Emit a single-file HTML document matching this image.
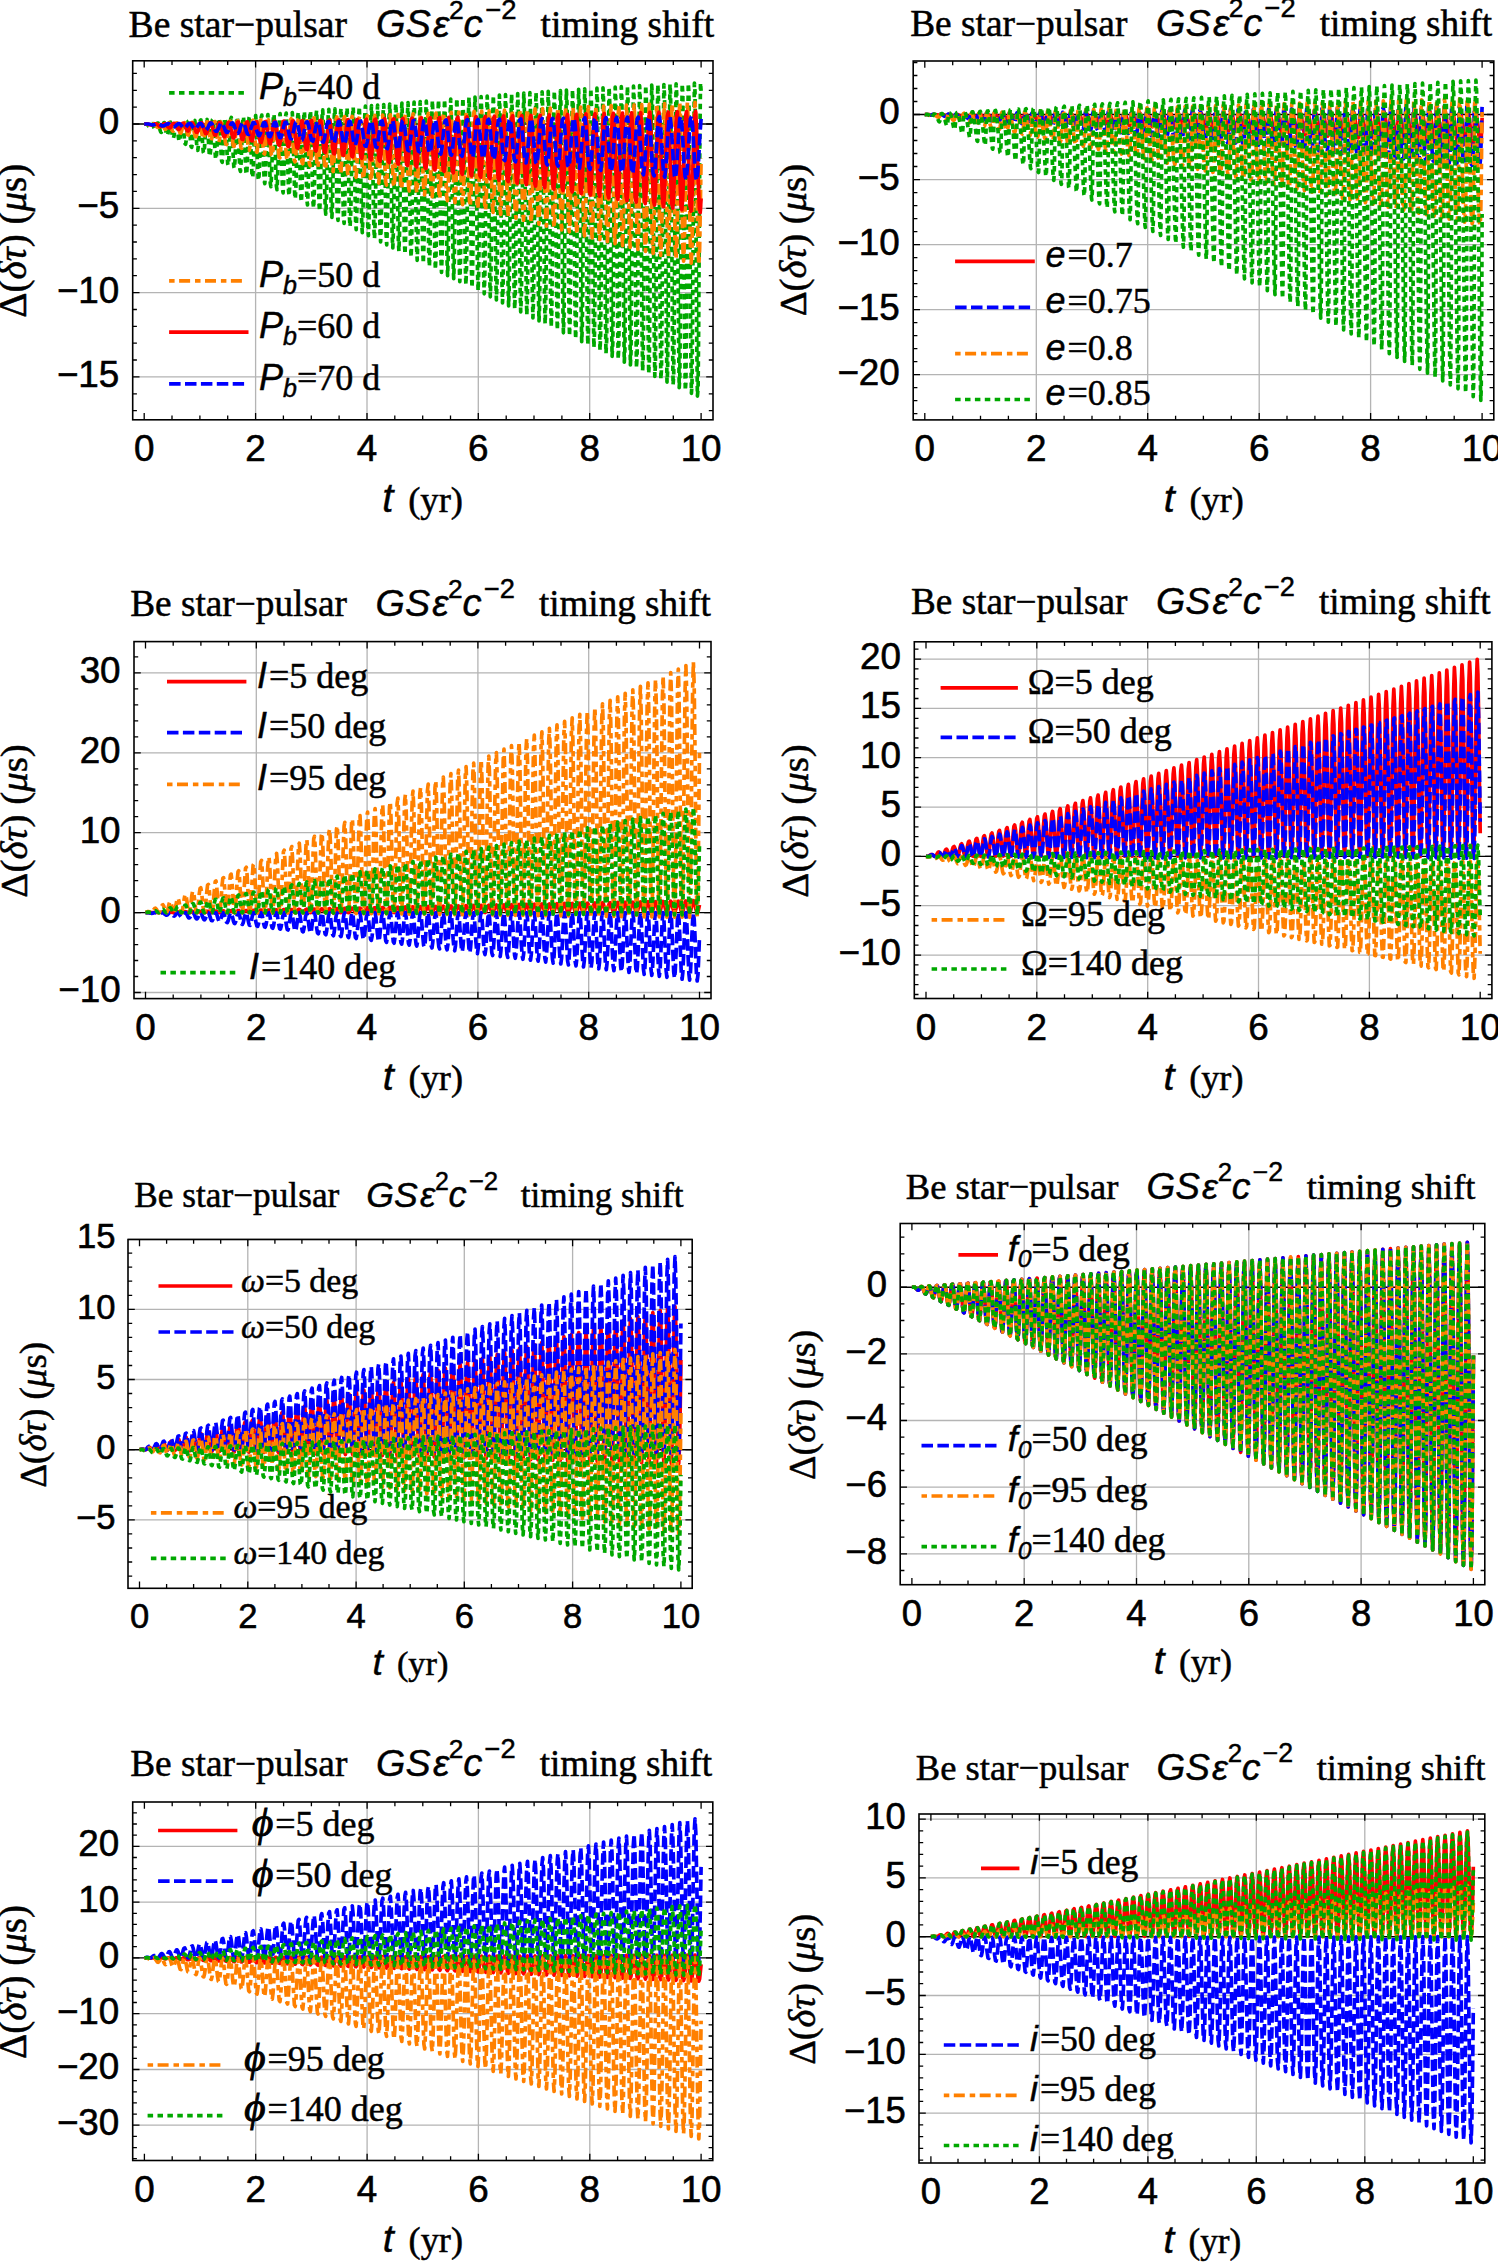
<!DOCTYPE html><html><head><meta charset="utf-8"><style>html,body{margin:0;padding:0;background:#fff;width:1498px;height:2262px;overflow:hidden;}svg{display:block;} svg text{stroke:#000;stroke-width:.6px;} [font-family*="Liberation Serif"]{stroke-width:.5px;} [font-family*="Liberation Sans"]{stroke-width:.45px;}</style></head><body>
<svg width="1498" height="2262" viewBox="0 0 1498 2262">
<rect width="1498" height="2262" fill="#fff"/>
<path d="M255.6 60.8V419.8M367.0 60.8V419.8M478.3 60.8V419.8M589.7 60.8V419.8M132.7 208.3H713.0M132.7 292.6H713.0M132.7 376.9H713.0" stroke="#b4b4b4" stroke-width="1.3" fill="none"/>
<path d="M132.7 124.0H713.0" stroke="#000" stroke-width="1.4" fill="none"/>
<path d="M144.2 124l.6 0 .6-.1 .6 0 .6 .2 .6 .5 .7 .8 .6 .7 .6 .3 .6-.3 .6-.8 .6-1 .6-.8 .6 0 .6 .8 .6 1.6 .6 1.8 .7 1.3 .6 .3 .6-.9 .6-1.8 .6-2.1 .6-1.4 .6-.1 .6 1.5 .6 2.6 .6 2.9 .7 2 .6 .3 .6-1.5 .6-2.9 .6-3.1 .6-2.1 .6-.1 .6 2.1 .6 3.6 .6 3.9 .6 2.7 .7 .4 .6-2.1 .6-3.9 .6-4.2 .6-2.8 .6-.1 .6 2.7 .6 4.6 .6 5 .6 3.3 .6 .5 .7-2.8 .6-4.9 .6-5.2 .6-3.4 .6-.3 .6 3.3 .6 5.7 .6 6 .6 4 .6 .6 .6-3.4 .7-5.9 .6-6.3 .6-4.1 .6-.3 .6 3.8 .6 6.7 .6 7.1 .6 4.8 .6 .6 .6-3.9 .7-7 .6-7.3 .6-4.9 .6-.4 .6 4.5 .6 7.6 .6 8.2 .6 5.5 .6 .7 .6-4.5 .6-7.9 .7-8.4 .6-5.6 .6-.5 .6 5 .6 8.6 .6 9.2 .6 6.3 .6 .8 .6-5 .6-9 .6-9.5 .7-6.3 .6-.6 .6 5.5 .6 9.7 .6 10.3 .6 6.9 .6 1 .6-5.6 .6-9.9 .6-10.6 .6-7 .7-.8 .6 6.1 .6 10.7 .6 11.3 .6 7.7 .6 1.1 .6-6.1 .6-10.9 .6-11.6 .6-7.9 .7-.8 .6 6.6 .6 11.6 .6 12.5 .6 8.4 .6 1.2 .6-6.6 .6-11.9 .6-12.7 .6-8.6 .6-1 .7 7.1 .6 12.6 .6 13.5 .6 9.3 .6 1.3 .6-7.1 .6-12.9 .6-13.7 .6-9.4 .6-1.2 .6 7.6 .7 13.6 .6 14.6 .6 10 .6 1.6 .6-7.6 .6-13.9 .6-14.9 .6-10.1 .6-1.4 .6 8.1 .6 14.6 .7 15.7 .6 10.8 .6 1.7 .6-8.1 .6-14.8 .6-16 .6-10.9 .6-1.6 .6 8.6 .6 15.6 .7 16.7 .6 11.6 .6 1.9 .6-8.5 .6-15.8 .6-17.1 .6-11.7 .6-1.7 .6 9 .6 16.5 .6 17.9 .7 12.3 .6 2.2 .6-9 .6-16.8 .6-18.1 .6-12.5 .6-2 .6 9.4 .6 17.5 .6 19 .6 13.1 .7 2.4 .6-9.4 .6-17.7 .6-19.3 .6-13.3 .6-2.2 .6 9.9 .6 18.4 .6 20 .6 14 .6 2.6 .7-9.8 .6-18.7 .6-20.3 .6-14.2 .6-2.4 .6 10.3 .6 19.4 .6 21.1 .6 14.8 .6 2.9 .7-10.3 .6-19.6 .6-21.4 .6-15 .6-2.7 .6 10.7 .6 20.3 .6 22.2 .6 15.7 .6 3.2 .6-10.8 .7-20.5 .6-22.5 .6-15.9 .6-3 .6 11.2 .6 21.3 .6 23.3 .6 16.5 .6 3.4 .6-11.1 .6-21.5 .7-23.6 .6-16.7 .6-3.3 .6 11.6 .6 22.2 .6 24.4 .6 17.4 .6 3.7 .6-11.5 .6-22.4 .6-24.7 .7-17.6 .6-3.6 .6 12 .6 23 .6 25.6 .6 18.2 .6 4 .6-11.9 .6-23.2 .6-25.9 .7-18.4 .6-3.9 .6 12.3 .6 24 .6 26.6 .6 19.2 .6 4.3 .6-12.3 .6-24.1 .6-27 .6-19.3 .7-4.2 .6 12.7 .6 24.9 .6 27.7 .6 20 .6 4.7 .6-12.6 .6-25.1 .6-28.1 .6-20.2 .6-4.5 .7 13 .6 25.8 .6 28.8 .6 20.9 .6 5 .6-12.9 .6-26 .6-29.1 .6-21.2 .6-4.9 .6 13.4 .7 26.7 .6 29.9 .6 21.8 .6 5.4 .6-13.3 .6-26.8 .6-30.3 .6-22 .6-5.3 .6 13.7 .7 27.6 .6 31 .6 22.7 .6 5.8 .6-13.6 .6-27.8 .6-31.3 .6-23 .6-5.6 .6 14 .6 28.4 .7 32.2 .6 23.6 .6 6.1 .6-13.9 .6-28.6 .6-32.4 .6-23.9 .6-6 .6 14.3 .6 29.3 .6 33.2 .7 24.6 .6 6.5 .6-14.2 .6-29.5 .6-33.5 .6-24.8 .6-6.5 .6 14.6 .6 30.2 .6 34.4 .6 25.5 .7 6.9 .6-14.5 .6-30.3 .6-34.7 .6-25.7 .6-6.9 .6 14.9 .6 31 .6 35.5 .6 26.4 .7 7.3 .6-14.7 .6-31.2 .6-35.8 .6-26.6 .6-7.3 .6 15.1 .6 31.9 .6 36.6 .6 27.4 .6 7.7 .7-15 .6-32 .6-36.9 .6-27.6 .6-7.7 .6 15.3 .6 32.7 .6 37.7 .6 28.4 .6 8.2 .6-15.2 .7-32.9 .6-38 .6-28.6 .6-8.2 .6 15.6 .6 33.6 .6 38.8 .6 29.3 .6 8.7 .6-15.5 .6-33.7 .7-39.1 .6-29.6 .6-8.6 .6 15.8 .6 34.4 .6 39.9 .6 30.3 .6 9.1 .6-15.6 .6-34.5 .7-40.3 .6-30.5 .6-9.1 .6 16 .6 35.2 .6 41 .6 31.3 .6 9.6 .6-15.9 .6-35.3 .6-41.3 .7-31.6 .6-9.5 .6 16.2 .6 36 .6 42.1 .6 32.3 .6 10.1 .6-16.1 .6-36.1 .6-42.5 .6-32.5 .7-10.1 .6 16.4 .6 36.8 .6 43.3 .6 33.3 .6 10.5 .6-16.2 .6-36.9 .6-43.6 .6-33.5 .6-10.6 .7 16.6 .6 37.5 .6 44.4 .6 34.3 .6 11.1 .6-16.4 .6-37.7 .6-44.7 .6-34.5 .6-11.1 .7 16.7 .6 38.4 .6 45.4 .6 35.3 .6 11.7 .6-16.6 .6-38.5 .6-45.7 .6-35.6 .6-11.6 .6 16.8 .7 39.2 .6 46.5 .6 36.4 .6 12.1 .6-16.6 .6-39.3 .6-46.9 .6-36.6 .6-12.2 .6 17 .6 39.9 .7 47.7 .6 37.4 .6 12.7 .6-16.8 .6-40 .6-48 .6-37.6 .6-12.8 .6 17.1 .6 40.7 .6 48.8 .7 38.4 .6 13.3 .6-16.9 .6-40.8 .6-49.1 .6-38.7 .6-13.3 .6 17.2 .6 41.4 .6 49.9 .7 39.5 .6 13.8 .6-17 .6-41.5 .6-50.2 .6-39.7 .6-13.9 .6 17.3 .6 42.2 .6 51 .6 40.4 .7 14.5 .6-17.1 .6-42.3 .6-51.3 .6-40.7 .6-14.5 .6 17.4 .6 42.9 .6 52.1 .6 41.5 .6 15.1 .7-17.2 .6-43 .6-52.4 .6-41.8 .6-15.1 .6 17.4 .6 43.6 .6 53.2 .6 42.6 .6 15.7 .6-17.2 .7-43.7 .6-53.5 .6-42.9 .6-15.7 .6 17.5 .6 44.3 .6 54.3 .6 43.6 .6 16.4 .6-17.3 .6-44.4 .7-54.6 .6-44 .6-16.3 .6 17.5 .6 45 .6 55.4 .6 44.7 .6 17 .6-17.3 .6-45.1 .7-55.7 .6-45 .6-17 .6 17.6 .6 45.6 .6 56.5 .6 45.8 .6 17.7 .6-17.4 .6-45.8 .6-56.8 .7-46.1 .6-17.6 .6 17.6 .6 46.3 .6 57.6 .6 46.9 .6 18.3 .6-17.4 .6-46.4 .6-57.9 .6-47.2 .7-18.3 .6 17.6 .6 47 .6 58.7 .6 48 .6 18.9 .6-17.3 .6-47.2 .6-58.9 .6-48.3 .6-19 .7 17.6 .6 47.7 .6 59.8 .6 49 .6 19.7 .6-17.4 .6-47.8 .6-60 .6-49.4 .6-19.7 .7 17.6 .6 48.3 .6 60.9 .6 50.2 .6 20.3 .6-17.3 .6-48.4 .6-61.2 .6-50.5 .6-20.4 .6 17.5 .7 49.1 .6 61.9 .6 51.3 .6 21 .6-17.2 .6-49.1 .6-62.2 .6-51.6 .6-21.2 .6 17.5 .6 49.7 .7 63 .6 52.4 .6 21.8 .6-17.2 .6-49.8 .6-63.3 .6-52.7 .6-21.9 .6 17.5 .6 50.3 .6 64 .7 53.6 .6 22.5 .6-17.2 .6-50.3 .6-64.4 .6-53.8 .6-22.6 .6 17.3 .6 50.9 .6 65.2 .7 54.6 .6 23.3 .6-17.1 .6-50.9 .6-65.5 .6-54.9 .6-23.4 .6 17.3 .6 51.5 .6 66.2 .6 55.8 .7 24 .6-17 .6-51.5 .6-66.5 .6-56.1 .6-24.2 .6 17.2 .6 52.1 .6 67.3 .6 56.9 .6 24.8 .7-16.8 .6-52.2 .6-67.6 .6-57.2 .6-24.9 .6 17 .6 52.7 .6 68.4 .6 58 .6 25.6 .6-16.7 .7-52.7 .6-68.7 .6-58.4 .6-25.7 .6 16.9 .6 53.3 .6 69.5 .6 59.1 .6 26.4 .6-16.6 .7-53.3 .6-69.7 .6-59.5 .6-26.5 .6 16.7 .6 53.9 .6 70.5 .6 60.3 .6 27.2 .6-16.4 .6-53.9 .7-70.8 .6-60.6 .6-27.4 .6 16.7 .6 54.3 .6 71.6 .6 61.5 .6 28 .6-16.3 .6-54.4 .6-71.8 .7-61.9 .6-28.1 .6 16.4 .6 55 .6 72.6 .6 62.7 .6 28.8 .6-16.1 .6-55 .6-72.9 .6-63 .7-28.9 .6 16.2 .6 55.5 .6 73.7 .6 63.8 .6 29.6 .6-15.9 .6-55.5 .6-73.9 .6-64.1 .7-29.9 .6 16.1 .6 56 .6 74.7 .6 65 .6 30.5 .6-15.7 .6-56 .6-75 .6-65.3 .6-30.7 .7 15.9 .6 56.5 .6 75.7 .6 66.2 .6 31.4 .6-15.5 .6-56.5 .6-76 .6-66.6 .6-31.5 .6 15.7 .7 57 .6 76.7 .6 67.4 .6 32.2 .6-15.3 .6-57 .6-77 .6-67.7 .6-32.4 .6 15.4 .6 57.5 .7 77.8 .6 68.6 .6 33.1 .6-15.1 .6-57.4 .6-78.1 .6-68.9 .6-33.3 .6 15.2 .6 57.9 .7 78.9 .6 69.7 .6 34 .6-14.8 .6-57.9 .6-79.1 .6-70.1 .6-34.2 .6 14.9 .6 58.5 .6 79.8 .7 70.9 .6 34.9 .6-14.5 .6-58.4 .6-80.1 .6-71.3 .6-35 .6 14.6 .6 58.9 .6 80.8 .6 72.1 .7 35.8 .6-14.2 .6-58.8 .6-81.2 .6-72.4 .6-36 .6 14.3 .6 59.3 .6 81.9 .6 73.3 .6 36.8 .7-13.9 .6-59.4 .6-82.1 .6-73.7 .6-36.9 .6 14 .6 59.8 .6 82.9 .6 74.5 .6 37.7 .7-13.6 .6-59.8 .6-83.1 .6-74.9 .6-37.8 .6 13.6 .6 60.3 .6 83.9 .6 75.7 .6 38.6 .6-13.3 .7-60.2 .6-84.1 .6-76.1 .6-38.8 .6 13.4 .6 60.6 .6 84.9 .6 76.9 .6 39.6 .6-13 .6-60.5 .7-85.2 .6-77.3 .6-39.7 .6 13 .6 61 .6 85.9 .6 78.1 .6 40.5 .6-12.5 .6-61 .6-86.2 .7-78.4 .6-40.8 .6 12.7 .6 61.4 .6 86.9 .6 79.3 .6 41.5 .6-12.2 .6-61.3 .6-87.2 .7-79.7 .6-41.7 .6 12.3 .6 61.8 .6 87.9 .6 80.5 .6 42.5 .6-11.9 .6-61.7 .6-88.1 .6-80.9 .7-42.7 .6 11.9 .6 62.1 .6 88.9 .6 81.8 .6 43.4 .6-11.4 .6-62.1 .6-89.1 .6-82.1 .6-43.7 .7 11.5 .6 62.5 .6 89.8 .6 83 .6 44.5 .6-11.1 .6-62.4 .6-90 .6-83.4 .6-44.7 .6 11.1 .7 62.8 .6 90.8 .6 84.2 .6 45.5 .6-10.6 .6-62.8 .6-91 .6-84.6 .6-45.7 .6 10.7 .7 63.1 .6 91.8 .6 85.4 .6 46.6 .6-10.2 .6-63.1 .6-92 .6-85.8 .6-46.8 .6 10.2 .6 63.5 .7 92.8 .6 86.6 .6 47.6 .6-9.8 .6-63.4 .6-92.9 .6-87 .6-47.9 .6 9.8 .6 63.8 .6 93.7 .7 87.9 .6 48.6 .6-9.3 .6-63.7 .6-93.9 .6-88.2 .6-48.9 .6 9.3 .6 64.1 .6 94.6 .6 89.1 .7 49.7 .6-8.8 .6-64 .6-94.8 .6-89.5 .6-50 .6 8.9 .6 64.4 .6 95.5 .6 90.4 .7 50.7 .6-8.3 .6-64.3 .6-95.8 .6-90.7 .6-51 .6 8.3 .6 64.7 .6 96.5 .6 91.6 .6 51.8 .7-7.9 .6-64.5 .6-96.7 .6-92 .6-52 .6 7.8" stroke="#00a800" stroke-width="3.7" fill="none" stroke-linejoin="round" stroke-dasharray="5.5 4.4"/>
<path d="M144.2 124l.8 0 .7 0 .8-.1 .7 .2 .8 .3 .8 .5 .7 .4 .8 .2 .8-.2 .7-.5 .8-.6 .7-.5 .8 0 .8 .5 .7 1 .8 1.2 .8 .8 .7 .2 .8-.6 .7-1.1 .8-1.3 .8-.9 .7-.1 .8 1 .7 1.6 .8 1.8 .8 1.3 .7 .2 .8-1 .8-1.8 .7-2 .8-1.3 .7 0 .8 1.3 .8 2.3 .7 2.5 .8 1.6 .7 .3 .8-1.4 .8-2.4 .7-2.7 .8-1.7 .8-.1 .7 1.7 .8 3 .7 3.1 .8 2.1 .8 .3 .7-1.8 .8-3.1 .8-3.3 .7-2.1 .8-.1 .7 2.1 .8 3.6 .8 3.7 .7 2.6 .8 .3 .7-2.2 .8-3.7 .8-4 .7-2.6 .8-.1 .8 2.5 .7 4.2 .8 4.5 .7 2.9 .8 .4 .8-2.5 .7-4.4 .8-4.7 .8-3 .7-.2 .8 2.9 .7 4.9 .8 5.1 .8 3.4 .7 .4 .8-2.9 .7-5 .8-5.3 .8-3.5 .7-.2 .8 3.2 .8 5.5 .7 5.8 .8 3.9 .7 .4 .8-3.3 .8-5.6 .7-6 .8-3.9 .8-.3 .7 3.6 .8 6.1 .7 6.5 .8 4.3 .8 .5 .7-3.6 .8-6.3 .7-6.7 .8-4.3 .8-.4 .7 4 .8 6.8 .8 7.1 .7 4.8 .8 .5 .7-4 .8-6.9 .8-7.3 .7-4.8 .8-.4 .7 4.2 .8 7.5 .8 7.8 .7 5.2 .8 .6 .8-4.3 .7-7.6 .8-8 .7-5.3 .8-.4 .8 4.6 .7 8.1 .8 8.5 .8 5.7 .7 .6 .8-4.6 .7-8.2 .8-8.7 .8-5.8 .7-.5 .8 5 .7 8.7 .8 9.1 .8 6.2 .7 .7 .8-4.9 .8-8.9 .7-9.3 .8-6.3 .7-.6 .8 5.3 .8 9.4 .7 9.8 .8 6.6 .8 .9 .7-5.4 .8-9.4 .7-10.1 .8-6.6 .8-.8 .7 5.7 .8 9.9 .7 10.6 .8 7.1 .8 .9 .7-5.7 .8-10.1 .8-10.7 .7-7.1 .8-.8 .7 5.9 .8 10.6 .8 11.2 .7 7.6 .8 1 .7-6 .8-10.7 .8-11.4 .7-7.6 .8-.9 .8 6.3 .7 11.2 .8 11.8 .7 8.1 .8 1.1 .8-6.3 .7-11.3 .8-12.1 .8-8.1 .7-1 .8 6.6 .7 11.8 .8 12.6 .8 8.5 .7 1.3 .8-6.7 .7-11.9 .8-12.8 .8-8.6 .7-1.1 .8 6.9 .8 12.4 .7 13.3 .8 9 .7 1.4 .8-6.9 .8-12.6 .7-13.4 .8-9.2 .8-1.2 .7 7.2 .8 13.1 .7 13.9 .8 9.5 .8 1.5 .7-7.2 .8-13.2 .7-14.1 .8-9.6 .8-1.4 .7 7.5 .8 13.7 .8 14.6 .7 10.1 .8 1.5 .7-7.5 .8-13.8 .8-14.8 .7-10.1 .8-1.5 .8 7.8 .7 14.3 .8 15.3 .7 10.6 .8 1.7 .8-7.8 .7-14.4 .8-15.5 .7-10.7 .8-1.6 .8 8.1 .7 14.9 .8 16 .8 11.1 .7 1.8 .8-8.1 .7-15 .8-16.2 .8-11.1 .7-1.8 .8 8.4 .7 15.5 .8 16.7 .8 11.5 .7 2.1 .8-8.4 .8-15.6 .7-16.9 .8-11.7 .7-1.9 .8 8.7 .8 16.1 .7 17.3 .8 12.1 .8 2.2 .7-8.7 .8-16.2 .7-17.5 .8-12.2 .8-2.1 .7 9 .8 16.6 .7 18.1 .8 12.6 .8 2.3 .7-8.9 .8-16.8 .8-18.3 .7-12.7 .8-2.2 .7 9.2 .8 17.3 .8 18.8 .7 13.1 .8 2.5 .8-9.2 .7-17.4 .8-19 .7-13.2 .8-2.4 .8 9.5 .7 17.8 .8 19.5 .7 13.7 .8 2.6 .8-9.4 .7-18 .8-19.7 .8-13.7 .7-2.6 .8 9.7 .7 18.5 .8 20.1 .8 14.3 .7 2.8 .8-9.8 .7-18.5 .8-20.4 .8-14.3 .7-2.7 .8 10 .8 19 .7 20.9 .8 14.7 .7 3 .8-10 .8-19.1 .7-21.1 .8-14.8 .8-2.9 .7 10.2 .8 19.6 .7 21.6 .8 15.3 .8 3.2 .7-10.3 .8-19.7 .7-21.7 .8-15.4 .8-3.1 .7 10.5 .8 20.1 .8 22.3 .7 15.8 .8 3.4 .7-10.5 .8-20.3 .8-22.4 .7-15.9 .8-3.3 .8 10.7 .7 20.8 .8 22.9 .7 16.4 .8 3.5 .8-10.6 .7-20.9 .8-23.2 .7-16.5 .8-3.5 .8 11 .7 21.3 .8 23.7 .8 16.9 .7 3.8 .8-10.9 .7-21.5 .8-23.8 .8-17.1 .7-3.7 .8 11.2 .8 21.9 .7 24.4 .8 17.5 .7 3.9 .8-11.1 .8-22 .7-24.5 .8-17.7 .7-3.9 .8 11.4 .8 22.5 .7 25 .8 18.1 .8 4.2 .7-11.4 .8-22.6 .7-25.2 .8-18.2 .8-4.1 .7 11.6 .8 23.1 .7 25.7 .8 18.6 .8 4.4 .7-11.5 .8-23.2 .8-25.9 .7-18.8 .8-4.3 .7 11.8 .8 23.6 .8 26.5 .7 19.2 .8 4.6 .8-11.8 .7-23.7 .8-26.6 .7-19.3 .8-4.6 .8 12 .7 24.2 .8 27.1 .7 19.8 .8 4.9 .8-12 .7-24.3 .8-27.3 .8-19.9 .7-4.8 .8 12.2 .7 24.7 .8 27.9 .8 20.3 .7 5.1 .8-12.2 .8-24.8 .7-28 .8-20.5 .7-5.1 .8 12.5 .8 25.2 .7 28.6 .8 20.9 .7 5.4 .8-12.4 .8-25.4 .7-28.7 .8-21.1 .8-5.3 .7 12.6 .8 25.9 .7 29.2 .8 21.5 .8 5.6 .7-12.5 .8-26 .8-29.4 .7-21.6 .8-5.6 .7 12.8 .8 26.4 .8 29.9 .7 22.1 .8 5.9 .7-12.8 .8-26.4 .8-30.1 .7-22.3 .8-5.8 .8 13 .7 26.9 .8 30.6 .7 22.7 .8 6.1 .8-12.9 .7-27 .8-30.8 .7-22.9 .8-6 .8 13.1 .7 27.5 .8 31.3 .8 23.3 .7 6.4 .8-13.1 .7-27.5 .8-31.6 .8-23.4 .7-6.3 .8 13.3 .8 27.9 .7 32.1 .8 23.9 .7 6.6 .8-13.2 .8-28.1 .7-32.2 .8-24.1 .7-6.6 .8 13.5 .8 28.5 .7 32.8 .8 24.5 .8 6.9 .7-13.4 .8-28.6 .7-32.9 .8-24.7 .8-6.9 .7 13.6 .8 29.1 .8 33.4 .7 25.2 .8 7.1 .7-13.5 .8-29.1 .8-33.7 .7-25.2 .8-7.2 .7 13.8 .8 29.5 .8 34.2 .7 25.7 .8 7.5 .8-13.7 .7-29.6 .8-34.4 .7-25.9 .8-7.4 .8 13.9 .7 30.1 .8 34.8 .7 26.4 .8 7.8 .8-13.9 .7-30.1 .8-35.1 .8-26.5 .7-7.7 .8 14 .7 30.6 .8 35.6 .8 26.9 .7 8.1 .8-13.9 .8-30.7 .7-35.8 .8-27.1 .7-8 .8 14.1 .8 31.1 .7 36.3 .8 27.6 .7 8.4 .8-14.1 .8-31.2 .7-36.5 .8-27.7 .8-8.4 .7 14.3 .8 31.7 .7 36.9 .8 28.2 .8 8.7 .7-14.2 .8-31.7 .8-37.1 .7-28.4 .8-8.7 .7 14.4 .8 32.2 .8 37.6 .7 28.9 .8 9 .7-14.3 .8-32.3 .8-37.8 .7-29 .8-9 .8 14.5 .7 32.7 .8 38.3 .7 29.5 .8 9.3 .8-14.4 .7-32.7 .8-38.6 .8-29.6 .7-9.3 .8 14.6 .7 33.2 .8 39 .8 30.1 .7 9.7 .8-14.5 .7-33.3 .8-39.2 .8-30.3 .7-9.6 .8 14.7 .8 33.6 .7 39.8 .8 30.8 .7 9.9 .8-14.6 .8-33.7 .7-40 .8-30.9 .7-9.9 .8 14.8 .8 34.1 .7 40.5 .8 31.4 .8 10.3 .7-14.7 .8-34.2 .7-40.7 .8-31.5 .8-10.4 .7 15 .8 34.6 .8 41.1 .7 32.1 .8 10.6 .7-14.8 .8-34.7 .8-41.3 .7-32.2 .8-10.7 .7 15 .8 35.1 .8 41.9 .7 32.7 .8 11 .8-14.9 .7-35.2 .8-42 .7-32.9 .8-11 .8 15.1 .7 35.6 .8 42.5 .8 33.4 .7 11.3 .8-14.9 .7-35.7 .8-42.7 .8-33.5 .7-11.4 .8 15.2 .7 36 .8 43.3 .8 34 .7 11.7 .8-15 .8-36.2 .7-43.4 .8-34.2 .7-11.7 .8 15.2 .8 36.5 .7 44 .8 34.6 .7 12.1 .8-15.1 .8-36.6 .7-44.1 .8-34.8 .8-12.1 .7 15.3 .8 37 .7 44.6 .8 35.3 .8 12.5 .7-15.2 .8-37 .8-44.9 .7-35.4 .8-12.5 .7 15.3 .8 37.5 .8 45.3 .7 36 .8 12.8 .7-15.2 .8-37.5 .8-45.5 .7-36.2 .8-12.8 .8 15.4 .7 37.9 .8 46 .7 36.7 .8 13.2 .8-15.3 .7-38 .8-46.2 .8-36.8 .7-13.3 .8 15.5 .7 38.4 .8 46.7 .8 37.3 .7 13.6 .8-15.3 .7-38.4 .8-46.9 .8-37.5 .7-13.7 .8 15.5 .8 38.9 .7 47.4 .8 38 .7 14 .8-15.4 .8-38.8 .7-47.7 .8-38.1 .8-14.1 .7 15.6 .8 39.2 .7 48.2 .8 38.6 .8 14.4 .7-15.3 .8-39.4 .7-48.3 .8-38.8 .8-14.5 .7 15.6 .8 39.7 .8 48.8 .7 39.3 .8 14.9 .7-15.4 .8-39.8 .8-49 .7-39.5 .8-14.9 .7 15.6 .8 40.2 .8 49.5 .7 40 .8 15.2 .8-15.4 .7-40.2 .8-49.7 .7-40.2 .8-15.3 .8 15.6 .7 40.6 .8 50.2 .8 40.7 .7 15.6 .8-15.4 .7-40.6 .8-50.4" stroke="#ff8000" stroke-width="3.7" fill="none" stroke-linejoin="round" stroke-dasharray="5.5 4.5 11 4.9"/>
<path d="M144.2 124l.9 0 .9 0 .9-.1 1 .2 .9 .2 .9 .4 .9 .3 .9 .1 .9-.1 .9-.4 1-.5 .9-.3 .9 0 .9 .4 .9 .7 .9 .9 .9 .6 1 .2 .9-.5 .9-.8 .9-1 .9-.7 .9 0 .9 .7 1 1.2 .9 1.4 .9 .9 .9 .2 .9-.7 .9-1.4 .9-1.5 1-1 .9 0 .9 1 .9 1.8 .9 1.8 .9 1.3 .9 .1 1-1 .9-1.9 .9-2 .9-1.2 .9-.1 .9 1.3 1 2.3 .9 2.3 .9 1.6 .9 .2 .9-1.4 .9-2.3 .9-2.5 1-1.6 .9-.1 .9 1.6 .9 2.8 .9 2.8 .9 1.9 .9 .2 1-1.6 .9-2.9 .9-3 .9-1.9 .9-.1 .9 1.9 .9 3.3 1 3.3 .9 2.2 .9 .2 .9-1.9 .9-3.3 .9-3.5 .9-2.3 1 0 .9 2.1 .9 3.7 .9 3.9 .9 2.5 .9 .3 .9-2.2 1-3.9 .9-4 .9-2.5 .9-.1 .9 2.4 .9 4.2 .9 4.4 1 2.9 .9 .2 .9-2.5 .9-4.3 .9-4.5 .9-2.9 .9-.1 1 2.7 .9 4.7 .9 4.9 .9 3.2 .9 .2 .9-2.7 .9-4.9 1-4.9 .9-3.3 .9-.1 .9 3 .9 5.2 .9 5.4 .9 3.5 1 .3 .9-3.1 .9-5.3 .9-5.5 .9-3.5 .9-.2 .9 3.3 1 5.7 .9 5.8 .9 3.9 .9 .3 .9-3.3 .9-5.8 .9-6 1-3.9 .9-.2 .9 3.6 .9 6.1 .9 6.4 .9 4.2 .9 .4 1-3.7 .9-6.2 .9-6.5 .9-4.3 .9-.2 .9 3.9 1 6.6 .9 6.9 .9 4.5 .9 .4 .9-3.9 .9-6.8 .9-7 1-4.5 .9-.3 .9 4.2 .9 7.1 .9 7.4 .9 4.8 .9 .4 1-4.1 .9-7.3 .9-7.5 .9-4.9 .9-.3 .9 4.4 .9 7.6 1 7.9 .9 5.2 .9 .5 .9-4.5 .9-7.7 .9-8 .9-5.2 1-.4 .9 4.7 .9 8.1 .9 8.4 .9 5.5 .9 .5 .9-4.7 1-8.2 .9-8.5 .9-5.6 .9-.4 .9 5 .9 8.5 .9 8.9 1 5.9 .9 .6 .9-5 .9-8.7 .9-9 .9-5.9 .9-.5 1 5.2 .9 9.1 .9 9.4 .9 6.2 .9 .6 .9-5.2 .9-9.2 1-9.5 .9-6.3 .9-.5 .9 5.5 .9 9.5 .9 9.9 .9 6.6 1 .7 .9-5.5 .9-9.7 .9-10 .9-6.6 .9-.6 .9 5.8 1 10 .9 10.4 .9 6.9 .9 .7 .9-5.8 .9-10.1 .9-10.5 1-7 .9-.6 .9 6 .9 10.5 .9 10.9 .9 7.3 1 .8 .9-6.1 .9-10.5 .9-11.1 .9-7.3 .9-.7 .9 6.3 1 10.9 .9 11.5 .9 7.6 .9 .8 .9-6.3 .9-11 .9-11.6 1-7.7 .9-.7 .9 6.5 .9 11.4 .9 12 .9 8 .9 .9 1-6.6 .9-11.5 .9-12.1 .9-8 .9-.8 .9 6.8 .9 11.9 1 12.4 .9 8.4 .9 .9 .9-6.8 .9-12 .9-12.6 .9-8.4 1-.8 .9 7 .9 12.4 .9 13 .9 8.7 .9 1 .9-7.1 1-12.4 .9-13.2 .9-8.7 .9-1 .9 7.3 .9 12.9 .9 13.5 1 9 .9 1.1 .9-7.3 .9-12.9 .9-13.6 .9-9.1 .9-1.1 1 7.6 .9 13.3 .9 14 .9 9.4 .9 1.2 .9-7.5 .9-13.5 1-14.1 .9-9.5 .9-1.1 .9 7.8 .9 13.8 .9 14.5 .9 9.8 1 1.3 .9-7.8 .9-13.9 .9-14.7 .9-9.8 .9-1.2 .9 8 1 14.3 .9 15 .9 10.2 .9 1.3 .9-8 .9-14.4 .9-15.1 1-10.3 .9-1.2 .9 8.3 .9 14.7 .9 15.6 .9 10.5 1 1.4 .9-8.3 .9-14.8 .9-15.7 .9-10.6 .9-1.3 .9 8.5 1 15.2 .9 16.1 .9 10.8 .9 1.5 .9-8.5 .9-15.2 .9-16.3 1-10.9 .9-1.4 .9 8.7 .9 15.6 .9 16.7 .9 11.2 .9 1.6 1-8.7 .9-15.8 .9-16.7 .9-11.3 .9-1.5 .9 8.9 .9 16.1 1 17.2 .9 11.6 .9 1.7 .9-9 .9-16.2 .9-17.3 .9-11.7 1-1.6 .9 9.2 .9 16.6 .9 17.7 .9 12 .9 1.7 .9-9.2 1-16.6 .9-17.8 .9-12.1 .9-1.7 .9 9.4 .9 17.1 .9 18.1 1 12.4 .9 1.9 .9-9.4 .9-17.2 .9-18.3 .9-12.4 .9-1.8 1 9.7 .9 17.4 .9 18.7 .9 12.8 .9 2 .9-9.7 .9-17.6 1-18.8 .9-12.8 .9-1.9 .9 9.9 .9 17.9 .9 19.2 .9 13.2 1 2 .9-9.8 .9-18.1 .9-19.3 .9-13.3 .9-1.9 .9 10.1 1 18.4 .9 19.7 .9 13.5 .9 2.2 .9-10.1 .9-18.5 .9-19.9 1-13.6 .9-2.1 .9 10.4 .9 18.8 .9 20.3 .9 13.9 1 2.2 .9-10.2 .9-19 .9-20.4 .9-14 .9-2.2 .9 10.6 1 19.3 .9 20.7 .9 14.3 .9 2.4 .9-10.5 .9-19.4 .9-20.9 1-14.4 .9-2.3 .9 10.7 .9 19.8 .9 21.3 .9 14.7 .9 2.5 1-10.7 .9-19.9 .9-21.4 .9-14.8 .9-2.4 .9 10.9 .9 20.2 1 21.9 .9 15.1 .9 2.6 .9-11 .9-20.3 .9-21.9 .9-15.2 1-2.5 .9 11.1 .9 20.7 .9 22.3 .9 15.5 .9 2.7 .9-11.1 1-20.8 .9-22.5 .9-15.5 .9-2.7 .9 11.4 .9 21.1 .9 22.9 1 15.9 .9 2.8 .9-11.4 .9-21.2 .9-23 .9-15.9 .9-2.8 1 11.6 .9 21.5 .9 23.4 .9 16.3 .9 3 .9-11.6 .9-21.6 1-23.6 .9-16.3 .9-2.9 .9 11.8 .9 22 .9 23.9 .9 16.7 1 3 .9-11.7 .9-22.1 .9-24.1 .9-16.7 .9-3 .9 11.9 1 22.5 .9 24.4 .9 17.1 .9 3.2 .9-11.9 .9-22.6 1-24.6 .9-17.1 .9-3.2 .9 12.2 .9 22.9 .9 25 .9 17.4 1 3.4 .9-12.2 .9-23 .9-25.1 .9-17.5 .9-3.3 .9 12.4 1 23.3 .9 25.5 .9 17.9 .9 3.4 .9-12.3 .9-23.4 .9-25.6 1-18 .9-3.4 .9 12.5 .9 23.8 .9 26 .9 18.3 .9 3.6 1-12.5 .9-23.9 .9-26.1 .9-18.4 .9-3.5 .9 12.7 .9 24.2 1 26.5 .9 18.8 .9 3.7 .9-12.7 .9-24.3 .9-26.7 .9-18.8 1-3.7 .9 12.9 .9 24.7 .9 27.1 .9 19.1 .9 3.9 .9-12.9 1-24.8 .9-27.2 .9-19.2 .9-3.8 .9 13.1 .9 25.1 .9 27.6 1 19.5 .9 4 .9-13 .9-25.2 .9-27.8 .9-19.6 .9-3.9 1 13.3 .9 25.5 .9 28.1 .9 20 .9 4.1 .9-13.2 .9-25.7 1-28.2 .9-20.1 .9-4.1 .9 13.5 .9 26 .9 28.6 .9 20.4 1 4.3 .9-13.4 .9-26.1 .9-28.8 .9-20.4 .9-4.3 .9 13.7 1 26.4 .9 29.1 .9 20.8 .9 4.5 .9-13.6 .9-26.5 1-29.3 .9-20.9 .9-4.4 .9 13.8 .9 26.8 .9 29.7 .9 21.2 1 4.6 .9-13.7 .9-27 .9-29.8 .9-21.3 .9-4.6 .9 14 1 27.3 .9 30.2 .9 21.7 .9 4.7 .9-13.9 .9-27.4 .9-30.3 1-21.8 .9-4.7 .9 14.2 .9 27.7 .9 30.7 .9 22.1 .9 4.9 1-14.1 .9-27.8 .9-30.9 .9-22.1 .9-4.9 .9 14.3 .9 28.1 1 31.3 .9 22.5 .9 5.1 .9-14.3" stroke="#ff0000" stroke-width="3.7" fill="none" stroke-linejoin="round"/>
<path d="M144.2 124l1.1 0 1 0 1.1 0 1.1 0 1 .2 1.1 .3 1.1 .2 1 .2 1.1-.1 1.1-.3 1-.4 1.1-.3 1.1 0 1 .3 1.1 .6 1.1 .6 1 .5 1.1 .1 1.1-.3 1-.7 1.1-.7 1.1-.5 1 0 1.1 .5 1.1 1 1 1 1.1 .7 1.1 .1 1-.6 1.1-1 1.1-1.1 1-.7 1.1 0 1.1 .7 1 1.3 1.1 1.4 1.1 .9 1 .2 1.1-.8 1.1-1.4 1-1.5 1.1-.9 1.1-.1 1 1 1.1 1.7 1.1 1.7 1 1.2 1.1 .1 1.1-1 1-1.7 1.1-1.9 1.1-1.2 1 0 1.1 1.2 1.1 2 1 2.2 1.1 1.4 1.1 .1 1-1.2 1.1-2.1 1.1-2.3 1-1.4 1.1 0 1.1 1.4 1 2.4 1.1 2.5 1.1 1.6 1 .2 1.1-1.5 1.1-2.4 1-2.6 1.1-1.7 1.1-.1 1 1.7 1.1 2.7 1.1 2.9 1 1.9 1.1 .2 1.1-1.7 1-2.8 1.1-3 1.1-1.9 1-.1 1.1 1.8 1.1 3.2 1 3.2 1.1 2.1 1.1 .2 1.1-1.8 1-3.3 1.1-3.3 1.1-2.2 1-.1 1.1 2.1 1.1 3.5 1 3.6 1.1 2.4 1.1 .2 1-2.1 1.1-3.6 1.1-3.7 1-2.4 1.1-.1 1.1 2.3 1 3.8 1.1 4 1.1 2.7 1 .2 1.1-2.3 1.1-4 1-4 1.1-2.7 1.1-.1 1 2.4 1.1 4.3 1.1 4.3 1 2.9 1.1 .3 1.1-2.5 1-4.3 1.1-4.5 1.1-2.9 1-.2 1.1 2.7 1.1 4.6 1 4.8 1.1 3.1 1.1 .2 1-2.7 1.1-4.6 1.1-4.9 1-3.1 1.1-.2 1.1 2.9 1 4.9 1.1 5.2 1.1 3.3 1 .3 1.1-2.9 1.1-5 1-5.3 1.1-3.3 1.1-.3 1 3.1 1.1 5.3 1.1 5.6 1 3.6 1.1 .3 1.1-3.1 1-5.4 1.1-5.6 1.1-3.7 1-.2 1.1 3.3 1.1 5.7 1 5.9 1.1 3.8 1.1 .4 1-3.3 1.1-5.8 1.1-6 1-3.9 1.1-.3 1.1 3.6 1 6 1.1 6.3 1.1 4.1 1 .4 1.1-3.6 1.1-6.1 1-6.3 1.1-4.2 1.1-.3 1 3.7 1.1 6.4 1.1 6.6 1 4.4 1.1 .4 1.1-3.7 1-6.4 1.1-6.8 1.1-4.4 1-.3 1.1 3.9 1.1 6.7 1 7 1.1 4.7 1.1 .4 1-3.9 1.1-6.8 1.1-7.1 1-4.7 1.1-.4 1.1 4.1 1 7.1 1.1 7.4 1.1 4.9 1 .5 1.1-4.1 1.1-7.2 1-7.5 1.1-4.9 1.1-.4 1 4.3 1.1 7.4 1.1 7.8 1 5.2 1.1 .5 1.1-4.3 1-7.5 1.1-7.9 1.1-5.2 1-.5 1.1 4.5 1.1 7.8 1 8.2 1.1 5.4 1.1 .6 1-4.5 1.1-7.9 1.1-8.3 1-5.4 1.1-.5 1.1 4.7 1 8.1 1.1 8.6 1.1 5.6 1 .7 1.1-4.7 1.1-8.3 1-8.6 1.1-5.7 1.1-.6 1 4.9 1.1 8.5 1.1 8.9 1 6 1.1 .7 1.1-4.9 1-8.6 1.1-9.1 1.1-5.9 1-.6 1.1 5 1.1 8.9 1 9.3 1.1 6.2 1.1 .7 1-5 1.1-9 1.1-9.4 1-6.2 1.1-.7 1.1 5.3 1 9.2 1.1 9.7 1.1 6.5 1 .7 1.1-5.2 1.1-9.3 1.1-9.8 1-6.5 1.1-.7 1.1 5.4 1 9.6 1.1 10.1 1.1 6.7 1 .8 1.1-5.4 1.1-9.7 1-10.2 1.1-6.7 1.1-.8 1 5.6 1.1 10 1.1 10.4 1 7 1.1 .9 1.1-5.6 1-10 1.1-10.6 1.1-7 1-.9 1.1 5.9 1.1 10.2 1 10.9 1.1 7.3 1.1 .9 1-5.8 1.1-10.4 1.1-10.9 1-7.3 1.1-.9 1.1 6 1 10.6 1.1 11.2 1.1 7.6 1 1 1.1-6 1.1-10.7 1-11.3 1.1-7.6 1.1-1 1 6.2 1.1 11 1.1 11.6 1 7.8 1.1 1.1 1.1-6.2 1-11 1.1-11.7 1.1-7.9 1-1 1.1 6.3 1.1 11.3 1 12 1.1 8.2 1.1 1.1 1-6.4 1.1-11.4 1.1-12.1 1-8.1 1.1-1.1 1.1 6.5 1 11.7 1.1 12.4 1.1 8.4 1 1.2 1.1-6.5 1.1-11.8 1-12.5 1.1-8.4 1.1-1.1 1 6.7 1.1 12 1.1 12.7 1 8.7 1.1 1.3 1.1-6.7 1-12.1 1.1-12.9 1.1-8.7 1-1.2 1.1 6.9 1.1 12.3 1 13.2 1.1 8.9 1.1 1.4 1-6.9 1.1-12.4 1.1-13.3 1-9 1.1-1.2 1.1 7 1 12.7 1.1 13.5 1.1 9.3 1 1.4 1.1-7.1 1.1-12.7 1-13.7 1.1-9.3 1.1-1.3 1 7.2 1.1 13 1.1 14 1 9.5 1.1 1.5 1.1-7.2 1-13.2 1.1-14 1.1-9.6 1-1.4 1.1 7.4 1.1 13.4 1 14.3 1.1 9.8 1.1 1.6 1-7.4 1.1-13.5 1.1-14.4 1-9.8 1.1-1.5 1.1 7.5 1 13.7 1.1 14.7 1.1 10.1 1 1.7 1.1-7.6 1.1-13.8 1-14.8 1.1-10.1 1.1-1.6 1 7.7 1.1 14.1 1.1 15.1 1 10.4 1.1 1.6 1.1-7.6 1-14.2 1.1-15.2 1.1-10.4 1-1.6 1.1 7.8 1.1 14.4 1 15.5 1.1 10.7 1.1 1.7 1-7.8 1.1-14.5 1.1-15.6 1-10.7 1.1-1.7 1.1 8 1 14.7 1.1 15.9 1.1 11 1 1.8 1.1-8 1.1-14.8 1-16 1.1-11 1.1-1.8 1 8.2 1.1 15.1 1.1 16.2 1 11.3 1.1 1.9 1.1-8.1 1-15.2 1.1-16.3 1.1-11.3 1-1.9 1.1 8.3 1.1 15.4 1.1 16.7 1 11.5 1.1 2 1.1-8.3 1-15.5 1.1-16.7 1.1-11.6 1-2 1.1 8.5 1.1 15.7 1 17.1 1.1 11.8 1.1 2.1 1-8.4 1.1-15.8 1.1-17.2 1-11.9 1.1-2.1 1.1 8.7 1 16.1 1.1 17.4 1.1 12.1 1 2.2 1.1-8.6 1.1-16.1 1-17.6 1.1-12.2 1.1-2.1 1 8.8 1.1 16.4 1.1 17.8 1 12.4 1.1 2.3 1.1-8.7 1-16.5 1.1-17.9 1.1-12.5 1-2.3 1.1 8.9 1.1 16.8 1 18.2 1.1 12.8 1.1 2.3 1-8.9 1.1-16.8 1.1-18.3 1-12.8 1.1-2.4 1.1 9.1 1 17.1 1.1 18.6 1.1 13.1 1 2.4 1.1-9 1.1-17.2 1-18.7 1.1-13.1 1.1-2.4 1 9.2 1.1 17.4 1.1 19 1 13.4 1.1 2.5 1.1-9.1 1-17.5 1.1-19.1 1.1-13.4 1-2.6 1.1 9.4 1.1 17.7 1 19.4 1.1 13.7 1.1 2.7 1-9.4 1.1-17.8 1.1-19.5 1-13.7 1.1-2.7 1.1 9.5 1 18.1 1.1 19.8 1.1 14 1 2.8 1.1-9.5 1.1-18.2 1-19.9 1.1-14" stroke="#0000ff" stroke-width="3.7" fill="none" stroke-linejoin="round" stroke-dasharray="11.5 4.4"/>
<path d="M144.2 419.8v-6.8M144.2 60.8v6.8M172.0 419.8v-4.2M172.0 60.8v4.2M199.9 419.8v-4.2M199.9 60.8v4.2M227.7 419.8v-4.2M227.7 60.8v4.2M255.6 419.8v-6.8M255.6 60.8v6.8M283.4 419.8v-4.2M283.4 60.8v4.2M311.3 419.8v-4.2M311.3 60.8v4.2M339.1 419.8v-4.2M339.1 60.8v4.2M367.0 419.8v-6.8M367.0 60.8v6.8M394.8 419.8v-4.2M394.8 60.8v4.2M422.7 419.8v-4.2M422.7 60.8v4.2M450.5 419.8v-4.2M450.5 60.8v4.2M478.3 419.8v-6.8M478.3 60.8v6.8M506.2 419.8v-4.2M506.2 60.8v4.2M534.0 419.8v-4.2M534.0 60.8v4.2M561.9 419.8v-4.2M561.9 60.8v4.2M589.7 419.8v-6.8M589.7 60.8v6.8M617.6 419.8v-4.2M617.6 60.8v4.2M645.4 419.8v-4.2M645.4 60.8v4.2M673.3 419.8v-4.2M673.3 60.8v4.2M701.1 419.8v-6.8M701.1 60.8v6.8M132.7 410.6h4.2M713.0 410.6h-4.2M132.7 393.8h4.2M713.0 393.8h-4.2M132.7 376.9h6.8M713.0 376.9h-6.8M132.7 360.0h4.2M713.0 360.0h-4.2M132.7 343.2h4.2M713.0 343.2h-4.2M132.7 326.3h4.2M713.0 326.3h-4.2M132.7 309.5h4.2M713.0 309.5h-4.2M132.7 292.6h6.8M713.0 292.6h-6.8M132.7 275.7h4.2M713.0 275.7h-4.2M132.7 258.9h4.2M713.0 258.9h-4.2M132.7 242.0h4.2M713.0 242.0h-4.2M132.7 225.2h4.2M713.0 225.2h-4.2M132.7 208.3h6.8M713.0 208.3h-6.8M132.7 191.4h4.2M713.0 191.4h-4.2M132.7 174.6h4.2M713.0 174.6h-4.2M132.7 157.7h4.2M713.0 157.7h-4.2M132.7 140.9h4.2M713.0 140.9h-4.2M132.7 124.0h6.8M713.0 124.0h-6.8M132.7 107.1h4.2M713.0 107.1h-4.2M132.7 90.3h4.2M713.0 90.3h-4.2M132.7 73.4h4.2M713.0 73.4h-4.2" stroke="#000" stroke-width="1.3" fill="none"/>
<rect x="132.7" y="60.8" width="580.3" height="359.0" stroke="#000" stroke-width="1.6" fill="none"/>
<g font-family='"Liberation Sans", sans-serif' font-size="36.80"><text x="119.3" y="133.9" text-anchor="end">0</text><text x="119.3" y="218.2" text-anchor="end">−5</text><text x="119.3" y="302.5" text-anchor="end">−10</text><text x="119.3" y="386.8" text-anchor="end">−15</text><text x="144.2" y="460.9" text-anchor="middle">0</text><text x="255.6" y="460.9" text-anchor="middle">2</text><text x="367.0" y="460.9" text-anchor="middle">4</text><text x="478.3" y="460.9" text-anchor="middle">6</text><text x="589.7" y="460.9" text-anchor="middle">8</text><text x="701.1" y="460.9" text-anchor="middle">10</text></g>
<path d="M169.1 92.9H244.1" stroke="#00a800" stroke-width="3.7" stroke-dasharray="5.5 4.4"/>
<text x="259.0" y="98.7" font-size="36.00"><tspan font-family='"Liberation Sans", sans-serif' font-style="italic">P</tspan><tspan font-family='"Liberation Sans", sans-serif' font-style="italic" font-size="25.00" dy="7.0">b</tspan><tspan dy="-7.0" font-family='"Liberation Serif", serif'>=40 d</tspan></text>
<path d="M169.1 280.8H242.1" stroke="#ff8000" stroke-width="3.7" stroke-dasharray="5.5 4.5 11 4.9"/>
<text x="259.0" y="286.6" font-size="36.00"><tspan font-family='"Liberation Sans", sans-serif' font-style="italic">P</tspan><tspan font-family='"Liberation Sans", sans-serif' font-style="italic" font-size="25.00" dy="7.0">b</tspan><tspan dy="-7.0" font-family='"Liberation Serif", serif'>=50 d</tspan></text>
<path d="M169.1 332.2H248.5" stroke="#ff0000" stroke-width="3.7"/>
<text x="259.0" y="338.0" font-size="36.00"><tspan font-family='"Liberation Sans", sans-serif' font-style="italic">P</tspan><tspan font-family='"Liberation Sans", sans-serif' font-style="italic" font-size="25.00" dy="7.0">b</tspan><tspan dy="-7.0" font-family='"Liberation Serif", serif'>=60 d</tspan></text>
<path d="M169.1 383.9H244.1" stroke="#0000ff" stroke-width="3.7" stroke-dasharray="11.5 4.4"/>
<text x="259.0" y="389.7" font-size="36.00"><tspan font-family='"Liberation Sans", sans-serif' font-style="italic">P</tspan><tspan font-family='"Liberation Sans", sans-serif' font-style="italic" font-size="25.00" dy="7.0">b</tspan><tspan dy="-7.0" font-family='"Liberation Serif", serif'>=70 d</tspan></text>
<text x="128.6" y="37.1" font-family='"Liberation Serif", serif' font-size="37.60">Be star−pulsar</text>
<text x="376.0" y="37.1" font-family='"Liberation Sans", sans-serif' font-style="italic" font-size="38.00">GS</text>
<text x="433.1" y="37.1" font-family='"Liberation Sans", sans-serif' font-style="italic" font-size="37.00">ε</text>
<text x="449.1" y="18.5" font-family='"Liberation Sans", sans-serif' font-size="26.50">2</text>
<text x="463.6" y="37.1" font-family='"Liberation Sans", sans-serif' font-style="italic" font-size="38.50">c</text>
<text x="485.1" y="18.5" font-family='"Liberation Sans", sans-serif' font-size="27.50">−2</text>
<text x="540.6" y="37.1" font-family='"Liberation Serif", serif' font-size="37.40">timing shift</text>
<text x="382.2" y="511.5" font-family='"Liberation Sans", sans-serif' font-style="italic" font-size="40.0">t</text><text x="408.2" y="511.5" font-family='"Liberation Serif", serif' font-size="36.6">(yr)</text>
<text transform="translate(25.5 240.7) rotate(-90)" text-anchor="middle" font-family='"Liberation Serif", serif' font-size="39.10">Δ(<tspan font-style="italic">δτ</tspan>) (<tspan font-style="italic">μ</tspan>s)</text>
<path d="M1036.3 61.0V419.9M1147.7 61.0V419.9M1259.2 61.0V419.9M1370.6 61.0V419.9M913.2 179.6H1493.8M913.2 244.6H1493.8M913.2 309.6H1493.8M913.2 374.7H1493.8" stroke="#b4b4b4" stroke-width="1.3" fill="none"/>
<path d="M913.2 114.5H1493.8" stroke="#000" stroke-width="1.4" fill="none"/>
<path d="M924.8 114.5l.3 0 .3 0 .4 0 .6 0 .6 0 .8 0 .8 .1 .8 .1 .8 .1 .6 0 .6 0 .4 0 .3 0 .3-.1 .3-.1 .3-.1 .5-.1 .5 0 .7 .1 .7 .1 .8 .2 .8 .1 .8 .2 .7 .1 .5 .1 .4-.1 .4-.2 .3-.1 .2-.2 .4-.2 .4-.1 .5 0 .7 .1 .7 .2 .9 .2 .8 .3 .7 .3 .7 .1 .5 .1 .5-.1 .3-.3 .3-.3 .3-.3 .3-.2 .4-.1 .6-.1 .6 .2 .8 .3 .8 .3 .8 .4 .7 .3 .7 .2 .6 .1 .4-.2 .3-.3 .3-.4 .3-.4 .3-.3 .4-.2 .6 0 .6 .2 .8 .3 .8 .5 .8 .5 .8 .4 .6 .2 .6 .1 .4-.2 .3-.4 .3-.5 .3-.5 .3-.4 .5-.2 .5-.1 .7 .3 .7 .4 .8 .6 .8 .5 .8 .5 .7 .3 .5 .1 .4-.3 .4-.4 .3-.6 .2-.6 .4-.5 .4-.3 .5 0 .7 .3 .7 .5 .8 .6 .8 .7 .8 .6 .7 .3 .5 .1 .5-.3 .3-.5 .3-.7 .3-.7 .3-.6 .4-.3 .6-.1 .6 .3 .8 .6 .8 .8 .8 .8 .7 .6 .7 .4 .6 .1 .4-.3 .3-.6 .3-.8 .3-.8 .3-.7 .4-.4 .6 0 .6 .3 .8 .7 .8 .8 .8 .9 .8 .8 .6 .4 .6 .1 .4-.4 .4-.6 .2-.9 .3-.9 .3-.8 .5-.4 .5-.1 .6 .4 .8 .8 .8 .9 .8 1 .8 .8 .6 .5 .6 .1 .4-.4 .4-.7 .3-1 .2-1 .4-.9 .4-.5 .5 0 .7 .4 .7 .8 .8 1.1 .8 1.1 .8 .9 .7 .5 .5 .1 .5-.4 .3-.8 .3-1.1 .3-1.1 .3-1 .4-.5 .5-.1 .7 .5 .7 .9 .8 1.1 .9 1.2 .7 1 .7 .6 .6 .1 .4-.4 .3-.9 .3-1.2 .3-1.2 .3-1 .4-.6 .6-.1 .6 .5 .8 .9 .8 1.3 .8 1.3 .7 1.1 .7 .6 .6 .1 .4-.5 .4-.9 .2-1.3 .3-1.3 .3-1.1 .5-.7 .5-.1 .6 .6 .8 1 .8 1.3 .8 1.4 .8 1.2 .6 .7 .6 .1 .4-.5 .4-1 .3-1.4 .2-1.4 .4-1.2 .4-.7 .5-.1 .7 .5 .7 1.1 .8 1.5 .8 1.5 .8 1.2 .7 .8 .5 .1 .5-.5 .3-1.1 .3-1.5 .3-1.5 .3-1.3 .4-.8 .5-.1 .7 .6 .7 1.2 .8 1.5 .8 1.6 .8 1.4 .7 .8 .5 .1 .5-.5 .3-1.2 .3-1.6 .3-1.6 .3-1.4 .4-.8 .6-.1 .6 .6 .8 1.2 .8 1.7 .8 1.7 .7 1.4 .7 .9 .6 .2 .4-.7 .4-1.2 .3-1.7 .2-1.7 .4-1.5 .4-.8 .5-.2 .6 .7 .8 1.3 .8 1.7 .8 1.8 .8 1.6 .6 .9 .6 .2 .4-.7 .4-1.3 .3-1.8 .3-1.8 .3-1.5 .4-1 .5-.1 .7 .7 .7 1.3 .8 1.9 .8 1.9 .8 1.6 .7 1 .5 .2 .5-.7 .3-1.4 .3-1.9 .3-1.9 .3-1.6 .4-1 .5-.2 .7 .7 .7 1.5 .8 1.9 .8 2 .8 1.7 .7 1.1 .5 .2 .5-.7 .3-1.5 .3-2 .3-2 .3-1.7 .4-1.1 .6-.1 .6 .7 .7 1.5 .8 2 .9 2.2 .7 1.8 .7 1.1 .6 .2 .4-.7 .4-1.6 .3-2 .2-2.2 .4-1.8 .4-1.1 .5-.2 .6 .8 .8 1.6 .8 2.1 .8 2.2 .7 1.9 .7 1.2 .6 .2 .4-.8 .4-1.6 .3-2.1 .3-2.3 .3-1.9 .4-1.1 .5-.2 .6 .8 .8 1.6 .8 2.2 .8 2.3 .8 2 .6 1.3 .6 .2 .5-.8 .3-1.7 .3-2.2 .3-2.3 .3-2 .4-1.3 .5-.2 .7 .8 .7 1.8 .8 2.3 .8 2.4 .8 2.1 .7 1.3 .5 .2 .5-.8 .3-1.7 .3-2.4 .3-2.4 .3-2.1 .4-1.3 .6-.2 .6 .8 .7 1.8 .8 2.4 .8 2.5 .8 2.2 .7 1.3 .6 .3 .4-.8 .4-1.8 .3-2.5 .2-2.5 .4-2.2 .4-1.3 .5-.3 .6 .9 .7 1.8 .8 2.5 .9 2.7 .7 2.2 .7 1.4 .6 .3 .4-.8 .4-1.9 .3-2.5 .3-2.7 .3-2.2 .4-1.5 .5-.3 .6 .9 .8 2 .8 2.5 .8 2.8 .8 2.3 .6 1.5 .6 .4 .5-.9 .3-2 .3-2.6 .3-2.8 .3-2.3 .4-1.5 .5-.3 .7 .9 .7 2 .8 2.7 .8 2.8 .8 2.5 .7 1.5 .5 .4 .5-1 .4-2 .2-2.7 .3-2.8 .3-2.5 .4-1.5 .5-.4 .7 1 .7 2 .8 2.8 .8 2.9 .8 2.6 .7 1.6 .6 .4 .4-1 .4-2 .3-2.8 .2-3 .4-2.5 .4-1.7 .5-.3 .6 .9 .7 2.2 .8 2.8 .8 3.1 .8 2.6 .7 1.7 .6 .4 .4-1 .4-2.1 .3-2.9 .3-3.1 .3-2.6 .4-1.7 .5-.4 .6 1 .8 2.2 .8 2.9 .8 3.2 .7 2.7 .7 1.8 .6 .4 .5-1 .3-2.2 .3-3 .3-3.1 .3-2.8 .4-1.7 .5-.4 .6 1 .8 2.2 .8 3.1 .8 3.2 .8 2.8 .7 1.9 .5 .4 .5-1 .4-2.3 .2-3 .3-3.3 .3-2.8 .4-1.8 .5-.5 .7 1 .7 2.3 .8 3.2 .8 3.3 .8 2.9 .7 1.9 .6 .5 .4-1 .4-2.3 .3-3.2 .2-3.4 .4-2.9 .4-1.9 .5-.4 .6 1 .7 2.4 .8 3.2 .8 3.5 .8 3 .7 1.9 .6 .5 .4-1 .4-2.4 .3-3.2 .3-3.5 .3-3 .4-2 .5-.5 .6 1.1 .7 2.4 .8 3.3 .9 3.6 .7 3.1 .7 2 .6 .5 .5-1 .3-2.5 .3-3.3 .3-3.6 .3-3.1 .4-2 .5-.6 .6 1.1 .8 2.5 .8 3.4 .8 3.7 .8 3.2 .7 2.1 .5 .6 .5-1.1 .4-2.5 .3-3.5 .2-3.6 .3-3.3 .4-2.1 .5-.5 .7 1.1 .7 2.5 .8 3.5 .8 3.8 .8 3.3 .7 2.2 .6 .6 .4-1.1 .4-2.6 .3-3.5 .3-3.8 .3-3.3 .4-2.2 .5-.6 .6 1.1 .7 2.6 .8 3.6 .8 3.9 .8 3.4 .7 2.2 .6 .7 .5-1.1 .3-2.6 .3-3.7 .3-3.9 .3-3.4 .4-2.2 .5-.6 .6 1.1 .7 2.7 .8 3.6 .8 4 .8 3.5 .7 2.3 .6 .7 .5-1.1 .3-2.7 .3-3.7 .3-4 .3-3.5 .4-2.3 .5-.7 .6 1.2 .8 2.7 .7 3.7 .9 4.1 .7 3.6 .7 2.4 .6 .7 .5-1.1 .4-2.8 .3-3.8 .2-4.1 .3-3.6 .4-2.3 .5-.7 .7 1.1 .7 2.8 .8 3.8 .8 4.2 .8 3.7 .7 2.5 .6 .7 .4-1.1 .4-2.8 .3-3.9 .3-4.2 .3-3.7 .4-2.5 .5-.7 .6 1.2 .7 2.8 .8 3.9 .8 4.3 .8 3.8 .7 2.6 .6 .7 .5-1.1 .3-2.9 .3-3.9 .3-4.4 .3-3.8 .4-2.5 .5-.7 .6 1.1 .7 2.9 .8 4 .8 4.4 .8 3.9 .7 2.6 .6 .8 .5-1.1 .3-2.9 .3-4.1 .3-4.4 .3-3.9 .4-2.6 .5-.8 .6 1.2 .7 2.9 .8 4.1 .8 4.5 .8 4 .7 2.7 .6 .8 .5-1.1 .4-3 .3-4.1 .2-4.5 .3-4 .4-2.7 .5-.9 .6 1.2 .8 3 .8 4.2 .8 4.6 .8 4.1 .7 2.8 .6 .9 .4-1.2 .4-3 .3-4.3 .3-4.6 .3-4.1 .4-2.7 .5-.9 .6 1.2 .7 3 .8 4.3 .8 4.7 .8 4.2 .7 2.9 .6 .9 .5-1.2 .3-3.1 .3-4.3 .3-4.7 .3-4.2 .4-2.9 .5-.9 .6 1.2 .7 3.1 .8 4.4 .8 4.8 .8 4.3 .7 2.9 .6 1 .5-1.2 .3-3.1 .3-4.4 .3-4.9 .3-4.3 .4-2.9 .5-.9 .6 1.2 .7 3.1 .8 4.5 .8 4.9 .8 4.4 .7 3 .6 1 .5-1.2 .4-3.2 .3-4.5 .2-4.9 .4-4.4 .3-3 .5-1 .6 1.2 .8 3.2 .7 4.6 .9 5 .7 4.5 .7 3.1 .6 1 .5-1.2 .4-3.2 .3-4.6 .3-5 .3-4.5 .4-3.1 .4-1 .7 1.2 .7 3.2 .8 4.7 .8 5.1 .8 4.6 .7 3.1 .6 1.1 .5-1.2 .3-3.3 .3-4.6 .3-5.2 .3-4.6 .4-3.1 .5-1.1 .6 1.3 .7 3.2 .8 4.8 .8 5.2 .8 4.7 .7 3.2 .6 1.1 .5-1.2 .4-3.3 .3-4.7 .2-5.3 .3-4.7 .4-3.2 .5-1.1 .6 1.2 .7 3.3 .8 4.8 .8 5.4 .8 4.8 .7 3.3 .6 1.1 .5-1.2 .4-3.3 .3-4.9 .3-5.3 .3-4.8 .3-3.3 .5-1.2 .6 1.2 .7 3.4 .8 4.9 .8 5.5 .8 4.8 .7 3.4 .6 1.2 .5-1.2 .4-3.4 .3-4.9 .3-5.4 .3-5 .4-3.3 .4-1.2 .6 1.2 .8 3.4 .7 5 .9 5.5 .8 5 .7 3.5 .6 1.2 .5-1.2 .3-3.4 .3-5 .3-5.6 .3-5 .4-3.5 .5-1.2 .6 1.2 .7 3.5 .8 5.1 .8 5.6 .8 5.1 .7 3.6 .6 1.3 .5-1.3 .4-3.5 .3-5 .2-5.7 .3-5.1 .4-3.6 .5-1.2 .6 1.2 .7 3.5 .8 5.2 .8 5.7 .8 5.2 .7 3.6 .6 1.4 .5-1.2 .4-3.6 .3-5.2 .3-5.7 .3-5.2 .3-3.7 .5-1.3 .6 1.2 .7 3.6 .8 5.2 .8 5.9 .8 5.3 .7 3.7 .6 1.4 .5-1.2 .4-3.6 .3-5.3 .3-5.8 .3-5.4 .4-3.7 .4-1.4 .6 1.3 .7 3.6 .8 5.3 .8 5.9 .8 5.4 .8 3.8 .6 1.5 .5-1.2 .3-3.7 .3-5.3 .3-5.9 .3-5.5 .4-3.8 .5-1.4 .6 1.2 .7 3.7 .8 5.4 .8 6 .8 5.5 .7 3.9 .6 1.5 .5-1.2 .4-3.7 .3-5.4 .2-6.1 .3-5.5 .4-3.9 .5-1.5 .6 1.3 .7 3.7 .8 5.4 .8 6.2 .8 5.6 .7 4 .6 1.5 .5-1.2 .4-3.7 .3-5.5 .3-6.2 .3-5.6 .3-4 .5-1.5 .6 1.2 .7 3.8 .8 5.5 .8 6.2 .8 5.8 .7 4 .6 1.6 .5-1.2 .4-3.7 .3-5.6 .3-6.3 .3-5.7 .4-4.1 .4-1.6 .6 1.3 .7 3.7 .8 5.7 .8 6.3 .8 5.8 .7 4.2 .7 1.6 .5-1.2 .3-3.8 .3-5.6 .3-6.4 .3-5.8 .4-4.2 .5-1.6 .6 1.2 .7 3.8 .7 5.7 .9 6.5 .7 5.9 .8 4.2 .6 1.7 .5-1.2 .4-3.8 .3-5.7 .2-6.5 .3-5.9 .4-4.3 .5-1.7 .6 1.2 .7 3.9 .8 5.8 .8 6.5 .8 6.1 .7 4.3 .6 1.7 .5-1.1 .4-3.9 .3-5.8 .3-6.6 .3-6.1 .3-4.3 .5-1.7 .6 1.2 .7 3.9 .8 5.8 .8 6.7 .8 6.1 .7 4.4 .6 1.8 .5-1.1 .4-3.9 .3-5.9 .3-6.7 .3-6.2 .4-4.4 .4-1.8 .6 1.2 .7 4 .8 5.9 .8 6.8 .8 6.2 .7 4.5 .7 1.8 .5-1.1 .3-4 .3-5.9 .3-6.8 .3-6.3 .4-4.5 .5-1.8 .5 1.2 .7 3.9 .8 6.1 .8 6.8 .8 6.4 .8 4.5 .6 2 .5-1.2 .4-4 .3-6 .2-6.9 .3-6.4 .4-4.6 .5-1.9 .6 1.2 .7 4 .8 6.1 .8 7 .8 6.4 .7 4.7 .6 2 .5-1.2 .4-4 .3-6.1 .3-7 .3-6.5 .3-4.7 .5-1.9 .6 1.1 .7 4.1 .8 6.2 .8 7 .8 6.6 .7 4.7 .6 2.1 .5-1.2 .4-4 .3-6.2 .3-7.1 .3-6.6 .4-4.7 .4-2.1 .6 1.2 .7 4.1 .8 6.2 .8 7.2 .8 6.6 .7 4.9 .7 2.1 .5-1.2 .3-4 .4-6.3 .2-7.2 .3-6.7 .4-4.8 .5-2.1 .5 1.1 .7 4.1 .8 6.4 .8 7.2 .8 6.8 .8 4.9 .6 2.2 .5-1.1 .4-4.2 .3-6.3 .3-7.3 .2-6.8 .4-4.9 .5-2.2 .6 1.2 .7 4.1 .7 6.4 .9 7.4 .7 6.8 .8 5.1 .6 2.2 .5-1.1 .4-4.2 .3-6.4 .3-7.4 .3-6.9 .3-5 .5-2.2 .6 1.1 .7 4.2 .8 6.4 .8 7.5 .8 7 .7 5.1 .6 2.3 .5-1.1 .4-4.2 .3-6.5 .3-7.5 .3-7" stroke="#ff0000" stroke-width="3.7" fill="none" stroke-linejoin="round"/>
<path d="M924.8 114.5l.3 0 .3 0 .4 0 .6 0 .6 .1 .8 .1 .8 .1 .8 .1 .8 .1 .6 0 .6 0 .4-.1 .3-.2 .3-.2 .3-.1 .3 0 .5 0 .5 .1 .7 .3 .7 .2 .8 .3 .8 .3 .8 .1 .7 0 .5-.2 .4-.2 .4-.4 .3-.3 .2-.3 .4-.1 .4 .1 .5 .3 .7 .3 .7 .5 .9 .5 .8 .3 .7 .2 .7 0 .5-.3 .5-.5 .3-.5 .3-.5 .3-.3 .3-.2 .4 .1 .6 .4 .6 .5 .8 .7 .8 .6 .8 .5 .7 .2 .7 0 .6-.4 .4-.7 .3-.7 .3-.6 .3-.5 .3-.2 .4 .1 .6 .5 .6 .7 .8 .9 .8 .8 .8 .6 .8 .2 .6-.1 .6-.5 .4-.8 .3-.9 .3-.8 .3-.6 .3-.2 .5 .2 .5 .5 .7 .9 .7 1 .8 1 .8 .7 .8 .4 .7-.2 .5-.6 .4-.9 .4-1.1 .3-1 .2-.8 .4-.3 .4 .3 .5 .6 .7 1.1 .7 1.2 .8 1.1 .8 .9 .8 .4 .7-.2 .5-.7 .5-1.1 .3-1.3 .3-1.2 .3-.8 .3-.4 .4 .3 .6 .8 .6 1.2 .8 1.4 .8 1.3 .8 .9 .7 .5 .7-.2 .6-.9 .4-1.2 .3-1.5 .3-1.3 .3-1 .3-.4 .4 .3 .6 .9 .6 1.3 .8 1.6 .8 1.5 .8 1.1 .8 .5 .6-.2 .6-1 .4-1.4 .4-1.7 .2-1.5 .3-1.1 .3-.4 .5 .3 .5 1 .6 1.5 .8 1.8 .8 1.6 .8 1.3 .8 .5 .6-.3 .6-1 .4-1.6 .4-1.8 .3-1.7 .2-1.3 .4-.5 .4 .4 .5 1.1 .7 1.7 .7 1.9 .8 1.9 .8 1.3 .8 .6 .7-.3 .5-1.1 .5-1.8 .3-2 .3-1.9 .3-1.3 .3-.6 .4 .4 .5 1.2 .7 1.8 .7 2.2 .8 2 .9 1.5 .7 .6 .7-.3 .6-1.2 .4-1.9 .3-2.2 .3-2.1 .3-1.5 .3-.6 .4 .4 .6 1.3 .6 2 .8 2.3 .8 2.2 .8 1.6 .7 .7 .7-.3 .6-1.3 .4-2.1 .4-2.4 .2-2.2 .3-1.6 .3-.7 .5 .4 .5 1.4 .6 2.2 .8 2.5 .8 2.3 .8 1.8 .8 .7 .6-.3 .6-1.4 .4-2.3 .4-2.6 .3-2.4 .2-1.7 .4-.7 .4 .4 .5 1.5 .7 2.3 .7 2.7 .8 2.5 .8 1.9 .8 .9 .7-.4 .5-1.6 .5-2.3 .3-2.8 .3-2.6 .3-1.9 .3-.8 .4 .5 .5 1.6 .7 2.5 .7 2.8 .8 2.7 .8 2.1 .8 .9 .7-.4 .5-1.7 .5-2.5 .3-2.9 .3-2.8 .3-2 .3-.9 .4 .5 .6 1.7 .6 2.6 .8 3.1 .8 2.9 .8 2.1 .7 1 .7-.4 .6-1.8 .4-2.7 .4-3.1 .3-2.9 .2-2.2 .4-.9 .4 .5 .5 1.8 .6 2.7 .8 3.3 .8 3.1 .8 2.2 .8 1.1 .6-.4 .6-1.9 .4-2.8 .4-3.3 .3-3.1 .3-2.3 .3-1 .4 .5 .5 1.8 .7 3 .7 3.4 .8 3.3 .8 2.4 .8 1.1 .7-.5 .5-1.9 .5-3 .3-3.5 .3-3.3 .3-2.4 .3-1.1 .4 .5 .5 2 .7 3.1 .7 3.6 .8 3.5 .8 2.5 .8 1.2 .7-.5 .5-2 .5-3.1 .3-3.7 .3-3.5 .3-2.5 .3-1.2 .4 .5 .6 2.1 .6 3.3 .7 3.8 .8 3.6 .9 2.7 .7 1.2 .7-.5 .6-2 .4-3.4 .4-3.8 .3-3.7 .2-2.7 .4-1.2 .4 .5 .5 2.2 .6 3.4 .8 4 .8 3.7 .8 2.9 .7 1.3 .7-.5 .6-2.1 .4-3.5 .4-4 .3-3.9 .3-2.8 .3-1.3 .4 .5 .5 2.3 .6 3.5 .8 4.2 .8 3.9 .8 3 .8 1.4 .6-.5 .6-2.2 .5-3.6 .3-4.3 .3-4 .3-3 .3-1.3 .4 .5 .5 2.3 .7 3.7 .7 4.4 .8 4.1 .8 3.1 .8 1.5 .7-.5 .5-2.3 .5-3.8 .3-4.4 .3-4.2 .3-3.1 .3-1.4 .4 .5 .6 2.4 .6 3.9 .7 4.5 .8 4.3 .8 3.3 .8 1.5 .7-.5 .6-2.4 .4-3.9 .4-4.6 .3-4.4 .2-3.2 .4-1.6 .4 .6 .5 2.5 .6 4 .7 4.7 .8 4.5 .9 3.4 .7 1.6 .7-.5 .6-2.5 .4-4 .4-4.8 .3-4.6 .3-3.4 .3-1.6 .4 .6 .5 2.6 .6 4.1 .8 4.9 .8 4.7 .8 3.5 .8 1.7 .6-.5 .6-2.6 .5-4.2 .3-4.9 .3-4.8 .3-3.5 .3-1.7 .4 .5 .5 2.7 .7 4.3 .7 5.1 .8 4.8 .8 3.7 .8 1.8 .7-.4 .5-2.7 .5-4.4 .4-5.1 .2-4.9 .3-3.8 .3-1.7 .4 .5 .5 2.8 .7 4.4 .7 5.3 .8 5 .8 3.9 .8 1.8 .7-.4 .6-2.8 .4-4.5 .4-5.3 .3-5.1 .2-3.9 .4-1.8 .4 .5 .5 2.8 .6 4.6 .7 5.5 .8 5.2 .8 4 .8 1.9 .7-.4 .6-2.9 .4-4.6 .4-5.5 .3-5.3 .3-4 .3-1.9 .4 .5 .5 2.9 .6 4.7 .8 5.6 .8 5.5 .8 4.1 .7 2 .7-.4 .6-2.9 .5-4.8 .3-5.7 .3-5.5 .3-4.1 .3-2.1 .4 .6 .5 3 .6 4.8 .8 5.8 .8 5.6 .8 4.3 .8 2.1 .7-.4 .5-3 .5-4.9 .4-5.9 .2-5.7 .3-4.3 .3-2.1 .4 .5 .5 3.1 .7 5 .7 6 .8 5.8 .8 4.4 .8 2.2 .7-.4 .6-3.1 .4-5 .4-6.1 .3-5.8 .2-4.5 .4-2.2 .4 .5 .5 3.2 .6 5.1 .7 6.2 .8 5.9 .8 4.6 .8 2.3 .7-.4 .6-3.1 .4-5.2 .4-6.3 .3-6 .3-4.6 .3-2.3 .4 .5 .5 3.2 .6 5.3 .7 6.3 .8 6.2 .9 4.7 .7 2.4 .7-.4 .6-3.2 .5-5.3 .3-6.5 .3-6.2 .3-4.7 .3-2.4 .4 .5 .5 3.3 .6 5.4 .8 6.5 .8 6.3 .8 5 .8 2.4 .7-.4 .5-3.3 .5-5.4 .4-6.6 .3-6.4 .2-4.9 .3-2.5 .4 .5 .5 3.3 .7 5.6 .7 6.7 .8 6.5 .8 5.1 .8 2.5 .7-.4 .6-3.3 .4-5.6 .4-6.8 .3-6.6 .3-5.1 .3-2.5 .4 .4 .5 3.4 .6 5.7 .7 6.9 .8 6.7 .8 5.3 .8 2.6 .7-.4 .6-3.4 .5-5.7 .3-7 .3-6.7 .3-5.3 .3-2.6 .4 .4 .5 3.5 .6 5.8 .7 7.1 .8 6.9 .8 5.4 .8 2.7 .7-.3 .6-3.5 .5-5.9 .3-7.1 .3-7 .3-5.4 .3-2.7 .4 .4 .5 3.5 .6 6 .8 7.2 .7 7.1 .9 5.5 .7 2.9 .7-.3 .6-3.6 .5-6 .4-7.3 .3-7.1 .2-5.6 .3-2.9 .4 .5 .5 3.6 .7 6.1 .7 7.4 .8 7.2 .8 5.7 .8 3 .7-.3 .6-3.6 .4-6.2 .4-7.5 .3-7.3 .3-5.7 .3-3 .4 .4 .5 3.7 .6 6.2 .7 7.6 .8 7.5 .8 5.8 .8 3.1 .7-.3 .6-3.7 .5-6.2 .3-7.7 .3-7.5 .3-5.9 .3-3.1 .4 .4 .5 3.7 .6 6.4 .7 7.8 .8 7.6 .8 6 .8 3.2 .7-.3 .6-3.7 .5-6.4 .3-7.9 .3-7.7 .3-6 .3-3.2 .4 .4 .5 3.7 .6 6.5 .7 8 .8 7.8 .8 6.2 .8 3.3 .7-.3 .6-3.7 .5-6.6 .4-8 .3-7.9 .2-6.2 .3-3.3 .4 .3 .5 3.9 .6 6.6 .8 8.1 .8 8.1 .8 6.3 .8 3.4 .7-.2 .6-3.9 .4-6.7 .4-8.2 .3-8 .3-6.4 .3-3.4 .4 .3 .5 3.9 .6 6.8 .7 8.3 .8 8.2 .8 6.5 .8 3.5 .7-.2 .6-3.9 .5-6.8 .3-8.4 .3-8.3 .3-6.5 .3-3.5 .4 .3 .5 3.9 .6 6.9 .7 8.5 .8 8.4 .8 6.7 .8 3.6 .7-.2 .6-4 .5-6.9 .3-8.5 .3-8.5 .3-6.7 .3-3.6 .4 .2 .5 4 .6 7.1 .7 8.6 .8 8.6 .8 6.8 .8 3.8 .7-.2 .6-4 .5-7.1 .4-8.7 .3-8.6 .2-6.9 .4-3.7 .3 .2 .5 4.1 .6 7.1 .8 8.8 .7 8.8 .9 7 .7 3.8 .7-.1 .6-4 .5-7.2 .4-8.9 .3-8.8 .3-7.1 .3-3.8 .4 .2 .4 4.1 .7 7.2 .7 9 .8 9 .8 7.2 .8 3.9 .7-.1 .6-4.1 .5-7.3 .3-9 .3-9.1 .3-7.2 .3-3.9 .4 .1 .5 4.2 .6 7.4 .7 9.2 .8 9.1 .8 7.4 .8 4 .7 0 .6-4.2 .5-7.4 .4-9.3 .3-9.2 .2-7.3 .3-4.1 .4 .1 .5 4.2 .6 7.5 .7 9.4 .8 9.3 .8 7.5 .8 4.2 .7 0 .6-4.2 .5-7.6 .4-9.4 .3-9.4 .3-7.5 .3-4.2 .3 .1 .5 4.2 .6 7.7 .7 9.5 .8 9.5 .8 7.7 .8 4.3 .7 0 .6-4.2 .5-7.7 .4-9.6 .3-9.6 .3-7.7 .3-4.3 .4 0 .4 4.3 .6 7.8 .8 9.7 .7 9.7 .9 7.9 .8 4.4 .7 0 .6-4.2 .5-7.8 .3-9.8 .3-9.8 .3-7.9 .3-4.4 .4 0 .5 4.3 .6 7.9 .7 9.9 .8 9.9 .8 8 .8 4.5 .7 .2 .6-4.4 .5-7.9 .4-9.9 .3-10 .2-8 .3-4.6 .4 0 .5 4.4 .6 7.9 .7 10.1 .8 10.1 .8 8.2 .8 4.6 .7 .2 .6-4.4 .5-8 .4-10.1 .3-10.2 .3-8.2 .3-4.6 .3-.2 .5 4.5 .6 8.1 .7 10.2 .8 10.3 .8 8.3 .8 4.8 .7 .2 .6-4.4 .5-8.2 .4-10.2 .3-10.4 .3-8.4 .3-4.7 .4-.2 .4 4.5 .6 8.2 .7 10.4 .8 10.4 .8 8.6 .8 4.9 .8 .2 .6-4.4 .5-8.3 .3-10.4 .3-10.6 .3-8.5 .3-4.9 .4-.2 .5 4.5 .6 8.3 .7 10.5 .8 10.7 .8 8.7 .8 5 .7 .3 .6-4.4 .5-8.4 .4-10.6 .3-10.8 .2-8.7 .3-5 .4-.3 .5 4.6 .6 8.4 .7 10.7 .8 10.9 .8 8.9 .8 5.1 .7 .4 .6-4.5 .5-8.5 .4-10.8 .3-11 .3-8.9 .3-5.1 .3-.3 .5 4.6 .6 8.5 .7 10.9 .8 11.1 .8 9 .8 5.3 .7 .4 .6-4.6 .5-8.6 .4-10.9 .3-11.1 .3-9.1 .3-5.3 .4-.3 .4 4.6 .6 8.6 .7 11.1 .8 11.2 .8 9.3 .8 5.4 .7 .4 .7-4.6 .5-8.7 .3-11.1 .3-11.3 .3-9.3 .3-5.4 .4-.4 .5 4.6 .6 8.8 .7 11.2 .7 11.5 .9 9.4 .7 5.5 .8 .5 .6-4.6 .5-8.8 .4-11.3 .3-11.5 .2-9.4 .3-5.5 .4-.5 .5 4.6 .6 8.9 .7 11.4 .8 11.7 .8 9.6 .8 5.6 .7 .6 .6-4.7 .5-8.9 .4-11.5 .3-11.7 .3-9.6 .3-5.6 .3-.6 .5 4.7 .6 9 .7 11.6 .8 11.8 .8 9.8 .8 5.8 .7 .6 .6-4.7 .5-9 .4-11.6 .3-11.9 .3-9.8 .3-5.8 .4-.6 .4 4.7 .6 9.1 .7 11.7 .8 12.1 .8 9.9 .8 5.9 .7 .7 .7-4.7 .5-9.1 .3-11.8 .3-12.1 .3-10 .3-5.9 .4-.6 .5 4.7 .5 9.2 .7 11.9 .8 12.2 .8 10.2 .8 6 .8 .7 .6-4.7 .5-9.2 .4-12 .3-12.2 .2-10.2 .3-6.1 .4-.7 .5 4.8 .6 9.3 .7 12.1 .8 12.4 .8 10.3 .8 6.2 .7 .8 .6-4.8 .5-9.3 .4-12.1 .3-12.5 .3-10.4 .3-6.1 .3-.8 .5 4.8 .6 9.4 .7 12.2 .8 12.6 .8 10.5 .8 6.3 .7 .9 .6-4.8 .5-9.4 .4-12.3 .3-12.7 .3-10.5 .3-6.3 .4-.8 .4 4.8 .6 9.5 .7 12.4 .8 12.7 .8 10.7 .8 6.5 .7 .9 .7-4.8 .5-9.5 .3-12.5 .4-12.8 .2-10.7 .3-6.5 .4-.9 .5 4.8 .5 9.7 .7 12.5 .8 13 .8 10.8 .8 6.6 .8 1 .6-4.7 .5-9.7 .4-12.6 .3-13.1 .3-10.9 .2-6.5 .4-1 .5 4.8 .6 9.7 .7 12.7 .7 13.2 .9 11.1 .7 6.7 .8 1.1 .6-4.8 .5-9.8 .4-12.8 .3-13.2 .3-11.1 .3-6.7 .3-1.1 .5 4.9 .6 9.8 .7 12.9 .8 13.3 .8 11.3 .8 6.9 .7 1.1 .6-4.8 .5-9.9 .4-12.9 .3-13.4 .3-11.3 .3-6.9" stroke="#0000ff" stroke-width="3.7" fill="none" stroke-linejoin="round" stroke-dasharray="11.5 4.4"/>
<path d="M924.8 114.5l.3 0 .3 0 .4 0 .6 0 .6 .1 .8 .1 .8 .3 .8 .3 .8 .3 .6 .1 .6 0 .4-.2 .3-.3 .3-.4 .3-.3 .3-.2 .5-.1 .5 .2 .7 .4 .7 .5 .8 .6 .8 .7 .8 .4 .7 .2 .5-.1 .4-.5 .4-.7 .3-.7 .2-.7 .4-.4 .4-.1 .5 .3 .7 .7 .7 .9 .9 1 .8 1 .7 .6 .7 .3 .5-.3 .5-.8 .3-1 .3-1.2 .3-1 .3-.6 .4-.1 .6 .4 .6 .9 .8 1.3 .8 1.4 .8 1.3 .7 .9 .7 .3 .6-.4 .4-1.1 .3-1.4 .3-1.5 .3-1.3 .3-.9 .4-.1 .6 .5 .6 1.2 .8 1.7 .8 1.8 .8 1.6 .8 1.1 .6 .3 .6-.5 .4-1.3 .3-1.8 .3-2 .3-1.6 .3-1 .5-.3 .5 .7 .7 1.5 .7 2 .8 2.2 .8 2 .8 1.3 .7 .3 .5-.6 .4-1.6 .4-2.2 .3-2.3 .2-2 .4-1.2 .4-.3 .5 .8 .7 1.8 .7 2.4 .8 2.6 .8 2.2 .8 1.5 .7 .5 .5-.8 .5-1.9 .3-2.5 .3-2.7 .3-2.3 .3-1.5 .4-.3 .6 .9 .6 2 .8 2.8 .8 3 .8 2.6 .7 1.7 .7 .5 .6-.9 .4-2.2 .3-2.8 .3-3.1 .3-2.7 .3-1.7 .4-.3 .6 1 .6 2.3 .8 3.1 .8 3.4 .8 2.9 .8 2 .6 .5 .6-1 .4-2.4 .4-3.3 .2-3.4 .3-3 .3-1.9 .5-.5 .5 1.2 .6 2.5 .8 3.5 .8 3.8 .8 3.3 .8 2.2 .6 .5 .6-1.1 .4-2.7 .4-3.6 .3-3.9 .2-3.3 .4-2.1 .4-.5 .5 1.3 .7 2.8 .7 3.8 .8 4.2 .8 3.6 .8 2.4 .7 .7 .5-1.3 .5-2.9 .3-4 .3-4.2 .3-3.7 .3-2.4 .4-.5 .5 1.4 .7 3 .7 4.2 .8 4.6 .9 4 .7 2.6 .7 .7 .6-1.4 .4-3.1 .3-4.4 .3-4.6 .3-4.1 .3-2.5 .4-.7 .6 1.5 .6 3.4 .8 4.5 .8 5 .8 4.3 .7 2.8 .7 .8 .6-1.4 .4-3.5 .4-4.7 .2-5 .3-4.4 .3-2.8 .5-.7 .5 1.6 .6 3.6 .8 4.9 .8 5.3 .8 4.7 .8 3.1 .6 .9 .6-1.6 .4-3.7 .4-5.1 .3-5.4 .2-4.7 .4-3.1 .4-.7 .5 1.7 .7 3.8 .7 5.3 .8 5.7 .8 5 .8 3.4 .7 .9 .5-1.7 .5-3.9 .3-5.4 .3-5.9 .3-5 .3-3.3 .4-.9 .5 1.8 .7 4.1 .7 5.7 .8 6.1 .8 5.4 .8 3.5 .7 1 .5-1.7 .5-4.2 .3-5.8 .3-6.2 .3-5.4 .3-3.6 .4-.9 .6 1.9 .6 4.3 .8 6 .8 6.5 .8 5.8 .7 3.8 .7 1.1 .6-1.9 .4-4.4 .4-6.2 .3-6.6 .2-5.7 .4-3.8 .4-1 .5 1.9 .6 4.6 .8 6.4 .8 6.9 .8 6.1 .8 4 .6 1.2 .6-1.9 .4-4.7 .4-6.5 .3-7 .3-6.2 .3-4 .4-1.1 .5 2.1 .7 4.8 .7 6.8 .8 7.2 .8 6.5 .8 4.3 .7 1.2 .5-2 .5-4.9 .3-6.9 .3-7.4 .3-6.4 .3-4.3 .4-1.2 .5 2.2 .7 5 .7 7.1 .8 7.7 .8 6.8 .8 4.5 .7 1.4 .5-2.1 .5-5.2 .3-7.2 .3-7.8 .3-6.8 .3-4.5 .4-1.3 .6 2.2 .6 5.3 .7 7.4 .8 8.1 .9 7.1 .7 4.8 .7 1.5 .6-2.2 .4-5.4 .4-7.5 .3-8.2 .2-7.2 .4-4.8 .4-1.4 .5 2.3 .6 5.6 .8 7.8 .8 8.4 .8 7.5 .7 5.1 .7 1.5 .6-2.2 .4-5.7 .4-7.9 .3-8.6 .3-7.5 .3-5 .4-1.5 .5 2.4 .6 5.8 .8 8.1 .8 8.8 .8 7.9 .8 5.3 .6 1.7 .6-2.4 .5-5.8 .3-8.3 .3-9 .3-7.9 .3-5.2 .4-1.6 .5 2.4 .7 6 .7 8.5 .8 9.2 .8 8.3 .8 5.5 .7 1.8 .5-2.4 .5-6.1 .3-8.6 .3-9.4 .3-8.2 .3-5.6 .4-1.7 .6 2.6 .6 6.2 .7 8.8 .8 9.6 .8 8.6 .8 5.8 .7 1.9 .6-2.4 .4-6.4 .4-8.9 .3-9.8 .2-8.6 .4-5.8 .4-1.8 .5 2.6 .6 6.5 .7 9.1 .8 10 .9 9 .7 6.1 .7 2 .6-2.6 .4-6.5 .4-9.3 .3-10.2 .3-9 .3-6 .4-1.9 .5 2.6 .6 6.7 .8 9.5 .8 10.4 .8 9.3 .8 6.4 .6 2.1 .6-2.6 .5-6.8 .3-9.6 .3-10.5 .3-9.4 .3-6.3 .4-2.1 .5 2.7 .7 7 .7 9.8 .8 10.8 .8 9.7 .8 6.6 .7 2.2 .5-2.6 .5-7 .4-10 .2-10.9 .3-9.8 .3-6.6 .4-2.1 .5 2.8 .7 7.1 .7 10.2 .8 11.2 .8 10 .8 6.9 .7 2.4 .6-2.7 .4-7.3 .4-10.3 .3-11.3 .2-10.1 .4-6.9 .4-2.2 .5 2.8 .6 7.3 .7 10.5 .8 11.6 .8 10.5 .8 7.1 .7 2.5 .6-2.8 .4-7.4 .4-10.6 .3-11.8 .3-10.4 .3-7.2 .4-2.4 .5 2.9 .6 7.6 .8 10.8 .8 12 .8 10.8 .7 7.4 .7 2.6 .6-2.8 .5-7.6 .3-11 .3-12.1 .3-10.9 .3-7.4 .4-2.5 .5 2.9 .6 7.8 .8 11.2 .8 12.4 .8 11.1 .8 7.7 .7 2.8 .5-2.9 .5-7.8 .4-11.3 .2-12.6 .3-11.2 .3-7.7 .4-2.6 .5 2.9 .7 8 .7 11.5 .8 12.8 .8 11.5 .8 8 .7 2.9 .6-2.9 .4-8.1 .4-11.6 .3-12.9 .2-11.6 .4-8 .4-2.8 .5 3 .6 8.2 .7 11.9 .8 13.1 .8 11.9 .8 8.3 .7 3 .6-2.9 .4-8.3 .4-11.9 .3-13.3 .3-12 .3-8.3 .4-2.9 .5 3 .6 8.4 .7 12.2 .8 13.6 .9 12.2 .7 8.6 .7 3.1 .6-2.9 .5-8.5 .3-12.3 .3-13.7 .3-12.3 .3-8.6 .4-3 .5 3 .6 8.6 .8 12.5 .8 14 .8 12.6 .8 8.9 .7 3.3 .5-3 .5-8.7 .4-12.6 .3-14.1 .2-12.7 .3-8.9 .4-3.2 .5 3.1 .7 8.8 .7 12.9 .8 14.3 .8 13 .8 9.2 .7 3.4 .6-3 .4-8.9 .4-12.9 .3-14.5 .3-13.1 .3-9.1 .4-3.4 .5 3.1 .6 9 .7 13.2 .8 14.7 .8 13.4 .8 9.5 .7 3.5 .6-3 .5-9 .3-13.3 .3-14.9 .3-13.5 .3-9.4 .4-3.5 .5 3.1 .6 9.2 .7 13.5 .8 15.1 .8 13.8 .8 9.7 .7 3.8 .6-3.1 .5-9.2 .3-13.6 .3-15.3 .3-13.9 .3-9.7 .4-3.7 .5 3.2 .6 9.4 .8 13.8 .7 15.5 .9 14.2 .7 10 .7 3.9 .6-3.1 .5-9.4 .4-13.9 .3-15.7 .2-14.2 .3-10.1 .4-3.8 .5 3.2 .7 9.6 .7 14.1 .8 15.9 .8 14.5 .8 10.4 .7 4 .6-3.1 .4-9.6 .4-14.2 .3-16.1 .3-14.6 .3-10.3 .4-4 .5 3.2 .6 9.7 .7 14.5 .8 16.3 .8 14.9 .8 10.6 .7 4.2 .6-3.1 .5-9.8 .3-14.5 .3-16.4 .3-15.1 .3-10.6 .4-4.1 .5 3.2 .6 9.9 .7 14.7 .8 16.7 .8 15.4 .8 10.9 .7 4.4 .6-3.1 .5-10 .3-14.9 .3-16.8 .3-15.4 .3-11 .4-4.3 .5 3.2 .6 10.2 .7 15 .8 17.1 .8 15.7 .8 11.3 .7 4.5 .6-3.1 .5-10.2 .4-15.2 .3-17.2 .2-15.8 .3-11.2 .4-4.5 .5 3.2 .6 10.3 .8 15.4 .8 17.4 .8 16.2 .8 11.5 .7 4.7 .6-3.1 .4-10.3 .4-15.5 .3-17.6 .3-16.2 .3-11.6 .4-4.6 .5 3.2 .6 10.5 .7 15.6 .8 17.9 .8 16.5 .8 11.9 .7 4.8 .6-3.1 .5-10.5 .3-15.8 .3-18 .3-16.5 .3-11.9 .4-4.8 .5 3.2 .6 10.6 .7 16 .8 18.2 .8 16.9 .8 12.2 .7 5.1 .6-3.1 .5-10.7 .3-16.1 .3-18.4 .3-17 .3-12.2 .4-5 .5 3.2 .6 10.8 .7 16.4 .8 18.6 .8 17.3 .8 12.5 .7 5.2 .6-3.1 .5-10.9 .4-16.4 .3-18.7 .2-17.4 .4-12.5 .3-5.2 .5 3.2 .6 11 .8 16.6 .7 19 .9 17.7 .7 12.8 .7 5.4 .6-3.1 .5-11 .4-16.7 .3-19.2 .3-17.7 .3-12.8 .4-5.4 .4 3.2 .7 11.1 .7 16.9 .8 19.4 .8 18.1 .8 13.1 .7 5.6 .6-3 .5-11.2 .3-17 .3-19.6 .3-18.1 .3-13.2 .4-5.5 .5 3.1 .6 11.3 .7 17.3 .8 19.7 .8 18.5 .8 13.5 .7 5.7 .6-3 .5-11.3 .4-17.4 .3-19.9 .2-18.5 .3-13.5 .4-5.7 .5 3.1 .6 11.5 .7 17.5 .8 20.1 .8 18.9 .8 13.8 .7 6 .6-3.1 .5-11.4 .4-17.7 .3-20.3 .3-18.9 .3-13.8 .3-6 .5 3.2 .6 11.6 .7 17.8 .8 20.5 .8 19.3 .8 14.1 .7 6.2 .6-3 .5-11.7 .4-17.9 .3-20.7 .3-19.3 .3-14.1 .4-6.2 .4 3.1 .6 11.8 .8 18.1 .7 20.9 .9 19.7 .8 14.4 .7 6.4 .6-3 .5-11.8 .3-18.2 .3-21.1 .3-19.7 .3-14.4 .4-6.4 .5 3.1 .6 11.9 .7 18.4 .8 21.3 .8 20 .8 14.8 .7 6.6 .6-3 .5-11.9 .4-18.5 .3-21.4 .2-20.2 .3-14.8 .4-6.5 .5 3 .6 12.1 .7 18.7 .8 21.7 .8 20.4 .8 15.1 .7 6.8 .6-2.9 .5-12.1 .4-18.8 .3-21.8 .3-20.5 .3-15.2 .3-6.7 .5 3 .6 12.2 .7 19 .8 22.1 .8 20.8 .8 15.4 .7 7 .6-2.9 .5-12.2 .4-19.1 .3-22.2 .3-20.9 .3-15.5 .4-6.9 .4 2.9 .6 12.4 .7 19.2 .8 22.5 .8 21.2 .8 15.8 .8 7.2 .6-2.8 .5-12.4 .3-19.3 .3-22.6 .3-21.4 .3-15.8 .4-7.1 .5 2.9 .6 12.5 .7 19.5 .8 22.9 .8 21.6 .8 16.1 .7 7.4 .6-2.8 .5-12.4 .4-19.7 .3-23 .2-21.7 .3-16.2 .4-7.3 .5 2.8 .6 12.6 .7 19.9 .8 23.2 .8 22 .8 16.5 .7 7.6 .6-2.7 .5-12.6 .4-20 .3-23.3 .3-22.1 .3-16.5 .3-7.6 .5 2.8 .6 12.7 .7 20.1 .8 23.7 .8 22.4 .8 16.8 .7 7.8 .6-2.7 .5-12.7 .4-20.2 .3-23.8 .3-22.5 .3-16.8 .4-7.8 .4 2.7 .6 12.9 .7 20.4 .8 24 .8 22.8 .8 17.2 .7 8 .7-2.6 .5-12.9 .3-20.5 .3-24.1 .3-22.9 .3-17.2 .4-8 .5 2.7 .6 13 .7 20.6 .7 24.4 .9 23.2 .7 17.5 .8 8.3 .6-2.5 .5-13 .4-20.8 .3-24.5 .2-23.3 .3-17.6 .4-8.2 .5 2.6 .6 13.1 .7 21 .8 24.7 .8 23.7 .8 17.8 .7 8.5 .6-2.5 .5-13.1 .4-21.1 .3-24.8 .3-23.8 .3-17.8 .3-8.5 .5 2.6 .6 13.2 .7 21.2 .8 25.1 .8 24.1 .8 18.2 .7 8.7 .6-2.4 .5-13.2 .4-21.4 .3-25.2 .3-24.2 .3-18.2 .4-8.7 .4 2.5 .6 13.3 .7 21.5 .8 25.5 .8 24.5 .8 18.5 .7 9 .7-2.4 .5-13.3 .3-21.6 .3-25.6 .3-24.6 .3-18.6 .4-8.9 .5 2.4 .5 13.5 .7 21.8 .8 25.8 .8 24.9 .8 18.9 .8 9.2 .6-2.3 .5-13.4 .4-21.9 .3-26 .2-25 .3-18.9 .4-9.2 .5 2.4 .6 13.5 .7 22.1 .8 26.2 .8 25.3 .8 19.3 .7 9.4 .6-2.2 .5-13.6 .4-22.1 .3-26.4 .3-25.4 .3-19.3 .3-9.4 .5 2.3 .6 13.7 .7 22.3 .8 26.6 .8 25.7 .8 19.6 .7 9.7 .6-2.2 .5-13.6 .4-22.4 .3-26.8 .3-25.7 .3-19.7 .4-9.7 .4 2.2 .6 13.8 .7 22.6 .8 27 .8 26 .8 20 .7 10 .7-2.1 .5-13.8 .3-22.6 .4-27.2 .2-26.1 .3-20.1 .4-9.9 .5 2.2 .5 13.8 .7 22.9 .8 27.3 .8 26.5 .8 20.4 .8 10.2 .6-2 .5-13.9 .4-22.9 .3-27.5 .3-26.6 .2-20.4 .4-10.2 .5 2.1 .6 14 .7 23.1 .7 27.7 .9 26.9 .7 20.7 .8 10.5 .6-2 .5-13.9 .4-23.2 .3-27.9 .3-27 .3-20.7 .3-10.4 .5 1.9 .6 14.1 .7 23.3 .8 28.1 .8 27.3 .8 21.1 .7 10.7 .6-1.8 .5-14 .4-23.5 .3-28.2 .3-27.4 .3-21.1" stroke="#ff8000" stroke-width="3.7" fill="none" stroke-linejoin="round" stroke-dasharray="5.5 4.5 11 4.9"/>
<path d="M924.8 114.5l.3 .1 .3 0 .4-.1 .6-.1 .6 0 .8 .1 .8 .4 .8 .7 .8 .8 .6 .8 .6 .6 .4 .3 .3-.3 .3-.7 .3-.8 .3-1 .5-.8 .5-.5 .7 0 .7 .5 .8 1.2 .8 1.6 .8 1.8 .7 1.6 .5 1 .4 .2 .4-.7 .3-1.4 .2-1.8 .4-1.9 .4-1.6 .5-.9 .7-.1 .7 1 .9 2 .8 2.5 .7 2.8 .7 2.3 .5 1.5 .5 .2 .3-1.1 .3-2.2 .3-2.8 .3-2.9 .4-2.3 .6-1.4 .6 0 .8 1.4 .8 2.7 .8 3.5 .7 3.8 .7 3.1 .6 1.9 .4 .2 .3-1.6 .3-2.9 .3-3.8 .3-3.8 .4-3.1 .6-1.8 .6 0 .8 1.8 .8 3.5 .8 4.4 .8 4.7 .6 3.9 .6 2.3 .4 .2 .3-1.9 .3-3.7 .3-4.7 .3-4.8 .5-3.9 .5-2.2 .7-.1 .7 2.3 .8 4.2 .8 5.4 .8 5.6 .7 4.7 .5 2.8 .4 .2 .4-2.3 .3-4.5 .2-5.6 .4-5.8 .4-4.6 .5-2.7 .7-.1 .7 2.6 .8 5 .8 6.4 .8 6.5 .7 5.5 .5 3.2 .5 .3 .3-2.7 .3-5.2 .3-6.6 .3-6.7 .4-5.5 .6-3.1 .6-.1 .8 3 .8 5.7 .8 7.3 .7 7.5 .7 6.3 .6 3.7 .4 .3 .3-3.1 .3-6 .3-7.5 .3-7.7 .4-6.2 .6-3.6 .6-.2 .8 3.4 .8 6.4 .8 8.3 .8 8.5 .6 7.1 .6 4.1 .4 .4 .4-3.5 .2-6.7 .3-8.5 .3-8.6 .5-7.1 .5-4 .6-.2 .8 3.8 .8 7.1 .8 9.2 .8 9.5 .6 7.8 .6 4.7 .4 .4 .4-3.9 .3-7.4 .2-9.4 .4-9.6 .4-7.9 .5-4.5 .7-.3 .7 4.2 .8 7.8 .8 10.2 .8 10.4 .7 8.7 .5 5.1 .5 .5 .3-4.3 .3-8.1 .3-10.3 .3-10.6 .4-8.7 .5-5 .7-.3 .7 4.5 .8 8.6 .9 11.1 .7 11.4 .7 9.4 .6 5.6 .4 .6 .3-4.6 .3-8.8 .3-11.4 .3-11.5 .4-9.5 .6-5.5 .6-.4 .8 4.9 .8 9.3 .8 12 .7 12.4 .7 10.3 .6 6 .4 .7 .4-4.9 .2-9.6 .3-12.2 .3-12.6 .5-10.3 .5-6 .6-.5 .8 5.3 .8 10 .8 12.9 .8 13.4 .6 11.1 .6 6.6 .4 .7 .4-5.3 .3-10.2 .2-13.2 .4-13.5 .4-11.1 .5-6.5 .7-.6 .7 5.5 .8 10.8 .8 13.8 .8 14.4 .7 11.9 .5 7.1 .5 .8 .3-5.6 .3-11 .3-14.1 .3-14.4 .4-12 .5-7 .7-.7 .7 5.9 .8 11.4 .8 14.8 .8 15.3 .7 12.8 .5 7.6 .5 .9 .3-5.9 .3-11.7 .3-15 .3-15.4 .4-12.8 .6-7.6 .6-.8 .8 6.2 .8 12.2 .8 15.7 .7 16.3 .7 13.5 .6 8.2 .4 1 .4-6.2 .3-12.4 .2-15.9 .4-16.4 .4-13.6 .5-8.1 .6-.9 .8 6.5 .8 12.8 .8 16.6 .8 17.3 .6 14.4 .6 8.7 .4 1.2 .4-6.6 .3-13 .3-16.9 .3-17.4 .4-14.5 .5-8.6 .7-1 .7 6.8 .8 13.5 .8 17.6 .8 18.2 .7 15.3 .5 9.2 .5 1.3 .3-6.9 .3-13.7 .3-17.8 .3-18.4 .4-15.3 .5-9.1 .7-1.2 .7 7.1 .8 14.2 .8 18.5 .8 19.2 .7 16.1 .5 9.8 .5 1.4 .3-7.2 .3-14.4 .3-18.7 .3-19.3 .4-16.2 .6-9.7 .6-1.3 .7 7.4 .8 14.9 .9 19.4 .7 20.2 .7 16.9 .6 10.3 .4 1.6 .4-7.4 .3-15.1 .2-19.6 .4-20.3 .4-17 .5-10.3 .6-1.5 .8 7.8 .8 15.5 .8 20.3 .7 21.1 .7 17.8 .6 10.9 .4 1.8 .4-7.8 .3-15.7 .3-20.5 .3-21.4 .4-17.8 .5-10.8 .6-1.7 .8 8 .8 16.2 .8 21.2 .8 22.2 .6 18.6 .6 11.5 .5 1.9 .3-8 .3-16.4 .3-21.5 .3-22.2 .4-18.7 .5-11.4 .7-1.8 .7 8.2 .8 16.8 .8 22.2 .8 23.1 .7 19.5 .5 12.1 .5 2 .3-8.3 .3-17 .3-22.3 .3-23.3 .4-19.6 .6-12 .6-1.9 .7 8.5 .8 17.5 .8 23 .8 24.1 .7 20.4 .6 12.6 .4 2.3 .4-8.6 .3-17.7 .2-23.2 .4-24.3 .4-20.4 .5-12.6 .6-2.1 .7 8.8 .8 18.1 .9 23.9 .7 25.1 .7 21.3 .6 13.2 .4 2.4 .4-8.8 .3-18.3 .3-24.2 .3-25.2 .4-21.3 .5-13.2 .6-2.3 .8 9 .8 18.8 .8 24.8 .8 26.1 .6 22.1 .6 13.8 .5 2.6 .3-9 .3-18.9 .3-25.1 .3-26.2 .4-22.2 .5-13.8 .7-2.5 .7 9.3 .8 19.3 .8 25.8 .8 27 .7 23.1 .5 14.3 .5 2.9 .4-9.3 .2-19.6 .3-25.9 .3-27.2 .4-23.1 .5-14.4 .7-2.7 .7 9.5 .8 20 .8 26.6 .8 28.1 .7 23.9 .6 15 .4 3 .4-9.5 .3-20.2 .2-26.8 .4-28.2 .4-24 .5-14.9 .6-3 .7 9.7 .8 20.6 .8 27.6 .8 29 .7 24.8 .6 15.6 .4 3.3 .4-9.8 .3-20.8 .3-27.7 .3-29.2 .4-24.8 .5-15.6 .6-3.2 .8 10 .8 21.2 .8 28.4 .7 30 .7 25.7 .6 16.2 .5 3.5 .3-9.9 .3-21.4 .3-28.7 .3-30.1 .4-25.8 .5-16.2 .6-3.4 .8 10.2 .8 21.8 .8 29.3 .8 31 .7 26.6 .5 16.8 .5 3.8 .4-10.2 .2-22 .3-29.5 .3-31.2 .4-26.6 .5-16.8 .7-3.7 .7 10.4 .8 22.4 .8 30.1 .8 32 .7 27.5 .6 17.5 .4 4 .4-10.3 .3-22.7 .2-30.3 .4-32.2 .4-27.5 .5-17.5 .6-3.9 .7 10.6 .8 23 .8 31 .8 33 .7 28.4 .6 18.1 .4 4.2 .4-10.5 .3-23.2 .3-31.3 .3-33.1 .4-28.4 .5-18.1 .6-4.2 .7 10.7 .8 23.6 .9 32 .7 33.9 .7 29.3 .6 18.8 .5 4.5 .3-10.7 .3-23.8 .3-32.2 .3-34.1 .4-29.3 .5-18.8 .6-4.4 .8 10.9 .8 24.2 .8 32.8 .8 34.9 .7 30.2 .5 19.5 .5 4.7 .4-10.8 .3-24.4 .2-33 .3-35.1 .4-30.3 .5-19.4 .7-4.7 .7 11.1 .8 24.7 .8 33.7 .8 35.9 .7 31.1 .6 20.1 .4 5.1 .4-11.1 .3-24.9 .3-33.9 .3-36.1 .4-31.2 .5-20 .6-5 .7 11.2 .8 25.4 .8 34.5 .8 36.9 .7 32 .6 20.8 .5 5.3 .3-11.2 .3-25.5 .3-34.7 .3-37.1 .4-32.1 .5-20.8 .6-5.2 .7 11.4 .8 25.9 .8 35.4 .8 37.9 .7 32.9 .6 21.5 .5 5.6 .3-11.4 .3-26 .3-35.6 .3-38.1 .4-33 .5-21.5 .6-5.5 .8 11.5 .7 26.5 .9 36.2 .7 38.9 .7 33.9 .6 22.1 .5 5.9 .4-11.5 .3-26.6 .2-36.4 .3-39.1 .4-34 .5-22.1 .7-5.8 .7 11.7 .8 27 .8 37 .8 39.9 .7 34.9 .6 22.7 .4 6.3 .4-11.7 .3-27.1 .3-37.3 .3-40.1 .4-34.9 .5-22.8 .6-6.1 .7 11.8 .8 27.5 .8 38 .8 40.8 .7 35.8 .6 23.5 .5 6.5 .3-11.7 .3-27.7 .3-38.2 .3-41 .4-35.9 .5-23.4 .6-6.5 .7 11.9 .8 28.1 .8 38.8 .8 41.8 .7 36.7 .6 24.2 .5 6.9 .3-11.9 .3-28.2 .3-39 .3-42.1 .4-36.7 .5-24.2 .6-6.8 .7 12 .8 28.6 .8 39.6 .8 42.9 .7 37.6 .6 24.9 .5 7.2 .4-12 .3-28.7 .2-39.9 .3-43 .4-37.7 .5-24.9 .6-7.1 .8 12.1 .8 29.2 .8 40.4 .8 43.9 .7 38.5 .6 25.6 .4 7.6 .4-12.1 .3-29.3 .3-40.7 .3-44 .4-38.6 .5-25.6 .6-7.5 .7 12.2 .8 29.7 .8 41.3 .8 44.8 .7 39.5 .6 26.3 .5 7.9 .3-12.2 .3-29.8 .3-41.5 .3-45 .4-39.6 .5-26.3 .6-7.8 .7 12.3 .8 30.2 .8 42.1 .8 45.8 .7 40.5 .6 27 .5 8.2 .3-12.2 .3-30.3 .3-42.4 .3-45.9 .4-40.6 .5-27 .6-8.2 .7 12.4 .8 30.7 .8 42.9 .8 46.8 .7 41.4 .6 27.8 .5 8.6 .4-12.3 .3-30.8 .2-43.2 .4-47 .3-41.5 .5-27.8 .6-8.5 .8 12.5 .7 31.1 .9 43.8 .7 47.8 .7 42.4 .6 28.5 .5 8.9 .4-12.4 .3-31.3 .3-44 .3-47.9 .4-42.5 .4-28.5 .7-8.9 .7 12.5 .8 31.7 .8 44.6 .8 48.8 .7 43.3 .6 29.2 .5 9.4 .3-12.5 .3-31.8 .3-44.8 .3-48.9 .4-43.4 .5-29.3 .6-9.3 .7 12.6 .8 32.1 .8 45.4 .8 49.8 .7 44.3 .6 30 .5 9.7 .4-12.5 .3-32.3 .2-45.6 .3-49.9 .4-44.4 .5-30 .6-9.7 .7 12.7 .8 32.6 .8 46.2 .8 50.7 .7 45.3 .6 30.7 .5 10.1 .4-12.5 .3-32.7 .3-46.5 .3-50.9 .3-45.3 .5-30.8 .6-10.1 .7 12.7 .8 33.1 .8 47 .8 51.7 .7 46.2 .6 31.6 .5 10.5 .4-12.6 .3-33.2 .3-47.3 .3-51.9 .4-46.3 .4-31.5 .6-10.5 .8 12.8 .7 33.5 .9 47.8 .8 52.7 .7 47.2 .6 32.3 .5 10.9 .3-12.6 .3-33.7 .3-48 .3-52.9 .4-47.3 .5-32.3 .6-10.9 .7 12.8 .8 34 .8 48.6 .8 53.7 .7 48.2 .6 33 .5 11.3 .4-12.6 .3-34.1 .2-48.8 .3-53.9 .4-48.3 .5-33 .6-11.4 .7 12.8 .8 34.5 .8 49.4 .8 54.7 .7 49.1 .6 33.8 .5 11.8 .4-12.7 .3-34.5 .3-49.7 .3-54.8 .3-49.2 .5-33.9 .6-11.7 .7 12.7 .8 34.9 .8 50.2 .8 55.7 .7 50.1 .6 34.6 .5 12.2 .4-12.6 .3-35 .3-50.5 .3-55.8 .4-50.2 .4-34.7 .6-12.1 .7 12.8 .8 35.3 .8 51 .8 56.6 .8 51.1 .6 35.4 .5 12.6 .3-12.6 .3-35.4 .3-51.2 .3-56.9 .4-51.2 .5-35.4 .6-12.6 .7 12.8 .8 35.7 .8 51.8 .8 57.6 .7 52.1 .6 36.2 .5 13.1 .4-12.7 .3-35.8 .2-52 .3-57.8 .4-52.2 .5-36.2 .6-13.1 .7 12.8 .8 36.1 .8 52.6 .8 58.6 .7 53 .6 37 .5 13.6 .4-12.6 .3-36.3 .3-52.8 .3-58.7 .3-53.2 .5-37 .6-13.6 .7 12.8 .8 36.6 .8 53.3 .8 59.5 .7 54.1 .6 37.8 .5 14 .4-12.6 .3-36.7 .3-53.5 .3-59.8 .4-54.1 .4-37.8 .6-14 .7 12.7 .8 37 .8 54 .8 60.6 .7 55 .7 38.6 .5 14.5 .3-12.5 .3-37.1 .3-54.3 .3-60.7 .4-55.2 .5-38.6 .6-14.5 .7 12.6 .7 37.4 .9 54.9 .7 61.5 .8 56.1 .6 39.4 .5 14.9 .4-12.5 .3-37.5 .2-55 .3-61.7 .4-56.2 .5-39.4 .6-15 .7 12.6 .8 37.8 .8 55.6 .8 62.5 .7 57.1 .6 40.2 .5 15.5 .4-12.5 .3-37.9 .3-55.8 .3-62.7 .3-57.1 .5-40.3 .6-15.5 .7 12.6 .8 38.2 .8 56.3 .8 63.5 .7 58 .6 41.1 .5 16 .4-12.4 .3-38.3 .3-56.6 .3-63.6 .4-58.2 .4-41.1 .6-15.9 .7 12.5 .8 38.5 .8 57.1 .8 64.5 .7 59 .7 41.9 .5 16.5 .3-12.3 .3-38.7 .3-57.3 .3-64.6 .4-59.2 .5-41.9 .5-16.5 .7 12.4 .8 39 .8 57.8 .8 65.4 .8 60.1 .6 42.7 .5 17 .4-12.3 .3-39 .2-58 .3-65.6 .4-60.2 .5-42.8 .6-16.9 .7 12.3 .8 39.3 .8 58.6 .8 66.4 .7 61 .6 43.6 .5 17.5 .4-12.2 .3-39.3 .3-58.8 .3-66.6 .3-61.2 .5-43.6 .6-17.5 .7 12.2 .8 39.7 .8 59.3 .8 67.4 .7 62 .6 44.5 .5 18 .4-12.1 .3-39.7 .3-59.5 .3-67.6 .4-62.1 .4-44.5 .6-18 .7 12.1 .8 40 .8 60.1 .8 68.3 .7 63 .7 45.4 .5 18.5 .3-12 .4-40.1 .2-60.2 .3-68.5 .4-63.2 .5-45.4 .5-18.5 .7 12 .8 40.4 .8 60.8 .8 69.3 .8 64 .6 46.2 .5 19.1 .4-11.9 .3-40.4 .3-61 .2-69.4 .4-64.2 .5-46.3 .6-19 .7 11.9 .7 40.7 .9 61.5 .7 70.2 .8 65.1 .6 47 .5 19.7 .4-11.8 .3-40.7 .3-61.7 .3-70.5 .3-65.2 .5-47.1 .6-19.6 .7 11.8 .8 41 .8 62.3 .8 71.2 .7 66.1 .6 47.9 .5 20.1 .4-11.6 .3-41 .3-62.5 .3-71.3" stroke="#00a800" stroke-width="3.7" fill="none" stroke-linejoin="round" stroke-dasharray="5.5 4.4"/>
<path d="M924.8 419.9v-6.8M924.8 61.0v6.8M952.7 419.9v-4.2M952.7 61.0v4.2M980.5 419.9v-4.2M980.5 61.0v4.2M1008.4 419.9v-4.2M1008.4 61.0v4.2M1036.3 419.9v-6.8M1036.3 61.0v6.8M1064.1 419.9v-4.2M1064.1 61.0v4.2M1092.0 419.9v-4.2M1092.0 61.0v4.2M1119.9 419.9v-4.2M1119.9 61.0v4.2M1147.7 419.9v-6.8M1147.7 61.0v6.8M1175.6 419.9v-4.2M1175.6 61.0v4.2M1203.4 419.9v-4.2M1203.4 61.0v4.2M1231.3 419.9v-4.2M1231.3 61.0v4.2M1259.2 419.9v-6.8M1259.2 61.0v6.8M1287.0 419.9v-4.2M1287.0 61.0v4.2M1314.9 419.9v-4.2M1314.9 61.0v4.2M1342.8 419.9v-4.2M1342.8 61.0v4.2M1370.6 419.9v-6.8M1370.6 61.0v6.8M1398.5 419.9v-4.2M1398.5 61.0v4.2M1426.4 419.9v-4.2M1426.4 61.0v4.2M1454.2 419.9v-4.2M1454.2 61.0v4.2M1482.1 419.9v-6.8M1482.1 61.0v6.8M913.2 413.7h4.2M1493.8 413.7h-4.2M913.2 400.7h4.2M1493.8 400.7h-4.2M913.2 387.7h4.2M1493.8 387.7h-4.2M913.2 374.7h6.8M1493.8 374.7h-6.8M913.2 361.7h4.2M1493.8 361.7h-4.2M913.2 348.7h4.2M1493.8 348.7h-4.2M913.2 335.7h4.2M1493.8 335.7h-4.2M913.2 322.7h4.2M1493.8 322.7h-4.2M913.2 309.6h6.8M1493.8 309.6h-6.8M913.2 296.6h4.2M1493.8 296.6h-4.2M913.2 283.6h4.2M1493.8 283.6h-4.2M913.2 270.6h4.2M1493.8 270.6h-4.2M913.2 257.6h4.2M1493.8 257.6h-4.2M913.2 244.6h6.8M1493.8 244.6h-6.8M913.2 231.6h4.2M1493.8 231.6h-4.2M913.2 218.6h4.2M1493.8 218.6h-4.2M913.2 205.6h4.2M1493.8 205.6h-4.2M913.2 192.6h4.2M1493.8 192.6h-4.2M913.2 179.6h6.8M1493.8 179.6h-6.8M913.2 166.5h4.2M1493.8 166.5h-4.2M913.2 153.5h4.2M1493.8 153.5h-4.2M913.2 140.5h4.2M1493.8 140.5h-4.2M913.2 127.5h4.2M1493.8 127.5h-4.2M913.2 114.5h6.8M1493.8 114.5h-6.8M913.2 101.5h4.2M1493.8 101.5h-4.2M913.2 88.5h4.2M1493.8 88.5h-4.2M913.2 75.5h4.2M1493.8 75.5h-4.2M913.2 62.5h4.2M1493.8 62.5h-4.2" stroke="#000" stroke-width="1.3" fill="none"/>
<rect x="913.2" y="61.0" width="580.6" height="358.9" stroke="#000" stroke-width="1.6" fill="none"/>
<g font-family='"Liberation Sans", sans-serif' font-size="36.80"><text x="899.8" y="124.4" text-anchor="end">0</text><text x="899.8" y="189.5" text-anchor="end">−5</text><text x="899.8" y="254.5" text-anchor="end">−10</text><text x="899.8" y="319.5" text-anchor="end">−15</text><text x="899.8" y="384.6" text-anchor="end">−20</text><text x="924.8" y="461.0" text-anchor="middle">0</text><text x="1036.3" y="461.0" text-anchor="middle">2</text><text x="1147.7" y="461.0" text-anchor="middle">4</text><text x="1259.2" y="461.0" text-anchor="middle">6</text><text x="1370.6" y="461.0" text-anchor="middle">8</text><text x="1482.1" y="461.0" text-anchor="middle">10</text></g>
<path d="M955.1 261.3H1034.8" stroke="#ff0000" stroke-width="3.7"/>
<text x="1045.4" y="267.1" font-size="36.00"><tspan font-family='"Liberation Sans", sans-serif' font-style="italic">e</tspan><tspan font-family='"Liberation Serif", serif' dx="2.0">=0.7</tspan></text>
<path d="M955.1 307.3H1030.1" stroke="#0000ff" stroke-width="3.7" stroke-dasharray="11.5 4.4"/>
<text x="1045.4" y="313.1" font-size="36.00"><tspan font-family='"Liberation Sans", sans-serif' font-style="italic">e</tspan><tspan font-family='"Liberation Serif", serif' dx="2.0">=0.75</tspan></text>
<path d="M955.1 353.7H1028.1" stroke="#ff8000" stroke-width="3.7" stroke-dasharray="5.5 4.5 11 4.9"/>
<text x="1045.4" y="359.5" font-size="36.00"><tspan font-family='"Liberation Sans", sans-serif' font-style="italic">e</tspan><tspan font-family='"Liberation Serif", serif' dx="2.0">=0.8</tspan></text>
<path d="M955.1 399.5H1030.1" stroke="#00a800" stroke-width="3.7" stroke-dasharray="5.5 4.4"/>
<text x="1045.4" y="405.3" font-size="36.00"><tspan font-family='"Liberation Sans", sans-serif' font-style="italic">e</tspan><tspan font-family='"Liberation Serif", serif' dx="2.0">=0.85</tspan></text>
<text x="910.2" y="35.9" font-family='"Liberation Serif", serif' font-size="37.37">Be star−pulsar</text>
<text x="1156.1" y="35.9" font-family='"Liberation Sans", sans-serif' font-style="italic" font-size="37.77">GS</text>
<text x="1212.9" y="35.9" font-family='"Liberation Sans", sans-serif' font-style="italic" font-size="36.78">ε</text>
<text x="1228.8" y="17.4" font-family='"Liberation Sans", sans-serif' font-size="26.34">2</text>
<text x="1243.2" y="35.9" font-family='"Liberation Sans", sans-serif' font-style="italic" font-size="38.27">c</text>
<text x="1264.6" y="17.4" font-family='"Liberation Sans", sans-serif' font-size="27.34">−2</text>
<text x="1319.7" y="35.9" font-family='"Liberation Serif", serif' font-size="37.18">timing shift</text>
<text x="1163.8" y="511.7" font-family='"Liberation Sans", sans-serif' font-style="italic" font-size="39.6">t</text><text x="1189.5" y="511.7" font-family='"Liberation Serif", serif' font-size="36.2">(yr)</text>
<text transform="translate(805.9 240.1) rotate(-90)" text-anchor="middle" font-family='"Liberation Serif", serif' font-size="38.71">Δ(<tspan font-style="italic">δτ</tspan>) (<tspan font-style="italic">μ</tspan>s)</text>
<path d="M256.3 641.6V998.6M367.1 641.6V998.6M477.9 641.6V998.6M588.7 641.6V998.6M134.0 672.9H711.0M134.0 752.8H711.0M134.0 832.7H711.0M134.0 992.5H711.0" stroke="#b4b4b4" stroke-width="1.3" fill="none"/>
<path d="M134.0 912.6H711.0" stroke="#000" stroke-width="1.4" fill="none"/>
<path d="M145.5 912.6l.8 0 .7 0 .8 0 .7-.1 .8 .1 .7 0 .8 0 .8 0 .7 0 .8-.1 .7 0 .8-.1 .8 0 .7 0 .8 .1 .7 0 .8 .1 .7 0 .8-.1 .8-.1 .7-.1 .8-.1 .7 0 .8 .1 .7 .1 .8 .1 .8 .1 .7 0 .8-.1 .7-.1 .8-.2 .8-.1 .7 0 .8 .1 .7 .1 .8 .2 .7 .1 .8 0 .8-.1 .7-.2 .8-.2 .7-.2 .8 0 .7 .1 .8 .2 .8 .2 .7 .2 .8 0 .7-.2 .8-.2 .8-.3 .7-.1 .8-.1 .7 .2 .8 .2 .7 .3 .8 .2 .8 0 .7-.2 .8-.3 .7-.3 .8-.2 .7 0 .8 .2 .8 .3 .7 .3 .8 .2 .7 0 .8-.2 .8-.4 .7-.3 .8-.2 .7-.1 .8 .2 .7 .4 .8 .3 .8 .3 .7 0 .8-.2 .7-.4 .8-.4 .7-.3 .8 0 .8 .2 .7 .4 .8 .4 .7 .3 .8 0 .8-.3 .7-.4 .8-.5 .7-.3 .8 0 .7 .3 .8 .4 .8 .4 .7 .4 .8 0 .7-.3 .8-.5 .7-.5 .8-.3 .8-.1 .7 .3 .8 .5 .7 .5 .8 .3 .7 .1 .8-.3 .8-.6 .7-.5 .8-.4 .7 0 .8 .3 .8 .5 .7 .6 .8 .3 .7 .1 .8-.4 .7-.5 .8-.6 .8-.4 .7-.1 .8 .3 .7 .6 .8 .6 .7 .4 .8 .1 .8-.4 .7-.6 .8-.7 .7-.4 .8 0 .8 .3 .7 .6 .8 .7 .7 .4 .8 .1 .7-.4 .8-.7 .8-.7 .7-.4 .8-.1 .7 .4 .8 .6 .7 .7 .8 .5 .8 .1 .7-.4 .8-.8 .7-.7 .8-.5 .8-.1 .7 .4 .8 .7 .7 .8 .8 .5 .7 .1 .8-.5 .8-.7 .7-.8 .8-.6 .7 0 .8 .4 .7 .8 .8 .8 .8 .5 .7 .1 .8-.5 .7-.8 .8-.8 .8-.6 .7-.1 .8 .5 .7 .8 .8 .8 .7 .6 .8 .1 .8-.5 .7-.9 .8-.9 .7-.6 .8-.1 .7 .5 .8 .9 .8 .9 .7 .6 .8 .1 .7-.5 .8-.9 .8-1 .7-.6 .8-.1 .7 .5 .8 .9 .7 .9 .8 .7 .8 .1 .7-.6 .8-.9 .7-1 .8-.7 .7-.1 .8 .5 .8 1 .7 1 .8 .7 .7 .1 .8-.6 .8-1 .7-1 .8-.7 .7-.1 .8 .5 .7 1 .8 1 .8 .8 .7 .1 .8-.6 .7-1 .8-1.1 .7-.8 .8-.1 .8 .5 .7 1.1 .8 1.1 .7 .7 .8 .2 .8-.6 .7-1.1 .8-1.1 .7-.8 .8-.2 .7 .6 .8 1.1 .8 1.1 .7 .8 .8 .2 .7-.7 .8-1.1 .7-1.2 .8-.8 .8-.1 .7 .6 .8 1.1 .7 1.2 .8 .8 .8 .2 .7-.7 .8-1.1 .7-1.3 .8-.9 .7-.1 .8 .6 .8 1.2 .7 1.2 .8 .9 .7 .2 .8-.7 .7-1.2 .8-1.3 .8-.9 .7-.2 .8 .7 .7 1.2 .8 1.3 .8 .9 .7 .2 .8-.7 .7-1.3 .8-1.3 .7-1 .8-.1 .8 .6 .7 1.3 .8 1.3 .7 1 .8 .2 .7-.7 .8-1.3 .8-1.4 .7-1 .8-.2 .7 .7 .8 1.3 .7 1.4 .8 1 .8 .2 .7-.7 .8-1.4 .7-1.4 .8-1.1 .8-.2 .7 .7 .8 1.4 .7 1.4 .8 1.1 .7 .2 .8-.8 .8-1.3 .7-1.5 .8-1.1 .7-.2 .8 .7 .7 1.4 .8 1.5 .8 1.1 .7 .2 .8-.8 .7-1.4 .8-1.6 .8-1.1 .7-.2 .8 .7 .7 1.5 .8 1.5 .7 1.1 .8 .3 .8-.8 .7-1.5 .8-1.6 .7-1.1 .8-.3 .7 .8 .8 1.5 .8 1.6 .7 1.1 .8 .3 .7-.8 .8-1.5 .8-1.7 .7-1.2 .8-.2 .7 .8 .8 1.5 .7 1.6 .8 1.2 .8 .3 .7-.8 .8-1.6 .7-1.7 .8-1.2 .7-.3 .8 .8 .8 1.6 .7 1.7 .8 1.2 .7 .3 .8-.9 .8-1.5 .7-1.8 .8-1.3 .7-.2 .8 .8 .7 1.5 .8 1.8 .8 1.3 .7 .3 .8-.9 .7-1.6 .8-1.8 .7-1.3 .8-.3 .8 .8 .7 1.6 .8 1.9 .7 1.3 .8 .3 .8-.9 .7-1.7 .8-1.8 .7-1.4 .8-.3 .7 .9 .8 1.6 .8 1.9 .7 1.4 .8 .3 .7-.9 .8-1.7 .7-1.9 .8-1.4 .8-.3 .7 .8 .8 1.7 .7 1.9 .8 1.4 .8 .4 .7-.9 .8-1.8 .7-1.9 .8-1.5 .7-.3 .8 .9 .8 1.7 .7 2 .8 1.4 .7 .4 .8-.9 .7-1.8 .8-2 .8-1.5 .7-.4 .8 .9 .7 1.8 .8 2 .8 1.5 .7 .4 .8-.9 .7-1.9 .8-2 .7-1.6 .8-.3 .8 .9 .7 1.8 .8 2.1 .7 1.5 .8 .4 .7-1 .8-1.8 .8-2.1 .7-1.6 .8-.4 .7 .9 .8 1.9 .8 2.1 .7 1.6 .8 .4 .7-1 .8-1.9 .7-2.1 .8-1.6 .8-.5 .7 1 .8 1.9 .7 2.2 .8 1.6 .7 .4 .8-1 .8-1.9 .7-2.3 .8-1.6 .7-.4 .8 .9 .8 2 .7 2.2 .8 1.6 .7 .5 .8-1 .7-2 .8-2.3 .8-1.6 .7-.5 .8 .9 .7 2 .8 2.3 .7 1.7 .8 .5 .8-1 .7-2 .8-2.4 .7-1.7 .8-.5 .7 1 .8 2 .8 2.4 .7 1.7 .8 .5 .7-1 .8-2.1 .8-2.4 .7-1.7 .8-.5 .7 .9 .8 2.1 .7 2.4 .8 1.8 .8 .5 .7-1 .8-2.1 .7-2.5 .8-1.8 .7-.5 .8 1 .8 2.1 .7 2.4 .8 1.9 .7 .5 .8-1 .8-2.2 .7-2.5 .8-1.8 .7-.6 .8 1 .7 2.2 .8 2.5 .8 1.8 .7 .6 .8-1 .7-2.2 .8-2.6 .7-1.9 .8-.5 .8 1 .7 2.2 .8 2.5 .7 1.9 .8 .6 .8-1 .7-2.3 .8-2.6 .7-1.9 .8-.6 .7 1 .8 2.3 .8 2.5 .7 2 .8 .6 .7-1.1 .8-2.2 .7-2.7 .8-2 .8-.6 .7 1.1 .8 2.2 .7 2.7 .8 2 .8 .6 .7-1.1 .8-2.3 .7-2.6 .8-2.1 .7-.6 .8 1 .8 2.3 .7 2.7 .8 2.1 .7 .6 .8-1.1 .7-2.3 .8-2.7 .8-2.1 .7-.7 .8 1.1 .7 2.3 .8 2.7 .8 2.1 .7 .7 .8-1.1 .7-2.4 .8-2.7 .7-2.2 .8-.7 .8 1.1 .7 2.4 .8 2.8 .7 2.1 .8 .7 .7-1.1 .8-2.4 .8-2.8 .7-2.2 .8-.7 .7 1 .8 2.5 .8 2.8 .7 2.2 .8 .7 .7-1.1 .8-2.4 .7-2.9 .8-2.3 .8-.7 .7 1.1 .8 2.4 .7 2.9 .8 2.3 .7 .7 .8-1.1 .8-2.5 .7-2.9 .8-2.3 .7-.7 .8 1 .8 2.5 .7 3 .8 2.2 .7 .8 .8-1.1 .7-2.5 .8-3 .8-2.3 .7-.8 .8 1.1 .7 2.5 .8 3 .7 2.3 .8 .8 .8-1.1 .7-2.6 .8-3 .7-2.4 .8-.8 .8 1.1 .7 2.6 .8 3 .7 2.4 .8 .8 .7-1.1 .8-2.6 .8-3.1 .7-2.4 .8-.8 .7 1 .8 2.6 .7 3.1 .8 2.5 .8 .8 .7-1.1 .8-2.6 .7-3.2 .8-2.5 .8-.8 .7 1.1 .8 2.6 .7 3.2 .8 2.4 .7 .9 .8-1.1 .8-2.7 .7-3.2 .8-2.5 .7-.9 .8 1.1 .7 2.7 .8 3.2 .8 2.5 .7 .9 .8-1.1 .7-2.7 .8-3.3 .7-2.5 .8-.9 .8 1.1 .7 2.7 .8 3.2 .7 2.6 .8 .9 .8-1.1 .7-2.8 .8-3.3 .7-2.6 .8-.9 .7 1.1 .8 2.7 .8 3.3 .7 2.7 .8 .9 .7-1.1 .8-2.8 .7-3.3 .8-2.7 .8-1 .7 1.1 .8 2.8 .7 3.4 .8 2.6 .8 1 .7-1.1 .8-2.8 .7-3.4 .8-2.7 .7-1 .8 1.1 .8 2.8 .7 3.4 .8 2.7 .7 1 .8-1.1 .7-2.9 .8-3.4 .8-2.8 .7-1 .8 1.1 .7 2.9 .8 3.4 .8 2.8 .7 1 .8-1.1 .7-2.9 .8-3.5 .7-2.8 .8-1.1 .8 1.2 .7 2.8 .8 3.5 .7 2.9 .8 1 .7-1.1 .8-2.9 .8-3.6 .7-2.9 .8-1 .7 1.1 .8 2.9 .8 3.6 .7 2.8 .8 1.1 .7-1.1 .8-3 .7-3.6 .8-2.9 .8-1.1 .7 1.1 .8 3 .7 3.6 .8 2.9 .7 1.1 .8-1.1 .8-3 .7-3.7 .8-2.9 .7-1.2 .8 1.2 .8 2.9 .7 3.7 .8 3 .7 1.1 .8-1.1 .7-3 .8-3.7" stroke="#ff0000" stroke-width="3.7" fill="none" stroke-linejoin="round"/>
<path d="M145.5 912.6l.8 0 .7 0 .8 0 .7 .1 .8 .1 .7 .2 .8 .2 .8 .1 .7 0 .8-.2 .7-.3 .8-.2 .8 0 .7 .3 .8 .4 .7 .5 .8 .4 .7 .1 .8-.3 .8-.5 .7-.5 .8-.3 .7-.1 .8 .5 .7 .7 .8 .7 .8 .6 .7 .1 .8-.4 .7-.8 .8-.8 .8-.5 .7 0 .8 .5 .7 1 .8 1.1 .7 .7 .8 .1 .8-.6 .7-1 .8-1.1 .7-.7 .8 0 .7 .7 .8 1.3 .8 1.3 .7 .9 .8 .1 .7-.7 .8-1.3 .8-1.4 .7-.9 .8 0 .7 .9 .8 1.5 .7 1.6 .8 1.1 .8 .1 .7-.8 .8-1.6 .7-1.7 .8-1 .7-.1 .8 1.1 .8 1.8 .7 1.9 .8 1.2 .7 .2 .8-1.1 .8-1.8 .7-1.9 .8-1.3 .7-.1 .8 1.2 .7 2.1 .8 2.2 .8 1.4 .7 .2 .8-1.2 .7-2.1 .8-2.2 .7-1.5 .8 0 .8 1.3 .7 2.3 .8 2.5 .7 1.6 .8 .2 .8-1.3 .7-2.4 .8-2.5 .7-1.6 .8-.1 .7 1.5 .8 2.6 .8 2.7 .7 1.8 .8 .2 .7-1.5 .8-2.6 .7-2.8 .8-1.8 .8-.1 .7 1.6 .8 2.9 .7 3 .8 2 .7 .3 .8-1.7 .8-2.9 .7-3 .8-2.1 .7-.1 .8 1.8 .8 3.1 .7 3.3 .8 2.2 .7 .3 .8-1.8 .7-3.2 .8-3.3 .8-2.2 .7-.2 .8 2 .7 3.4 .8 3.5 .7 2.4 .8 .3 .8-1.9 .7-3.4 .8-3.7 .7-2.4 .8-.2 .8 2.1 .7 3.7 .8 3.8 .7 2.6 .8 .4 .7-2.1 .8-3.7 .8-3.9 .7-2.6 .8-.3 .7 2.3 .8 3.9 .7 4.1 .8 2.8 .8 .4 .7-2.2 .8-4 .7-4.2 .8-2.8 .8-.3 .7 2.4 .8 4.2 .7 4.4 .8 3 .7 .4 .8-2.3 .8-4.3 .7-4.4 .8-3 .7-.4 .8 2.5 .7 4.5 .8 4.7 .8 3.2 .7 .5 .8-2.5 .7-4.5 .8-4.8 .8-3.2 .7-.4 .8 2.7 .7 4.7 .8 5 .7 3.4 .8 .5 .8-2.6 .7-4.8 .8-5 .7-3.4 .8-.5 .7 2.8 .8 5 .8 5.3 .7 3.6 .8 .5 .7-2.7 .8-5 .8-5.4 .7-3.6 .8-.5 .7 3 .8 5.2 .7 5.6 .8 3.8 .8 .6 .7-2.9 .8-5.3 .7-5.6 .8-3.8 .7-.6 .8 3.1 .8 5.5 .7 5.9 .8 4 .7 .6 .8-3 .8-5.5 .7-6 .8-4 .7-.6 .8 3.2 .7 5.8 .8 6.1 .8 4.3 .7 .6 .8-3.1 .7-5.8 .8-6.2 .7-4.2 .8-.7 .8 3.3 .7 6.1 .8 6.4 .7 4.4 .8 .8 .8-3.3 .7-6 .8-6.5 .7-4.5 .8-.7 .7 3.5 .8 6.2 .8 6.8 .7 4.6 .8 .8 .7-3.4 .8-6.3 .7-6.7 .8-4.7 .8-.7 .7 3.5 .8 6.5 .7 7 .8 4.9 .8 .9 .7-3.5 .8-6.6 .7-7.1 .8-4.9 .7-.7 .8 3.6 .8 6.8 .7 7.3 .8 5.1 .7 .9 .8-3.6 .7-6.8 .8-7.4 .8-5.1 .7-.9 .8 3.8 .7 7 .8 7.6 .8 5.4 .7 .9 .8-3.7 .7-7 .8-7.7 .7-5.3 .8-1 .8 3.9 .7 7.3 .8 7.9 .7 5.5 .8 1.1 .7-3.9 .8-7.3 .8-7.9 .7-5.6 .8-1 .7 4 .8 7.6 .7 8.2 .8 5.7 .8 1.1 .7-3.9 .8-7.6 .7-8.2 .8-5.8 .8-1.1 .7 4.2 .8 7.7 .7 8.5 .8 6 .7 1.2 .8-4.1 .8-7.8 .7-8.5 .8-6 .7-1.2 .8 4.3 .7 8 .8 8.7 .8 6.2 .7 1.3 .8-4.2 .7-8 .8-8.8 .8-6.3 .7-1.2 .8 4.4 .7 8.2 .8 9.1 .7 6.4 .8 1.4 .8-4.3 .7-8.3 .8-9.1 .7-6.5 .8-1.3 .7 4.5 .8 8.4 .8 9.4 .7 6.7 .8 1.4 .7-4.4 .8-8.5 .8-9.4 .7-6.7 .8-1.4 .7 4.5 .8 8.8 .7 9.6 .8 6.9 .8 1.5 .7-4.4 .8-8.8 .7-9.7 .8-6.9 .7-1.5 .8 4.6 .8 9 .7 10 .8 7.1 .7 1.6 .8-4.6 .8-9 .7-10 .8-7.1 .7-1.6 .8 4.7 .7 9.2 .8 10.3 .8 7.4 .7 1.6 .8-4.6 .7-9.3 .8-10.3 .7-7.4 .8-1.6 .8 4.8 .7 9.5 .8 10.5 .7 7.6 .8 1.8 .8-4.8 .7-9.5 .8-10.5 .7-7.7 .8-1.7 .7 4.9 .8 9.7 .8 10.8 .7 7.9 .8 1.8 .7-4.8 .8-9.7 .7-10.9 .8-7.9 .8-1.8 .7 5 .8 9.9 .7 11.1 .8 8.1 .8 2 .7-5 .8-9.9 .7-11.2 .8-8.1 .7-1.9 .8 5.1 .8 10.1 .7 11.4 .8 8.4 .7 2 .8-5 .7-10.2 .8-11.5 .8-8.3 .7-2 .8 5.1 .7 10.4 .8 11.7 .8 8.6 .7 2.2 .8-5.1 .7-10.5 .8-11.7 .7-8.6 .8-2.1 .8 5.2 .7 10.6 .8 12 .7 8.9 .8 2.2 .7-5.2 .8-10.6 .8-12.1 .7-8.8 .8-2.2 .7 5.3 .8 10.8 .8 12.3 .7 9.1 .8 2.4 .7-5.3 .8-10.9 .7-12.3 .8-9.1 .8-2.3 .7 5.4 .8 11 .7 12.6 .8 9.3 .7 2.5 .8-5.3 .8-11.1 .7-12.7 .8-9.3 .7-2.4 .8 5.4 .8 11.3 .7 12.9 .8 9.6 .7 2.6 .8-5.4 .7-11.4 .8-12.9 .8-9.6 .7-2.5 .8 5.5 .7 11.5 .8 13.2 .7 9.8 .8 2.7 .8-5.5 .7-11.5 .8-13.3 .7-9.8 .8-2.7 .7 5.6 .8 11.8 .8 13.5 .7 10.1 .8 2.8 .7-5.6 .8-11.8 .8-13.5 .7-10.1 .8-2.8 .7 5.7 .8 12 .7 13.8 .8 10.3 .8 2.9 .7-5.6 .8-12 .7-13.8 .8-10.4 .7-2.9 .8 5.8 .8 12.2 .7 14 .8 10.6 .7 3 .8-5.6 .8-12.3 .7-14.1 .8-10.6 .7-3 .8 5.8 .7 12.5 .8 14.3 .8 10.8 .7 3.2 .8-5.7 .7-12.5 .8-14.4 .7-10.9 .8-3.1 .8 5.9 .7 12.6 .8 14.7 .7 11.1 .8 3.2 .8-5.8 .7-12.6 .8-14.7 .7-11.1 .8-3.3 .7 5.9 .8 12.9 .8 14.9 .7 11.4 .8 3.4 .7-5.9 .8-12.8 .7-15 .8-11.4 .8-3.4 .7 6 .8 13.1 .7 15.2 .8 11.6 .8 3.5 .7-5.9 .8-13.1 .7-15.3 .8-11.6 .7-3.5 .8 6 .8 13.3 .7 15.6 .8 11.8 .7 3.7 .8-6 .7-13.3 .8-15.6 .8-11.9 .7-3.6 .8 6.1 .7 13.5 .8 15.8 .8 12.1 .7 3.8 .8-6 .7-13.5 .8-15.9 .7-12.2 .8-3.7 .8 6.1 .7 13.7 .8 16.2 .7 12.3 .8 4 .7-6.1 .8-13.7 .8-16.2 .7-12.4 .8-3.9 .7 6.1 .8 14 .8 16.4 .7 12.7 .8 4 .7-6.1 .8-13.9 .7-16.5 .8-12.7 .8-4 .7 6.2 .8 14.1 .7 16.7 .8 13 .7 4.2 .8-6.2 .8-14.1 .7-16.8 .8-13 .7-4.1 .8 6.2 .8 14.4 .7 17 .8 13.2 .7 4.3 .8-6.2 .7-14.3 .8-17.1 .8-13.2 .7-4.4 .8 6.3 .7 14.6 .8 17.3 .7 13.5 .8 4.5 .8-6.2 .7-14.6 .8-17.4 .7-13.5 .8-4.5 .8 6.4 .7 14.7 .8 17.6 .7 13.8 .8 4.6 .7-6.2 .8-14.8 .8-17.7 .7-13.7 .8-4.7 .7 6.4 .8 15 .7 17.8 .8 14.1 .8 4.8 .7-6.3 .8-15 .7-17.9 .8-14.1 .8-4.8 .7 6.4 .8 15.2 .7 18.2 .8 14.3 .7 4.9 .8-6.3 .8-15.2 .7-18.2 .8-14.3 .7-5 .8 6.4 .7 15.4 .8 18.5 .8 14.6 .7 5 .8-6.3 .7-15.4 .8-18.5 .7-14.6 .8-5.1 .8 6.5 .7 15.5 .8 18.8 .7 14.8 .8 5.3 .8-6.4 .7-15.5 .8-18.9 .7-14.8 .8-5.3 .7 6.5 .8 15.7 .8 19.1 .7 15.1 .8 5.4 .7-6.3 .8-15.8 .7-19.1 .8-15.2 .8-5.4 .7 6.5 .8 15.9 .7 19.4 .8 15.4 .8 5.6 .7-6.4 .8-16 .7-19.4 .8-15.4 .7-5.6 .8 6.5 .8 16.2 .7 19.6 .8 15.7 .7 5.7 .8-6.4 .7-16.1 .8-19.7 .8-15.8 .7-5.7 .8 6.5 .7 16.4 .8 19.9 .8 16 .7 5.9 .8-6.5 .7-16.3 .8-20 .7-16 .8-5.9 .8 6.5 .7 16.6 .8 20.2 .7 16.2 .8 6.1 .7-6.4 .8-16.6 .8-20.2 .7-16.3 .8-6.1 .7 6.5 .8 16.7 .8 20.6 .7 16.5 .8 6.3 .7-6.5 .8-16.7 .7-20.6 .8-16.6 .8-6.2 .7 6.6 .8 16.8 .7 20.9 .8 16.8 .7 6.4 .8-6.5 .8-16.9 .7-20.8 .8-16.9 .7-6.4 .8 6.6 .8 17 .7 21.1 .8 17.1 .7 6.6 .8-6.4 .7-17.1 .8-21.2" stroke="#0000ff" stroke-width="3.7" fill="none" stroke-linejoin="round" stroke-dasharray="11.5 4.4"/>
<path d="M145.5 912.6l.8-.3 .7-.4 .8-.3 .7-.1 .8 .2 .7 .5 .8 .4 .8 0 .7-.6 .8-1.1 .7-1.3 .8-1.1 .8-.3 .7 .6 .8 1.2 .7 1.5 .8 1.1 .7 0 .8-1.2 .8-2.2 .7-2.3 .8-1.7 .7-.4 .8 1.2 .7 2.3 .8 2.5 .8 1.7 .7 .1 .8-1.9 .7-3.1 .8-3.4 .8-2.4 .7-.4 .8 1.8 .7 3.4 .8 3.5 .7 2.4 .8 .1 .8-2.5 .7-4.2 .8-4.4 .7-3 .8-.5 .7 2.4 .8 4.4 .8 4.6 .7 3 .8 .2 .7-3.1 .8-5.2 .8-5.5 .7-3.7 .8-.5 .7 3 .8 5.4 .7 5.7 .8 3.7 .8 .2 .7-3.7 .8-6.2 .7-6.6 .8-4.4 .7-.5 .8 3.6 .8 6.4 .7 6.8 .8 4.4 .7 .2 .8-4.3 .8-7.2 .7-7.6 .8-5.1 .7-.6 .8 4.2 .7 7.4 .8 7.8 .8 5.1 .7 .3 .8-4.9 .7-8.2 .8-8.7 .7-5.7 .8-.7 .8 4.8 .7 8.4 .8 8.8 .7 5.8 .8 .4 .8-5.4 .7-9.3 .8-9.7 .7-6.5 .8-.7 .7 5.3 .8 9.5 .8 9.9 .7 6.5 .8 .4 .7-6 .8-10.2 .7-10.8 .8-7.2 .8-.8 .7 5.9 .8 10.4 .7 11 .8 7.2 .7 .5 .8-6.5 .8-11.3 .7-11.8 .8-7.9 .7-1 .8 6.5 .8 11.5 .7 12 .8 7.9 .7 .7 .8-7.1 .7-12.3 .8-12.9 .8-8.6 .7-1.1 .8 7 .7 12.5 .8 13.1 .7 8.6 .8 .8 .8-7.6 .7-13.3 .8-14 .7-9.4 .8-1.1 .8 7.5 .7 13.5 .8 14.1 .7 9.4 .8 .9 .7-8.1 .8-14.3 .8-15 .7-10.2 .8-1.2 .7 8 .8 14.5 .7 15.2 .8 10.1 .8 1.1 .7-8.7 .8-15.3 .7-16.1 .8-10.9 .8-1.4 .7 8.6 .8 15.4 .7 16.3 .8 10.9 .7 1.2 .8-9.2 .8-16.3 .7-17.1 .8-11.7 .7-1.5 .8 9.1 .7 16.4 .8 17.4 .8 11.6 .7 1.3 .8-9.7 .7-17.2 .8-18.3 .8-12.3 .7-1.8 .8 9.7 .7 17.3 .8 18.5 .7 12.4 .8 1.5 .8-10.2 .7-18.2 .8-19.4 .7-13.1 .8-1.9 .7 10.1 .8 18.4 .8 19.5 .7 13.2 .8 1.6 .7-10.7 .8-19.2 .8-20.4 .7-13.9 .8-2.1 .7 10.7 .8 19.3 .7 20.6 .8 14 .8 1.8 .7-11.2 .8-20.2 .7-21.5 .8-14.7 .7-2.2 .8 11.1 .8 20.3 .7 21.7 .8 14.7 .7 2 .8-11.6 .8-21.2 .7-22.5 .8-15.5 .7-2.5 .8 11.6 .7 21.3 .8 22.7 .8 15.6 .7 2.2 .8-12.2 .7-22 .8-23.7 .7-16.3 .8-2.6 .8 12 .7 22.2 .8 23.9 .7 16.3 .8 2.5 .8-12.7 .7-23 .8-24.7 .7-17.1 .8-2.9 .7 12.5 .8 23.2 .8 24.9 .7 17.2 .8 2.6 .7-13.1 .8-23.9 .7-25.9 .8-17.9 .8-3.1 .7 13 .8 24.1 .7 26.1 .8 17.9 .8 2.9 .7-13.5 .8-25 .7-26.9 .8-18.7 .7-3.3 .8 13.4 .8 25 .7 27.2 .8 18.8 .7 3.1 .8-14 .7-25.9 .8-28 .8-19.5 .7-3.6 .8 13.8 .7 26 .8 28.3 .8 19.6 .7 3.3 .8-14.4 .7-26.8 .8-29.1 .7-20.4 .8-3.8 .8 14.3 .7 26.9 .8 29.4 .7 20.4 .8 3.6 .7-14.8 .8-27.8 .8-30.2 .7-21.2 .8-4 .7 14.6 .8 27.9 .7 30.4 .8 21.3 .8 3.9 .7-15.3 .8-28.6 .7-31.3 .8-22.1 .8-4.3 .7 15.1 .8 28.8 .7 31.5 .8 22.1 .7 4.1 .8-15.6 .8-29.6 .7-32.4 .8-22.9 .7-4.6 .8 15.5 .7 29.7 .8 32.6 .8 23 .7 4.4 .8-16 .7-30.5 .8-33.5 .8-23.8 .7-4.9 .8 15.9 .7 30.7 .8 33.7 .7 23.8 .8 4.7 .8-16.4 .7-31.4 .8-34.6 .7-24.6 .8-5.2 .7 16.2 .8 31.6 .8 34.8 .7 24.7 .8 5 .7-16.8 .8-32.4 .8-35.7 .7-25.4 .8-5.5 .7 16.6 .8 32.5 .7 35.9 .8 25.6 .8 5.3 .7-17.2 .8-33.2 .7-36.8 .8-26.4 .7-5.8 .8 17 .8 33.4 .7 37 .8 26.4 .7 5.7 .8-17.6 .8-34.1 .7-37.9 .8-27.3 .7-6.1 .8 17.4 .7 34.2 .8 38.2 .8 27.3 .7 5.9 .8-17.8 .7-35.1 .8-39 .7-28.1 .8-6.5 .8 17.7 .7 35.2 .8 39.2 .7 28.2 .8 6.3 .8-18.2 .7-35.9 .8-40.2 .7-29 .8-6.8 .7 18.1 .8 36 .8 40.4 .7 29.1 .8 6.6 .7-18.5 .8-36.9 .7-41.2 .8-29.9 .8-7.2 .7 18.4 .8 37 .7 41.4 .8 30 .8 7 .7-18.9 .8-37.7 .7-42.3 .8-30.8 .7-7.5 .8 18.7 .8 37.8 .7 42.5 .8 30.9 .7 7.4 .8-19.2 .7-38.6 .8-43.4 .8-31.7 .7-7.9 .8 19 .7 38.7 .8 43.6 .8 31.8 .7 7.8 .8-19.5 .7-39.5 .8-44.5 .7-32.7 .8-8.2 .8 19.3 .7 39.6 .8 44.7 .7 32.8 .8 8.1 .7-19.8 .8-40.4 .8-45.6 .7-33.6 .8-8.6 .7 19.6 .8 40.4 .8 45.9 .7 33.7 .8 8.5 .7-20.1 .8-41.2 .7-46.8 .8-34.5 .8-9 .7 19.9 .8 41.3 .7 46.9 .8 34.6 .7 9 .8-20.4 .8-42.1 .7-47.8 .8-35.4 .7-9.5 .8 20.2 .8 42.1 .7 48.1 .8 35.5 .7 9.4 .8-20.7 .7-42.9 .8-49 .8-36.3 .7-9.9 .8 20.5 .7 43 .8 49.1 .7 36.5 .8 9.7 .8-20.9 .7-43.7 .8-50.1 .7-37.3 .8-10.3 .7 20.7 .8 43.9 .8 50.2 .7 37.5 .8 10.1 .7-21.1 .8-44.6 .8-51.2 .7-38.3 .8-10.7 .7 21 .8 44.7 .7 51.3 .8 38.4 .8 10.6 .7-21.4 .8-45.4 .7-52.3 .8-39.2 .7-11.2 .8 21.2 .8 45.6 .7 52.4 .8 39.4 .7 11 .8-21.6 .8-46.3 .7-53.4 .8-40.1 .7-11.7 .8 21.5 .7 46.3 .8 53.6 .8 40.3 .7 11.5 .8-21.9 .7-47.1 .8-54.4 .7-41.2 .8-12.1 .8 21.7 .7 47.2 .8 54.7 .7 41.3 .8 11.9 .8-22.1 .7-47.9 .8-55.6 .7-42.1 .8-12.6 .7 21.9 .8 48 .8 55.8 .7 42.3 .8 12.4 .7-22.3 .8-48.7 .7-56.7 .8-43.1 .8-13 .7 22 .8 48.8 .7 56.9 .8 43.3 .8 12.9 .7-22.5 .8-49.6 .7-57.8 .8-44 .7-13.5 .8 22.2 .8 49.6 .7 58.1 .8 44.2 .7 13.4 .8-22.7 .7-50.4 .8-58.9 .8-45 .7-14 .8 22.4 .7 50.4 .8 59.2 .8 45.2 .7 13.9 .8-22.9 .7-51.1 .8-60.1 .7-46 .8-14.5 .8 22.6 .7 51.2 .8 60.3 .7 46.2 .8 14.4 .7-23.1 .8-51.9 .8-61.1 .7-47.1 .8-15 .7 22.8 .8 52 .8 61.3 .7 47.2 .8 15 .7-23.3 .8-52.7 .7-62.2 .8-48.1 .8-15.5 .7 23 .8 52.7 .7 62.5 .8 48.2 .7 15.5 .8-23.4 .8-53.5 .7-63.4 .8-49 .7-16.1 .8 23.1 .8 53.6 .7 63.5 .8 49.3 .7 16 .8-23.6 .7-54.3 .8-64.4 .8-50.1 .7-16.6 .8 23.3 .7 54.3 .8 64.7 .7 50.2 .8 16.5 .8-23.6 .7-55.1 .8-65.5 .7-51.1 .8-17.2 .8 23.4 .7 55.1 .8 65.8 .7 51.2 .8 17.1 .7-23.8 .8-55.8 .8-66.6 .7-52.2 .8-17.7 .7 23.6 .8 55.8 .7 66.9 .8 52.3 .8 17.6 .7-23.9 .8-56.6 .7-67.7 .8-53.2 .8-18.2 .7 23.6 .8 56.6 .7 68 .8 53.3 .7 18.2 .8-24 .8-57.3 .7-68.9 .8-54.2 .7-18.8 .8 23.7 .7 57.4 .8 69 .8 54.4 .7 18.8 .8-24.1 .7-58.1 .8-69.9 .7-55.3 .8-19.4 .8 23.8 .7 58.1 .8 70.2 .7 55.4 .8 19.4 .8-24.3 .7-58.7 .8-71.1 .7-56.3 .8-20 .7 23.9 .8 58.9 .8 71.2 .7 56.5 .8 20 .7-24.4 .8-59.5 .7-72.1 .8-57.4 .8-20.6 .7 24 .8 59.6 .7 72.3 .8 57.6 .8 20.5 .7-24.3 .8-60.3 .7-73.2 .8-58.4 .7-21.2 .8 24 .8 60.3 .7 73.5 .8 58.5 .7 21.2 .8-24.4 .7-61 .8-74.3 .8-59.5 .7-21.8 .8 24.1 .7 61 .8 74.5 .8 59.7 .7 21.8 .8-24.5 .7-61.7 .8-75.4 .7-60.5 .8-22.5 .8 24.2 .7 61.7 .8 75.6 .7 60.7 .8 22.5 .7-24.6 .8-62.4 .8-76.5 .7-61.6 .8-23.1 .7 24.3 .8 62.3 .8 76.8 .7 61.8 .8 23 .7-24.6 .8-63 .7-77.7 .8-62.6 .8-23.7 .7 24.2 .8 63.1 .7 77.8 .8 62.9 .7 23.7 .8-24.6 .8-63.8 .7-78.7 .8-63.7 .7-24.4 .8 24.3 .8 63.7 .7 79 .8 63.9 .7 24.4 .8-24.7 .7-64.4 .8-79.8" stroke="#ff8000" stroke-width="3.7" fill="none" stroke-linejoin="round" stroke-dasharray="5.5 4.5 11 4.9"/>
<path d="M145.5 912.6l.8-.1 .7-.2 .8-.1 .7-.1 .8 .1 .7 .2 .8 .2 .8 0 .7-.2 .8-.5 .7-.6 .8-.4 .8-.1 .7 .2 .8 .5 .7 .7 .8 .4 .7 0 .8-.5 .8-.9 .7-1 .8-.7 .7-.2 .8 .5 .7 1 .8 1.1 .8 .7 .7 0 .8-.8 .7-1.3 .8-1.4 .8-1 .7-.2 .8 .8 .7 1.4 .8 1.5 .7 1 .8 0 .8-1 .7-1.8 .8-1.9 .7-1.2 .8-.2 .7 1 .8 1.8 .8 2 .7 1.3 .8 0 .7-1.3 .8-2.2 .8-2.3 .7-1.5 .8-.2 .7 1.2 .8 2.3 .7 2.4 .8 1.5 .8 .1 .7-1.5 .8-2.6 .7-2.8 .8-1.8 .7-.3 .8 1.6 .8 2.6 .7 2.9 .8 1.8 .7 .1 .8-1.8 .8-3 .7-3.2 .8-2.2 .7-.2 .8 1.8 .7 3.1 .8 3.3 .8 2.1 .7 .1 .8-2 .7-3.5 .8-3.6 .7-2.5 .8-.2 .8 2 .7 3.5 .8 3.8 .7 2.4 .8 .1 .8-2.2 .7-3.9 .8-4.1 .7-2.8 .8-.3 .7 2.3 .8 4 .8 4.1 .7 2.8 .8 .2 .7-2.6 .8-4.3 .7-4.5 .8-3 .8-.4 .7 2.5 .8 4.4 .7 4.6 .8 3 .7 .3 .8-2.8 .8-4.7 .7-5 .8-3.3 .7-.4 .8 2.7 .8 4.8 .7 5.1 .8 3.3 .7 .3 .8-3 .7-5.2 .8-5.4 .8-3.6 .7-.5 .8 3 .7 5.2 .8 5.5 .7 3.7 .8 .3 .8-3.2 .7-5.6 .8-5.9 .7-3.9 .8-.5 .8 3.2 .7 5.6 .8 6 .7 3.9 .8 .4 .7-3.4 .8-6 .8-6.4 .7-4.2 .8-.6 .7 3.5 .8 6 .7 6.4 .8 4.3 .8 .4 .7-3.6 .8-6.4 .7-6.8 .8-4.6 .8-.6 .7 3.6 .8 6.5 .7 6.9 .8 4.6 .7 .5 .8-3.9 .8-6.9 .7-7.2 .8-4.9 .7-.6 .8 3.8 .7 6.9 .8 7.3 .8 4.9 .7 .6 .8-4.1 .7-7.3 .8-7.6 .8-5.3 .7-.7 .8 4.1 .7 7.3 .8 7.8 .7 5.2 .8 .6 .8-4.3 .7-7.7 .8-8.1 .7-5.5 .8-.8 .7 4.2 .8 7.8 .8 8.2 .7 5.5 .8 .7 .7-4.5 .8-8 .8-8.6 .7-5.9 .8-.9 .7 4.5 .8 8.1 .7 8.7 .8 5.9 .8 .8 .7-4.8 .8-8.4 .7-9.1 .8-6.2 .7-.9 .8 4.7 .8 8.5 .7 9.1 .8 6.2 .7 .9 .8-4.9 .8-8.9 .7-9.5 .8-6.5 .7-1.1 .8 4.9 .7 9 .8 9.5 .8 6.6 .7 .9 .8-5.1 .7-9.3 .8-10 .7-6.8 .8-1.1 .8 5.1 .7 9.3 .8 10.1 .7 6.8 .8 1.1 .8-5.4 .7-9.7 .8-10.4 .7-7.2 .8-1.2 .7 5.3 .8 9.7 .8 10.6 .7 7.2 .8 1.1 .7-5.5 .8-10.1 .7-10.9 .8-7.5 .8-1.3 .7 5.4 .8 10.2 .7 10.9 .8 7.6 .8 1.2 .7-5.7 .8-10.5 .7-11.3 .8-7.9 .7-1.4 .8 5.7 .8 10.5 .7 11.4 .8 7.9 .7 1.4 .8-5.9 .7-10.9 .8-11.8 .8-8.2 .7-1.5 .8 5.8 .7 10.9 .8 11.9 .8 8.3 .7 1.4 .8-6.1 .7-11.3 .8-12.2 .7-8.6 .8-1.6 .8 6 .7 11.4 .8 12.3 .7 8.6 .8 1.5 .7-6.2 .8-11.7 .8-12.7 .7-8.9 .8-1.8 .7 6.2 .8 11.8 .7 12.8 .8 8.9 .8 1.7 .7-6.5 .8-12 .7-13.2 .8-9.3 .8-1.8 .7 6.3 .8 12.2 .7 13.2 .8 9.4 .7 1.7 .8-6.6 .8-12.4 .7-13.7 .8-9.6 .7-2 .8 6.6 .7 12.5 .8 13.7 .8 9.7 .7 1.8 .8-6.7 .7-12.9 .8-14.1 .8-10 .7-2 .8 6.7 .7 12.9 .8 14.2 .7 10 .8 2 .8-6.9 .7-13.3 .8-14.5 .7-10.4 .8-2.2 .7 6.9 .8 13.2 .8 14.7 .7 10.4 .8 2.1 .7-7.1 .8-13.6 .8-15 .7-10.7 .8-2.3 .7 7 .8 13.6 .7 15.1 .8 10.8 .8 2.3 .7-7.3 .8-14 .7-15.5 .8-11.1 .7-2.4 .8 7.1 .8 14.1 .7 15.6 .8 11.1 .7 2.4 .8-7.4 .8-14.4 .7-15.9 .8-11.5 .7-2.6 .8 7.3 .7 14.5 .8 16 .8 11.5 .7 2.5 .8-7.5 .7-14.8 .8-16.4 .7-11.8 .8-2.7 .8 7.4 .7 14.8 .8 16.5 .7 11.9 .8 2.7 .8-7.7 .7-15.1 .8-16.9 .7-12.2 .8-2.9 .7 7.6 .8 15.2 .8 17 .7 12.2 .8 2.8 .7-7.8 .8-15.5 .7-17.4 .8-12.5 .8-3.1 .7 7.8 .8 15.5 .7 17.5 .8 12.6 .8 3 .7-8 .8-15.9 .7-17.8 .8-13 .7-3.1 .8 7.8 .8 16 .7 17.9 .8 13 .7 3.1 .8-8.1 .7-16.2 .8-18.3 .8-13.4 .7-3.3 .8 8 .7 16.3 .8 18.4 .8 13.4 .7 3.2 .8-8.2 .7-16.6 .8-18.7 .7-13.8 .8-3.5 .8 8.2 .7 16.6 .8 18.9 .7 13.8 .8 3.4 .7-8.3 .8-17 .8-19.2 .7-14.2 .8-3.6 .7 8.2 .8 17.1 .8 19.3 .7 14.2 .8 3.5 .7-8.4 .8-17.4 .7-19.7 .8-14.5 .8-3.8 .7 8.4 .8 17.4 .7 19.8 .8 14.5 .7 3.8 .8-8.6 .8-17.7 .7-20.2 .8-14.9 .7-3.9 .8 8.4 .8 17.8 .7 20.2 .8 15 .7 3.9 .8-8.7 .7-18 .8-20.7 .8-15.3 .7-4.1 .8 8.6 .7 18.1 .8 20.7 .7 15.4 .8 4.1 .8-8.8 .7-18.5 .8-21 .7-15.7 .8-4.4 .7 8.7 .8 18.5 .8 21.2 .7 15.7 .8 4.3 .7-8.9 .8-18.8 .8-21.5 .7-16.1 .8-4.5 .7 8.8 .8 18.8 .7 21.6 .8 16.2 .8 4.5 .7-9.1 .8-19.1 .7-22 .8-16.5 .7-4.7 .8 8.9 .8 19.2 .7 22.1 .8 16.6 .7 4.6 .8-9.1 .8-19.5 .7-22.5 .8-16.9 .7-4.9 .8 9 .7 19.6 .8 22.5 .8 17 .7 4.8 .8-9.2 .7-19.8 .8-22.9 .7-17.4 .8-5 .8 9.1 .7 19.8 .8 23.1 .7 17.4 .8 5 .8-9.3 .7-20.2 .8-23.4 .7-17.7 .8-5.3 .7 9.2 .8 20.2 .8 23.5 .7 17.8 .8 5.2 .7-9.4 .8-20.5 .7-23.9 .8-18.1 .8-5.5 .7 9.3 .8 20.6 .7 23.9 .8 18.2 .8 5.5 .7-9.5 .8-20.9 .7-24.3 .8-18.6 .7-5.6 .8 9.3 .8 20.9 .7 24.5 .8 18.6 .7 5.6 .8-9.5 .7-21.2 .8-24.8 .8-19 .7-5.9 .8 9.5 .7 21.2 .8 24.9 .8 19 .7 5.9 .8-9.7 .7-21.5 .8-25.3 .7-19.4 .8-6.1 .8 9.6 .7 21.5 .8 25.4 .7 19.4 .8 6.1 .7-9.7 .8-21.9 .8-25.7 .7-19.8 .8-6.3 .7 9.6 .8 21.9 .8 25.8 .7 19.9 .8 6.3 .7-9.8 .8-22.2 .7-26.2 .8-20.3 .8-6.5 .7 9.7 .8 22.2 .7 26.3 .8 20.3 .7 6.5 .8-9.8 .8-22.6 .7-26.6 .8-20.7 .7-6.8 .8 9.8 .8 22.5 .7 26.8 .8 20.7 .7 6.7 .8-9.9 .7-22.8 .8-27.1 .8-21.1 .7-7 .8 9.8 .7 22.8 .8 27.3 .7 21.1 .8 7 .8-10 .7-23.2 .8-27.6 .7-21.5 .8-7.2 .8 9.9 .7 23.2 .8 27.6 .7 21.6 .8 7.2 .7-10 .8-23.5 .8-28.1 .7-21.9 .8-7.5 .7 10 .8 23.5 .7 28.1 .8 22 .8 7.5 .7-10.1 .8-23.8 .7-28.5 .8-22.4 .8-7.7 .7 9.9 .8 23.9 .7 28.6 .8 22.4 .7 7.7 .8-10.1 .8-24.1 .7-29 .8-22.8 .7-8 .8 10 .7 24.2 .8 29 .8 22.9 .7 8 .8-10.2 .7-24.5 .8-29.4 .7-23.3 .8-8.1 .8 10 .7 24.5 .8 29.5 .7 23.3 .8 8.2 .8-10.2 .7-24.8 .8-29.9 .7-23.7 .8-8.4 .7 10.1 .8 24.7 .8 30 .7 23.8 .8 8.4 .7-10.2 .8-25.1 .7-30.3 .8-24.2 .8-8.7 .7 10.2 .8 25 .7 30.5 .8 24.2 .8 8.7 .7-10.3 .8-25.4 .7-30.8 .8-24.6 .7-8.9 .8 10.1 .8 25.4 .7 30.9 .8 24.7 .7 8.9 .8-10.3 .7-25.7 .8-31.3 .8-25 .7-9.2 .8 10.2 .7 25.7 .8 31.4 .8 25.1 .7 9.1 .8-10.3 .7-25.9 .8-31.8 .7-25.5 .8-9.4 .8 10.2 .7 25.9 .8 31.9 .7 25.5 .8 9.5 .7-10.4 .8-26.2 .8-32.2 .7-26 .8-9.7 .7 10.2 .8 26.3 .8 32.3 .7 26 .8 9.7 .7-10.3 .8-26.6 .7-32.7 .8-26.4 .8-9.9 .7 10.2 .8 26.5 .7 32.8 .8 26.5 .7 10 .8-10.4 .8-26.9 .7-33.1 .8-26.8 .7-10.3 .8 10.2 .8 26.9 .7 33.2 .8 26.9 .7 10.3 .8-10.4 .7-27.1 .8-33.6" stroke="#00a800" stroke-width="3.7" fill="none" stroke-linejoin="round" stroke-dasharray="5.5 4.4"/>
<path d="M145.5 998.6v-6.8M145.5 641.6v6.8M173.2 998.6v-4.2M173.2 641.6v4.2M200.9 998.6v-4.2M200.9 641.6v4.2M228.6 998.6v-4.2M228.6 641.6v4.2M256.3 998.6v-6.8M256.3 641.6v6.8M284.0 998.6v-4.2M284.0 641.6v4.2M311.7 998.6v-4.2M311.7 641.6v4.2M339.4 998.6v-4.2M339.4 641.6v4.2M367.1 998.6v-6.8M367.1 641.6v6.8M394.8 998.6v-4.2M394.8 641.6v4.2M422.5 998.6v-4.2M422.5 641.6v4.2M450.2 998.6v-4.2M450.2 641.6v4.2M477.9 998.6v-6.8M477.9 641.6v6.8M505.6 998.6v-4.2M505.6 641.6v4.2M533.3 998.6v-4.2M533.3 641.6v4.2M561.0 998.6v-4.2M561.0 641.6v4.2M588.7 998.6v-6.8M588.7 641.6v6.8M616.4 998.6v-4.2M616.4 641.6v4.2M644.1 998.6v-4.2M644.1 641.6v4.2M671.8 998.6v-4.2M671.8 641.6v4.2M699.5 998.6v-6.8M699.5 641.6v6.8M134.0 992.5h6.8M711.0 992.5h-6.8M134.0 976.5h4.2M711.0 976.5h-4.2M134.0 960.5h4.2M711.0 960.5h-4.2M134.0 944.6h4.2M711.0 944.6h-4.2M134.0 928.6h4.2M711.0 928.6h-4.2M134.0 912.6h6.8M711.0 912.6h-6.8M134.0 896.6h4.2M711.0 896.6h-4.2M134.0 880.6h4.2M711.0 880.6h-4.2M134.0 864.7h4.2M711.0 864.7h-4.2M134.0 848.7h4.2M711.0 848.7h-4.2M134.0 832.7h6.8M711.0 832.7h-6.8M134.0 816.7h4.2M711.0 816.7h-4.2M134.0 800.7h4.2M711.0 800.7h-4.2M134.0 784.8h4.2M711.0 784.8h-4.2M134.0 768.8h4.2M711.0 768.8h-4.2M134.0 752.8h6.8M711.0 752.8h-6.8M134.0 736.8h4.2M711.0 736.8h-4.2M134.0 720.8h4.2M711.0 720.8h-4.2M134.0 704.9h4.2M711.0 704.9h-4.2M134.0 688.9h4.2M711.0 688.9h-4.2M134.0 672.9h6.8M711.0 672.9h-6.8M134.0 656.9h4.2M711.0 656.9h-4.2" stroke="#000" stroke-width="1.3" fill="none"/>
<rect x="134.0" y="641.6" width="577.0" height="357.0" stroke="#000" stroke-width="1.6" fill="none"/>
<g font-family='"Liberation Sans", sans-serif' font-size="36.80"><text x="120.6" y="682.8" text-anchor="end">30</text><text x="120.6" y="762.7" text-anchor="end">20</text><text x="120.6" y="842.6" text-anchor="end">10</text><text x="120.6" y="922.5" text-anchor="end">0</text><text x="120.6" y="1002.4" text-anchor="end">−10</text><text x="145.5" y="1039.7" text-anchor="middle">0</text><text x="256.3" y="1039.7" text-anchor="middle">2</text><text x="367.1" y="1039.7" text-anchor="middle">4</text><text x="477.9" y="1039.7" text-anchor="middle">6</text><text x="588.7" y="1039.7" text-anchor="middle">8</text><text x="699.5" y="1039.7" text-anchor="middle">10</text></g>
<path d="M167.0 681.7H246.4" stroke="#ff0000" stroke-width="3.7"/>
<text x="256.9" y="687.5" font-size="36.00"><tspan font-family='"Liberation Sans", sans-serif' font-style="italic">I</tspan><tspan font-family='"Liberation Serif", serif' dx="2.0">=5 deg</tspan></text>
<path d="M167.0 732.6H242.0" stroke="#0000ff" stroke-width="3.7" stroke-dasharray="11.5 4.4"/>
<text x="256.9" y="738.4" font-size="36.00"><tspan font-family='"Liberation Sans", sans-serif' font-style="italic">I</tspan><tspan font-family='"Liberation Serif", serif' dx="2.0">=50 deg</tspan></text>
<path d="M167.0 784.4H240.0" stroke="#ff8000" stroke-width="3.7" stroke-dasharray="5.5 4.5 11 4.9"/>
<text x="256.9" y="790.2" font-size="36.00"><tspan font-family='"Liberation Sans", sans-serif' font-style="italic">I</tspan><tspan font-family='"Liberation Serif", serif' dx="2.0">=95 deg</tspan></text>
<path d="M160.5 972.7H235.5" stroke="#00a800" stroke-width="3.7" stroke-dasharray="5.5 4.4"/>
<text x="249.0" y="978.5" font-size="36.00"><tspan font-family='"Liberation Sans", sans-serif' font-style="italic">I</tspan><tspan font-family='"Liberation Serif", serif' dx="2.0">=140 deg</tspan></text>
<text x="130.2" y="616.0" font-family='"Liberation Serif", serif' font-size="37.30">Be star−pulsar</text>
<text x="375.6" y="616.0" font-family='"Liberation Sans", sans-serif' font-style="italic" font-size="37.70">GS</text>
<text x="432.3" y="616.0" font-family='"Liberation Sans", sans-serif' font-style="italic" font-size="36.70">ε</text>
<text x="448.1" y="597.5" font-family='"Liberation Sans", sans-serif' font-size="26.29">2</text>
<text x="462.5" y="616.0" font-family='"Liberation Sans", sans-serif' font-style="italic" font-size="38.19">c</text>
<text x="483.9" y="597.5" font-family='"Liberation Sans", sans-serif' font-size="27.28">−2</text>
<text x="538.9" y="616.0" font-family='"Liberation Serif", serif' font-size="37.10">timing shift</text>
<text x="382.8" y="1090.4" font-family='"Liberation Sans", sans-serif' font-style="italic" font-size="39.7">t</text><text x="408.6" y="1090.4" font-family='"Liberation Serif", serif' font-size="36.3">(yr)</text>
<text transform="translate(27.1 820.9) rotate(-90)" text-anchor="middle" font-family='"Liberation Serif", serif' font-size="38.98">Δ(<tspan font-style="italic">δτ</tspan>) (<tspan font-style="italic">μ</tspan>s)</text>
<path d="M1036.8 641.8V998.5M1147.7 641.8V998.5M1258.5 641.8V998.5M1369.4 641.8V998.5M914.3 659.1H1491.9M914.3 708.4H1491.9M914.3 757.7H1491.9M914.3 807.1H1491.9M914.3 905.7H1491.9M914.3 955.1H1491.9" stroke="#b4b4b4" stroke-width="1.3" fill="none"/>
<path d="M914.3 856.4H1491.9" stroke="#000" stroke-width="1.4" fill="none"/>
<path d="M926 856.4l.8 0 .7 0 .8-.1 .7-.4 .8-.5 .7-.6 .8-.3 .8 .1 .7 .5 .8 .7 .7 .5 .8 .1 .8-.6 .7-1.2 .8-1.3 .7-1.1 .8-.3 .7 .5 .8 1.2 .8 1.5 .7 1.1 .8 .1 .7-1 .8-1.9 .8-2.2 .7-1.6 .8-.4 .7 .9 .8 2 .7 2.3 .8 1.7 .8 .2 .7-1.5 .8-2.6 .7-3 .8-2.2 .8-.5 .7 1.4 .8 2.8 .7 3.1 .8 2.2 .7 .3 .8-1.9 .8-3.4 .7-3.8 .8-2.8 .7-.6 .8 1.8 .7 3.5 .8 4 .8 2.7 .7 .4 .8-2.2 .7-4.2 .8-4.7 .8-3.3 .7-.7 .8 2.2 .7 4.3 .8 4.8 .7 3.3 .8 .5 .8-2.7 .7-4.9 .8-5.5 .7-3.9 .8-.8 .8 2.6 .7 5.1 .8 5.6 .7 3.9 .8 .6 .7-3.1 .8-5.7 .8-6.3 .7-4.4 .8-1 .7 3 .8 5.9 .8 6.4 .7 4.5 .8 .7 .7-3.5 .8-6.5 .7-7.1 .8-5 .8-1.1 .7 3.4 .8 6.6 .7 7.3 .8 5 .7 .8 .8-3.8 .8-7.2 .7-8 .8-5.6 .7-1.1 .8 3.7 .8 7.4 .7 8 .8 5.7 .7 .9 .8-4.2 .7-8 .8-8.7 .8-6.3 .7-1.2 .8 4.1 .7 8.1 .8 8.9 .8 6.2 .7 1.1 .8-4.6 .7-8.7 .8-9.6 .7-6.8 .8-1.4 .8 4.5 .7 8.8 .8 9.7 .7 6.9 .8 1.2 .8-5 .7-9.5 .8-10.4 .7-7.4 .8-1.5 .7 4.9 .8 9.5 .8 10.6 .7 7.4 .8 1.4 .7-5.4 .8-10.2 .7-11.2 .8-8 .8-1.8 .7 5.3 .8 10.3 .7 11.4 .8 8 .8 1.6 .7-5.7 .8-11 .7-12 .8-8.7 .7-1.9 .8 5.7 .8 11 .7 12.2 .8 8.7 .7 1.7 .8-6.1 .8-11.7 .7-12.9 .8-9.2 .7-2.1 .8 6 .7 11.8 .8 13 .8 9.3 .7 1.9 .8-6.4 .7-12.4 .8-13.8 .8-9.8 .7-2.3 .8 6.3 .7 12.5 .8 13.9 .7 9.9 .8 2.1 .8-6.8 .7-13.1 .8-14.6 .7-10.5 .8-2.4 .7 6.7 .8 13.2 .8 14.7 .7 10.5 .8 2.3 .7-7.1 .8-13.9 .8-15.4 .7-11.1 .8-2.6 .7 7 .8 13.9 .7 15.6 .8 11.1 .8 2.5 .7-7.4 .8-14.6 .7-16.2 .8-11.8 .8-2.8 .7 7.3 .8 14.6 .7 16.4 .8 11.8 .7 2.7 .8-7.8 .8-15.2 .7-17.1 .8-12.4 .7-3 .8 7.6 .8 15.3 .7 17.3 .8 12.4 .7 2.9 .8-8.1 .7-16 .8-17.9 .8-13 .7-3.2 .8 7.9 .7 16 .8 18.1 .7 13.1 .8 3.1 .8-8.4 .7-16.7 .8-18.7 .7-13.7 .8-3.5 .8 8.3 .7 16.7 .8 18.9 .7 13.8 .8 3.3 .7-8.7 .8-17.4 .8-19.6 .7-14.3 .8-3.7 .7 8.5 .8 17.5 .8 19.8 .7 14.4 .8 3.5 .7-9 .8-18 .7-20.5 .8-15 .8-3.9 .7 8.8 .8 18.2 .7 20.6 .8 15.1 .8 3.7 .7-9.2 .8-18.8 .7-21.3 .8-15.7 .7-4.1 .8 9.1 .8 18.8 .7 21.5 .8 15.7 .7 4 .8-9.5 .7-19.5 .8-22.1 .8-16.4 .7-4.3 .8 9.3 .7 19.6 .8 22.3 .8 16.4 .7 4.2 .8-9.8 .7-20.1 .8-23 .7-17 .8-4.7 .8 9.7 .7 20.2 .8 23.1 .7 17.1 .8 4.5 .8-10 .7-20.9 .8-23.8 .7-17.7 .8-4.9 .7 9.9 .8 20.9 .8 24 .7 17.8 .8 4.7 .7-10.3 .8-21.5 .8-24.7 .7-18.4 .8-5.1 .7 10.1 .8 21.6 .7 24.8 .8 18.5 .8 5 .7-10.5 .8-22.2 .7-25.5 .8-19.1 .7-5.4 .8 10.4 .8 22.2 .7 25.7 .8 19.2 .7 5.2 .8-10.7 .8-22.9 .7-26.4 .8-19.8 .7-5.7 .8 10.7 .7 22.9 .8 26.5 .8 19.9 .7 5.6 .8-11.1 .7-23.5 .8-27.2 .8-20.5 .7-6 .8 10.9 .7 23.6 .8 27.3 .7 20.6 .8 5.9 .8-11.3 .7-24.2 .8-28 .7-21.2 .8-6.3 .8 11.1 .7 24.3 .8 28.2 .7 21.2 .8 6.2 .7-11.5 .8-24.9 .8-28.9 .7-21.9 .8-6.5 .7 11.3 .8 24.9 .7 29.1 .8 21.9 .8 6.5 .7-11.7 .8-25.5 .7-29.8 .8-22.6 .8-6.9 .7 11.6 .8 25.6 .7 29.8 .8 22.8 .7 6.7 .8-11.9 .8-26.2 .7-30.6 .8-23.3 .7-7.2 .8 11.8 .8 26.2 .7 30.7 .8 23.4 .7 7.1 .8-12.1 .7-26.8 .8-31.5 .8-24 .7-7.5 .8 11.9 .7 26.9 .8 31.6 .8 24.1 .7 7.4 .8-12.3 .7-27.5 .8-32.2 .7-24.8 .8-7.8 .8 12.1 .7 27.5 .8 32.4 .7 24.9 .8 7.7 .7-12.5 .8-28.1 .8-33.1 .7-25.5 .8-8.2 .7 12.4 .8 28.1 .8 33.3 .7 25.6 .8 8.1 .7-12.7 .8-28.8 .7-33.9 .8-26.3 .8-8.5 .7 12.5 .8 28.8 .7 34.1 .8 26.4 .8 8.4 .7-12.9 .8-29.4 .7-34.8 .8-27 .7-8.8 .8 12.7 .8 29.4 .7 34.9 .8 27.1 .7 8.8 .8-13.1 .8-30 .7-35.6 .8-27.7 .7-9.2 .8 12.8 .7 30.1 .8 35.8 .8 27.8 .7 9.1 .8-13.2 .7-30.6 .8-36.5 .7-28.5 .8-9.6 .8 13 .7 30.7 .8 36.7 .7 28.5 .8 9.5 .8-13.3 .7-31.3 .8-37.3 .7-29.2 .8-10 .7 13.2 .8 31.3 .8 37.4 .7 29.4 .8 9.8 .7-13.5 .8-31.9 .8-38.1 .7-30 .8-10.3 .7 13.3 .8 31.9 .7 38.3 .8 30.1 .8 10.2 .7-13.6 .8-32.5 .7-39 .8-30.7 .8-10.7 .7 13.4 .8 32.5 .7 39.2 .8 30.8 .7 10.6 .8-13.7 .8-33.1 .7-39.9 .8-31.5 .7-11.1 .8 13.6 .7 33.1 .8 40 .8 31.6 .7 11.1 .8-14 .7-33.6 .8-40.8 .8-32.2 .7-11.5 .8 13.7 .7 33.7 .8 40.9 .7 32.4 .8 11.4 .8-14.1 .7-34.3 .8-41.5 .7-33 .8-11.9 .8 13.8 .7 34.3 .8 41.7 .7 33.2 .8 11.8 .7-14.2 .8-34.8 .8-42.4 .7-33.8 .8-12.3 .7 13.9 .8 34.9 .8 42.5 .7 33.9 .8 12.3 .7-14.3 .8-35.4 .7-43.3 .8-34.5 .8-12.7 .7 14 .8 35.5 .7 43.3 .8 34.7 .7 12.7 .8-14.4 .8-36 .7-44.1 .8-35.3 .7-13.2 .8 14.2 .8 36 .7 44.2 .8 35.5 .7 13.1 .8-14.5 .7-36.6 .8-44.9 .8-36.1 .7-13.6 .8 14.2 .7 36.7 .8 45 .8 36.3 .7 13.5 .8-14.5 .7-37.2 .8-45.8 .7-36.9 .8-14 .8 14.3 .7 37.2 .8 45.9 .7 37.1 .8 13.9 .8-14.6 .7-37.8 .8-46.6 .7-37.7 .8-14.4 .7 14.4 .8 37.7 .8 46.8 .7 37.8 .8 14.4 .7-14.7 .8-38.3 .7-47.4 .8-38.5 .8-14.9 .7 14.4 .8 38.3 .7 47.6 .8 38.7 .8 14.8 .7-14.8 .8-38.8 .7-48.3 .8-39.3 .7-15.3 .8 14.5 .8 38.8 .7 48.5 .8 39.4 .7 15.3 .8-14.8 .8-39.4 .7-49.1 .8-40.1 .7-15.9 .8 14.6 .7 39.4 .8 49.3 .8 40.2 .7 15.8 .8-14.9 .7-39.9 .8-50 .8-40.9 .7-16.3 .8 14.6 .7 40 .8 50.1 .7 41.1 .8 16.2 .8-14.9 .7-40.5 .8-50.8 .7-41.7 .8-16.8 .7 14.7 .8 40.5 .8 50.9 .7 41.9 .8 16.7 .7-15 .8-41 .8-51.6 .7-42.5 .8-17.3 .7 14.7 .8 41 .7 51.8 .8 42.7 .8 17.2 .7-15 .8-41.6 .7-52.4 .8-43.4 .8-17.7 .7 14.7 .8 41.6 .7 52.6 .8 43.5 .7 17.7 .8-15 .8-42.1 .7-53.3 .8-44.2 .7-18.2 .8 14.7 .8 42.1 .7 53.5 .8 44.3 .7 18.2 .8-15 .7-42.7 .8-54.1 .8-45 .7-18.7 .8 14.8 .7 42.6 .8 54.2 .7 45.1 .8 18.7 .8-15 .7-43.1 .8-54.9 .7-45.9 .8-19.2 .8 14.8 .7 43.1 .8 55.1 .7 45.9 .8 19.2 .7-15 .8-43.6 .8-55.8 .7-46.6 .8-19.8 .7 14.8 .8 43.6 .8 55.9 .7 46.8 .8 19.7 .7-15 .8-44.2 .7-56.5 .8-47.5 .8-20.3 .7 14.8 .8 44.1 .7 56.7 .8 47.6 .8 20.3 .7-15 .8-44.7 .7-57.4 .8-48.3 .7-20.8 .8 14.7 .8 44.7 .7 57.5 .8 48.5 .7 20.8 .8-15 .7-45.2 .8-58.2 .8-49.1 .7-21.4 .8 14.7 .7 45.2 .8 58.3 .8 49.3 .7 21.3 .8-14.9 .7-45.6 .8-59.1 .7-50 .8-21.8 .8 14.6 .7 45.6 .8 59.2 .7 50.2 .8 21.8 .8-14.9 .7-46.1 .8-59.9 .7-50.8 .8-22.4 .7 14.6 .8 46.1 .8 60 .7 51 .8 22.4 .7-14.9 .8-46.6 .8-60.7 .7-51.7 .8-22.9 .7 14.6 .8 46.5 .7 60.9 .8 51.8" stroke="#ff0000" stroke-width="3.7" fill="none" stroke-linejoin="round"/>
<path d="M926 856.4l.8 0 .7 0 .8 0 .7-.3 .8-.4 .7-.5 .8-.4 .8-.1 .7 .3 .8 .6 .7 .6 .8 .3 .8-.3 .7-.8 .8-1.1 .7-1.1 .8-.7 .7 .1 .8 .9 .8 1.3 .7 1.2 .8 .5 .7-.4 .8-1.3 .8-1.9 .7-1.8 .8-.9 .7 .3 .8 1.4 .7 2 .8 1.9 .8 .8 .7-.6 .8-1.9 .7-2.6 .8-2.4 .8-1.2 .7 .5 .8 1.9 .7 2.8 .8 2.4 .7 1.2 .8-.8 .8-2.4 .7-3.4 .8-3 .7-1.5 .8 .6 .7 2.5 .8 3.5 .8 3.1 .7 1.4 .8-.9 .7-3 .8-4 .8-3.7 .7-1.8 .8 .8 .7 3 .8 4.3 .7 3.7 .8 1.7 .8-1.1 .7-3.5 .8-4.8 .7-4.2 .8-2.1 .8 .9 .7 3.5 .8 5 .7 4.3 .8 2.1 .7-1.2 .8-4.1 .8-5.5 .7-4.9 .8-2.4 .7 1 .8 4.1 .8 5.7 .7 5 .8 2.3 .7-1.3 .8-4.6 .7-6.3 .8-5.5 .8-2.7 .7 1.2 .8 4.6 .7 6.4 .8 5.6 .7 2.7 .8-1.5 .8-5.1 .7-7 .8-6.2 .7-3 .8 1.3 .8 5.2 .7 7.1 .8 6.3 .7 2.9 .8-1.6 .7-5.6 .8-7.7 .8-6.8 .7-3.4 .8 1.4 .7 5.8 .8 7.8 .8 6.9 .7 3.3 .8-1.7 .7-6.2 .8-8.4 .7-7.5 .8-3.7 .8 1.6 .7 6.2 .8 8.5 .7 7.6 .8 3.6 .8-1.8 .7-6.7 .8-9.1 .7-8.1 .8-4.1 .7 1.7 .8 6.7 .8 9.3 .7 8.2 .8 4 .7-1.9 .8-7.3 .7-9.8 .8-8.8 .8-4.3 .7 1.7 .8 7.3 .7 10 .8 8.8 .8 4.3 .7-2 .8-7.7 .7-10.6 .8-9.4 .7-4.7 .8 1.9 .8 7.7 .7 10.7 .8 9.5 .7 4.7 .8-2.1 .8-8.3 .7-11.3 .8-10 .7-5.1 .8 2 .7 8.2 .8 11.4 .8 10.2 .7 5 .8-2.2 .7-8.7 .8-12 .8-10.8 .7-5.4 .8 2.1 .7 8.7 .8 12.2 .7 10.8 .8 5.4 .8-2.3 .7-9.2 .8-12.8 .7-11.4 .8-5.7 .7 2.1 .8 9.2 .8 12.9 .7 11.5 .8 5.7 .7-2.3 .8-9.8 .8-13.4 .7-12.1 .8-6.1 .7 2.2 .8 9.7 .7 13.6 .8 12.2 .8 6.1 .7-2.5 .8-10.2 .7-14.1 .8-12.8 .8-6.5 .7 2.3 .8 10.2 .7 14.3 .8 12.9 .7 6.4 .8-2.5 .8-10.7 .7-14.8 .8-13.5 .7-6.8 .8 2.3 .8 10.7 .7 15 .8 13.5 .7 6.9 .8-2.6 .7-11.2 .8-15.5 .8-14.1 .7-7.3 .8 2.4 .7 11.1 .8 15.7 .7 14.3 .8 7.2 .8-2.6 .7-11.7 .8-16.2 .7-14.8 .8-7.7 .8 2.5 .7 11.6 .8 16.4 .7 14.9 .8 7.6 .7-2.6 .8-12.1 .8-17 .7-15.5 .8-8 .7 2.4 .8 12.1 .8 17.2 .7 15.5 .8 8.1 .7-2.7 .8-12.6 .7-17.7 .8-16.1 .8-8.5 .7 2.5 .8 12.6 .7 17.8 .8 16.3 .8 8.4 .7-2.7 .8-13.1 .7-18.4 .8-16.8 .7-8.9 .8 2.6 .8 13 .7 18.5 .8 17 .7 8.8 .8-2.7 .7-13.5 .8-19.1 .8-17.5 .7-9.3 .8 2.6 .7 13.4 .8 19.3 .8 17.6 .7 9.3 .8-2.8 .7-13.9 .8-19.9 .7-18.2 .8-9.7 .8 2.6 .7 13.9 .8 20 .7 18.3 .8 9.7 .8-2.8 .7-14.4 .8-20.5 .7-18.9 .8-10.1 .7 2.6 .8 14.3 .8 20.7 .7 19 .8 10.1 .7-2.8 .8-14.8 .8-21.2 .7-19.6 .8-10.6 .7 2.6 .8 14.8 .7 21.4 .8 19.7 .8 10.5 .7-2.8 .8-15.2 .7-21.9 .8-20.3 .7-11 .8 2.6 .8 15.2 .7 22.1 .8 20.4 .7 10.9 .8-2.8 .8-15.6 .7-22.6 .8-21.1 .7-11.4 .8 2.6 .7 15.7 .8 22.7 .8 21.2 .7 11.4 .8-2.9 .7-16 .8-23.3 .8-21.8 .7-11.8 .8 2.6 .7 16 .8 23.5 .7 21.8 .8 11.9 .8-2.8 .7-16.5 .8-24 .7-22.4 .8-12.3 .8 2.5 .7 16.5 .8 24.1 .7 22.6 .8 12.3 .7-2.8 .8-16.9 .8-24.7 .7-23.1 .8-12.8 .7 2.6 .8 16.9 .7 24.8 .8 23.2 .8 12.8 .7-2.8 .8-17.3 .7-25.4 .8-23.8 .8-13.2 .7 2.5 .8 17.3 .7 25.5 .8 24 .7 13.2 .8-2.7 .8-17.7 .7-26.1 .8-24.6 .7-13.6 .8 2.4 .8 17.7 .7 26.2 .8 24.7 .7 13.7 .8-2.7 .7-18.1 .8-26.8 .8-25.2 .7-14.2 .8 2.5 .7 18.1 .8 26.8 .8 25.4 .7 14.2 .8-2.6 .7-18.5 .8-27.5 .7-26 .8-14.6 .8 2.4 .7 18.5 .8 27.5 .7 26.2 .8 14.6 .7-2.6 .8-18.9 .8-28.1 .7-26.7 .8-15.1 .7 2.3 .8 18.9 .8 28.2 .7 26.9 .8 15.1 .7-2.5 .8-19.3 .7-28.8 .8-27.4 .8-15.6 .7 2.2 .8 19.3 .7 28.9 .8 27.6 .8 15.6 .7-2.5 .8-19.6 .7-29.5 .8-28.2 .7-16 .8 2.1 .8 19.7 .7 29.6 .8 28.3 .7 16.1 .8-2.4 .8-20.1 .7-30.1 .8-28.9 .7-16.5 .8 2.1 .7 20 .8 30.3 .8 29 .7 16.5 .8-2.2 .7-20.5 .8-30.8 .7-29.6 .8-17.1 .8 2.1 .7 20.3 .8 31 .7 29.7 .8 17.1 .8-2.2 .7-20.8 .8-31.5 .7-30.3 .8-17.6 .7 2 .8 20.7 .8 31.6 .7 30.5 .8 17.6 .7-2.1 .8-21.1 .8-32.2 .7-31.1 .8-18.1 .7 1.9 .8 21.1 .7 32.3 .8 31.2 .8 18.1 .7-2 .8-21.5 .7-32.9 .8-31.8 .8-18.6 .7 1.8 .8 21.4 .7 33 .8 31.9 .7 18.6 .8-1.9 .8-21.8 .7-33.5 .8-32.6 .7-19.1 .8 1.7 .7 21.8 .8 33.6 .8 32.7 .7 19.1 .8-1.8 .7-22.2 .8-34.2 .8-33.2 .7-19.6 .8 1.5 .7 22.1 .8 34.3 .7 33.4 .8 19.7 .8-1.7 .7-22.5 .8-34.9 .7-34 .8-20.1 .8 1.4 .7 22.4 .8 35 .7 34.1 .8 20.2 .7-1.5 .8-22.9 .8-35.5 .7-34.7 .8-20.7 .7 1.3 .8 22.7 .8 35.7 .7 34.8 .8 20.8 .7-1.5 .8-23.1 .7-36.2 .8-35.5 .8-21.2 .7 1.1 .8 23.2 .7 36.2 .8 35.6 .7 21.3 .8-1.3 .8-23.5 .7-36.8 .8-36.2 .7-21.8 .8 1 .8 23.5 .7 36.9 .8 36.3 .7 21.9 .8-1.2 .7-23.8 .8-37.5 .8-36.9 .7-22.3 .8 .8 .7 23.8 .8 37.5 .8 37.1 .7 22.4 .8-1 .7-24.1 .8-38.1 .7-37.7 .8-22.9 .8 .7 .7 24 .8 38.3 .7 37.8 .8 22.9 .8-.8 .7-24.4 .8-38.8 .7-38.4 .8-23.5 .7 .6 .8 24.3 .8 38.9 .7 38.6 .8 23.5 .7-.7 .8-24.7 .7-39.5 .8-39.1 .8-24 .7 .4 .8 24.6 .7 39.5 .8 39.4 .8 24 .7-.5 .8-25 .7-40.1 .8-39.9 .7-24.6 .8 .2 .8 25 .7 40.1 .8 40.1 .7 24.6 .8-.3 .8-25.3 .7-40.7 .8-40.7 .7-25.1 .8 0 .7 25.2 .8 40.8 .8 40.9 .7 25.2 .8-.2 .7-25.6 .8-41.3 .8-41.5 .7-25.7 .8-.1 .7 25.5 .8 41.4 .7 41.6 .8 25.8 .8 0 .7-25.9 .8-42 .7-42.1 .8-26.3 .7-.4 .8 25.8 .8 42.1 .7 42.3 .8 26.4 .7 .2 .8-26.1 .8-42.7 .7-42.9 .8-26.9 .7-.5 .8 26 .7 42.8 .8 43.1 .8 26.9 .7 .4 .8-26.4 .7-43.2 .8-43.7 .8-27.5 .7-.7 .8 26.3 .7 43.3 .8 43.9 .7 27.5 .8 .6 .8-26.6 .7-43.9 .8-44.5 .7-28 .8-1 .8 26.6 .7 44 .8 44.6 .7 28.1 .8 .8 .7-26.9 .8-44.5 .8-45.2 .7-28.6 .8-1.2 .7 26.8 .8 44.6 .7 45.4 .8 28.7 .8 1 .7-27.1 .8-45.2 .7-45.9 .8-29.3 .8-1.3 .7 27 .8 45.2 .7 46.1 .8 29.4 .7 1.3 .8-27.5 .8-45.7 .7-46.7 .8-29.9 .7-1.6 .8 27.3 .8 45.9 .7 46.8 .8 30 .7 1.5 .8-27.7 .7-46.3 .8-47.5 .8-30.5 .7-1.8 .8 27.5 .7 46.5 .8 47.6 .8 30.6 .7 1.7 .8-27.9 .7-47 .8-48.2 .7-31.1 .8-2.1 .8 27.8 .7 47.1 .8 48.3 .7 31.2 .8 2 .7-28.1 .8-47.6 .8-49 .7-31.7 .8-2.3 .7 28 .8 47.6 .8 49.2 .7 31.8 .8 2.2 .7-28.3 .8-48.2 .7-49.7 .8-32.4 .8-2.6 .7 28.2 .8 48.3 .7 49.9 .8 32.5 .8 2.4 .7-28.5 .8-48.8 .7-50.5 .8-33 .7-2.8 .8 28.4 .8 48.9 .7 50.7 .8 33 .7 2.8 .8-28.8 .8-49.4 .7-51.3 .8-33.6 .7-3.1 .8 28.7 .7 49.4 .8 51.5" stroke="#0000ff" stroke-width="3.7" fill="none" stroke-linejoin="round" stroke-dasharray="11.5 4.4"/>
<path d="M926 856.4l.8 .2 .7 .1 .8 .2 .7 0 .8-.2 .7-.2 .8-.1 .8 .1 .7 .4 .8 .6 .7 .6 .8 .4 .8 0 .7-.4 .8-.7 .7-.6 .8-.3 .7 .2 .8 .8 .8 1.1 .7 1 .8 .6 .7-.2 .8-.7 .8-1.2 .7-1.1 .8-.5 .7 .4 .8 1.1 .7 1.6 .8 1.5 .8 .8 .7-.3 .8-1.1 .7-1.7 .8-1.5 .8-.7 .7 .4 .8 1.6 .7 2.1 .8 1.9 .7 1 .8-.4 .8-1.5 .7-2.2 .8-2 .7-.9 .8 .6 .7 1.9 .8 2.7 .8 2.3 .7 1.2 .8-.5 .7-1.9 .8-2.7 .8-2.4 .7-1.2 .8 .7 .7 2.4 .8 3.1 .7 2.8 .8 1.4 .8-.6 .7-2.3 .8-3.2 .7-2.9 .8-1.3 .8 .8 .7 2.7 .8 3.7 .7 3.2 .8 1.6 .7-.7 .8-2.7 .8-3.7 .7-3.3 .8-1.6 .7 .9 .8 3.1 .8 4.2 .7 3.7 .8 1.8 .7-.7 .8-3.2 .7-4.2 .8-3.8 .8-1.7 .7 1 .8 3.5 .7 4.6 .8 4.2 .7 2 .8-.8 .8-3.5 .7-4.8 .8-4.2 .7-2 .8 1.1 .8 3.9 .7 5.2 .8 4.6 .7 2.2 .8-.9 .7-3.9 .8-5.2 .8-4.7 .7-2.2 .8 1.2 .7 4.2 .8 5.7 .8 5 .7 2.5 .8-1 .7-4.2 .8-5.8 .7-5.1 .8-2.5 .8 1.3 .7 4.6 .8 6.2 .7 5.5 .8 2.8 .8-1.2 .7-4.6 .8-6.3 .7-5.5 .8-2.7 .7 1.3 .8 5 .8 6.7 .7 6 .8 3 .7-1.2 .8-5 .7-6.8 .8-6.1 .8-2.9 .7 1.4 .8 5.3 .7 7.3 .8 6.4 .8 3.3 .7-1.3 .8-5.3 .7-7.3 .8-6.6 .7-3.1 .8 1.5 .8 5.6 .7 7.8 .8 6.9 .7 3.5 .8-1.4 .8-5.6 .7-7.9 .8-7 .7-3.4 .8 1.6 .7 6 .8 8.3 .8 7.4 .7 3.7 .8-1.4 .7-6.1 .8-8.3 .8-7.4 .7-3.7 .8 1.6 .7 6.4 .8 8.7 .7 7.9 .8 4 .8-1.5 .7-6.4 .8-8.8 .7-7.9 .8-4 .7 1.7 .8 6.7 .8 9.3 .7 8.3 .8 4.3 .7-1.6 .8-6.7 .8-9.3 .7-8.4 .8-4.2 .7 1.7 .8 7.1 .7 9.8 .8 8.8 .8 4.5 .7-1.6 .8-7.1 .7-9.8 .8-8.9 .8-4.4 .7 1.7 .8 7.4 .7 10.3 .8 9.3 .7 4.8 .8-1.7 .8-7.4 .7-10.3 .8-9.4 .7-4.7 .8 1.8 .8 7.8 .7 10.8 .8 9.7 .7 5.1 .8-1.7 .7-7.7 .8-10.9 .8-9.8 .7-5 .8 1.8 .7 8.1 .8 11.3 .7 10.3 .8 5.2 .8-1.7 .7-8 .8-11.4 .7-10.3 .8-5.3 .8 1.9 .7 8.4 .8 11.8 .7 10.8 .8 5.5 .7-1.7 .8-8.4 .8-11.9 .7-10.8 .8-5.5 .7 1.9 .8 8.8 .8 12.3 .7 11.2 .8 5.8 .7-1.7 .8-8.8 .7-12.3 .8-11.3 .8-5.8 .7 1.9 .8 9.1 .7 12.8 .8 11.7 .8 6.1 .7-1.8 .8-9 .7-12.9 .8-11.8 .7-6.1 .8 2 .8 9.4 .7 13.3 .8 12.2 .7 6.4 .8-1.8 .7-9.4 .8-13.3 .8-12.3 .7-6.4 .8 2 .7 9.7 .8 13.8 .8 12.7 .7 6.7 .8-1.8 .7-9.7 .8-13.9 .7-12.7 .8-6.7 .8 2 .7 10 .8 14.3 .7 13.2 .8 7 .8-1.9 .7-10 .8-14.3 .7-13.3 .8-7 .7 2.1 .8 10.3 .8 14.8 .7 13.6 .8 7.4 .7-1.9 .8-10.3 .8-14.9 .7-13.7 .8-7.3 .7 2 .8 10.7 .7 15.3 .8 14.1 .8 7.6 .7-1.8 .8-10.6 .7-15.4 .8-14.2 .7-7.6 .8 2 .8 11 .7 15.7 .8 14.7 .7 7.9 .8-1.8 .8-10.9 .7-15.9 .8-14.7 .7-7.9 .8 2 .7 11.2 .8 16.3 .8 15.2 .7 8.2 .8-1.8 .7-11.3 .8-16.3 .8-15.2 .7-8.3 .8 2 .7 11.6 .8 16.8 .7 15.6 .8 8.6 .8-1.8 .7-11.6 .8-16.8 .7-15.7 .8-8.6 .8 2 .7 11.9 .8 17.2 .7 16.2 .8 8.8 .7-1.8 .8-11.8 .8-17.3 .7-16.2 .8-8.9 .7 2 .8 12.1 .7 17.8 .8 16.6 .8 9.2 .7-1.8 .8-12.1 .7-17.8 .8-16.7 .8-9.2 .7 1.9 .8 12.5 .7 18.2 .8 17.2 .7 9.5 .8-1.8 .8-12.4 .7-18.3 .8-17.2 .7-9.5 .8 1.9 .8 12.7 .7 18.7 .8 17.7 .7 9.8 .8-1.7 .7-12.6 .8-18.8 .8-17.8 .7-9.8 .8 1.9 .7 12.9 .8 19.3 .8 18.1 .7 10.2 .8-1.7 .7-12.9 .8-19.3 .7-18.3 .8-10.1 .8 1.8 .7 13.3 .8 19.7 .7 18.6 .8 10.6 .7-1.7 .8-13.2 .8-19.8 .7-18.7 .8-10.5 .7 1.8 .8 13.5 .8 20.2 .7 19.2 .8 10.8 .7-1.6 .8-13.5 .7-20.2 .8-19.3 .8-10.8 .7 1.7 .8 13.8 .7 20.7 .8 19.7 .8 11.2 .7-1.6 .8-13.7 .7-20.8 .8-19.7 .7-11.3 .8 1.8 .8 14 .7 21.2 .8 20.2 .7 11.6 .8-1.6 .8-14 .7-21.2 .8-20.3 .7-11.6 .8 1.7 .7 14.3 .8 21.7 .8 20.7 .7 11.9 .8-1.4 .7-14.3 .8-21.7 .7-20.8 .8-12 .8 1.6 .7 14.6 .8 22.2 .7 21.2 .8 12.3 .8-1.4 .7-14.6 .8-22.2 .7-21.3 .8-12.2 .7 1.5 .8 14.8 .8 22.6 .7 21.8 .8 12.6 .7-1.3 .8-14.8 .8-22.7 .7-21.8 .8-12.6 .7 1.4 .8 15.1 .7 23.1 .8 22.3 .8 13 .7-1.3 .8-15.1 .7-23.1 .8-22.3 .8-13 .7 1.4 .8 15.3 .7 23.6 .8 22.7 .7 13.4 .8-1.2 .8-15.3 .7-23.6 .8-22.9 .7-13.3 .8 1.3 .7 15.6 .8 24 .8 23.3 .7 13.7 .8-1.1 .7-15.5 .8-24.1 .8-23.4 .7-13.7 .8 1.2 .7 15.9 .8 24.5 .7 23.8 .8 14.1 .8-1 .7-15.8 .8-24.6 .7-23.9 .8-14.1 .8 1.2 .7 16 .8 25 .7 24.3 .8 14.5 .7-.9 .8-16 .8-25 .7-24.5 .8-14.5 .7 1.1 .8 16.3 .8 25.4 .7 24.9 .8 14.8 .7-.8 .8-16.2 .7-25.5 .8-25 .8-14.8 .7 .9 .8 16.6 .7 25.8 .8 25.4 .7 15.3 .8-.8 .8-16.4 .7-26 .8-25.5 .7-15.2 .8 .9 .8 16.7 .7 26.4 .8 25.9 .7 15.6 .8-.6 .7-16.7 .8-26.4 .8-26 .7-15.7 .8 .8 .7 17 .8 26.8 .8 26.4 .7 16 .8-.5 .7-16.9 .8-26.9 .7-26.5 .8-16.1 .8 .7 .7 17.2 .8 27.3 .7 26.9 .8 16.5 .8-.5 .7-17.1 .8-27.3 .7-27.1 .8-16.4 .7 .5 .8 17.4 .8 27.8 .7 27.5 .8 16.8 .7-.3 .8-17.4 .7-27.8 .8-27.6 .8-16.8 .7 .4 .8 17.7 .7 28.2 .8 28 .8 17.2 .7-.2 .8-17.6 .7-28.2 .8-28.1 .7-17.3 .8 .4 .8 17.8 .7 28.6 .8 28.6 .7 17.6 .8-.1 .8-17.7 .7-28.7 .8-28.7 .7-17.6 .8 .2 .7 18 .8 29.1 .8 29.1 .7 18 .8 .1 .7-18 .8-29.1 .8-29.2 .7-18.1 .8 .1 .7 18.2 .8 29.6 .7 29.6 .8 18.4 .8 .2 .7-18.1 .8-29.6 .7-29.8 .8-18.4 .7-.1 .8 18.4 .8 30 .7 30.2 .8 18.8 .7 .4 .8-18.4 .8-30 .7-30.3 .8-18.9 .7-.2 .8 18.6 .7 30.5 .8 30.7 .8 19.2 .7 .5 .8-18.5 .7-30.5 .8-30.8 .8-19.3 .7-.4 .8 18.8 .7 30.9 .8 31.3 .7 19.6 .8 .6 .8-18.7 .7-30.9 .8-31.3 .7-19.8 .8-.5 .8 19 .7 31.4 .8 31.7 .7 20.1 .8 .8 .7-18.9 .8-31.4 .8-31.9 .7-20.1 .8-.6 .7 19.1 .8 31.8 .7 32.3 .8 20.5 .8 .9 .7-19.1 .8-31.8 .7-32.4 .8-20.5 .8-.8 .7 19.3 .8 32.2 .7 32.8 .8 21 .7 1.1 .8-19.3 .8-32.2 .7-33 .8-21 .7-.9 .8 19.5 .8 32.6 .7 33.4 .8 21.4 .7 1.2 .8-19.4 .7-32.7 .8-33.5 .8-21.4 .7-1.1 .8 19.7 .7 33 .8 33.9 .8 21.9 .7 1.4 .8-19.6 .7-33.1 .8-34 .7-21.9 .8-1.3 .8 19.8 .7 33.5 .8 34.5 .7 22.3 .8 1.5 .7-19.7 .8-33.6 .8-34.5 .7-22.3 .8-1.5 .7 20 .8 33.9 .8 35 .7 22.7 .8 1.8 .7-19.9 .8-34 .7-35.1 .8-22.8 .8-1.6 .7 20.1 .8 34.4 .7 35.5 .8 23.2 .8 1.9 .7-20 .8-34.4 .7-35.7 .8-23.2 .7-1.8 .8 20.3 .8 34.8 .7 36.1 .8 23.6 .7 2.1 .8-20.2 .8-34.9 .7-36.1 .8-23.7 .7-2 .8 20.4 .7 35.3 .8 36.6" stroke="#ff8000" stroke-width="3.7" fill="none" stroke-linejoin="round" stroke-dasharray="5.5 4.5 11 4.9"/>
<path d="M926 856.4l.8 .1 .7 .1 .8 .1 .7 0 .8-.1 .7-.2 .8-.1 .8 0 .7 .3 .8 .4 .7 .5 .8 .2 .8 0 .7-.3 .8-.5 .7-.5 .8-.3 .7 .2 .8 .5 .8 .9 .7 .7 .8 .5 .7-.2 .8-.6 .8-.9 .7-.9 .8-.4 .7 .3 .8 .9 .7 1.2 .8 1.1 .8 .6 .7-.2 .8-1 .7-1.3 .8-1.2 .8-.5 .7 .3 .8 1.2 .7 1.6 .8 1.5 .7 .7 .8-.3 .8-1.2 .7-1.8 .8-1.5 .7-.7 .8 .4 .7 1.5 .8 2 .8 1.8 .7 .9 .8-.4 .7-1.5 .8-2.1 .8-1.9 .7-.9 .8 .5 .7 1.8 .8 2.4 .7 2.2 .8 1 .8-.4 .7-1.9 .8-2.5 .7-2.2 .8-1.1 .8 .6 .7 2.1 .8 2.8 .7 2.5 .8 1.2 .7-.5 .8-2.1 .8-2.9 .7-2.6 .8-1.2 .7 .6 .8 2.4 .8 3.2 .7 2.9 .8 1.4 .7-.7 .8-2.4 .7-3.3 .8-2.9 .8-1.4 .7 .8 .8 2.6 .7 3.6 .8 3.2 .7 1.6 .8-.7 .8-2.7 .7-3.7 .8-3.3 .7-1.6 .8 .9 .8 2.9 .7 4 .8 3.6 .7 1.7 .8-.8 .7-3 .8-4.1 .8-3.6 .7-1.7 .8 .9 .7 3.2 .8 4.4 .8 3.9 .7 1.9 .8-.8 .7-3.3 .8-4.5 .7-4 .8-1.9 .8 .9 .7 3.6 .8 4.8 .7 4.2 .8 2.1 .8-.9 .7-3.5 .8-4.9 .7-4.4 .8-2.1 .7 1 .8 3.8 .8 5.2 .7 4.7 .8 2.2 .7-.9 .8-3.9 .7-5.3 .8-4.7 .8-2.2 .7 1 .8 4.1 .7 5.6 .8 5 .8 2.4 .7-1 .8-4.1 .7-5.7 .8-5 .7-2.5 .8 1.1 .8 4.4 .7 6 .8 5.3 .7 2.7 .8-1.1 .8-4.4 .7-6.1 .8-5.4 .7-2.7 .8 1.2 .7 4.6 .8 6.4 .8 5.7 .7 2.9 .8-1.1 .7-4.7 .8-6.5 .8-5.8 .7-2.8 .8 1.2 .7 4.9 .8 6.8 .7 6 .8 3.1 .8-1.2 .7-4.9 .8-6.9 .7-6.2 .8-3 .7 1.3 .8 5.1 .8 7.2 .7 6.4 .8 3.3 .7-1.2 .8-5.2 .8-7.3 .7-6.5 .8-3.3 .7 1.3 .8 5.5 .7 7.5 .8 6.8 .8 3.5 .7-1.2 .8-5.5 .7-7.7 .8-6.9 .8-3.4 .7 1.3 .8 5.7 .7 8 .8 7.1 .7 3.7 .8-1.3 .8-5.7 .7-8.1 .8-7.2 .7-3.7 .8 1.4 .8 6 .7 8.3 .8 7.5 .7 3.9 .8-1.3 .7-6 .8-8.4 .8-7.7 .7-3.9 .8 1.5 .7 6.2 .8 8.7 .7 7.9 .8 4.1 .8-1.3 .7-6.3 .8-8.8 .7-8 .8-4.1 .8 1.4 .7 6.5 .8 9.1 .7 8.3 .8 4.3 .7-1.3 .8-6.6 .8-9.2 .7-8.4 .8-4.3 .7 1.5 .8 6.7 .8 9.5 .7 8.7 .8 4.5 .7-1.4 .8-6.7 .7-9.6 .8-8.8 .8-4.5 .7 1.5 .8 7 .7 9.8 .8 9.1 .8 4.7 .7-1.4 .8-7 .7-10 .8-9.1 .7-4.8 .8 1.5 .8 7.3 .7 10.2 .8 9.5 .7 4.9 .8-1.4 .7-7.3 .8-10.4 .8-9.5 .7-4.9 .8 1.5 .7 7.5 .8 10.6 .8 9.8 .7 5.2 .8-1.4 .7-7.5 .8-10.8 .7-9.9 .8-5.2 .8 1.5 .7 7.8 .8 11 .7 10.2 .8 5.4 .8-1.4 .7-7.8 .8-11.1 .7-10.3 .8-5.4 .7 1.5 .8 8 .8 11.4 .7 10.6 .8 5.6 .7-1.4 .8-8 .8-11.6 .7-10.6 .8-5.7 .7 1.5 .8 8.3 .7 11.8 .8 10.9 .8 5.9 .7-1.4 .8-8.3 .7-11.9 .8-11 .7-5.9 .8 1.5 .8 8.5 .7 12.2 .8 11.3 .7 6.1 .8-1.4 .8-8.5 .7-12.3 .8-11.4 .7-6.2 .8 1.5 .7 8.7 .8 12.6 .8 11.7 .7 6.4 .8-1.5 .7-8.7 .8-12.6 .8-11.8 .7-6.4 .8 1.5 .7 8.9 .8 13 .7 12.1 .8 6.6 .8-1.5 .7-8.9 .8-13.1 .7-12.1 .8-6.7 .8 1.5 .7 9.2 .8 13.3 .7 12.5 .8 6.9 .7-1.5 .8-9.1 .8-13.5 .7-12.5 .8-6.9 .7 1.5 .8 9.4 .7 13.7 .8 12.8 .8 7.1 .7-1.3 .8-9.4 .7-13.9 .8-12.9 .8-7.2 .7 1.5 .8 9.6 .7 14.1 .8 13.3 .7 7.3 .8-1.3 .8-9.7 .7-14.2 .8-13.3 .7-7.4 .8 1.5 .8 9.8 .7 14.5 .8 13.6 .7 7.6 .8-1.3 .7-9.9 .8-14.5 .8-13.8 .7-7.6 .8 1.4 .7 10 .8 14.9 .8 14 .7 7.9 .8-1.3 .7-10.1 .8-14.9 .7-14.2 .8-7.9 .8 1.4 .7 10.3 .8 15.2 .7 14.5 .8 8.1 .7-1.3 .8-10.3 .8-15.3 .7-14.5 .8-8.2 .7 1.4 .8 10.4 .8 15.6 .7 14.9 .8 8.4 .7-1.3 .8-10.5 .7-15.7 .8-14.9 .8-8.4 .7 1.3 .8 10.7 .7 16 .8 15.2 .8 8.6 .7-1.2 .8-10.7 .7-16 .8-15.4 .7-8.7 .8 1.3 .8 10.9 .7 16.4 .8 15.6 .7 8.9 .8-1.2 .8-10.9 .7-16.4 .8-15.7 .7-9 .8 1.3 .7 11 .8 16.8 .8 16 .7 9.2 .8-1.2 .7-11 .8-16.9 .7-16.1 .8-9.2 .8 1.2 .7 11.3 .8 17.1 .7 16.4 .8 9.5 .8-1.1 .7-11.3 .8-17.2 .7-16.5 .8-9.6 .7 1.2 .8 11.5 .8 17.5 .7 16.8 .8 9.7 .7-1 .8-11.5 .8-17.6 .7-16.9 .8-9.8 .7 1.1 .8 11.7 .7 17.8 .8 17.3 .8 10 .7-1 .8-11.7 .7-17.9 .8-17.3 .8-10.1 .7 1.1 .8 11.8 .7 18.2 .8 17.6 .7 10.4 .8-1 .8-11.8 .7-18.3 .8-17.8 .7-10.3 .8 1 .7 12 .8 18.6 .8 18 .7 10.6 .8-.8 .7-12.1 .8-18.7 .8-18.1 .7-10.6 .8 .9 .7 12.2 .8 19 .7 18.4 .8 10.9 .8-.8 .7-12.3 .8-19 .7-18.5 .8-11 .8 .9 .7 12.4 .8 19.3 .7 18.9 .8 11.1 .7-.7 .8-12.4 .8-19.4 .7-18.9 .8-11.3 .7 .8 .8 12.6 .8 19.7 .7 19.2 .8 11.5 .7-.7 .8-12.6 .7-19.7 .8-19.4 .8-11.5 .7 .7 .8 12.8 .7 20 .8 19.7 .7 11.8 .8-.6 .8-12.8 .7-20.1 .8-19.8 .7-11.8 .8 .7 .8 12.9 .7 20.4 .8 20 .7 12.1 .8-.5 .7-13 .8-20.4 .8-20.2 .7-12.1 .8 .6 .7 13.1 .8 20.7 .8 20.5 .7 12.4 .8-.5 .7-13.1 .8-20.8 .7-20.6 .8-12.4 .8 .5 .7 13.3 .8 21.1 .7 20.8 .8 12.7 .8-.3 .7-13.3 .8-21.2 .7-21 .8-12.7 .7 .4 .8 13.5 .8 21.4 .7 21.3 .8 13 .7-.3 .8-13.5 .7-21.5 .8-21.4 .8-13 .7 .3 .8 13.6 .7 21.8 .8 21.7 .8 13.3 .7-.2 .8-13.6 .7-21.9 .8-21.8 .7-13.3 .8 .2 .8 13.8 .7 22.1 .8 22.1 .7 13.7 .8-.1 .8-13.8 .7-22.2 .8-22.2 .7-13.7 .8 .1 .7 14 .8 22.5 .8 22.5 .7 13.9 .8 0 .7-13.9 .8-22.6 .8-22.6 .7-14 .8 0 .7 14.1 .8 22.9 .7 22.9 .8 14.2 .8 .2 .7-14.1 .8-23 .7-23 .8-14.3 .7-.1 .8 14.3 .8 23.2 .7 23.3 .8 14.6 .7 .2 .8-14.2 .8-23.3 .7-23.5 .8-14.6 .7-.2 .8 14.4 .7 23.6 .8 23.7 .8 14.9 .7 .3 .8-14.3 .7-23.7 .8-23.8 .8-15 .7-.3 .8 14.6 .7 23.9 .8 24.1 .7 15.2 .8 .5 .8-14.5 .7-24 .8-24.3 .7-15.3 .8-.4 .8 14.7 .7 24.2 .8 24.6 .7 15.6 .8 .5 .7-14.6 .8-24.3 .8-24.7 .7-15.6 .8-.6 .7 14.9 .8 24.5 .7 25 .8 15.9 .8 .7 .7-14.8 .8-24.7 .7-25.1 .8-15.9 .8-.7 .7 15 .8 24.9 .7 25.4 .8 16.2 .7 .8 .8-14.9 .8-25 .7-25.5 .8-16.3 .7-.8 .8 15.1 .8 25.3 .7 25.8 .8 16.5 .7 1 .8-15.1 .7-25.3 .8-26 .8-16.6 .7-.9 .8 15.2 .7 25.6 .8 26.3 .8 16.8 .7 1.1 .8-15.2 .7-25.6 .8-26.4 .7-16.9 .8-1.1 .8 15.4 .7 25.9 .8 26.6 .7 17.3 .8 1.2 .7-15.4 .8-26 .8-26.7 .7-17.3 .8-1.2 .7 15.5 .8 26.2 .8 27.1 .7 17.6 .8 1.3 .7-15.4 .8-26.4 .7-27.1 .8-17.7 .8-1.3 .7 15.6 .8 26.6 .7 27.5 .8 17.9 .8 1.5 .7-15.6 .8-26.7 .7-27.6 .8-17.9 .7-1.5 .8 15.7 .8 26.9 .7 27.9 .8 18.3 .7 1.6 .8-15.7 .8-27 .7-28 .8-18.3 .7-1.6 .8 15.8 .7 27.3 .8 28.3" stroke="#00a800" stroke-width="3.7" fill="none" stroke-linejoin="round" stroke-dasharray="5.5 4.4"/>
<path d="M926.0 998.5v-6.8M926.0 641.8v6.8M953.7 998.5v-4.2M953.7 641.8v4.2M981.4 998.5v-4.2M981.4 641.8v4.2M1009.1 998.5v-4.2M1009.1 641.8v4.2M1036.8 998.5v-6.8M1036.8 641.8v6.8M1064.5 998.5v-4.2M1064.5 641.8v4.2M1092.3 998.5v-4.2M1092.3 641.8v4.2M1120.0 998.5v-4.2M1120.0 641.8v4.2M1147.7 998.5v-6.8M1147.7 641.8v6.8M1175.4 998.5v-4.2M1175.4 641.8v4.2M1203.1 998.5v-4.2M1203.1 641.8v4.2M1230.8 998.5v-4.2M1230.8 641.8v4.2M1258.5 998.5v-6.8M1258.5 641.8v6.8M1286.2 998.5v-4.2M1286.2 641.8v4.2M1313.9 998.5v-4.2M1313.9 641.8v4.2M1341.7 998.5v-4.2M1341.7 641.8v4.2M1369.4 998.5v-6.8M1369.4 641.8v6.8M1397.1 998.5v-4.2M1397.1 641.8v4.2M1424.8 998.5v-4.2M1424.8 641.8v4.2M1452.5 998.5v-4.2M1452.5 641.8v4.2M1480.2 998.5v-6.8M1480.2 641.8v6.8M914.3 994.5h4.2M1491.9 994.5h-4.2M914.3 984.7h4.2M1491.9 984.7h-4.2M914.3 974.8h4.2M1491.9 974.8h-4.2M914.3 964.9h4.2M1491.9 964.9h-4.2M914.3 955.1h6.8M1491.9 955.1h-6.8M914.3 945.2h4.2M1491.9 945.2h-4.2M914.3 935.3h4.2M1491.9 935.3h-4.2M914.3 925.5h4.2M1491.9 925.5h-4.2M914.3 915.6h4.2M1491.9 915.6h-4.2M914.3 905.7h6.8M1491.9 905.7h-6.8M914.3 895.9h4.2M1491.9 895.9h-4.2M914.3 886.0h4.2M1491.9 886.0h-4.2M914.3 876.1h4.2M1491.9 876.1h-4.2M914.3 866.3h4.2M1491.9 866.3h-4.2M914.3 856.4h6.8M1491.9 856.4h-6.8M914.3 846.5h4.2M1491.9 846.5h-4.2M914.3 836.7h4.2M1491.9 836.7h-4.2M914.3 826.8h4.2M1491.9 826.8h-4.2M914.3 816.9h4.2M1491.9 816.9h-4.2M914.3 807.1h6.8M1491.9 807.1h-6.8M914.3 797.2h4.2M1491.9 797.2h-4.2M914.3 787.3h4.2M1491.9 787.3h-4.2M914.3 777.5h4.2M1491.9 777.5h-4.2M914.3 767.6h4.2M1491.9 767.6h-4.2M914.3 757.7h6.8M1491.9 757.7h-6.8M914.3 747.9h4.2M1491.9 747.9h-4.2M914.3 738.0h4.2M1491.9 738.0h-4.2M914.3 728.1h4.2M1491.9 728.1h-4.2M914.3 718.3h4.2M1491.9 718.3h-4.2M914.3 708.4h6.8M1491.9 708.4h-6.8M914.3 698.5h4.2M1491.9 698.5h-4.2M914.3 688.7h4.2M1491.9 688.7h-4.2M914.3 678.8h4.2M1491.9 678.8h-4.2M914.3 668.9h4.2M1491.9 668.9h-4.2M914.3 659.1h6.8M1491.9 659.1h-6.8M914.3 649.2h4.2M1491.9 649.2h-4.2" stroke="#000" stroke-width="1.3" fill="none"/>
<rect x="914.3" y="641.8" width="577.6" height="356.7" stroke="#000" stroke-width="1.6" fill="none"/>
<g font-family='"Liberation Sans", sans-serif' font-size="36.80"><text x="900.9" y="669.0" text-anchor="end">20</text><text x="900.9" y="718.3" text-anchor="end">15</text><text x="900.9" y="767.6" text-anchor="end">10</text><text x="900.9" y="817.0" text-anchor="end">5</text><text x="900.9" y="866.3" text-anchor="end">0</text><text x="900.9" y="915.6" text-anchor="end">−5</text><text x="900.9" y="965.0" text-anchor="end">−10</text><text x="926.0" y="1039.6" text-anchor="middle">0</text><text x="1036.8" y="1039.6" text-anchor="middle">2</text><text x="1147.7" y="1039.6" text-anchor="middle">4</text><text x="1258.5" y="1039.6" text-anchor="middle">6</text><text x="1369.4" y="1039.6" text-anchor="middle">8</text><text x="1480.2" y="1039.6" text-anchor="middle">10</text></g>
<path d="M940.6 687.9H1017.9" stroke="#ff0000" stroke-width="3.7"/>
<text x="1027.7" y="693.7" font-size="36.00"><tspan font-family='"Liberation Serif", serif'>Ω</tspan><tspan font-family='"Liberation Serif", serif' dx="0.0">=5 deg</tspan></text>
<path d="M940.6 737.3H1015.6" stroke="#0000ff" stroke-width="3.7" stroke-dasharray="11.5 4.4"/>
<text x="1027.7" y="743.1" font-size="36.00"><tspan font-family='"Liberation Serif", serif'>Ω</tspan><tspan font-family='"Liberation Serif", serif' dx="0.0">=50 deg</tspan></text>
<path d="M931.6 919.8H1004.6" stroke="#ff8000" stroke-width="3.7" stroke-dasharray="5.5 4.5 11 4.9"/>
<text x="1021.0" y="925.6" font-size="36.00"><tspan font-family='"Liberation Serif", serif'>Ω</tspan><tspan font-family='"Liberation Serif", serif' dx="0.0">=95 deg</tspan></text>
<path d="M931.6 969.0H1006.6" stroke="#00a800" stroke-width="3.7" stroke-dasharray="5.5 4.4"/>
<text x="1021.0" y="974.8" font-size="36.00"><tspan font-family='"Liberation Serif", serif'>Ω</tspan><tspan font-family='"Liberation Serif", serif' dx="0.0">=140 deg</tspan></text>
<text x="911.0" y="613.9" font-family='"Liberation Serif", serif' font-size="37.22">Be star−pulsar</text>
<text x="1155.9" y="613.9" font-family='"Liberation Sans", sans-serif' font-style="italic" font-size="37.62">GS</text>
<text x="1212.5" y="613.9" font-family='"Liberation Sans", sans-serif' font-style="italic" font-size="36.63">ε</text>
<text x="1228.3" y="595.5" font-family='"Liberation Sans", sans-serif' font-size="26.23">2</text>
<text x="1242.7" y="613.9" font-family='"Liberation Sans", sans-serif' font-style="italic" font-size="38.12">c</text>
<text x="1263.9" y="595.5" font-family='"Liberation Sans", sans-serif' font-size="27.23">−2</text>
<text x="1318.9" y="613.9" font-family='"Liberation Serif", serif' font-size="37.03">timing shift</text>
<text x="1163.4" y="1090.4" font-family='"Liberation Sans", sans-serif' font-style="italic" font-size="39.6">t</text><text x="1189.2" y="1090.4" font-family='"Liberation Serif", serif' font-size="36.2">(yr)</text>
<text transform="translate(807.9 820.9) rotate(-90)" text-anchor="middle" font-family='"Liberation Serif", serif' font-size="38.98">Δ(<tspan font-style="italic">δτ</tspan>) (<tspan font-style="italic">μ</tspan>s)</text>
<path d="M247.8 1239.5V1588.3M356.1 1239.5V1588.3M464.3 1239.5V1588.3M572.6 1239.5V1588.3M128.0 1239.1H692.2M128.0 1309.3H692.2M128.0 1379.5H692.2M128.0 1519.9H692.2" stroke="#b4b4b4" stroke-width="1.3" fill="none"/>
<path d="M128.0 1449.7H692.2" stroke="#000" stroke-width="1.4" fill="none"/>
<path d="M139.5 1449.7l.7-.2 .8-.2 .7-.2 .8 0 .7 .2 .7 .2 .8 .3 .7 0 .8-.3 .7-.7 .7-.8 .8-.6 .7-.2 .8 .3 .7 .8 .8 1 .7 .6 .7 .1 .8-.8 .7-1.3 .8-1.4 .7-1 .7-.2 .8 .7 .7 1.4 .8 1.6 .7 1.1 .7 0 .8-1.1 .7-1.9 .8-2.1 .7-1.4 .7-.3 .8 1.2 .7 2 .8 2.2 .7 1.5 .7 0 .8-1.4 .7-2.6 .8-2.7 .7-1.9 .7-.2 .8 1.5 .7 2.7 .8 2.8 .7 1.9 .8 .1 .7-1.9 .7-3.1 .8-3.4 .7-2.3 .8-.2 .7 1.8 .7 3.3 .8 3.6 .7 2.2 .8 .2 .7-2.3 .7-3.8 .8-4 .7-2.7 .8-.3 .7 2.2 .7 4 .8 4.1 .7 2.8 .8 .1 .7-2.6 .7-4.4 .8-4.7 .7-3.1 .8-.3 .7 2.6 .7 4.5 .8 4.8 .7 3.2 .8 .2 .7-3 .8-5 .7-5.4 .7-3.5 .8-.4 .7 3 .8 5.2 .7 5.4 .7 3.6 .8 .2 .7-3.3 .8-5.7 .7-5.9 .7-4 .8-.4 .7 3.3 .8 5.8 .7 6.1 .7 4 .8 .3 .7-3.7 .8-6.3 .7-6.6 .7-4.4 .8-.5 .7 3.7 .8 6.4 .7 6.8 .7 4.4 .8 .4 .7-4 .8-7 .7-7.2 .8-4.9 .7-.5 .7 4 .8 7 .7 7.4 .8 4.9 .7 .4 .7-4.3 .8-7.5 .7-8 .8-5.3 .7-.6 .7 4.3 .8 7.7 .7 8.1 .8 5.3 .7 .5 .7-4.7 .8-8.1 .7-8.6 .8-5.7 .7-.7 .7 4.6 .8 8.3 .7 8.7 .8 5.8 .7 .6 .7-5 .8-8.8 .7-9.2 .8-6.2 .7-.8 .8 5 .7 8.9 .7 9.4 .8 6.2 .7 .6 .8-5.3 .7-9.3 .7-9.9 .8-6.7 .7-.9 .8 5.4 .7 9.4 .7 10.1 .8 6.7 .7 .7 .8-5.6 .7-10 .7-10.5 .8-7.2 .7-.9 .8 5.6 .7 10.1 .7 10.7 .8 7.2 .7 .8 .8-6 .7-10.5 .7-11.2 .8-7.6 .7-1.1 .8 6 .7 10.6 .8 11.4 .7 7.7 .7 .9 .8-6.3 .7-11.2 .8-11.8 .7-8.1 .7-1.2 .8 6.3 .7 11.3 .8 12 .7 8.1 .7 1.1 .8-6.6 .7-11.8 .8-12.5 .7-8.6 .7-1.2 .8 6.5 .7 11.9 .8 12.7 .7 8.6 .7 1.1 .8-6.8 .7-12.4 .8-13.2 .7-9 .7-1.4 .8 6.9 .7 12.4 .8 13.4 .7 9.1 .8 1.2 .7-7.1 .7-13 .8-13.9 .7-9.5 .8-1.5 .7 7.2 .7 13 .8 14.1 .7 9.5 .8 1.4 .7-7.4 .7-13.6 .8-14.5 .7-10 .8-1.6 .7 7.4 .7 13.6 .8 14.7 .7 10.1 .8 1.5 .7-7.7 .7-14.2 .8-15.2 .7-10.5 .8-1.7 .7 7.7 .7 14.2 .8 15.4 .7 10.6 .8 1.6 .7-8 .8-14.8 .7-15.8 .7-11 .8-1.9 .7 8 .8 14.8 .7 16.1 .7 11 .8 1.8 .7-8.3 .8-15.3 .7-16.6 .7-11.4 .8-2.1 .7 8.3 .8 15.4 .7 16.7 .7 11.6 .8 1.9 .7-8.6 .8-15.9 .7-17.2 .7-12 .8-2.2 .7 8.6 .8 16 .7 17.3 .7 12.1 .8 2.1 .7-8.9 .8-16.4 .7-17.9 .8-12.5 .7-2.3 .7 8.7 .8 16.6 .7 18.1 .8 12.5 .7 2.3 .7-9.1 .8-17.1 .7-18.5 .8-13 .7-2.5 .7 9 .8 17.2 .7 18.7 .8 13.1 .7 2.4 .7-9.4 .8-17.6 .7-19.2 .8-13.6 .7-2.6 .7 9.3 .8 17.7 .7 19.4 .8 13.6 .7 2.6 .7-9.6 .8-18.2 .7-19.9 .8-14.1 .7-2.8 .8 9.5 .7 18.3 .7 20.1 .8 14.1 .7 2.8 .8-9.9 .7-18.7 .7-20.6 .8-14.6 .7-3 .8 9.8 .7 18.9 .7 20.7 .8 14.7 .7 2.9 .8-10.1 .7-19.3 .7-21.3 .8-15.1 .7-3.2 .8 10 .7 19.5 .7 21.4 .8 15.2 .7 3.1 .8-10.3 .7-19.9 .7-21.9 .8-15.7 .7-3.3 .8 10.2 .7 20 .8 22.1 .7 15.7 .7 3.3 .8-10.6 .7-20.4 .8-22.6 .7-16.2 .7-3.5 .8 10.4 .7 20.6 .8 22.7 .7 16.3 .7 3.5 .8-10.8 .7-21 .8-23.3 .7-16.7 .7-3.7 .8 10.7 .7 21 .8 23.5 .7 16.8 .7 3.7 .8-11 .7-21.5 .8-24 .7-17.3 .7-3.9 .8 10.9 .7 21.6 .8 24.1 .7 17.4 .8 3.9 .7-11.2 .7-22.1 .8-24.6 .7-17.8 .8-4.2 .7 11.1 .7 22.2 .8 24.8 .7 17.9 .8 4.1 .7-11.4 .7-22.6 .8-25.4 .7-18.3 .8-4.4 .7 11.3 .7 22.7 .8 25.5 .7 18.5 .8 4.3 .7-11.6 .7-23.2 .8-26 .7-18.9 .8-4.6 .7 11.5 .7 23.3 .8 26.1 .7 19.1 .8 4.5 .7-11.8 .8-23.7 .7-26.7 .7-19.5 .8-4.8 .7 11.7 .8 23.8 .7 26.9 .7 19.5 .8 4.8 .7-12 .8-24.2 .7-27.4 .7-20 .8-5.1 .7 11.9 .8 24.3 .7 27.6 .7 20.1 .8 5 .7-12.1 .8-24.8 .7-28.1 .7-20.6 .8-5.3 .7 12.1 .8 24.9 .7 28.2 .7 20.7 .8 5.2 .7-12.3 .8-25.3 .7-28.7 .8-21.2 .7-5.6 .7 12.3 .8 25.4 .7 28.9 .8 21.2 .7 5.5 .7-12.5 .8-25.8 .7-29.4 .8-21.8 .7-5.8 .7 12.4 .8 26 .7 29.5 .8 21.9 .7 5.7 .7-12.6 .8-26.4 .7-30.1 .8-22.3 .7-6.1 .7 12.6 .8 26.5 .7 30.2 .8 22.5 .7 6 .7-12.9 .8-26.9 .7-30.7 .8-22.9 .7-6.4 .8 12.8 .7 27 .7 30.9 .8 23 .7 6.3 .8-13 .7-27.4 .7-31.5 .8-23.5 .7-6.6 .8 12.9 .7 27.5 .7 31.6 .8 23.6 .7 6.6 .8-13.2 .7-27.9 .7-32.1 .8-24.1 .7-6.9 .8 13.1 .7 28 .7 32.3 .8 24.2 .7 6.8 .8-13.3 .7-28.4 .7-32.8 .8-24.7 .7-7.1 .8 13.1 .7 28.6 .8 32.9 .7 24.8 .7 7.1 .8-13.4 .7-29 .8-33.5 .7-25.2 .7-7.4 .8 13.3 .7 29 .8 33.6 .7 25.4 .7 7.4 .8-13.6 .7-29.4 .8-34.2 .7-25.8 .7-7.7 .8 13.4 .7 29.5 .8 34.4 .7 26 .7 7.6 .8-13.7 .7-29.9 .8-34.9 .7-26.4 .7-8 .8 13.5 .7 30.1 .8 35 .7 26.6 .8 7.9 .7-13.8 .7-30.4 .8-35.6 .7-27 .8-8.3 .7 13.7 .7 30.5 .8 35.7 .7 27.2 .8 8.2 .7-13.9 .7-31 .8-36.2 .7-27.6 .8-8.6 .7 13.8 .7 31 .8 36.4 .7 27.8 .8 8.5 .7-14 .7-31.4 .8-36.9 .7-28.3 .8-8.9 .7 13.9 .7 31.5 .8 37 .7 28.5 .8 8.8 .7-14.1 .8-31.9 .7-37.6 .7-28.9 .8-9.2 .7 14 .8 32 .7 37.7 .7 29.1 .8 9.2 .7-14.3 .8-32.4 .7-38.2 .7-29.6 .8-9.5 .7 14.1 .8 32.5 .7 38.4 .7 29.6 .8 9.6 .7-14.4 .8-32.9 .7-38.9 .7-30.1 .8-9.9 .7 14.2 .8 33 .7 39 .7 30.3 .8 9.9 .7-14.5 .8-33.3 .7-39.6 .8-30.8 .7-10.2 .7 14.3 .8 33.4 .7 39.8 .8 30.9 .7 10.2 .7-14.6 .8-33.8 .7-40.3 .8-31.4 .7-10.5 .7 14.4 .8 33.9 .7 40.4 .8 31.6 .7 10.5 .7-14.6 .8-34.3 .7-41 .8-32 .7-10.9 .7 14.5 .8 34.3 .7 41.2 .8 32.1 .7 10.9 .7-14.7 .8-34.8 .7-41.6 .8-32.7 .7-11.2 .8 14.6 .7 34.8 .7 41.8 .8 32.8 .7 11.2 .8-14.8 .7-35.2 .7-42.3 .8-33.3 .7-11.6 .8 14.7 .7 35.2 .7 42.5 .8 33.4 .7 11.6 .8-14.8 .7-35.7 .7-43 .8-33.9 .7-12 .8 14.7 .7 35.7 .7 43.2 .8 34.1 .7 11.9 .8-14.9 .7-36.1 .7-43.7 .8-34.5 .7-12.3 .8 14.7 .7 36.2 .8 43.8 .7 34.7 .7 12.3 .8-14.9 .7-36.6 .8-44.3 .7-35.3 .7-12.6 .8 14.7 .7 36.7 .8 44.5 .7 35.3 .7 12.7 .8-15 .7-37 .8-45 .7-35.9 .7-13 .8 14.8 .7 37.1 .8 45.1 .7 36.1 .7 13 .8-15 .7-37.5 .8-45.7 .7-36.5 .7-13.4 .8 14.9 .7 37.5 .8 45.8 .7 36.7 .8 13.4 .7-15 .7-37.9 .8-46.4 .7-37.2 .8-13.8 .7 14.9 .7 37.9 .8 46.6 .7 37.3 .8 13.8 .7-15.1 .7-38.3 .8-47 .7-37.9 .8-14.2 .7 14.9 .7 38.4 .8 47.2 .7 38 .8 14.2 .7-15.1 .7-38.8 .8-47.7 .7-38.5 .8-14.5 .7 14.9 .7 38.8 .8 47.8 .7 38.7 .8 14.6 .7-15.1 .8-39.2 .7-48.4 .7-39.1 .8-15 .7 14.9 .8 39.2 .7 48.6 .7 39.3 .8 15 .7-15.1 .8-39.6 .7-49.1" stroke="#ff0000" stroke-width="3.7" fill="none" stroke-linejoin="round"/>
<path d="M139.5 1449.7l.7-.2 .8-.3 .7-.3 .8 0 .7 .1 .7 .4 .8 .3 .7 0 .8-.5 .7-.8 .7-1 .8-.8 .7-.3 .8 .4 .7 1 .8 1.2 .7 .8 .7 0 .8-.9 .7-1.7 .8-1.8 .7-1.3 .7-.3 .8 .9 .7 1.8 .8 2 .7 1.3 .7 0 .8-1.4 .7-2.5 .8-2.6 .7-1.8 .7-.3 .8 1.4 .7 2.6 .8 2.7 .7 1.8 .7 .1 .8-1.9 .7-3.2 .8-3.5 .7-2.3 .7-.3 .8 1.8 .7 3.4 .8 3.6 .7 2.3 .8 .1 .7-2.4 .7-4 .8-4.2 .7-2.9 .8-.3 .7 2.3 .7 4.1 .8 4.4 .7 2.9 .8 .1 .7-2.8 .7-4.8 .8-5.1 .7-3.4 .8-.4 .7 2.8 .7 5 .8 5.2 .7 3.4 .8 .1 .7-3.3 .7-5.6 .8-5.8 .7-3.9 .8-.5 .7 3.2 .7 5.8 .8 6 .7 3.9 .8 .2 .7-3.7 .8-6.4 .7-6.7 .7-4.4 .8-.5 .7 3.7 .8 6.5 .7 6.8 .7 4.5 .8 .3 .7-4.2 .8-7.2 .7-7.5 .7-5 .8-.6 .7 4.2 .8 7.3 .7 7.6 .7 5 .8 .4 .7-4.6 .8-8 .7-8.3 .7-5.5 .8-.7 .7 4.6 .8 8 .7 8.5 .7 5.6 .8 .4 .7-5 .8-8.8 .7-9.1 .8-6.1 .7-.7 .7 5 .8 8.8 .7 9.3 .8 6.1 .7 .5 .7-5.4 .8-9.5 .7-10 .8-6.7 .7-.8 .7 5.5 .8 9.6 .7 10.1 .8 6.7 .7 .6 .7-5.9 .8-10.3 .7-10.8 .8-7.2 .7-.9 .7 5.8 .8 10.4 .7 10.9 .8 7.3 .7 .7 .7-6.3 .8-11 .7-11.7 .8-7.8 .7-1 .8 6.3 .7 11.1 .7 11.8 .8 7.8 .7 .8 .8-6.7 .7-11.8 .7-12.4 .8-8.4 .7-1.1 .8 6.6 .7 11.9 .7 12.6 .8 8.5 .7 .9 .8-7.2 .7-12.5 .7-13.3 .8-8.9 .7-1.3 .8 7.1 .7 12.7 .7 13.4 .8 9 .7 1 .8-7.5 .7-13.3 .7-14.1 .8-9.6 .7-1.3 .8 7.4 .7 13.5 .8 14.2 .7 9.6 .7 1.1 .8-7.9 .7-14 .8-15 .7-10.1 .7-1.5 .8 7.9 .7 14.1 .8 15.1 .7 10.2 .7 1.3 .8-8.3 .7-14.8 .8-15.8 .7-10.7 .7-1.6 .8 8.2 .7 14.9 .8 15.9 .7 10.8 .7 1.4 .8-8.6 .7-15.6 .8-16.6 .7-11.3 .7-1.8 .8 8.6 .7 15.7 .8 16.7 .7 11.4 .8 1.6 .7-9 .7-16.3 .8-17.5 .7-12 .8-1.8 .7 8.9 .7 16.4 .8 17.6 .7 12 .8 1.7 .7-9.4 .7-17 .8-18.3 .7-12.6 .8-2 .7 9.3 .7 17.2 .8 18.4 .7 12.6 .8 1.9 .7-9.8 .7-17.7 .8-19.2 .7-13.2 .8-2.2 .7 9.7 .7 17.9 .8 19.3 .7 13.2 .8 2 .7-10.1 .8-18.5 .7-19.9 .7-13.9 .8-2.3 .7 10 .8 18.6 .7 20.1 .7 13.9 .8 2.2 .7-10.4 .8-19.3 .7-20.8 .7-14.5 .8-2.5 .7 10.3 .8 19.4 .7 21 .7 14.5 .8 2.4 .7-10.8 .8-20 .7-21.7 .7-15 .8-2.8 .7 10.7 .8 20.1 .7 21.8 .7 15.1 .8 2.6 .7-11.1 .8-20.7 .7-22.5 .8-15.7 .7-3 .7 11.1 .8 20.8 .7 22.6 .8 15.8 .7 2.8 .7-11.5 .8-21.4 .7-23.3 .8-16.4 .7-3.1 .7 11.3 .8 21.5 .7 23.5 .8 16.5 .7 2.9 .7-11.7 .8-22.2 .7-24.1 .8-17.1 .7-3.3 .7 11.6 .8 22.3 .7 24.3 .8 17.1 .7 3.2 .7-12.1 .8-22.8 .7-25.1 .8-17.6 .7-3.6 .8 12 .7 22.9 .7 25.2 .8 17.8 .7 3.4 .8-12.4 .7-23.6 .7-25.9 .8-18.3 .7-3.8 .8 12.3 .7 23.7 .7 26 .8 18.4 .7 3.7 .8-12.7 .7-24.3 .7-26.7 .8-19 .7-4.1 .8 12.6 .7 24.4 .7 26.9 .8 19.1 .7 3.8 .8-12.9 .7-25 .7-27.6 .8-19.7 .7-4.2 .8 12.8 .7 25.1 .8 27.7 .7 19.8 .7 4.1 .8-13.3 .7-25.7 .8-28.4 .7-20.3 .7-4.5 .8 13.1 .7 25.8 .8 28.6 .7 20.4 .7 4.4 .8-13.6 .7-26.4 .8-29.2 .7-21.1 .7-4.7 .8 13.4 .7 26.5 .8 29.4 .7 21.1 .7 4.6 .8-13.8 .7-27.1 .8-30.1 .7-21.7 .7-5 .8 13.7 .7 27.2 .8 30.2 .7 21.8 .8 4.9 .7-14.1 .7-27.7 .8-31 .7-22.4 .8-5.3 .7 14 .7 27.8 .8 31.2 .7 22.5 .8 5.1 .7-14.3 .7-28.5 .8-31.8 .7-23.1 .8-5.6 .7 14.2 .7 28.6 .8 32 .7 23.2 .8 5.4 .7-14.6 .7-29.2 .8-32.7 .7-23.7 .8-5.9 .7 14.5 .7 29.2 .8 32.9 .7 23.8 .8 5.7 .7-14.8 .8-29.8 .7-33.6 .7-24.5 .8-6 .7 14.6 .8 29.9 .7 33.7 .7 24.6 .8 6 .7-15 .8-30.5 .7-34.4 .7-25.2 .8-6.4 .7 14.9 .8 30.6 .7 34.5 .7 25.3 .8 6.3 .7-15.3 .8-31.2 .7-35.2 .7-25.9 .8-6.7 .7 15.1 .8 31.3 .7 35.4 .7 26 .8 6.6 .7-15.5 .8-31.9 .7-36.1 .8-26.6 .7-7 .7 15.4 .8 31.9 .7 36.2 .8 26.8 .7 6.9 .7-15.8 .8-32.5 .7-36.9 .8-27.4 .7-7.3 .7 15.6 .8 32.5 .7 37.2 .8 27.4 .7 7.2 .7-15.9 .8-33.2 .7-37.8 .8-28.1 .7-7.6 .7 15.8 .8 33.2 .7 38 .8 28.2 .7 7.5 .7-16.1 .8-33.9 .7-38.6 .8-28.8 .7-8 .8 16 .7 33.9 .7 38.8 .8 28.9 .7 7.9 .8-16.4 .7-34.4 .7-39.6 .8-29.5 .7-8.3 .8 16.2 .7 34.5 .7 39.7 .8 29.7 .7 8.2 .8-16.6 .7-35.1 .7-40.4 .8-30.2 .7-8.7 .8 16.4 .7 35.2 .7 40.5 .8 30.4 .7 8.5 .8-16.7 .7-35.7 .7-41.3 .8-31 .7-9 .8 16.6 .7 35.8 .8 41.4 .7 31.1 .7 8.9 .8-16.9 .7-36.4 .8-42.1 .7-31.7 .7-9.4 .8 16.8 .7 36.4 .8 42.3 .7 31.9 .7 9.2 .8-17.1 .7-37 .8-42.9 .7-32.6 .7-9.6 .8 16.8 .7 37.1 .8 43.1 .7 32.7 .7 9.6 .8-17.2 .7-37.7 .8-43.8 .7-33.3 .7-10 .8 17 .7 37.7 .8 44 .7 33.4 .8 10 .7-17.4 .7-38.3 .8-44.7 .7-34 .8-10.4 .7 17.2 .7 38.3 .8 44.8 .7 34.2 .8 10.3 .7-17.5 .7-38.9 .8-45.5 .7-34.8 .8-10.8 .7 17.3 .7 39 .8 45.6 .7 35 .8 10.7 .7-17.7 .7-39.5 .8-46.3 .7-35.6 .8-11.2 .7 17.5 .7 39.5 .8 46.6 .7 35.7 .8 11.1 .7-17.8 .8-40.1 .7-47.3 .7-36.3 .8-11.6 .7 17.6 .8 40.2 .7 47.4 .7 36.4 .8 11.6 .7-18 .8-40.7 .7-48.1 .7-37.1 .8-12 .7 17.8 .8 40.7 .7 48.3 .7 37.2 .8 12 .7-18.1 .8-41.3 .7-49 .7-37.9 .8-12.4 .7 17.9 .8 41.4 .7 49 .7 38.1 .8 12.3 .7-18.1 .8-42 .7-49.8 .8-38.6 .7-12.9 .7 18 .8 42 .7 49.9 .8 38.8 .7 12.8 .7-18.3 .8-42.5 .7-50.6 .8-39.5 .7-13.3 .7 18.1 .8 42.6 .7 50.8 .8 39.6 .7 13.2 .7-18.4 .8-43.1 .7-51.5 .8-40.3 .7-13.6 .7 18.1 .8 43.2 .7 51.6 .8 40.4 .7 13.7 .7-18.5 .8-43.7 .7-52.4 .8-41 .7-14.1 .8 18.2 .7 43.8 .7 52.5 .8 41.2 .7 14 .8-18.5 .7-44.3 .7-53.2 .8-41.9 .7-14.5 .8 18.3 .7 44.3 .7 53.4 .8 42 .7 14.5 .8-18.6 .7-44.9 .7-54 .8-42.7 .7-15 .8 18.4 .7 44.9 .7 54.2 .8 42.8 .7 15 .8-18.7 .7-45.5 .7-54.8 .8-43.5 .7-15.5 .8 18.5 .7 45.4 .8 55.1 .7 43.6 .7 15.4 .8-18.7 .7-46 .8-55.7 .7-44.3 .7-16 .8 18.6 .7 46 .8 55.9 .7 44.4 .7 15.9 .8-18.8 .7-46.6 .8-56.5 .7-45.1 .7-16.4 .8 18.6 .7 46.5 .8 56.8 .7 45.2 .7 16.4 .8-18.9 .7-47.1 .8-57.4 .7-45.9 .7-16.9 .8 18.6 .7 47.1 .8 57.6 .7 46.1 .8 16.8 .7-18.9 .7-47.6 .8-58.3 .7-46.7 .8-17.4 .7 18.7 .7 47.6 .8 58.5 .7 46.9 .8 17.3 .7-19 .7-48.1 .8-59.2 .7-47.5 .8-17.9 .7 18.7 .7 48.2 .8 59.3 .7 47.7 .8 17.9 .7-19 .7-48.7 .8-60 .7-48.4 .8-18.3 .7 18.7 .7 48.7 .8 60.2 .7 48.5 .8 18.3 .7-19 .8-49.2 .7-60.9 .7-49.2 .8-18.8 .7 18.7 .8 49.3 .7 61 .7 49.4 .8 18.8 .7-19 .8-49.8 .7-61.7" stroke="#0000ff" stroke-width="3.7" fill="none" stroke-linejoin="round" stroke-dasharray="11.5 4.4"/>
<path d="M139.5 1449.7l.7-.1 .8-.2 .7-.1 .8 .1 .7 .2 .7 .5 .8 .4 .7 .1 .8-.3 .7-.7 .7-.8 .8-.7 .7-.1 .8 .5 .7 1 .8 1.2 .7 .8 .7 .2 .8-.8 .7-1.4 .8-1.6 .7-1.1 .7-.1 .8 .9 .7 1.8 .8 1.9 .7 1.3 .7 .2 .8-1.2 .7-2.2 .8-2.3 .7-1.6 .7-.2 .8 1.4 .7 2.5 .8 2.7 .7 1.8 .7 .2 .8-1.7 .7-2.9 .8-3.1 .7-2 .7-.2 .8 1.8 .7 3.3 .8 3.4 .7 2.3 .8 .2 .7-2.1 .7-3.6 .8-3.9 .7-2.5 .8-.2 .7 2.2 .7 4 .8 4.2 .7 2.8 .8 .2 .7-2.5 .7-4.4 .8-4.6 .7-3 .8-.3 .7 2.7 .7 4.7 .8 5 .7 3.2 .8 .3 .7-2.9 .7-5.1 .8-5.4 .7-3.5 .8-.3 .7 3.1 .7 5.4 .8 5.7 .7 3.8 .8 .3 .7-3.4 .8-5.8 .7-6.1 .7-4 .8-.4 .7 3.6 .8 6.1 .7 6.5 .7 4.3 .8 .3 .7-3.8 .8-6.5 .7-6.9 .7-4.5 .8-.4 .7 3.9 .8 6.9 .7 7.2 .7 4.8 .8 .4 .7-4.1 .8-7.3 .7-7.6 .7-5.1 .8-.5 .7 4.4 .8 7.6 .7 8 .7 5.3 .8 .5 .7-4.6 .8-8 .7-8.4 .8-5.6 .7-.5 .7 4.7 .8 8.4 .7 8.7 .8 5.8 .7 .6 .7-5 .8-8.7 .7-9.2 .8-6 .7-.7 .7 5.2 .8 9 .7 9.5 .8 6.4 .7 .6 .7-5.4 .8-9.4 .7-9.9 .8-6.6 .7-.7 .7 5.5 .8 9.8 .7 10.2 .8 6.9 .7 .7 .7-5.7 .8-10.1 .7-10.7 .8-7.2 .7-.8 .8 5.9 .7 10.5 .7 11 .8 7.4 .7 .9 .8-6.2 .7-10.8 .7-11.5 .8-7.6 .7-1 .8 6.3 .7 11.2 .7 11.8 .8 8 .7 .9 .8-6.5 .7-11.6 .7-12.2 .8-8.2 .7-1 .8 6.6 .7 11.9 .7 12.6 .8 8.5 .7 1 .8-6.8 .7-12.3 .7-13 .8-8.8 .7-1.1 .8 7 .7 12.6 .8 13.4 .7 9 .7 1.2 .8-7.3 .7-12.9 .8-13.8 .7-9.3 .7-1.3 .8 7.4 .7 13.3 .8 14.1 .7 9.6 .7 1.3 .8-7.6 .7-13.6 .8-14.6 .7-9.9 .7-1.3 .8 7.7 .7 14 .8 14.9 .7 10.1 .7 1.5 .8-8 .7-14.3 .8-15.4 .7-10.4 .7-1.5 .8 8.1 .7 14.7 .8 15.6 .7 10.8 .8 1.5 .7-8.3 .7-15 .8-16.1 .7-11 .8-1.7 .7 8.4 .7 15.4 .8 16.5 .7 11.3 .8 1.7 .7-8.7 .7-15.7 .8-16.9 .7-11.6 .8-1.8 .7 8.8 .7 16.1 .8 17.2 .7 11.9 .8 1.8 .7-9 .7-16.4 .8-17.6 .7-12.2 .8-1.9 .7 9 .7 16.8 .8 18 .7 12.4 .8 2.1 .7-9.3 .8-17.1 .7-18.5 .7-12.7 .8-2.1 .7 9.4 .8 17.4 .7 18.8 .7 13 .8 2.2 .7-9.6 .8-17.8 .7-19.2 .7-13.3 .8-2.3 .7 9.7 .8 18.1 .7 19.6 .7 13.6 .8 2.4 .7-10 .8-18.4 .7-20 .7-14 .8-2.4 .7 10 .8 18.8 .7 20.4 .7 14.2 .8 2.5 .7-10.2 .8-19.1 .7-20.8 .8-14.6 .7-2.6 .7 10.4 .8 19.4 .7 21.2 .8 14.8 .7 2.7 .7-10.6 .8-19.8 .7-21.6 .8-15.1 .7-2.8 .7 10.7 .8 20.1 .7 22 .8 15.3 .7 2.9 .7-10.8 .8-20.5 .7-22.3 .8-15.8 .7-3 .7 11 .8 20.8 .7 22.7 .8 16 .7 3.1 .7-11.1 .8-21.2 .7-23.1 .8-16.4 .7-3.2 .8 11.3 .7 21.4 .7 23.6 .8 16.6 .7 3.3 .8-11.4 .7-21.9 .7-23.9 .8-16.9 .7-3.4 .8 11.5 .7 22.1 .7 24.3 .8 17.2 .7 3.5 .8-11.7 .7-22.4 .7-24.8 .8-17.5 .7-3.6 .8 11.7 .7 22.8 .7 25.1 .8 17.9 .7 3.7 .8-12 .7-23.1 .7-25.5 .8-18.2 .7-3.8 .8 12 .7 23.4 .8 25.9 .7 18.5 .7 3.9 .8-12.2 .7-23.7 .8-26.4 .7-18.8 .7-4 .8 12.3 .7 24.1 .8 26.7 .7 19.1 .7 4.1 .8-12.5 .7-24.4 .8-27.1 .7-19.4 .7-4.3 .8 12.5 .7 24.8 .8 27.4 .7 19.8 .7 4.4 .8-12.7 .7-25.1 .8-27.9 .7-20.1 .7-4.5 .8 12.8 .7 25.4 .8 28.2 .7 20.4 .8 4.6 .7-12.9 .7-25.7 .8-28.7 .7-20.7 .8-4.8 .7 13 .7 26.1 .8 29 .7 21 .8 4.9 .7-13.2 .7-26.3 .8-29.5 .7-21.4 .8-5 .7 13.3 .7 26.6 .8 29.9 .7 21.6 .8 5.2 .7-13.5 .7-26.9 .8-30.3 .7-22 .8-5.3 .7 13.5 .7 27.3 .8 30.6 .7 22.4 .8 5.3 .7-13.6 .8-27.6 .7-31.1 .7-22.7 .8-5.5 .7 13.7 .8 27.9 .7 31.5 .7 23 .8 5.6 .7-13.9 .8-28.2 .7-31.9 .7-23.3 .8-5.8 .7 14 .8 28.5 .7 32.2 .7 23.7 .8 5.9 .7-14.1 .8-28.9 .7-32.6 .7-24 .8-6.1 .7 14.2 .8 29.1 .7 33 .7 24.3 .8 6.3 .7-14.4 .8-29.4 .7-33.5 .8-24.6 .7-6.4 .7 14.4 .8 29.7 .7 33.9 .8 24.9 .7 6.5 .7-14.5 .8-30.1 .7-34.2 .8-25.4 .7-6.6 .7 14.6 .8 30.3 .7 34.7 .8 25.6 .7 6.8 .7-14.7 .8-30.7 .7-35.1 .8-26 .7-6.9 .7 14.8 .8 30.9 .7 35.5 .8 26.3 .7 7.1 .7-14.9 .8-31.3 .7-35.9 .8-26.7 .7-7.2 .8 14.9 .7 31.6 .7 36.3 .8 26.9 .7 7.5 .8-15.1 .7-32 .7-36.6 .8-27.4 .7-7.5 .8 15.1 .7 32.2 .7 37 .8 27.7 .7 7.7 .8-15.2 .7-32.6 .7-37.4 .8-28 .7-7.9 .8 15.3 .7 32.8 .7 37.8 .8 28.4 .7 8 .8-15.4 .7-33.2 .7-38.2 .8-28.7 .7-8.2 .8 15.5 .7 33.3 .8 38.6 .7 29.1 .7 8.4 .8-15.6 .7-33.7 .8-39.1 .7-29.4 .7-8.6 .8 15.7 .7 34 .8 39.4 .7 29.7 .7 8.7 .8-15.7 .7-34.3 .8-39.8 .7-30.2 .7-8.9 .8 15.9 .7 34.5 .8 40.2 .7 30.5 .7 9 .8-15.9 .7-34.9 .8-40.6 .7-30.8 .7-9.3 .8 16 .7 35.2 .8 40.9 .7 31.2 .8 9.4 .7-16.1 .7-35.4 .8-41.4 .7-31.6 .8-9.6 .7 16.1 .7 35.8 .8 41.8 .7 31.8 .8 9.8 .7-16.2 .7-36.1 .8-42.2 .7-32.2 .8-10 .7 16.3 .7 36.3 .8 42.6 .7 32.5 .8 10.1 .7-16.3 .7-36.6 .8-43 .7-33 .8-10.3 .7 16.4 .7 36.9 .8 43.3 .7 33.3 .8 10.5 .7-16.4 .8-37.2 .7-43.8 .7-33.7 .8-10.7 .7 16.5 .8 37.5 .7 44.1 .7 34 .8 10.9 .7-16.6 .8-37.7 .7-44.6 .7-34.4 .8-11.1 .7 16.6 .8 38 .7 45 .7 34.7 .8 11.3 .7-16.7 .8-38.3 .7-45.4 .7-35.1 .8-11.5 .7 16.7 .8 38.6 .7 45.8 .7 35.4 .8 11.6 .7-16.8 .8-38.8 .7-46.2 .8-35.9 .7-11.8 .7 16.8 .8 39.2 .7 46.5 .8 36.2 .7 12 .7-16.9 .8-39.4 .7-47 .8-36.6 .7-12.2 .7 16.9 .8 39.7 .7 47.3 .8 37 .7 12.4 .7-17 .8-40 .7-47.7 .8-37.4 .7-12.6 .7 17 .8 40.2 .7 48.2 .8 37.6 .7 12.8 .7-17 .8-40.6 .7-48.5 .8-38.1 .7-13 .8 17.1 .7 40.8 .7 48.9 .8 38.4 .7 13.2 .8-17.2 .7-41 .7-49.3 .8-38.8 .7-13.5 .8 17.2 .7 41.3 .7 49.7 .8 39.1 .7 13.7 .8-17.3 .7-41.5 .7-50.2 .8-39.5 .7-13.9 .8 17.3 .7 41.8 .7 50.5 .8 39.9 .7 14 .8-17.3 .7-42.1 .7-50.9 .8-40.3 .7-14.3 .8 17.3 .7 42.4 .8 51.3 .7 40.6 .7 14.5 .8-17.4 .7-42.6 .8-51.7 .7-41.1 .7-14.6 .8 17.3 .7 42.9 .8 52 .7 41.5 .7 14.8 .8-17.4 .7-43.1 .8-52.5 .7-41.8 .7-15.1 .8 17.4 .7 43.3 .8 52.9 .7 42.2 .7 15.3 .8-17.4 .7-43.7 .8-53.3 .7-42.6 .7-15.5 .8 17.4 .7 43.9 .8 53.7 .7 42.9 .8 15.8 .7-17.5 .7-44.2 .8-54.1 .7-43.3 .8-16 .7 17.5 .7 44.4 .8 54.4 .7 43.7 .8 16.2 .7-17.5 .7-44.7 .8-54.8 .7-44.1 .8-16.5 .7 17.5 .7 44.9 .8 55.2 .7 44.5 .8 16.7 .7-17.6 .7-45.1 .8-55.7 .7-44.9 .8-16.9 .7 17.5 .7 45.4 .8 56.1 .7 45.2 .8 17.1 .7-17.5 .8-45.7 .7-56.4 .7-45.7 .8-17.4 .7 17.6 .8 45.9 .7 56.8 .7 46 .8 17.6 .7-17.6 .8-46.2 .7-57.2" stroke="#ff8000" stroke-width="3.7" fill="none" stroke-linejoin="round" stroke-dasharray="5.5 4.5 11 4.9"/>
<path d="M139.5 1449.7l.7 0 .8-.1 .7 0 .8 .1 .7 .3 .7 .4 .8 .4 .7 .2 .8-.2 .7-.4 .7-.6 .8-.5 .7 0 .8 .5 .7 .9 .8 1 .7 .7 .7 .2 .8-.5 .7-1.1 .8-1.1 .7-.8 .7-.1 .8 .8 .7 1.5 .8 1.6 .7 1.1 .7 .2 .8-.9 .7-1.6 .8-1.8 .7-1.1 .7-.1 .8 1.2 .7 2 .8 2.2 .7 1.5 .7 .2 .8-1.2 .7-2.2 .8-2.4 .7-1.5 .7-.1 .8 1.5 .7 2.7 .8 2.7 .7 1.9 .8 .2 .7-1.5 .7-2.8 .8-3 .7-1.9 .8-.1 .7 1.9 .7 3.2 .8 3.3 .7 2.3 .8 .2 .7-1.9 .7-3.3 .8-3.6 .7-2.3 .8-.1 .7 2.2 .7 3.8 .8 3.9 .7 2.7 .8 .3 .7-2.3 .7-3.9 .8-4.2 .7-2.7 .8-.1 .7 2.5 .7 4.4 .8 4.5 .7 3.1 .8 .3 .7-2.6 .8-4.5 .7-4.7 .7-3.1 .8-.3 .7 2.9 .8 4.9 .7 5.2 .7 3.4 .8 .4 .7-2.9 .8-5.1 .7-5.3 .7-3.5 .8-.3 .7 3.2 .8 5.5 .7 5.8 .7 3.8 .8 .4 .7-3.2 .8-5.6 .7-6 .7-3.9 .8-.3 .7 3.5 .8 6.1 .7 6.3 .7 4.3 .8 .5 .7-3.6 .8-6.2 .7-6.5 .8-4.3 .7-.4 .7 3.8 .8 6.6 .7 7 .8 4.7 .7 .5 .7-3.9 .8-6.7 .7-7.2 .8-4.7 .7-.4 .7 4.1 .8 7.2 .7 7.6 .8 5 .7 .6 .7-4.1 .8-7.4 .7-7.7 .8-5.2 .7-.5 .7 4.5 .8 7.7 .7 8.2 .8 5.5 .7 .6 .7-4.4 .8-7.9 .7-8.4 .8-5.5 .7-.6 .8 4.7 .7 8.4 .7 8.7 .8 5.9 .7 .8 .8-4.8 .7-8.4 .7-9 .8-6 .7-.6 .8 5 .7 8.9 .7 9.4 .8 6.3 .7 .8 .8-5 .7-9.1 .7-9.5 .8-6.4 .7-.8 .8 5.4 .7 9.4 .7 10 .8 6.8 .7 .9 .8-5.4 .7-9.6 .7-10.1 .8-6.9 .7-.8 .8 5.6 .7 10 .8 10.6 .7 7.2 .7 1 .8-5.6 .7-10.2 .8-10.7 .7-7.3 .7-.9 .8 5.9 .7 10.5 .8 11.2 .7 7.7 .7 1 .8-5.9 .7-10.6 .8-11.4 .7-7.7 .7-1.1 .8 6.2 .7 11.1 .8 11.8 .7 8.1 .7 1.2 .8-6.2 .7-11.2 .8-12 .7-8.2 .7-1.1 .8 6.4 .7 11.7 .8 12.4 .7 8.5 .8 1.3 .7-6.4 .7-11.8 .8-12.6 .7-8.6 .8-1.2 .7 6.7 .7 12.2 .8 13 .7 9 .8 1.4 .7-6.7 .7-12.4 .8-13.2 .7-9 .8-1.4 .7 7 .7 12.7 .8 13.7 .7 9.4 .8 1.5 .7-6.9 .7-12.9 .8-13.9 .7-9.5 .8-1.4 .7 7.2 .7 13.3 .8 14.3 .7 9.8 .8 1.7 .7-7.3 .8-13.4 .7-14.4 .7-10 .8-1.6 .7 7.5 .8 13.8 .7 14.9 .7 10.4 .8 1.7 .7-7.5 .8-13.9 .7-15.1 .7-10.4 .8-1.7 .7 7.7 .8 14.4 .7 15.5 .7 10.8 .8 1.9 .7-7.8 .8-14.4 .7-15.7 .7-10.9 .8-1.9 .7 8 .8 14.9 .7 16.1 .7 11.3 .8 2 .7-7.9 .8-15 .7-16.4 .8-11.3 .7-2 .7 8.2 .8 15.4 .7 16.8 .8 11.7 .7 2.2 .7-8.2 .8-15.6 .7-16.9 .8-11.8 .7-2.2 .7 8.5 .8 15.9 .7 17.4 .8 12.2 .7 2.4 .7-8.5 .8-16.1 .7-17.5 .8-12.3 .7-2.3 .7 8.7 .8 16.4 .7 18 .8 12.7 .7 2.5 .7-8.7 .8-16.6 .7-18.1 .8-12.8 .7-2.5 .8 9 .7 16.9 .7 18.6 .8 13.2 .7 2.7 .8-8.9 .7-17.1 .7-18.8 .8-13.3 .7-2.6 .8 9.1 .7 17.5 .7 19.3 .8 13.6 .7 2.8 .8-9.1 .7-17.6 .7-19.4 .8-13.8 .7-2.8 .8 9.4 .7 18 .7 19.9 .8 14.1 .7 3 .8-9.3 .7-18.2 .7-20 .8-14.3 .7-2.9 .8 9.5 .7 18.6 .8 20.5 .7 14.6 .7 3.1 .8-9.5 .7-18.7 .8-20.6 .7-14.8 .7-3.1 .8 9.8 .7 19 .8 21.1 .7 15.2 .7 3.3 .8-9.7 .7-19.2 .8-21.3 .7-15.2 .7-3.3 .8 9.9 .7 19.6 .8 21.7 .7 15.6 .7 3.6 .8-10 .7-19.7 .8-21.9 .7-15.7 .7-3.5 .8 10.2 .7 20 .8 22.4 .7 16.1 .8 3.7 .7-10.1 .7-20.2 .8-22.5 .7-16.3 .8-3.7 .7 10.4 .7 20.6 .8 23 .7 16.6 .8 3.9 .7-10.3 .7-20.7 .8-23.2 .7-16.7 .8-3.9 .7 10.5 .7 21.1 .8 23.6 .7 17.1 .8 4.2 .7-10.5 .7-21.2 .8-23.8 .7-17.3 .8-4.1 .7 10.8 .7 21.5 .8 24.3 .7 17.6 .8 4.3 .7-10.7 .8-21.6 .7-24.4 .7-17.8 .8-4.3 .7 10.9 .8 22 .7 24.9 .7 18.2 .8 4.5 .7-10.9 .8-22.1 .7-25.1 .7-18.3 .8-4.5 .7 11.1 .8 22.5 .7 25.5 .7 18.7 .8 4.8 .7-11.1 .8-22.6 .7-25.7 .7-18.8 .8-4.8 .7 11.3 .8 23 .7 26.1 .7 19.3 .8 4.9 .7-11.2 .8-23.1 .7-26.3 .8-19.4 .7-4.9 .7 11.4 .8 23.5 .7 26.8 .8 19.7 .7 5.2 .7-11.4 .8-23.6 .7-26.9 .8-19.9 .7-5.2 .7 11.6 .8 24 .7 27.4 .8 20.2 .7 5.5 .7-11.6 .8-24.1 .7-27.5 .8-20.4 .7-5.4 .7 11.7 .8 24.5 .7 28 .8 20.8 .7 5.6 .7-11.6 .8-24.6 .7-28.2 .8-20.9 .7-5.7 .8 11.9 .7 24.9 .7 28.6 .8 21.4 .7 5.9 .8-11.8 .7-25.1 .7-28.8 .8-21.5 .7-5.9 .8 12.1 .7 25.4 .7 29.2 .8 21.9 .7 6.2 .8-12 .7-25.5 .7-29.4 .8-22.1 .7-6.1 .8 12.1 .7 25.9 .7 29.9 .8 22.4 .7 6.4 .8-12 .7-26.1 .7-30 .8-22.6 .7-6.4 .8 12.3 .7 26.4 .8 30.5 .7 22.9 .7 6.7 .8-12.2 .7-26.5 .8-30.7 .7-23.1 .7-6.6 .8 12.4 .7 26.8 .8 31.1 .7 23.5 .7 7 .8-12.4 .7-26.9 .8-31.3 .7-23.7 .7-6.9 .8 12.5 .7 27.3 .8 31.8 .7 24 .7 7.2 .8-12.4 .7-27.4 .8-32 .7-24.2 .7-7.2 .8 12.7 .7 27.8 .8 32.3 .7 24.6 .8 7.5 .7-12.6 .7-27.8 .8-32.6 .7-24.8 .8-7.4 .7 12.7 .7 28.3 .8 32.9 .7 25.2 .8 7.8 .7-12.7 .7-28.3 .8-33.2 .7-25.3 .8-7.8 .7 12.9 .7 28.7 .8 33.6 .7 25.7 .8 8 .7-12.7 .7-28.8 .8-33.8 .7-25.9 .8-8.1 .7 13 .7 29.1 .8 34.3 .7 26.3 .8 8.3 .7-12.9 .8-29.2 .7-34.4 .7-26.5 .8-8.3 .7 13.1 .8 29.5 .7 34.9 .7 26.9 .8 8.6 .7-13 .8-29.7 .7-35 .7-27 .8-8.7 .7 13.2 .8 30 .7 35.5 .7 27.4 .8 8.9 .7-13 .8-30.1 .7-35.7 .7-27.6 .8-8.9 .7 13.2 .8 30.5 .7 36.1 .7 28 .8 9.2 .7-13.1 .8-30.6 .7-36.3 .8-28.2 .7-9.2 .7 13.3 .8 30.9 .7 36.8 .8 28.6 .7 9.5 .7-13.3 .8-30.9 .7-37 .8-28.7 .7-9.6 .7 13.4 .8 31.4 .7 37.3 .8 29.2 .7 9.8 .7-13.3 .8-31.4 .7-37.5 .8-29.4 .7-9.8 .7 13.5 .8 31.7 .7 38 .8 29.8 .7 10.1 .7-13.4 .8-31.8 .7-38.2 .8-29.9 .7-10.2 .8 13.6 .7 32.1 .7 38.7 .8 30.3 .7 10.5 .8-13.5 .7-32.2 .7-38.8 .8-30.5 .7-10.5 .8 13.6 .7 32.6 .7 39.2 .8 30.9 .7 10.8 .8-13.5 .7-32.6 .7-39.5 .8-31.1 .7-10.8 .8 13.7 .7 33 .7 39.9 .8 31.5 .7 11.1 .8-13.6 .7-33.1 .7-40 .8-31.7 .7-11.1 .8 13.7 .7 33.4 .8 40.5 .7 32.1 .7 11.5 .8-13.6 .7-33.6 .8-40.6 .7-32.3 .7-11.5 .8 13.8 .7 33.8 .8 41.1 .7 32.7 .7 11.8 .8-13.6 .7-33.9 .8-41.3 .7-32.9 .7-11.8 .8 13.7 .7 34.3 .8 41.7 .7 33.3 .7 12.2 .8-13.7 .7-34.3 .8-41.9 .7-33.5 .7-12.2 .8 13.8 .7 34.7 .8 42.3 .7 33.9 .8 12.5 .7-13.7 .7-34.7 .8-42.5 .7-34.1 .8-12.5 .7 13.8 .7 35.1 .8 42.9 .7 34.5 .8 12.9 .7-13.7 .7-35.2 .8-43.1 .7-34.7 .8-12.9 .7 13.9 .7 35.4 .8 43.6 .7 35.1 .8 13.2 .7-13.7 .7-35.5 .8-43.8 .7-35.3 .8-13.2 .7 13.8 .7 35.9 .8 44.2 .7 35.7 .8 13.6 .7-13.8 .8-35.9 .7-44.4 .7-35.9 .8-13.6 .7 13.9 .8 36.2 .7 44.9 .7 36.3 .8 13.9 .7-13.7 .8-36.3 .7-45" stroke="#00a800" stroke-width="3.7" fill="none" stroke-linejoin="round" stroke-dasharray="5.5 4.4"/>
<path d="M139.5 1588.3v-6.8M139.5 1239.5v6.8M166.6 1588.3v-4.2M166.6 1239.5v4.2M193.6 1588.3v-4.2M193.6 1239.5v4.2M220.7 1588.3v-4.2M220.7 1239.5v4.2M247.8 1588.3v-6.8M247.8 1239.5v6.8M274.9 1588.3v-4.2M274.9 1239.5v4.2M301.9 1588.3v-4.2M301.9 1239.5v4.2M329.0 1588.3v-4.2M329.0 1239.5v4.2M356.1 1588.3v-6.8M356.1 1239.5v6.8M383.1 1588.3v-4.2M383.1 1239.5v4.2M410.2 1588.3v-4.2M410.2 1239.5v4.2M437.3 1588.3v-4.2M437.3 1239.5v4.2M464.3 1588.3v-6.8M464.3 1239.5v6.8M491.4 1588.3v-4.2M491.4 1239.5v4.2M518.5 1588.3v-4.2M518.5 1239.5v4.2M545.5 1588.3v-4.2M545.5 1239.5v4.2M572.6 1588.3v-6.8M572.6 1239.5v6.8M599.7 1588.3v-4.2M599.7 1239.5v4.2M626.8 1588.3v-4.2M626.8 1239.5v4.2M653.8 1588.3v-4.2M653.8 1239.5v4.2M680.9 1588.3v-6.8M680.9 1239.5v6.8M128.0 1576.1h4.2M692.2 1576.1h-4.2M128.0 1562.0h4.2M692.2 1562.0h-4.2M128.0 1548.0h4.2M692.2 1548.0h-4.2M128.0 1533.9h4.2M692.2 1533.9h-4.2M128.0 1519.9h6.8M692.2 1519.9h-6.8M128.0 1505.9h4.2M692.2 1505.9h-4.2M128.0 1491.8h4.2M692.2 1491.8h-4.2M128.0 1477.8h4.2M692.2 1477.8h-4.2M128.0 1463.7h4.2M692.2 1463.7h-4.2M128.0 1449.7h6.8M692.2 1449.7h-6.8M128.0 1435.7h4.2M692.2 1435.7h-4.2M128.0 1421.6h4.2M692.2 1421.6h-4.2M128.0 1407.6h4.2M692.2 1407.6h-4.2M128.0 1393.5h4.2M692.2 1393.5h-4.2M128.0 1379.5h6.8M692.2 1379.5h-6.8M128.0 1365.5h4.2M692.2 1365.5h-4.2M128.0 1351.4h4.2M692.2 1351.4h-4.2M128.0 1337.4h4.2M692.2 1337.4h-4.2M128.0 1323.3h4.2M692.2 1323.3h-4.2M128.0 1309.3h6.8M692.2 1309.3h-6.8M128.0 1295.3h4.2M692.2 1295.3h-4.2M128.0 1281.2h4.2M692.2 1281.2h-4.2M128.0 1267.2h4.2M692.2 1267.2h-4.2M128.0 1253.1h4.2M692.2 1253.1h-4.2" stroke="#000" stroke-width="1.3" fill="none"/>
<rect x="128.0" y="1239.5" width="564.2" height="348.8" stroke="#000" stroke-width="1.6" fill="none"/>
<g font-family='"Liberation Sans", sans-serif' font-size="34.59"><text x="115.4" y="1248.4" text-anchor="end">15</text><text x="115.4" y="1318.6" text-anchor="end">10</text><text x="115.4" y="1388.8" text-anchor="end">5</text><text x="115.4" y="1459.0" text-anchor="end">0</text><text x="115.4" y="1529.2" text-anchor="end">−5</text><text x="139.5" y="1627.8" text-anchor="middle">0</text><text x="247.8" y="1627.8" text-anchor="middle">2</text><text x="356.1" y="1627.8" text-anchor="middle">4</text><text x="464.3" y="1627.8" text-anchor="middle">6</text><text x="572.6" y="1627.8" text-anchor="middle">8</text><text x="680.9" y="1627.8" text-anchor="middle">10</text></g>
<path d="M158.5 1286.0H232.3" stroke="#ff0000" stroke-width="3.7"/>
<text x="241.0" y="1291.5" font-size="33.84"><tspan font-family='"Liberation Serif", serif' font-style="italic">ω</tspan><tspan font-family='"Liberation Serif", serif' dx="0.0">=5 deg</tspan></text>
<path d="M158.5 1332.0H233.5" stroke="#0000ff" stroke-width="3.7" stroke-dasharray="11.5 4.4"/>
<text x="241.0" y="1337.5" font-size="33.84"><tspan font-family='"Liberation Serif", serif' font-style="italic">ω</tspan><tspan font-family='"Liberation Serif", serif' dx="0.0">=50 deg</tspan></text>
<path d="M150.9 1512.8H223.9" stroke="#ff8000" stroke-width="3.7" stroke-dasharray="5.5 4.5 11 4.9"/>
<text x="233.4" y="1518.3" font-size="33.84"><tspan font-family='"Liberation Serif", serif' font-style="italic">ω</tspan><tspan font-family='"Liberation Serif", serif' dx="0.0">=95 deg</tspan></text>
<path d="M150.9 1558.4H225.9" stroke="#00a800" stroke-width="3.7" stroke-dasharray="5.5 4.4"/>
<text x="233.4" y="1563.9" font-size="33.84"><tspan font-family='"Liberation Serif", serif' font-style="italic">ω</tspan><tspan font-family='"Liberation Serif", serif' dx="0.0">=140 deg</tspan></text>
<text x="134.3" y="1207.3" font-family='"Liberation Serif", serif' font-size="35.27">Be star−pulsar</text>
<text x="366.3" y="1207.3" font-family='"Liberation Sans", sans-serif' font-style="italic" font-size="35.64">GS</text>
<text x="419.9" y="1207.3" font-family='"Liberation Sans", sans-serif' font-style="italic" font-size="34.71">ε</text>
<text x="434.9" y="1189.9" font-family='"Liberation Sans", sans-serif' font-size="24.86">2</text>
<text x="448.5" y="1207.3" font-family='"Liberation Sans", sans-serif' font-style="italic" font-size="36.11">c</text>
<text x="468.7" y="1189.9" font-family='"Liberation Sans", sans-serif' font-size="25.79">−2</text>
<text x="520.7" y="1207.3" font-family='"Liberation Serif", serif' font-size="35.08">timing shift</text>
<text x="372.5" y="1675.0" font-family='"Liberation Sans", sans-serif' font-style="italic" font-size="37.6">t</text><text x="396.9" y="1675.0" font-family='"Liberation Serif", serif' font-size="34.4">(yr)</text>
<text transform="translate(45.8 1414.8) rotate(-90)" text-anchor="middle" font-family='"Liberation Serif", serif' font-size="37.07">Δ(<tspan font-style="italic">δτ</tspan>) (<tspan font-style="italic">μ</tspan>s)</text>
<path d="M1024.2 1223.5V1584.7M1136.5 1223.5V1584.7M1248.8 1223.5V1584.7M1361.1 1223.5V1584.7M900.2 1353.9H1484.8M900.2 1420.5H1484.8M900.2 1487.2H1484.8M900.2 1553.8H1484.8" stroke="#b4b4b4" stroke-width="1.3" fill="none"/>
<path d="M900.2 1287.2H1484.8" stroke="#000" stroke-width="1.4" fill="none"/>
<path d="M911.9 1287.2l.8 0 .7-.1 .8-.1 .8 .3 .7 .7 .8 1 .8 .8 .7 .4 .8-.3 .8-1.1 .7-1.3 .8-.9 .8-.1 .8 1.1 .7 2 .8 2.3 .8 1.7 .7 .4 .8-1.2 .8-2.3 .7-2.6 .8-1.8 .8-.1 .7 1.9 .8 3.3 .8 3.6 .7 2.5 .8 .5 .8-2 .7-3.6 .8-4 .8-2.6 .7-.1 .8 2.7 .8 4.6 .8 4.9 .7 3.4 .8 .5 .8-2.8 .7-4.9 .8-5.3 .8-3.5 .7-.1 .8 3.4 .8 5.9 .7 6.3 .8 4.2 .8 .5 .7-3.5 .8-6.2 .8-6.6 .7-4.4 .8-.2 .8 4.2 .7 7.3 .8 7.6 .8 5.1 .8 .5 .7-4.2 .8-7.6 .8-7.9 .7-5.2 .8-.3 .8 4.9 .7 8.6 .8 8.9 .8 6 .7 .6 .8-5 .8-8.8 .7-9.3 .8-6.1 .8-.4 .7 5.7 .8 9.9 .8 10.3 .7 6.8 .8 .7 .8-5.7 .8-10.2 .7-10.6 .8-7 .8-.4 .7 6.4 .8 11.1 .8 11.7 .7 7.7 .8 .9 .8-6.5 .7-11.5 .8-12 .8-7.8 .7-.6 .8 7.2 .8 12.4 .7 13 .8 8.6 .8 1 .7-7.3 .8-12.7 .8-13.3 .7-8.8 .8-.6 .8 7.9 .8 13.6 .7 14.4 .8 9.5 .8 1.1 .7-7.9 .8-14 .8-14.7 .7-9.7 .8-.8 .8 8.6 .7 14.9 .8 15.7 .8 10.5 .7 1.2 .8-8.6 .8-15.3 .7-16 .8-10.6 .8-1 .7 9.3 .8 16.2 .8 17.1 .8 11.4 .7 1.3 .8-9.3 .8-16.5 .7-17.4 .8-11.6 .8-1.1 .7 10 .8 17.5 .8 18.4 .7 12.4 .8 1.5 .8-10 .7-17.8 .8-18.8 .8-12.5 .7-1.2 .8 10.6 .8 18.8 .7 19.8 .8 13.2 .8 1.7 .8-10.7 .7-19 .8-20.1 .8-13.5 .7-1.4 .8 11.3 .8 20 .7 21.2 .8 14.2 .8 1.9 .7-11.4 .8-20.3 .8-21.5 .7-14.4 .8-1.6 .8 12 .7 21.2 .8 22.5 .8 15.3 .7 2 .8-12 .8-21.5 .7-22.9 .8-15.4 .8-1.8 .8 12.6 .7 22.5 .8 23.9 .8 16.2 .7 2.3 .8-12.7 .8-22.8 .7-24.2 .8-16.4 .8-2 .7 13.3 .8 23.7 .8 25.3 .7 17.1 .8 2.5 .8-13.3 .7-24 .8-25.6 .8-17.4 .7-2.2 .8 13.9 .8 25 .8 26.6 .7 18.2 .8 2.7 .8-13.9 .7-25.3 .8-27 .8-18.3 .7-2.5 .8 14.5 .8 26.2 .7 28 .8 19.2 .8 2.9 .7-14.5 .8-26.5 .8-28.3 .7-19.4 .8-2.7 .8 15.1 .7 27.4 .8 29.4 .8 20.2 .8 3.2 .7-15.1 .8-27.7 .8-29.8 .7-20.3 .8-3 .8 15.7 .7 28.6 .8 30.8 .8 21.2 .7 3.5 .8-15.7 .8-29 .7-31.1 .8-21.4 .8-3.3 .7 16.4 .8 29.8 .8 32.2 .7 22.2 .8 3.7 .8-16.2 .8-30.2 .7-32.5 .8-22.4 .8-3.6 .7 16.9 .8 31.1 .8 33.5 .7 23.3 .8 4 .8-16.8 .7-31.4 .8-33.9 .8-23.4 .7-3.9 .8 17.5 .8 32.2 .7 35 .8 24.3 .8 4.3 .7-17.4 .8-32.6 .8-35.3 .7-24.5 .8-4.1 .8 18 .8 33.5 .7 36.3 .8 25.3 .8 4.7 .7-18 .8-33.7 .8-36.7 .7-25.6 .8-4.4 .8 18.5 .7 34.7 .8 37.7 .8 26.4 .7 5 .8-18.5 .8-35 .7-38.1 .8-26.6 .8-4.8 .7 19.1 .8 35.9 .8 39.1 .8 27.5 .7 5.2 .8-19 .8-36.1 .7-39.5 .8-27.7 .8-5.1 .7 19.6 .8 37 .8 40.5 .7 28.6 .8 5.6 .8-19.5 .7-37.3 .8-40.9 .8-28.7 .7-5.5 .8 20.1 .8 38.2 .7 41.9 .8 29.6 .8 6 .8-20 .7-38.5 .8-42.3 .8-29.8 .7-5.9 .8 20.6 .8 39.4 .7 43.3 .8 30.7 .8 6.4 .7-20.5 .8-39.7 .8-43.6 .7-31 .8-6.2 .8 21.1 .7 40.5 .8 44.7 .8 31.9 .7 6.7 .8-21 .8-40.8 .7-45.1 .8-32 .8-6.7 .8 21.6 .7 41.7 .8 46.1 .8 33 .7 7.1 .8-21.5 .8-41.9 .7-46.5 .8-33.2 .8-7 .7 22 .8 42.9 .8 47.5 .7 34.1 .8 7.5 .8-21.9 .7-43.1 .8-47.9 .8-34.3 .7-7.4 .8 22.4 .8 44.1 .8 48.9 .7 35.1 .8 8 .8-22.4 .7-44.2 .8-49.3 .8-35.4 .7-7.9 .8 22.9 .8 45.2 .7 50.3 .8 36.3 .8 8.4 .7-22.8 .8-45.4 .8-50.7 .7-36.5 .8-8.3 .8 23.3 .7 46.3 .8 51.7 .8 37.5 .8 8.8 .7-23.2 .8-46.6 .8-52.1 .7-37.7 .8-8.7 .8 23.8 .7 47.4 .8 53.1 .8 38.6 .7 9.3 .8-23.6 .8-47.7 .7-53.5 .8-38.8 .8-9.2 .7 24.1 .8 48.6 .8 54.5 .7 39.8 .8 9.7 .8-24 .8-48.8 .7-54.9 .8-40 .8-9.7 .7 24.6 .8 49.7 .8 55.9 .7 40.9 .8 10.2 .8-24.4 .7-49.9 .8-56.3 .8-41.2 .7-10.1 .8 24.9 .8 50.8 .7 57.3 .8 42.1 .8 10.8 .7-24.9 .8-51 .8-57.7 .7-42.4 .8-10.6 .8 25.4 .8 51.8 .7 58.8 .8 43.2 .8 11.3 .7-25.2 .8-52.1 .8-59.2 .7-43.5 .8-11.2 .8 25.8 .7 52.9 .8 60.2 .8 44.4 .7 11.8 .8-25.6 .8-53.2 .7-60.5 .8-44.7 .8-11.7 .7 26.1 .8 54 .8 61.6 .8 45.6 .7 12.3 .8-25.9 .8-54.3 .7-62 .8-45.9 .8-12.2 .7 26.4 .8 55.2 .8 63 .7 46.8 .8 12.8 .8-26.3 .7-55.3 .8-63.4 .8-47.1 .7-12.7 .8 26.7 .8 56.2 .7 64.4 .8 48.1 .8 13.3 .8-26.6 .7-56.4 .8-64.8 .8-48.3 .7-13.3 .8 27.1 .8 57.3 .7 65.8 .8 49.2 .8 13.9 .7-26.9 .8-57.5 .8-66.2 .7-49.5 .8-13.8 .8 27.3 .7 58.4 .8 67.2 .8 50.5 .7 14.4 .8-27.2 .8-58.5 .7-67.6 .8-50.8 .8-14.4 .8 27.7 .7 59.4 .8 68.6 .8 51.7 .7 15 .8-27.4 .8-59.6 .7-69.1 .8-52 .8-14.9 .7 27.9 .8 60.5 .8 70 .7 52.9 .8 15.7 .8-27.8 .7-60.7 .8-70.4 .8-53.2 .7-15.6 .8 28.2 .8 61.5 .8 71.5 .7 54.1 .8 16.3 .8-28.1 .7-61.7 .8-71.8 .8-54.5 .7-16.2 .8 28.5 .8 62.6 .7 72.8 .8 55.4 .8 16.9 .7-28.3 .8-62.7 .8-73.3 .7-55.7 .8-16.8 .8 28.7 .7 63.6 .8 74.2 .8 56.7 .8 17.5 .7-28.5 .8-63.8 .8-74.6 .7-57 .8-17.5 .8 29 .7 64.6 .8 75.7 .8 57.9 .7 18.1 .8-28.8 .8-64.7 .7-76.1 .8-58.2 .8-18.1 .7 29.2 .8 65.6 .8 77 .7 59.3 .8 18.7 .8-29 .8-65.7 .7-77.5 .8-59.5 .8-18.8 .7 29.4 .8 66.6 .8 78.5 .7 60.5 .8 19.4 .8-29.2 .7-66.7 .8-78.9 .8-60.8 .7-19.4 .8 29.6 .8 67.6 .7 79.9 .8 61.8 .8 20 .7-29.4 .8-67.7 .8-80.3 .7-62.1 .8-20.1 .8 29.8 .8 68.6 .7 81.3 .8 63.1 .8 20.7 .7-29.6 .8-68.7 .8-81.7 .7-63.4 .8-20.7 .8 30 .7 69.5 .8 82.7 .8 64.4 .7 21.4 .8-29.7 .8-69.7 .7-83.1 .8-64.7 .8-21.5 .7 30.2 .8 70.5 .8 84.1 .8 65.7 .7 22.1 .8-29.9 .8-70.7 .7-84.5 .8-66 .8-22.1 .7 30.3 .8 71.5 .8 85.5 .7 67 .8 22.8 .8-30 .7-71.7 .8-85.9 .8-67.3 .7-22.9 .8 30.5 .8 72.5 .7 86.9 .8 68.3 .8 23.5 .8-30.2 .7-72.6 .8-87.3 .8-68.6 .7-23.6 .8 30.6 .8 73.4 .7 88.3 .8 69.6 .8 24.3 .7-30.3 .8-73.6 .8-88.7 .7-69.9 .8-24.4 .8 30.8 .7 74.3 .8 89.7 .8 71 .7 25 .8-30.4 .8-74.5 .7-90.1 .8-71.3 .8-25.1 .8 30.8 .7 75.3 .8 91.1 .8 72.3 .7 25.8 .8-30.5 .8-75.4 .7-91.6 .8-72.6 .8-25.8 .7 30.9 .8 76.2 .8 92.5 .7 73.6 .8 26.6 .8-30.6 .7-76.4 .8-92.9 .8-73.9 .7-26.7 .8 31.1 .8 77.1 .8 93.9 .7 75 .8 27.3 .8-30.7 .7-77.3 .8-94.3 .8-75.3 .7-27.4 .8 31.1 .8 78 .7 95.3 .8 76.4 .8 28.1 .7-30.8 .8-78.2 .8-95.7 .7-76.6 .8-28.3 .8 31.2 .7 79 .8 96.7 .8 77.6 .8 29 .7-30.9 .8-79 .8-97.1 .7-78 .8-29.1 .8 31.3 .7 79.8 .8 98.1 .8 79 .7 29.8 .8-31 .8-79.9 .7-98.5 .8-79.3 .8-29.9 .7 31.3 .8 80.7 .8 99.5 .7 80.4 .8 30.6 .8-31 .8-80.8 .7-99.9 .8-80.7 .8-30.7 .7 31.3 .8 81.6 .8 100.8 .7 81.8 .8 31.4 .8-30.9 .7-81.7 .8-101.3" stroke="#ff0000" stroke-width="3.7" fill="none" stroke-linejoin="round"/>
<path d="M911.9 1287.2l.8 0 .7-.1 .8-.1 .8 .3 .7 .7 .8 1 .8 .8 .7 .4 .8-.3 .8-1.1 .7-1.3 .8-.9 .8-.1 .8 1.1 .7 2 .8 2.3 .8 1.7 .7 .4 .8-1.2 .8-2.3 .7-2.6 .8-1.8 .8-.1 .7 1.9 .8 3.3 .8 3.6 .7 2.5 .8 .5 .8-2 .7-3.6 .8-4 .8-2.6 .7-.1 .8 2.7 .8 4.6 .8 4.9 .7 3.4 .8 .5 .8-2.8 .7-4.9 .8-5.3 .8-3.5 .7-.1 .8 3.4 .8 5.9 .7 6.3 .8 4.2 .8 .5 .7-3.5 .8-6.2 .8-6.6 .7-4.4 .8-.2 .8 4.2 .7 7.3 .8 7.6 .8 5.1 .8 .5 .7-4.2 .8-7.6 .8-7.9 .7-5.2 .8-.3 .8 4.9 .7 8.6 .8 8.9 .8 6 .7 .6 .8-5 .8-8.8 .7-9.3 .8-6.1 .8-.4 .7 5.7 .8 9.9 .8 10.3 .7 6.8 .8 .7 .8-5.7 .8-10.2 .7-10.6 .8-7 .8-.4 .7 6.4 .8 11.1 .8 11.7 .7 7.7 .8 .9 .8-6.5 .7-11.5 .8-12 .8-7.8 .7-.6 .8 7.2 .8 12.4 .7 13 .8 8.6 .8 1 .7-7.3 .8-12.7 .8-13.3 .7-8.8 .8-.6 .8 7.9 .8 13.6 .7 14.4 .8 9.5 .8 1.1 .7-7.9 .8-14 .8-14.7 .7-9.7 .8-.8 .8 8.6 .7 14.9 .8 15.7 .8 10.5 .7 1.2 .8-8.6 .8-15.3 .7-16 .8-10.6 .8-1 .7 9.3 .8 16.2 .8 17.1 .8 11.4 .7 1.3 .8-9.3 .8-16.5 .7-17.4 .8-11.6 .8-1.1 .7 10 .8 17.5 .8 18.4 .7 12.4 .8 1.5 .8-10 .7-17.8 .8-18.8 .8-12.5 .7-1.2 .8 10.6 .8 18.8 .7 19.8 .8 13.2 .8 1.7 .8-10.7 .7-19 .8-20.1 .8-13.5 .7-1.4 .8 11.3 .8 20 .7 21.2 .8 14.2 .8 1.9 .7-11.4 .8-20.3 .8-21.5 .7-14.4 .8-1.6 .8 12 .7 21.2 .8 22.5 .8 15.3 .7 2 .8-12 .8-21.5 .7-22.9 .8-15.4 .8-1.8 .8 12.6 .7 22.5 .8 23.9 .8 16.2 .7 2.3 .8-12.7 .8-22.8 .7-24.2 .8-16.4 .8-2 .7 13.3 .8 23.7 .8 25.3 .7 17.1 .8 2.5 .8-13.3 .7-24 .8-25.6 .8-17.4 .7-2.2 .8 13.9 .8 25 .8 26.6 .7 18.2 .8 2.7 .8-13.9 .7-25.3 .8-27 .8-18.3 .7-2.5 .8 14.5 .8 26.2 .7 28 .8 19.2 .8 2.9 .7-14.5 .8-26.5 .8-28.3 .7-19.4 .8-2.7 .8 15.1 .7 27.4 .8 29.4 .8 20.2 .8 3.2 .7-15.1 .8-27.7 .8-29.8 .7-20.3 .8-3 .8 15.7 .7 28.6 .8 30.8 .8 21.2 .7 3.5 .8-15.7 .8-29 .7-31.1 .8-21.4 .8-3.3 .7 16.4 .8 29.8 .8 32.2 .7 22.2 .8 3.7 .8-16.2 .8-30.2 .7-32.5 .8-22.4 .8-3.6 .7 16.9 .8 31.1 .8 33.5 .7 23.3 .8 4 .8-16.8 .7-31.4 .8-33.9 .8-23.4 .7-3.9 .8 17.5 .8 32.2 .7 35 .8 24.3 .8 4.3 .7-17.4 .8-32.6 .8-35.3 .7-24.5 .8-4.1 .8 18 .8 33.5 .7 36.3 .8 25.3 .8 4.7 .7-18 .8-33.7 .8-36.7 .7-25.6 .8-4.4 .8 18.5 .7 34.7 .8 37.7 .8 26.4 .7 5 .8-18.5 .8-35 .7-38.1 .8-26.6 .8-4.8 .7 19.1 .8 35.9 .8 39.1 .8 27.5 .7 5.2 .8-19 .8-36.1 .7-39.5 .8-27.7 .8-5.1 .7 19.6 .8 37 .8 40.5 .7 28.6 .8 5.6 .8-19.5 .7-37.3 .8-40.9 .8-28.7 .7-5.5 .8 20.1 .8 38.2 .7 41.9 .8 29.6 .8 6 .8-20 .7-38.5 .8-42.3 .8-29.8 .7-5.9 .8 20.6 .8 39.4 .7 43.3 .8 30.7 .8 6.4 .7-20.5 .8-39.7 .8-43.6 .7-31 .8-6.2 .8 21.1 .7 40.5 .8 44.7 .8 31.9 .7 6.7 .8-21 .8-40.8 .7-45.1 .8-32 .8-6.7 .8 21.6 .7 41.7 .8 46.1 .8 33 .7 7.1 .8-21.5 .8-41.9 .7-46.5 .8-33.2 .8-7 .7 22 .8 42.9 .8 47.5 .7 34.1 .8 7.5 .8-21.9 .7-43.1 .8-47.9 .8-34.3 .7-7.4 .8 22.4 .8 44.1 .8 48.9 .7 35.1 .8 8 .8-22.4 .7-44.2 .8-49.3 .8-35.4 .7-7.9 .8 22.9 .8 45.2 .7 50.3 .8 36.3 .8 8.4 .7-22.8 .8-45.4 .8-50.7 .7-36.5 .8-8.3 .8 23.3 .7 46.3 .8 51.7 .8 37.5 .8 8.8 .7-23.2 .8-46.6 .8-52.1 .7-37.7 .8-8.7 .8 23.8 .7 47.4 .8 53.1 .8 38.6 .7 9.3 .8-23.6 .8-47.7 .7-53.5 .8-38.8 .8-9.2 .7 24.1 .8 48.6 .8 54.5 .7 39.8 .8 9.7 .8-24 .8-48.8 .7-54.9 .8-40 .8-9.7 .7 24.6 .8 49.7 .8 55.9 .7 40.9 .8 10.2 .8-24.4 .7-49.9 .8-56.3 .8-41.2 .7-10.1 .8 24.9 .8 50.8 .7 57.3 .8 42.1 .8 10.8 .7-24.9 .8-51 .8-57.7 .7-42.4 .8-10.6 .8 25.4 .8 51.8 .7 58.8 .8 43.2 .8 11.3 .7-25.2 .8-52.1 .8-59.2 .7-43.5 .8-11.2 .8 25.8 .7 52.9 .8 60.2 .8 44.4 .7 11.8 .8-25.6 .8-53.2 .7-60.5 .8-44.7 .8-11.7 .7 26.1 .8 54 .8 61.6 .8 45.6 .7 12.3 .8-25.9 .8-54.3 .7-62 .8-45.9 .8-12.2 .7 26.4 .8 55.2 .8 63 .7 46.8 .8 12.8 .8-26.3 .7-55.3 .8-63.4 .8-47.1 .7-12.7 .8 26.7 .8 56.2 .7 64.4 .8 48.1 .8 13.3 .8-26.6 .7-56.4 .8-64.8 .8-48.3 .7-13.3 .8 27.1 .8 57.3 .7 65.8 .8 49.2 .8 13.9 .7-26.9 .8-57.5 .8-66.2 .7-49.5 .8-13.8 .8 27.3 .7 58.4 .8 67.2 .8 50.5 .7 14.4 .8-27.2 .8-58.5 .7-67.6 .8-50.8 .8-14.4 .8 27.7 .7 59.4 .8 68.6 .8 51.7 .7 15 .8-27.4 .8-59.6 .7-69.1 .8-52 .8-14.9 .7 27.9 .8 60.5 .8 70 .7 52.9 .8 15.7 .8-27.8 .7-60.7 .8-70.4 .8-53.2 .7-15.6 .8 28.2 .8 61.5 .8 71.5 .7 54.1 .8 16.3 .8-28.1 .7-61.7 .8-71.8 .8-54.5 .7-16.2 .8 28.5 .8 62.6 .7 72.8 .8 55.4 .8 16.9 .7-28.3 .8-62.7 .8-73.3 .7-55.7 .8-16.8 .8 28.7 .7 63.6 .8 74.2 .8 56.7 .8 17.5 .7-28.5 .8-63.8 .8-74.6 .7-57 .8-17.5 .8 29 .7 64.6 .8 75.7 .8 57.9 .7 18.1 .8-28.8 .8-64.7 .7-76.1 .8-58.2 .8-18.1 .7 29.2 .8 65.6 .8 77 .7 59.3 .8 18.7 .8-29 .8-65.7 .7-77.5 .8-59.5 .8-18.8 .7 29.4 .8 66.6 .8 78.5 .7 60.5 .8 19.4 .8-29.2 .7-66.7 .8-78.9 .8-60.8 .7-19.4 .8 29.6 .8 67.6 .7 79.9 .8 61.8 .8 20 .7-29.4 .8-67.7 .8-80.3 .7-62.1 .8-20.1 .8 29.8 .8 68.6 .7 81.3 .8 63.1 .8 20.7 .7-29.6 .8-68.7 .8-81.7 .7-63.4 .8-20.7 .8 30 .7 69.5 .8 82.7 .8 64.4 .7 21.4 .8-29.7 .8-69.7 .7-83.1 .8-64.7 .8-21.5 .7 30.2 .8 70.5 .8 84.1 .8 65.7 .7 22.1 .8-29.9 .8-70.7 .7-84.5 .8-66 .8-22.1 .7 30.3 .8 71.5 .8 85.5 .7 67 .8 22.8 .8-30 .7-71.7 .8-85.9 .8-67.3 .7-22.9 .8 30.5 .8 72.5 .7 86.9 .8 68.3 .8 23.5 .8-30.2 .7-72.6 .8-87.3 .8-68.6 .7-23.6 .8 30.6 .8 73.4 .7 88.3 .8 69.6 .8 24.3 .7-30.3 .8-73.6 .8-88.7 .7-69.9 .8-24.4 .8 30.8 .7 74.3 .8 89.7 .8 71 .7 25 .8-30.4 .8-74.5 .7-90.1 .8-71.3 .8-25.1 .8 30.8 .7 75.3 .8 91.1 .8 72.3 .7 25.8 .8-30.5 .8-75.4 .7-91.6 .8-72.6 .8-25.8 .7 30.9 .8 76.2 .8 92.5 .7 73.6 .8 26.6 .8-30.6 .7-76.4 .8-92.9 .8-73.9 .7-26.7 .8 31.1 .8 77.1 .8 93.9 .7 75 .8 27.3 .8-30.7 .7-77.3 .8-94.3 .8-75.3 .7-27.4 .8 31.1 .8 78 .7 95.3 .8 76.4 .8 28.1 .7-30.8 .8-78.2 .8-95.7 .7-76.6 .8-28.3 .8 31.2 .7 79 .8 96.7 .8 77.6 .8 29 .7-30.9 .8-79 .8-97.1 .7-78 .8-29.1 .8 31.3 .7 79.8 .8 98.1 .8 79 .7 29.8 .8-31 .8-79.9 .7-98.5 .8-79.3 .8-29.9 .7 31.3 .8 80.7 .8 99.5 .7 80.4 .8 30.6 .8-31 .8-80.8 .7-99.9 .8-80.7 .8-30.7 .7 31.3 .8 81.6 .8 100.8 .7 81.8 .8 31.4 .8-30.9 .7-81.7 .8-101.3" stroke="#0000ff" stroke-width="3.7" fill="none" stroke-linejoin="round" stroke-dasharray="11.5 4.4"/>
<path d="M911.9 1287.2l.8 0 .7-.1 .8-.1 .8 .3 .7 .7 .8 1 .8 .8 .7 .4 .8-.3 .8-1.1 .7-1.3 .8-.9 .8-.1 .8 1.1 .7 2 .8 2.3 .8 1.7 .7 .4 .8-1.2 .8-2.3 .7-2.6 .8-1.8 .8-.1 .7 1.9 .8 3.3 .8 3.6 .7 2.5 .8 .5 .8-2 .7-3.6 .8-4 .8-2.6 .7-.1 .8 2.7 .8 4.6 .8 4.9 .7 3.4 .8 .5 .8-2.8 .7-4.9 .8-5.3 .8-3.5 .7-.1 .8 3.4 .8 5.9 .7 6.3 .8 4.2 .8 .5 .7-3.5 .8-6.2 .8-6.6 .7-4.4 .8-.2 .8 4.2 .7 7.3 .8 7.6 .8 5.1 .8 .5 .7-4.2 .8-7.6 .8-7.9 .7-5.2 .8-.3 .8 4.9 .7 8.6 .8 8.9 .8 6 .7 .6 .8-5 .8-8.8 .7-9.3 .8-6.1 .8-.4 .7 5.7 .8 9.9 .8 10.3 .7 6.8 .8 .7 .8-5.7 .8-10.2 .7-10.6 .8-7 .8-.4 .7 6.4 .8 11.1 .8 11.7 .7 7.7 .8 .9 .8-6.5 .7-11.5 .8-12 .8-7.8 .7-.6 .8 7.2 .8 12.4 .7 13 .8 8.6 .8 1 .7-7.3 .8-12.7 .8-13.3 .7-8.8 .8-.6 .8 7.9 .8 13.6 .7 14.4 .8 9.5 .8 1.1 .7-7.9 .8-14 .8-14.7 .7-9.7 .8-.8 .8 8.6 .7 14.9 .8 15.7 .8 10.5 .7 1.2 .8-8.6 .8-15.3 .7-16 .8-10.6 .8-1 .7 9.3 .8 16.2 .8 17.1 .8 11.4 .7 1.3 .8-9.3 .8-16.5 .7-17.4 .8-11.6 .8-1.1 .7 10 .8 17.5 .8 18.4 .7 12.4 .8 1.5 .8-10 .7-17.8 .8-18.8 .8-12.5 .7-1.2 .8 10.6 .8 18.8 .7 19.8 .8 13.2 .8 1.7 .8-10.7 .7-19 .8-20.1 .8-13.5 .7-1.4 .8 11.3 .8 20 .7 21.2 .8 14.2 .8 1.9 .7-11.4 .8-20.3 .8-21.5 .7-14.4 .8-1.6 .8 12 .7 21.2 .8 22.5 .8 15.3 .7 2 .8-12 .8-21.5 .7-22.9 .8-15.4 .8-1.8 .8 12.6 .7 22.5 .8 23.9 .8 16.2 .7 2.3 .8-12.7 .8-22.8 .7-24.2 .8-16.4 .8-2 .7 13.3 .8 23.7 .8 25.3 .7 17.1 .8 2.5 .8-13.3 .7-24 .8-25.6 .8-17.4 .7-2.2 .8 13.9 .8 25 .8 26.6 .7 18.2 .8 2.7 .8-13.9 .7-25.3 .8-27 .8-18.3 .7-2.5 .8 14.5 .8 26.2 .7 28 .8 19.2 .8 2.9 .7-14.5 .8-26.5 .8-28.3 .7-19.4 .8-2.7 .8 15.1 .7 27.4 .8 29.4 .8 20.2 .8 3.2 .7-15.1 .8-27.7 .8-29.8 .7-20.3 .8-3 .8 15.7 .7 28.6 .8 30.8 .8 21.2 .7 3.5 .8-15.7 .8-29 .7-31.1 .8-21.4 .8-3.3 .7 16.4 .8 29.8 .8 32.2 .7 22.2 .8 3.7 .8-16.2 .8-30.2 .7-32.5 .8-22.4 .8-3.6 .7 16.9 .8 31.1 .8 33.5 .7 23.3 .8 4 .8-16.8 .7-31.4 .8-33.9 .8-23.4 .7-3.9 .8 17.5 .8 32.2 .7 35 .8 24.3 .8 4.3 .7-17.4 .8-32.6 .8-35.3 .7-24.5 .8-4.1 .8 18 .8 33.5 .7 36.3 .8 25.3 .8 4.7 .7-18 .8-33.7 .8-36.7 .7-25.6 .8-4.4 .8 18.5 .7 34.7 .8 37.7 .8 26.4 .7 5 .8-18.5 .8-35 .7-38.1 .8-26.6 .8-4.8 .7 19.1 .8 35.9 .8 39.1 .8 27.5 .7 5.2 .8-19 .8-36.1 .7-39.5 .8-27.7 .8-5.1 .7 19.6 .8 37 .8 40.5 .7 28.6 .8 5.6 .8-19.5 .7-37.3 .8-40.9 .8-28.7 .7-5.5 .8 20.1 .8 38.2 .7 41.9 .8 29.6 .8 6 .8-20 .7-38.5 .8-42.3 .8-29.8 .7-5.9 .8 20.6 .8 39.4 .7 43.3 .8 30.7 .8 6.4 .7-20.5 .8-39.7 .8-43.6 .7-31 .8-6.2 .8 21.1 .7 40.5 .8 44.7 .8 31.9 .7 6.7 .8-21 .8-40.8 .7-45.1 .8-32 .8-6.7 .8 21.6 .7 41.7 .8 46.1 .8 33 .7 7.1 .8-21.5 .8-41.9 .7-46.5 .8-33.2 .8-7 .7 22 .8 42.9 .8 47.5 .7 34.1 .8 7.5 .8-21.9 .7-43.1 .8-47.9 .8-34.3 .7-7.4 .8 22.4 .8 44.1 .8 48.9 .7 35.1 .8 8 .8-22.4 .7-44.2 .8-49.3 .8-35.4 .7-7.9 .8 22.9 .8 45.2 .7 50.3 .8 36.3 .8 8.4 .7-22.8 .8-45.4 .8-50.7 .7-36.5 .8-8.3 .8 23.3 .7 46.3 .8 51.7 .8 37.5 .8 8.8 .7-23.2 .8-46.6 .8-52.1 .7-37.7 .8-8.7 .8 23.8 .7 47.4 .8 53.1 .8 38.6 .7 9.3 .8-23.6 .8-47.7 .7-53.5 .8-38.8 .8-9.2 .7 24.1 .8 48.6 .8 54.5 .7 39.8 .8 9.7 .8-24 .8-48.8 .7-54.9 .8-40 .8-9.7 .7 24.6 .8 49.7 .8 55.9 .7 40.9 .8 10.2 .8-24.4 .7-49.9 .8-56.3 .8-41.2 .7-10.1 .8 24.9 .8 50.8 .7 57.3 .8 42.1 .8 10.8 .7-24.9 .8-51 .8-57.7 .7-42.4 .8-10.6 .8 25.4 .8 51.8 .7 58.8 .8 43.2 .8 11.3 .7-25.2 .8-52.1 .8-59.2 .7-43.5 .8-11.2 .8 25.8 .7 52.9 .8 60.2 .8 44.4 .7 11.8 .8-25.6 .8-53.2 .7-60.5 .8-44.7 .8-11.7 .7 26.1 .8 54 .8 61.6 .8 45.6 .7 12.3 .8-25.9 .8-54.3 .7-62 .8-45.9 .8-12.2 .7 26.4 .8 55.2 .8 63 .7 46.8 .8 12.8 .8-26.3 .7-55.3 .8-63.4 .8-47.1 .7-12.7 .8 26.7 .8 56.2 .7 64.4 .8 48.1 .8 13.3 .8-26.6 .7-56.4 .8-64.8 .8-48.3 .7-13.3 .8 27.1 .8 57.3 .7 65.8 .8 49.2 .8 13.9 .7-26.9 .8-57.5 .8-66.2 .7-49.5 .8-13.8 .8 27.3 .7 58.4 .8 67.2 .8 50.5 .7 14.4 .8-27.2 .8-58.5 .7-67.6 .8-50.8 .8-14.4 .8 27.7 .7 59.4 .8 68.6 .8 51.7 .7 15 .8-27.4 .8-59.6 .7-69.1 .8-52 .8-14.9 .7 27.9 .8 60.5 .8 70 .7 52.9 .8 15.7 .8-27.8 .7-60.7 .8-70.4 .8-53.2 .7-15.6 .8 28.2 .8 61.5 .8 71.5 .7 54.1 .8 16.3 .8-28.1 .7-61.7 .8-71.8 .8-54.5 .7-16.2 .8 28.5 .8 62.6 .7 72.8 .8 55.4 .8 16.9 .7-28.3 .8-62.7 .8-73.3 .7-55.7 .8-16.8 .8 28.7 .7 63.6 .8 74.2 .8 56.7 .8 17.5 .7-28.5 .8-63.8 .8-74.6 .7-57 .8-17.5 .8 29 .7 64.6 .8 75.7 .8 57.9 .7 18.1 .8-28.8 .8-64.7 .7-76.1 .8-58.2 .8-18.1 .7 29.2 .8 65.6 .8 77 .7 59.3 .8 18.7 .8-29 .8-65.7 .7-77.5 .8-59.5 .8-18.8 .7 29.4 .8 66.6 .8 78.5 .7 60.5 .8 19.4 .8-29.2 .7-66.7 .8-78.9 .8-60.8 .7-19.4 .8 29.6 .8 67.6 .7 79.9 .8 61.8 .8 20 .7-29.4 .8-67.7 .8-80.3 .7-62.1 .8-20.1 .8 29.8 .8 68.6 .7 81.3 .8 63.1 .8 20.7 .7-29.6 .8-68.7 .8-81.7 .7-63.4 .8-20.7 .8 30 .7 69.5 .8 82.7 .8 64.4 .7 21.4 .8-29.7 .8-69.7 .7-83.1 .8-64.7 .8-21.5 .7 30.2 .8 70.5 .8 84.1 .8 65.7 .7 22.1 .8-29.9 .8-70.7 .7-84.5 .8-66 .8-22.1 .7 30.3 .8 71.5 .8 85.5 .7 67 .8 22.8 .8-30 .7-71.7 .8-85.9 .8-67.3 .7-22.9 .8 30.5 .8 72.5 .7 86.9 .8 68.3 .8 23.5 .8-30.2 .7-72.6 .8-87.3 .8-68.6 .7-23.6 .8 30.6 .8 73.4 .7 88.3 .8 69.6 .8 24.3 .7-30.3 .8-73.6 .8-88.7 .7-69.9 .8-24.4 .8 30.8 .7 74.3 .8 89.7 .8 71 .7 25 .8-30.4 .8-74.5 .7-90.1 .8-71.3 .8-25.1 .8 30.8 .7 75.3 .8 91.1 .8 72.3 .7 25.8 .8-30.5 .8-75.4 .7-91.6 .8-72.6 .8-25.8 .7 30.9 .8 76.2 .8 92.5 .7 73.6 .8 26.6 .8-30.6 .7-76.4 .8-92.9 .8-73.9 .7-26.7 .8 31.1 .8 77.1 .8 93.9 .7 75 .8 27.3 .8-30.7 .7-77.3 .8-94.3 .8-75.3 .7-27.4 .8 31.1 .8 78 .7 95.3 .8 76.4 .8 28.1 .7-30.8 .8-78.2 .8-95.7 .7-76.6 .8-28.3 .8 31.2 .7 79 .8 96.7 .8 77.6 .8 29 .7-30.9 .8-79 .8-97.1 .7-78 .8-29.1 .8 31.3 .7 79.8 .8 98.1 .8 79 .7 29.8 .8-31 .8-79.9 .7-98.5 .8-79.3 .8-29.9 .7 31.3 .8 80.7 .8 99.5 .7 80.4 .8 30.6 .8-31 .8-80.8 .7-99.9 .8-80.7 .8-30.7 .7 31.3 .8 81.6 .8 100.8 .7 81.8 .8 31.4 .8-30.9 .7-81.7 .8-101.3" stroke="#ff8000" stroke-width="3.7" fill="none" stroke-linejoin="round" stroke-dasharray="5.5 4.5 11 4.9"/>
<path d="M911.9 1287.2l.8 0 .7-.1 .8-.1 .8 .3 .7 .7 .8 1 .8 .8 .7 .4 .8-.3 .8-1.1 .7-1.3 .8-.9 .8-.1 .8 1.1 .7 2 .8 2.3 .8 1.7 .7 .4 .8-1.2 .8-2.3 .7-2.6 .8-1.8 .8-.1 .7 1.9 .8 3.3 .8 3.6 .7 2.5 .8 .5 .8-2 .7-3.6 .8-4 .8-2.6 .7-.1 .8 2.7 .8 4.6 .8 4.9 .7 3.4 .8 .5 .8-2.8 .7-4.9 .8-5.3 .8-3.5 .7-.1 .8 3.4 .8 5.9 .7 6.3 .8 4.2 .8 .5 .7-3.5 .8-6.2 .8-6.6 .7-4.4 .8-.2 .8 4.2 .7 7.3 .8 7.6 .8 5.1 .8 .5 .7-4.2 .8-7.6 .8-7.9 .7-5.2 .8-.3 .8 4.9 .7 8.6 .8 8.9 .8 6 .7 .6 .8-5 .8-8.8 .7-9.3 .8-6.1 .8-.4 .7 5.7 .8 9.9 .8 10.3 .7 6.8 .8 .7 .8-5.7 .8-10.2 .7-10.6 .8-7 .8-.4 .7 6.4 .8 11.1 .8 11.7 .7 7.7 .8 .9 .8-6.5 .7-11.5 .8-12 .8-7.8 .7-.6 .8 7.2 .8 12.4 .7 13 .8 8.6 .8 1 .7-7.3 .8-12.7 .8-13.3 .7-8.8 .8-.6 .8 7.9 .8 13.6 .7 14.4 .8 9.5 .8 1.1 .7-7.9 .8-14 .8-14.7 .7-9.7 .8-.8 .8 8.6 .7 14.9 .8 15.7 .8 10.5 .7 1.2 .8-8.6 .8-15.3 .7-16 .8-10.6 .8-1 .7 9.3 .8 16.2 .8 17.1 .8 11.4 .7 1.3 .8-9.3 .8-16.5 .7-17.4 .8-11.6 .8-1.1 .7 10 .8 17.5 .8 18.4 .7 12.4 .8 1.5 .8-10 .7-17.8 .8-18.8 .8-12.5 .7-1.2 .8 10.6 .8 18.8 .7 19.8 .8 13.2 .8 1.7 .8-10.7 .7-19 .8-20.1 .8-13.5 .7-1.4 .8 11.3 .8 20 .7 21.2 .8 14.2 .8 1.9 .7-11.4 .8-20.3 .8-21.5 .7-14.4 .8-1.6 .8 12 .7 21.2 .8 22.5 .8 15.3 .7 2 .8-12 .8-21.5 .7-22.9 .8-15.4 .8-1.8 .8 12.6 .7 22.5 .8 23.9 .8 16.2 .7 2.3 .8-12.7 .8-22.8 .7-24.2 .8-16.4 .8-2 .7 13.3 .8 23.7 .8 25.3 .7 17.1 .8 2.5 .8-13.3 .7-24 .8-25.6 .8-17.4 .7-2.2 .8 13.9 .8 25 .8 26.6 .7 18.2 .8 2.7 .8-13.9 .7-25.3 .8-27 .8-18.3 .7-2.5 .8 14.5 .8 26.2 .7 28 .8 19.2 .8 2.9 .7-14.5 .8-26.5 .8-28.3 .7-19.4 .8-2.7 .8 15.1 .7 27.4 .8 29.4 .8 20.2 .8 3.2 .7-15.1 .8-27.7 .8-29.8 .7-20.3 .8-3 .8 15.7 .7 28.6 .8 30.8 .8 21.2 .7 3.5 .8-15.7 .8-29 .7-31.1 .8-21.4 .8-3.3 .7 16.4 .8 29.8 .8 32.2 .7 22.2 .8 3.7 .8-16.2 .8-30.2 .7-32.5 .8-22.4 .8-3.6 .7 16.9 .8 31.1 .8 33.5 .7 23.3 .8 4 .8-16.8 .7-31.4 .8-33.9 .8-23.4 .7-3.9 .8 17.5 .8 32.2 .7 35 .8 24.3 .8 4.3 .7-17.4 .8-32.6 .8-35.3 .7-24.5 .8-4.1 .8 18 .8 33.5 .7 36.3 .8 25.3 .8 4.7 .7-18 .8-33.7 .8-36.7 .7-25.6 .8-4.4 .8 18.5 .7 34.7 .8 37.7 .8 26.4 .7 5 .8-18.5 .8-35 .7-38.1 .8-26.6 .8-4.8 .7 19.1 .8 35.9 .8 39.1 .8 27.5 .7 5.2 .8-19 .8-36.1 .7-39.5 .8-27.7 .8-5.1 .7 19.6 .8 37 .8 40.5 .7 28.6 .8 5.6 .8-19.5 .7-37.3 .8-40.9 .8-28.7 .7-5.5 .8 20.1 .8 38.2 .7 41.9 .8 29.6 .8 6 .8-20 .7-38.5 .8-42.3 .8-29.8 .7-5.9 .8 20.6 .8 39.4 .7 43.3 .8 30.7 .8 6.4 .7-20.5 .8-39.7 .8-43.6 .7-31 .8-6.2 .8 21.1 .7 40.5 .8 44.7 .8 31.9 .7 6.7 .8-21 .8-40.8 .7-45.1 .8-32 .8-6.7 .8 21.6 .7 41.7 .8 46.1 .8 33 .7 7.1 .8-21.5 .8-41.9 .7-46.5 .8-33.2 .8-7 .7 22 .8 42.9 .8 47.5 .7 34.1 .8 7.5 .8-21.9 .7-43.1 .8-47.9 .8-34.3 .7-7.4 .8 22.4 .8 44.1 .8 48.9 .7 35.1 .8 8 .8-22.4 .7-44.2 .8-49.3 .8-35.4 .7-7.9 .8 22.9 .8 45.2 .7 50.3 .8 36.3 .8 8.4 .7-22.8 .8-45.4 .8-50.7 .7-36.5 .8-8.3 .8 23.3 .7 46.3 .8 51.7 .8 37.5 .8 8.8 .7-23.2 .8-46.6 .8-52.1 .7-37.7 .8-8.7 .8 23.8 .7 47.4 .8 53.1 .8 38.6 .7 9.3 .8-23.6 .8-47.7 .7-53.5 .8-38.8 .8-9.2 .7 24.1 .8 48.6 .8 54.5 .7 39.8 .8 9.7 .8-24 .8-48.8 .7-54.9 .8-40 .8-9.7 .7 24.6 .8 49.7 .8 55.9 .7 40.9 .8 10.2 .8-24.4 .7-49.9 .8-56.3 .8-41.2 .7-10.1 .8 24.9 .8 50.8 .7 57.3 .8 42.1 .8 10.8 .7-24.9 .8-51 .8-57.7 .7-42.4 .8-10.6 .8 25.4 .8 51.8 .7 58.8 .8 43.2 .8 11.3 .7-25.2 .8-52.1 .8-59.2 .7-43.5 .8-11.2 .8 25.8 .7 52.9 .8 60.2 .8 44.4 .7 11.8 .8-25.6 .8-53.2 .7-60.5 .8-44.7 .8-11.7 .7 26.1 .8 54 .8 61.6 .8 45.6 .7 12.3 .8-25.9 .8-54.3 .7-62 .8-45.9 .8-12.2 .7 26.4 .8 55.2 .8 63 .7 46.8 .8 12.8 .8-26.3 .7-55.3 .8-63.4 .8-47.1 .7-12.7 .8 26.7 .8 56.2 .7 64.4 .8 48.1 .8 13.3 .8-26.6 .7-56.4 .8-64.8 .8-48.3 .7-13.3 .8 27.1 .8 57.3 .7 65.8 .8 49.2 .8 13.9 .7-26.9 .8-57.5 .8-66.2 .7-49.5 .8-13.8 .8 27.3 .7 58.4 .8 67.2 .8 50.5 .7 14.4 .8-27.2 .8-58.5 .7-67.6 .8-50.8 .8-14.4 .8 27.7 .7 59.4 .8 68.6 .8 51.7 .7 15 .8-27.4 .8-59.6 .7-69.1 .8-52 .8-14.9 .7 27.9 .8 60.5 .8 70 .7 52.9 .8 15.7 .8-27.8 .7-60.7 .8-70.4 .8-53.2 .7-15.6 .8 28.2 .8 61.5 .8 71.5 .7 54.1 .8 16.3 .8-28.1 .7-61.7 .8-71.8 .8-54.5 .7-16.2 .8 28.5 .8 62.6 .7 72.8 .8 55.4 .8 16.9 .7-28.3 .8-62.7 .8-73.3 .7-55.7 .8-16.8 .8 28.7 .7 63.6 .8 74.2 .8 56.7 .8 17.5 .7-28.5 .8-63.8 .8-74.6 .7-57 .8-17.5 .8 29 .7 64.6 .8 75.7 .8 57.9 .7 18.1 .8-28.8 .8-64.7 .7-76.1 .8-58.2 .8-18.1 .7 29.2 .8 65.6 .8 77 .7 59.3 .8 18.7 .8-29 .8-65.7 .7-77.5 .8-59.5 .8-18.8 .7 29.4 .8 66.6 .8 78.5 .7 60.5 .8 19.4 .8-29.2 .7-66.7 .8-78.9 .8-60.8 .7-19.4 .8 29.6 .8 67.6 .7 79.9 .8 61.8 .8 20 .7-29.4 .8-67.7 .8-80.3 .7-62.1 .8-20.1 .8 29.8 .8 68.6 .7 81.3 .8 63.1 .8 20.7 .7-29.6 .8-68.7 .8-81.7 .7-63.4 .8-20.7 .8 30 .7 69.5 .8 82.7 .8 64.4 .7 21.4 .8-29.7 .8-69.7 .7-83.1 .8-64.7 .8-21.5 .7 30.2 .8 70.5 .8 84.1 .8 65.7 .7 22.1 .8-29.9 .8-70.7 .7-84.5 .8-66 .8-22.1 .7 30.3 .8 71.5 .8 85.5 .7 67 .8 22.8 .8-30 .7-71.7 .8-85.9 .8-67.3 .7-22.9 .8 30.5 .8 72.5 .7 86.9 .8 68.3 .8 23.5 .8-30.2 .7-72.6 .8-87.3 .8-68.6 .7-23.6 .8 30.6 .8 73.4 .7 88.3 .8 69.6 .8 24.3 .7-30.3 .8-73.6 .8-88.7 .7-69.9 .8-24.4 .8 30.8 .7 74.3 .8 89.7 .8 71 .7 25 .8-30.4 .8-74.5 .7-90.1 .8-71.3 .8-25.1 .8 30.8 .7 75.3 .8 91.1 .8 72.3 .7 25.8 .8-30.5 .8-75.4 .7-91.6 .8-72.6 .8-25.8 .7 30.9 .8 76.2 .8 92.5 .7 73.6 .8 26.6 .8-30.6 .7-76.4 .8-92.9 .8-73.9 .7-26.7 .8 31.1 .8 77.1 .8 93.9 .7 75 .8 27.3 .8-30.7 .7-77.3 .8-94.3 .8-75.3 .7-27.4 .8 31.1 .8 78 .7 95.3 .8 76.4 .8 28.1 .7-30.8 .8-78.2 .8-95.7 .7-76.6 .8-28.3 .8 31.2 .7 79 .8 96.7 .8 77.6 .8 29 .7-30.9 .8-79 .8-97.1 .7-78 .8-29.1 .8 31.3 .7 79.8 .8 98.1 .8 79 .7 29.8 .8-31 .8-79.9 .7-98.5 .8-79.3 .8-29.9 .7 31.3 .8 80.7 .8 99.5 .7 80.4 .8 30.6 .8-31 .8-80.8 .7-99.9 .8-80.7 .8-30.7 .7 31.3 .8 81.6 .8 100.8 .7 81.8 .8 31.4 .8-30.9 .7-81.7 .8-101.3" stroke="#00a800" stroke-width="3.7" fill="none" stroke-linejoin="round" stroke-dasharray="5.5 4.4"/>
<path d="M911.9 1584.7v-6.8M911.9 1223.5v6.8M940.0 1584.7v-4.2M940.0 1223.5v4.2M968.0 1584.7v-4.2M968.0 1223.5v4.2M996.1 1584.7v-4.2M996.1 1223.5v4.2M1024.2 1584.7v-6.8M1024.2 1223.5v6.8M1052.3 1584.7v-4.2M1052.3 1223.5v4.2M1080.3 1584.7v-4.2M1080.3 1223.5v4.2M1108.4 1584.7v-4.2M1108.4 1223.5v4.2M1136.5 1584.7v-6.8M1136.5 1223.5v6.8M1164.6 1584.7v-4.2M1164.6 1223.5v4.2M1192.7 1584.7v-4.2M1192.7 1223.5v4.2M1220.7 1584.7v-4.2M1220.7 1223.5v4.2M1248.8 1584.7v-6.8M1248.8 1223.5v6.8M1276.9 1584.7v-4.2M1276.9 1223.5v4.2M1305.0 1584.7v-4.2M1305.0 1223.5v4.2M1333.0 1584.7v-4.2M1333.0 1223.5v4.2M1361.1 1584.7v-6.8M1361.1 1223.5v6.8M1389.2 1584.7v-4.2M1389.2 1223.5v4.2M1417.2 1584.7v-4.2M1417.2 1223.5v4.2M1445.3 1584.7v-4.2M1445.3 1223.5v4.2M1473.4 1584.7v-6.8M1473.4 1223.5v6.8M900.2 1570.5h4.2M1484.8 1570.5h-4.2M900.2 1553.8h6.8M1484.8 1553.8h-6.8M900.2 1537.2h4.2M1484.8 1537.2h-4.2M900.2 1520.5h4.2M1484.8 1520.5h-4.2M900.2 1503.8h4.2M1484.8 1503.8h-4.2M900.2 1487.2h6.8M1484.8 1487.2h-6.8M900.2 1470.5h4.2M1484.8 1470.5h-4.2M900.2 1453.8h4.2M1484.8 1453.8h-4.2M900.2 1437.2h4.2M1484.8 1437.2h-4.2M900.2 1420.5h6.8M1484.8 1420.5h-6.8M900.2 1403.9h4.2M1484.8 1403.9h-4.2M900.2 1387.2h4.2M1484.8 1387.2h-4.2M900.2 1370.5h4.2M1484.8 1370.5h-4.2M900.2 1353.9h6.8M1484.8 1353.9h-6.8M900.2 1337.2h4.2M1484.8 1337.2h-4.2M900.2 1320.5h4.2M1484.8 1320.5h-4.2M900.2 1303.9h4.2M1484.8 1303.9h-4.2M900.2 1287.2h6.8M1484.8 1287.2h-6.8M900.2 1270.5h4.2M1484.8 1270.5h-4.2M900.2 1253.9h4.2M1484.8 1253.9h-4.2M900.2 1237.2h4.2M1484.8 1237.2h-4.2" stroke="#000" stroke-width="1.3" fill="none"/>
<rect x="900.2" y="1223.5" width="584.6" height="361.2" stroke="#000" stroke-width="1.6" fill="none"/>
<g font-family='"Liberation Sans", sans-serif' font-size="36.43"><text x="886.9" y="1297.0" text-anchor="end">0</text><text x="886.9" y="1363.7" text-anchor="end">−2</text><text x="886.9" y="1430.3" text-anchor="end">−4</text><text x="886.9" y="1497.0" text-anchor="end">−6</text><text x="886.9" y="1563.6" text-anchor="end">−8</text><text x="911.9" y="1625.5" text-anchor="middle">0</text><text x="1024.2" y="1625.5" text-anchor="middle">2</text><text x="1136.5" y="1625.5" text-anchor="middle">4</text><text x="1248.8" y="1625.5" text-anchor="middle">6</text><text x="1361.1" y="1625.5" text-anchor="middle">8</text><text x="1473.4" y="1625.5" text-anchor="middle">10</text></g>
<path d="M958.4 1254.8H998.0" stroke="#ff0000" stroke-width="3.7"/>
<text x="1007.8" y="1260.5" font-size="35.64"><tspan font-family='"Liberation Sans", sans-serif' font-style="italic">f</tspan><tspan font-family='"Liberation Sans", sans-serif' font-style="italic" font-size="24.75" dy="6.9">0</tspan><tspan dy="-6.9" font-family='"Liberation Serif", serif'>=5 deg</tspan></text>
<path d="M921.5 1445.7H996.5" stroke="#0000ff" stroke-width="3.7" stroke-dasharray="11.5 4.4"/>
<text x="1007.8" y="1451.4" font-size="35.64"><tspan font-family='"Liberation Sans", sans-serif' font-style="italic">f</tspan><tspan font-family='"Liberation Sans", sans-serif' font-style="italic" font-size="24.75" dy="6.9">0</tspan><tspan dy="-6.9" font-family='"Liberation Serif", serif'>=50 deg</tspan></text>
<path d="M921.5 1496.0H994.5" stroke="#ff8000" stroke-width="3.7" stroke-dasharray="5.5 4.5 11 4.9"/>
<text x="1007.8" y="1501.7" font-size="35.64"><tspan font-family='"Liberation Sans", sans-serif' font-style="italic">f</tspan><tspan font-family='"Liberation Sans", sans-serif' font-style="italic" font-size="24.75" dy="6.9">0</tspan><tspan dy="-6.9" font-family='"Liberation Serif", serif'>=95 deg</tspan></text>
<path d="M921.5 1546.6H996.5" stroke="#00a800" stroke-width="3.7" stroke-dasharray="5.5 4.4"/>
<text x="1007.8" y="1552.3" font-size="35.64"><tspan font-family='"Liberation Sans", sans-serif' font-style="italic">f</tspan><tspan font-family='"Liberation Sans", sans-serif' font-style="italic" font-size="24.75" dy="6.9">0</tspan><tspan dy="-6.9" font-family='"Liberation Serif", serif'>=140 deg</tspan></text>
<text x="905.8" y="1198.9" font-family='"Liberation Serif", serif' font-size="36.58">Be star−pulsar</text>
<text x="1146.5" y="1198.9" font-family='"Liberation Sans", sans-serif' font-style="italic" font-size="36.97">GS</text>
<text x="1202.1" y="1198.9" font-family='"Liberation Sans", sans-serif' font-style="italic" font-size="36.00">ε</text>
<text x="1217.7" y="1180.8" font-family='"Liberation Sans", sans-serif' font-size="25.78">2</text>
<text x="1231.8" y="1198.9" font-family='"Liberation Sans", sans-serif' font-style="italic" font-size="37.46">c</text>
<text x="1252.7" y="1180.8" font-family='"Liberation Sans", sans-serif' font-size="26.76">−2</text>
<text x="1306.7" y="1198.9" font-family='"Liberation Serif", serif' font-size="36.39">timing shift</text>
<text x="1153.7" y="1674.4" font-family='"Liberation Sans", sans-serif' font-style="italic" font-size="38.7">t</text><text x="1178.9" y="1674.4" font-family='"Liberation Serif", serif' font-size="35.4">(yr)</text>
<text transform="translate(815.0 1404.9) rotate(-90)" text-anchor="middle" font-family='"Liberation Serif", serif' font-size="38.16">Δ(<tspan font-style="italic">δτ</tspan>) (<tspan font-style="italic">μ</tspan>s)</text>
<path d="M255.7 1802.0V2160.5M367.1 1802.0V2160.5M478.4 1802.0V2160.5M589.8 1802.0V2160.5M132.7 1846.3H712.8M132.7 1902.1H712.8M132.7 2013.7H712.8M132.7 2069.5H712.8M132.7 2125.2H712.8" stroke="#b4b4b4" stroke-width="1.3" fill="none"/>
<path d="M132.7 1957.9H712.8" stroke="#000" stroke-width="1.4" fill="none"/>
<path d="M144.4 1957.9l.8 0 .7 0 .8 0 .7 0 .8 .1 .8 0 .7 .1 .8 0 .8 0 .7-.1 .8-.1 .7 0 .8 0 .8 0 .7 .2 .8 .2 .7 .1 .8 .1 .8-.1 .7-.2 .8-.2 .8-.2 .7 0 .8 .2 .7 .2 .8 .3 .8 .2 .7 .1 .8-.2 .7-.3 .8-.3 .8-.2 .7 0 .8 .2 .8 .4 .7 .4 .8 .2 .7 .1 .8-.2 .8-.4 .7-.4 .8-.3 .7 0 .8 .2 .8 .5 .7 .5 .8 .4 .8 0 .7-.3 .8-.5 .7-.5 .8-.3 .8-.1 .7 .4 .8 .6 .7 .6 .8 .4 .8 0 .7-.3 .8-.6 .8-.7 .7-.4 .8 0 .7 .4 .8 .7 .8 .7 .7 .5 .8 0 .7-.4 .8-.7 .8-.7 .7-.5 .8 0 .8 .4 .7 .8 .8 .8 .7 .6 .8 0 .8-.4 .7-.8 .8-.9 .7-.5 .8-.1 .8 .6 .7 .8 .8 1 .8 .6 .7 .1 .8-.6 .7-.9 .8-.9 .8-.6 .7-.1 .8 .6 .7 1 .8 1 .8 .7 .7 .1 .8-.6 .8-1 .7-1.1 .8-.7 .7 0 .8 .6 .8 1.1 .7 1.1 .8 .8 .7 .1 .8-.6 .8-1.2 .7-1.1 .8-.8 .8-.1 .7 .7 .8 1.2 .7 1.3 .8 .8 .8 .1 .7-.7 .8-1.2 .7-1.3 .8-.8 .8-.1 .7 .7 .8 1.3 .8 1.4 .7 .9 .8 .1 .7-.7 .8-1.3 .8-1.4 .7-.9 .8-.1 .7 .8 .8 1.4 .8 1.4 .7 1 .8 .1 .8-.8 .7-1.4 .8-1.5 .7-1 .8-.1 .8 .9 .7 1.5 .8 1.6 .7 1 .8 .2 .8-.9 .7-1.5 .8-1.6 .8-1.1 .7-.1 .8 .9 .7 1.6 .8 1.7 .8 1.1 .7 .2 .8-.9 .7-1.6 .8-1.8 .8-1.1 .7-.1 .8 .9 .8 1.7 .7 1.8 .8 1.2 .7 .2 .8-1 .8-1.7 .7-1.8 .8-1.2 .7-.2 .8 1 .8 1.8 .7 1.9 .8 1.3 .8 .2 .7-1 .8-1.8 .7-1.9 .8-1.3 .8-.2 .7 1.1 .8 1.8 .8 2.1 .7 1.3 .8 .2 .7-1 .8-1.9 .8-2.1 .7-1.4 .8-.1 .7 1.1 .8 2 .8 2.1 .7 1.4 .8 .3 .8-1.2 .7-2 .8-2.1 .7-1.5 .8-.2 .8 1.2 .7 2.1 .8 2.2 .7 1.5 .8 .3 .8-1.2 .7-2.1 .8-2.3 .8-1.5 .7-.2 .8 1.2 .7 2.2 .8 2.3 .8 1.6 .7 .3 .8-1.2 .7-2.2 .8-2.4 .8-1.6 .7-.3 .8 1.3 .8 2.3 .7 2.4 .8 1.7 .7 .3 .8-1.2 .8-2.3 .7-2.5 .8-1.7 .7-.3 .8 1.3 .8 2.4 .7 2.6 .8 1.7 .8 .3 .7-1.3 .8-2.4 .7-2.6 .8-1.7 .8-.3 .7 1.3 .8 2.5 .7 2.7 .8 1.8 .8 .4 .7-1.4 .8-2.5 .8-2.7 .7-1.9 .8-.3 .7 1.4 .8 2.6 .8 2.8 .7 1.9 .8 .4 .7-1.4 .8-2.6 .8-2.8 .7-2 .8-.3 .8 1.4 .7 2.7 .8 2.9 .7 2 .8 .4 .8-1.4 .7-2.7 .8-3 .7-2 .8-.3 .8 1.4 .7 2.8 .8 3 .8 2.1 .7 .4 .8-1.5 .7-2.7 .8-3.1 .8-2.1 .7-.4 .8 1.5 .7 2.9 .8 3.1 .8 2.2 .7 .4 .8-1.5 .8-2.9 .7-3.1 .8-2.2 .7-.4 .8 1.5 .8 3 .7 3.2 .8 2.3 .7 .5 .8-1.6 .8-3 .7-3.2 .8-2.3 .8-.5 .7 1.6 .8 3.1 .7 3.3 .8 2.4 .8 .5 .7-1.6 .8-3.1 .7-3.4 .8-2.3 .8-.5 .7 1.6 .8 3.2 .8 3.4 .7 2.5 .8 .5 .7-1.6 .8-3.2 .8-3.5 .7-2.4 .8-.5 .7 1.6 .8 3.3 .8 3.5 .7 2.6 .8 .5 .8-1.6 .7-3.3 .8-3.6 .7-2.6 .8-.5 .8 1.7 .7 3.4 .8 3.6 .7 2.7 .8 .5 .8-1.7 .7-3.3 .8-3.7 .8-2.7 .7-.5 .8 1.7 .7 3.5 .8 3.7 .8 2.8 .7 .6 .8-1.8 .7-3.4 .8-3.8 .8-2.8 .7-.6 .8 1.8 .8 3.5 .7 3.9 .8 2.9 .7 .6 .8-1.8 .8-3.5 .7-4 .8-2.8 .7-.6 .8 1.8 .8 3.6 .7 4 .8 2.9 .8 .7 .7-1.8 .8-3.6 .7-4.1 .8-2.9 .8-.6 .7 1.8 .8 3.7 .7 4.1 .8 3 .8 .7 .7-1.8 .8-3.7 .8-4.2 .7-3 .8-.7 .7 1.9 .8 3.8 .8 4.2 .7 3.1 .8 .8 .7-1.9 .8-3.8 .8-4.3 .7-3.1 .8-.7 .8 1.9 .7 3.9 .8 4.3 .7 3.2 .8 .8 .8-1.9 .7-3.9 .8-4.4 .7-3.2 .8-.8 .8 2 .7 4 .8 4.4 .8 3.3 .7 .8 .8-1.9 .7-4 .8-4.5 .8-3.3 .7-.8 .8 2 .7 4 .8 4.6 .8 3.4 .7 .8 .8-2 .8-4 .7-4.6 .8-3.4 .7-.8 .8 2 .8 4.1 .7 4.7 .8 3.5 .7 .9 .8-2.1 .8-4.1 .7-4.7 .8-3.5 .8-.9 .7 2.1 .8 4.2 .7 4.8 .8 3.5 .8 1 .7-2.1 .8-4.2 .7-4.8 .8-3.6 .8-.9 .7 2.1 .8 4.3 .8 4.9 .7 3.6 .8 1 .7-2.1 .8-4.3 .8-4.9 .7-3.7 .8-1 .7 2.1 .8 4.4 .8 5.1 .7 3.7 .8 1 .8-2.1 .7-4.4 .8-5 .7-3.8 .8-1 .8 2.1 .7 4.5 .8 5.1 .7 3.9 .8 1 .8-2.1 .7-4.5 .8-5.1 .8-3.9 .7-1.1 .8 2.2 .7 4.6 .8 5.2 .8 4 .7 1.1 .8-2.2 .7-4.6 .8-5.2 .8-4 .7-1.1 .8 2.2 .8 4.6 .7 5.4 .8 4 .7 1.2 .8-2.2 .8-4.6 .7-5.4 .8-4.1 .7-1.1 .8 2.2 .8 4.7 .7 5.5 .8 4.1 .8 1.2 .7-2.2 .8-4.7 .7-5.5 .8-4.2 .8-1.2 .7 2.3 .8 4.8 .7 5.6 .8 4.2 .8 1.2 .7-2.2 .8-4.8 .8-5.6 .7-4.3 .8-1.2 .7 2.2 .8 4.9 .8 5.7 .7 4.4 .8 1.3 .7-2.3 .8-4.9 .8-5.7 .7-4.4 .8-1.3 .8 2.3 .7 5 .8 5.8 .7 4.4 .8 1.4 .8-2.3 .7-5 .8-5.8 .7-4.5 .8-1.3 .8 2.3 .7 5.1 .8 5.9 .8 4.5 .7 1.4 .8-2.3 .7-5 .8-6 .8-4.5 .7-1.4 .8 2.3 .7 5.1 .8 6.1 .8 4.6 .7 1.4 .8-2.3 .8-5.1 .7-6.1 .8-4.6 .7-1.5 .8 2.4 .8 5.2 .7 6.1 .8 4.8 .8 1.5 .7-2.4 .8-5.2 .7-6.2 .8-4.7 .8-1.5 .7 2.3 .8 5.3 .7 6.3 .8 4.8 .8 1.6 .7-2.4 .8-5.3 .8-6.3 .7-4.8 .8-1.6 .7 2.4 .8 5.4 .8 6.4 .7 4.9 .8 1.6 .7-2.3 .8-5.4 .8-6.4 .7-5 .8-1.6 .8 2.4 .7 5.4 .8 6.5 .7 5.1 .8 1.6 .8-2.3 .7-5.5 .8-6.5 .7-5.1 .8-1.6 .8 2.4 .7 5.5 .8 6.6 .8 5.1 .7 1.7 .8-2.3 .7-5.6 .8-6.6 .8-5.2 .7-1.7 .8 2.4 .7 5.7 .8 6.7 .8 5.2 .7 1.8 .8-2.4 .8-5.7 .7-6.7 .8-5.3 .7-1.7 .8 2.4 .8 5.7 .7 6.8 .8 5.4 .7 1.8 .8-2.4 .8-5.7 .7-6.9 .8-5.3 .8-1.9 .7 2.5 .8 5.7 .7 7 .8 5.4 .8 1.9 .7-2.4 .8-5.8 .7-6.9 .8-5.5 .8-1.9 .7 2.4 .8 5.9 .8 7 .7 5.6 .8 1.9 .7-2.4 .8-5.8 .8-7.1 .7-5.6 .8-1.9 .7 2.4 .8 5.9 .8 7.2 .7 5.7 .8 2 .8-2.5 .7-5.9 .8-7.2 .7-5.7 .8-2 .8 2.5 .7 6 .8 7.3 .7 5.7 .8 2.1 .8-2.5 .7-6 .8-7.3 .8-5.8 .7-2 .8 2.4 .7 6.1 .8 7.4 .8 5.9 .7 2.1 .8-2.4 .7-6.1 .8-7.4 .8-5.9 .7-2.2 .8 2.5 .8 6.2 .7 7.5 .8 5.9 .7 2.2 .8-2.4 .8-6.2 .7-7.5 .8-6 .7-2.2 .8 2.5 .8 6.2 .7 7.6 .8 6.1 .8 2.2 .7-2.4 .8-6.2 .7-7.7 .8-6.1 .8-2.2 .7 2.4 .8 6.3 .7 7.8 .8 6.2 .8 2.3 .7-2.5 .8-6.3 .8-7.7 .7-6.3 .8-2.3 .7 2.5 .8 6.4 .8 7.8 .7 6.3 .8 2.4 .7-2.5 .8-6.4 .8-7.8 .7-6.3 .8-2.4 .8 2.5 .7 6.4 .8 8 .7 6.4 .8 2.4 .8-2.5 .7-6.4 .8-8 .7-6.4 .8-2.5 .8 2.5 .7 6.5 .8 8.1 .8 6.5 .7 2.5 .8-2.4 .7-6.6 .8-8" stroke="#ff0000" stroke-width="3.7" fill="none" stroke-linejoin="round"/>
<path d="M144.4 1957.9l.8-.2 .7-.2 .8-.2 .7 0 .8 .1 .8 .3 .7 .2 .8 0 .8-.3 .7-.6 .8-.8 .7-.5 .8-.2 .8 .3 .7 .7 .8 .8 .7 .6 .8 0 .8-.7 .7-1.2 .8-1.3 .8-.9 .7-.2 .8 .6 .7 1.3 .8 1.4 .8 1 .7 0 .8-1 .7-1.8 .8-1.9 .8-1.3 .7-.2 .8 1 .8 1.9 .7 1.9 .8 1.3 .7 .1 .8-1.4 .8-2.3 .7-2.5 .8-1.7 .7-.2 .8 1.4 .8 2.4 .7 2.5 .8 1.7 .8 .1 .7-1.7 .8-2.9 .7-3.1 .8-2 .8-.3 .7 1.7 .8 3 .7 3.1 .8 2.1 .8 .1 .7-2 .8-3.5 .8-3.6 .7-2.5 .8-.3 .7 2 .8 3.6 .8 3.7 .7 2.5 .8 .1 .7-2.4 .8-4 .8-4.2 .7-2.8 .8-.4 .8 2.4 .7 4.1 .8 4.3 .7 2.8 .8 .2 .8-2.7 .7-4.6 .8-4.8 .7-3.2 .8-.3 .8 2.6 .7 4.7 .8 4.9 .8 3.2 .7 .2 .8-3 .7-5.1 .8-5.4 .8-3.6 .7-.4 .8 2.9 .7 5.3 .8 5.5 .8 3.6 .7 .2 .8-3.3 .8-5.7 .7-6 .8-4 .7-.4 .8 3.2 .8 5.8 .7 6.1 .8 4 .7 .3 .8-3.6 .8-6.3 .7-6.5 .8-4.4 .8-.5 .7 3.6 .8 6.3 .7 6.7 .8 4.4 .8 .4 .7-4 .8-6.8 .7-7.2 .8-4.8 .8-.5 .7 3.9 .8 6.9 .8 7.2 .7 4.8 .8 .5 .7-4.3 .8-7.3 .8-7.8 .7-5.2 .8-.6 .7 4.2 .8 7.4 .8 7.9 .7 5.2 .8 .5 .8-4.5 .7-8 .8-8.3 .7-5.6 .8-.8 .8 4.5 .7 8.1 .8 8.4 .7 5.6 .8 .6 .8-4.8 .7-8.5 .8-8.9 .8-6.1 .7-.8 .8 4.8 .7 8.6 .8 9 .8 6.1 .7 .6 .8-5.1 .7-9 .8-9.5 .8-6.5 .7-.9 .8 5.1 .8 9.1 .7 9.7 .8 6.4 .7 .8 .8-5.4 .8-9.6 .7-10.1 .8-6.9 .7-1 .8 5.4 .8 9.6 .7 10.3 .8 6.9 .8 .8 .7-5.7 .8-10.1 .7-10.7 .8-7.3 .8-1.1 .7 5.6 .8 10.2 .8 10.9 .7 7.3 .8 .9 .7-5.9 .8-10.7 .8-11.3 .7-7.8 .8-1.1 .7 5.9 .8 10.7 .8 11.5 .7 7.7 .8 1 .8-6.2 .7-11.2 .8-11.9 .7-8.2 .8-1.2 .8 6.1 .7 11.3 .8 12.1 .7 8.2 .8 1.1 .8-6.5 .7-11.7 .8-12.6 .8-8.6 .7-1.3 .8 6.4 .7 11.8 .8 12.7 .8 8.6 .7 1.2 .8-6.7 .7-12.3 .8-13.1 .8-9.1 .7-1.5 .8 6.7 .8 12.4 .7 13.2 .8 9.1 .7 1.3 .8-7 .8-12.7 .7-13.8 .8-9.5 .7-1.6 .8 7 .8 12.8 .7 13.9 .8 9.5 .8 1.5 .7-7.3 .8-13.3 .7-14.4 .8-9.9 .8-1.7 .7 7.2 .8 13.4 .7 14.5 .8 9.9 .8 1.6 .7-7.5 .8-13.8 .8-15 .7-10.4 .8-1.8 .7 7.4 .8 13.9 .8 15.1 .7 10.4 .8 1.8 .7-7.8 .8-14.4 .8-15.5 .7-10.9 .8-2 .8 7.7 .7 14.5 .8 15.7 .7 10.8 .8 1.9 .8-8 .7-14.9 .8-16.2 .7-11.3 .8-2.1 .8 7.9 .7 15 .8 16.3 .8 11.3 .7 2 .8-8.2 .7-15.4 .8-16.8 .8-11.7 .7-2.3 .8 8.1 .7 15.5 .8 16.9 .8 11.8 .7 2.2 .8-8.5 .8-15.9 .7-17.4 .8-12.2 .7-2.4 .8 8.3 .8 16 .7 17.5 .8 12.3 .7 2.3 .8-8.6 .8-16.5 .7-18 .8-12.7 .8-2.6 .7 8.6 .8 16.5 .7 18.2 .8 12.7 .8 2.5 .7-8.9 .8-17 .7-18.6 .8-13.2 .8-2.7 .7 8.8 .8 17 .8 18.8 .7 13.2 .8 2.6 .7-9.1 .8-17.5 .8-19.2 .7-13.6 .8-2.9 .7 9 .8 17.5 .8 19.4 .7 13.7 .8 2.8 .8-9.4 .7-17.9 .8-19.9 .7-14.1 .8-3.1 .8 9.3 .7 18 .8 20 .7 14.2 .8 2.9 .8-9.5 .7-18.5 .8-20.4 .8-14.7 .7-3.2 .8 9.5 .7 18.5 .8 20.5 .8 14.7 .7 3.2 .8-9.8 .7-18.9 .8-21.1 .8-15.1 .7-3.4 .8 9.6 .8 19.1 .7 21.1 .8 15.2 .7 3.3 .8-9.9 .8-19.5 .7-21.7 .8-15.6 .7-3.6 .8 9.9 .8 19.5 .7 21.8 .8 15.7 .8 3.5 .7-10.2 .8-19.9 .7-22.3 .8-16.1 .8-3.8 .7 10 .8 20.1 .7 22.4 .8 16.1 .8 3.7 .7-10.3 .8-20.5 .8-22.8 .7-16.7 .8-3.9 .7 10.2 .8 20.5 .8 23 .7 16.7 .8 3.9 .7-10.5 .8-21 .8-23.5 .7-17.1 .8-4.2 .8 10.4 .7 21 .8 23.7 .7 17.1 .8 4.1 .8-10.6 .7-21.5 .8-24.1 .7-17.6 .8-4.4 .8 10.6 .7 21.5 .8 24.2 .8 17.7 .7 4.3 .8-10.9 .7-21.9 .8-24.7 .8-18.1 .7-4.6 .8 10.7 .7 22 .8 24.8 .8 18.2 .7 4.5 .8-11 .8-22.4 .7-25.3 .8-18.7 .7-4.8 .8 10.9 .8 22.5 .7 25.4 .8 18.8 .7 4.7 .8-11.2 .8-22.9 .7-25.9 .8-19.2 .8-5 .7 11 .8 23 .7 26.1 .8 19.2 .8 4.9 .7-11.3 .8-23.4 .7-26.5 .8-19.7 .8-5.3 .7 11.3 .8 23.4 .8 26.7 .7 19.7 .8 5.2 .7-11.5 .8-23.8 .8-27.2 .7-20.2 .8-5.5 .7 11.4 .8 23.9 .8 27.3 .7 20.2 .8 5.4 .8-11.6 .7-24.3 .8-27.8 .7-20.7 .8-5.7 .8 11.5 .7 24.3 .8 28 .7 20.7 .8 5.7 .8-11.8 .7-24.7 .8-28.5 .8-21.2 .7-6 .8 11.7 .7 24.8 .8 28.5 .8 21.4 .7 5.8 .8-11.8 .7-25.3 .8-29 .8-21.8 .7-6.2 .8 11.8 .8 25.3 .7 29.1 .8 21.9 .7 6.1 .8-12 .8-25.7 .7-29.7 .8-22.3 .7-6.4 .8 11.9 .8 25.7 .7 29.8 .8 22.4 .8 6.4 .7-12.2 .8-26.2 .7-30.2 .8-22.9 .8-6.7 .7 12 .8 26.2 .7 30.4 .8 23 .8 6.6 .7-12.3 .8-26.6 .8-30.9 .7-23.4 .8-6.9 .7 12.1 .8 26.7 .8 31 .7 23.5 .8 6.9 .7-12.4 .8-27.1 .8-31.5 .7-23.9 .8-7.3 .8 12.3 .7 27.1 .8 31.6 .7 24 .8 7.2 .8-12.5 .7-27.5 .8-32.1 .7-24.5 .8-7.5 .8 12.4 .7 27.5 .8 32.3 .8 24.5 .7 7.5 .8-12.6 .7-28 .8-32.7 .8-25.1 .7-7.7 .8 12.4 .7 28 .8 32.9 .8 25.1 .7 7.7 .8-12.7 .8-28.4 .7-33.3 .8-25.6 .7-8.1 .8 12.6 .8 28.4 .7 33.5 .8 25.7 .8 8 .7-12.8 .8-28.9 .7-33.9 .8-26.2 .8-8.3 .7 12.7 .8 28.8 .7 34.1 .8 26.2 .8 8.3 .7-12.9 .8-29.3 .8-34.5 .7-26.7 .8-8.7 .7 12.8 .8 29.3 .8 34.7 .7 26.8 .8 8.6 .7-13 .8-29.7 .8-35.2 .7-27.3 .8-8.9 .8 12.9 .7 29.7 .8 35.3 .7 27.4 .8 8.8 .8-13 .7-30.2 .8-35.8 .7-27.8 .8-9.2 .8 12.9 .7 30.2 .8 35.9 .8 27.9 .7 9.2 .8-13.2 .7-30.5 .8-36.4 .8-28.4 .7-9.6 .8 13 .7 30.6 .8 36.6 .8 28.4 .7 9.5 .8-13.2 .8-31 .7-37 .8-29 .7-9.8 .8 13.1 .8 31 .7 37.1 .8 29.1 .7 9.8 .8-13.3 .8-31.4 .7-37.7 .8-29.5 .8-10.1 .7 13.1 .8 31.4 .7 37.8 .8 29.6 .8 10.1 .7-13.3 .8-31.8 .7-38.3 .8-30.1 .8-10.5 .7 13.2 .8 31.9 .8 38.3 .7 30.2 .8 10.5 .7-13.4 .8-32.3 .8-38.8 .7-30.7 .8-10.8 .7 13.2 .8 32.3 .8 39 .7 30.8 .8 10.7 .8-13.4 .7-32.7 .8-39.4 .7-31.3 .8-11.1 .8 13.3 .7 32.6 .8 39.6 .7 31.4 .8 11.1 .8-13.5 .7-33.1 .8-40.1 .8-31.8 .7-11.5 .8 13.4 .7 33 .8 40.2 .8 32 .7 11.4 .8-13.5 .7-33.5 .8-40.7 .8-32.4 .7-11.8 .8 13.4 .8 33.5 .7 40.8 .8 32.5 .7 11.8 .8-13.6 .8-33.9 .7-41.3 .8-33 .7-12.1 .8 13.4 .8 33.9 .7 41.4 .8 33.1 .8 12.1 .7-13.6 .8-34.3 .7-41.9 .8-33.6 .8-12.4 .7 13.4 .8 34.3 .7 42 .8 33.7 .8 12.5 .7-13.7 .8-34.6 .8-42.5 .7-34.2 .8-12.9 .7 13.5 .8 34.6 .8 42.7 .7 34.3 .8 12.8 .7-13.7 .8-35 .8-43.1 .7-34.8 .8-13.2 .8 13.5 .7 35 .8 43.3 .7 34.9 .8 13.1 .8-13.6 .7-35.5 .8-43.7 .7-35.4 .8-13.5 .8 13.5 .7 35.4 .8 43.8 .8 35.5 .7 13.6 .8-13.7 .7-35.8 .8-44.3" stroke="#0000ff" stroke-width="3.7" fill="none" stroke-linejoin="round" stroke-dasharray="11.5 4.4"/>
<path d="M144.4 1957.9l.8 .1 .7-.1 .8 0 .7 .2 .8 .4 .8 .6 .7 .5 .8 .2 .8-.1 .7-.6 .8-.6 .7-.5 .8 0 .8 .6 .7 1.2 .8 1.2 .7 1 .8 .3 .8-.6 .7-1.3 .8-1.4 .8-1 .7 0 .8 1.1 .7 1.9 .8 2 .8 1.4 .7 .3 .8-1 .7-2 .8-2.2 .8-1.4 .7 0 .8 1.5 .8 2.6 .7 2.8 .8 1.9 .7 .2 .8-1.4 .8-2.7 .7-2.9 .8-1.9 .7-.1 .8 2 .8 3.3 .7 3.5 .8 2.4 .8 .3 .7-1.9 .8-3.4 .7-3.7 .8-2.3 .8-.1 .7 2.3 .8 4.1 .7 4.2 .8 2.9 .8 .3 .7-2.3 .8-4.1 .8-4.4 .7-2.9 .8-.1 .7 2.8 .8 4.8 .8 4.9 .7 3.4 .8 .4 .7-2.8 .8-4.8 .8-5.1 .7-3.4 .8-.1 .8 3.2 .7 5.4 .8 5.8 .7 3.8 .8 .4 .8-3.1 .7-5.6 .8-5.9 .7-3.8 .8-.2 .8 3.6 .7 6.2 .8 6.5 .8 4.3 .7 .5 .8-3.6 .7-6.3 .8-6.6 .8-4.3 .7-.3 .8 4 .7 6.9 .8 7.3 .8 4.8 .7 .5 .8-3.9 .8-7 .7-7.4 .8-4.8 .7-.3 .8 4.4 .8 7.6 .7 7.9 .8 5.4 .7 .6 .8-4.4 .8-7.7 .7-8.1 .8-5.3 .8-.4 .7 4.8 .8 8.3 .7 8.7 .8 5.8 .8 .7 .7-4.7 .8-8.4 .7-8.9 .8-5.8 .8-.5 .7 5.2 .8 9 .8 9.5 .7 6.3 .8 .8 .7-5.1 .8-9.1 .8-9.6 .7-6.4 .8-.6 .7 5.6 .8 9.7 .8 10.2 .7 6.9 .8 .9 .8-5.5 .7-9.8 .8-10.4 .7-6.9 .8-.6 .8 5.9 .7 10.4 .8 11 .7 7.4 .8 .9 .8-5.8 .7-10.5 .8-11.1 .8-7.5 .7-.7 .8 6.3 .7 11.1 .8 11.7 .8 8 .7 1 .8-6.2 .7-11.2 .8-11.9 .8-7.9 .7-.9 .8 6.7 .8 11.8 .7 12.5 .8 8.4 .7 1.2 .8-6.6 .8-11.9 .7-12.6 .8-8.5 .7-1 .8 7 .8 12.5 .7 13.3 .8 9 .8 1.3 .7-7 .8-12.6 .7-13.4 .8-9 .8-1.1 .7 7.4 .8 13.2 .8 14 .7 9.5 .8 1.4 .7-7.3 .8-13.2 .8-14.2 .7-9.5 .8-1.3 .7 7.8 .8 13.8 .8 14.8 .7 10.1 .8 1.5 .8-7.6 .7-14 .8-14.9 .7-10.1 .8-1.4 .8 8.1 .7 14.6 .8 15.5 .7 10.6 .8 1.7 .8-8 .7-14.6 .8-15.7 .8-10.7 .7-1.4 .8 8.4 .7 15.2 .8 16.3 .8 11.2 .7 1.8 .8-8.3 .7-15.4 .8-16.4 .8-11.2 .7-1.6 .8 8.7 .8 15.9 .7 17 .8 11.8 .7 2 .8-8.7 .8-16 .7-17.2 .8-11.8 .7-1.7 .8 9 .8 16.6 .7 17.8 .8 12.3 .8 2.1 .7-8.9 .8-16.7 .7-17.9 .8-12.4 .8-1.9 .7 9.3 .8 17.3 .7 18.6 .8 12.9 .8 2.2 .7-9.3 .8-17.3 .8-18.7 .7-12.9 .8-2.1 .7 9.6 .8 17.9 .8 19.4 .7 13.5 .8 2.4 .7-9.6 .8-18 .8-19.5 .7-13.5 .8-2.2 .8 10 .7 18.5 .8 20.2 .7 14 .8 2.6 .8-9.9 .7-18.6 .8-20.3 .7-14.1 .8-2.4 .8 10.2 .7 19.3 .8 20.9 .8 14.6 .7 2.8 .8-10.2 .7-19.3 .8-21 .8-14.7 .7-2.6 .8 10.5 .7 19.9 .8 21.7 .8 15.2 .7 3 .8-10.5 .8-19.9 .7-21.9 .8-15.2 .7-2.9 .8 10.9 .8 20.6 .7 22.4 .8 15.8 .7 3.2 .8-10.8 .8-20.6 .7-22.6 .8-15.9 .8-3 .7 11.2 .8 21.2 .7 23.2 .8 16.4 .8 3.4 .7-11.1 .8-21.2 .7-23.4 .8-16.5 .8-3.2 .7 11.5 .8 21.8 .8 24 .7 17 .8 3.6 .7-11.3 .8-21.9 .8-24.2 .7-17.1 .8-3.4 .7 11.7 .8 22.5 .8 24.8 .7 17.6 .8 3.8 .8-11.6 .7-22.6 .8-24.9 .7-17.7 .8-3.6 .8 12 .7 23.1 .8 25.5 .7 18.3 .8 4 .8-11.9 .7-23.2 .8-25.6 .8-18.4 .7-3.8 .8 12.2 .7 23.8 .8 26.3 .8 18.9 .7 4.2 .8-12.1 .7-23.8 .8-26.5 .8-18.9 .7-4.1 .8 12.5 .8 24.3 .7 27.1 .8 19.5 .7 4.5 .8-12.4 .8-24.4 .7-27.3 .8-19.5 .7-4.3 .8 12.7 .8 25 .7 27.9 .8 20.1 .8 4.7 .7-12.6 .8-25.1 .7-28 .8-20.2 .8-4.6 .7 13 .8 25.7 .7 28.6 .8 20.8 .8 4.9 .7-12.8 .8-25.8 .8-28.7 .7-20.9 .8-4.8 .7 13.2 .8 26.3 .8 29.4 .7 21.4 .8 5.2 .7-13.1 .8-26.3 .8-29.6 .7-21.4 .8-5.1 .8 13.4 .7 26.9 .8 30.2 .7 22.1 .8 5.4 .8-13.3 .7-26.9 .8-30.4 .7-22.1 .8-5.3 .8 13.6 .7 27.6 .8 30.9 .8 22.7 .7 5.7 .8-13.5 .7-27.6 .8-31.1 .8-22.7 .7-5.6 .8 13.8 .7 28.2 .8 31.7 .8 23.3 .7 6 .8-13.7 .8-28.2 .7-31.9 .8-23.4 .7-5.8 .8 14 .8 28.8 .7 32.5 .8 24 .7 6.2 .8-13.9 .8-28.8 .7-32.7 .8-24 .8-6.2 .7 14.3 .8 29.3 .7 33.4 .8 24.6 .8 6.5 .7-14.1 .8-29.4 .7-33.5 .8-24.7 .8-6.4 .7 14.5 .8 29.9 .8 34.1 .7 25.3 .8 6.8 .7-14.3 .8-30 .8-34.2 .7-25.4 .8-6.7 .7 14.6 .8 30.6 .8 34.9 .7 25.9 .8 7.1 .8-14.5 .7-30.5 .8-35.1 .7-26 .8-7 .8 14.8 .7 31.2 .8 35.6 .7 26.6 .8 7.4 .8-14.6 .7-31.2 .8-35.8 .8-26.7 .7-7.3 .8 15 .7 31.7 .8 36.4 .8 27.3 .7 7.8 .8-14.9 .7-31.8 .8-36.6 .8-27.3 .7-7.7 .8 15.2 .8 32.3 .7 37.3 .8 27.9 .7 8.1 .8-15.1 .8-32.3 .7-37.4 .8-28 .7-8 .8 15.4 .8 32.9 .7 38 .8 28.6 .8 8.4 .7-15.2 .8-32.9 .7-38.2 .8-28.7 .8-8.3 .7 15.5 .8 33.5 .7 38.8 .8 29.3 .8 8.7 .7-15.4 .8-33.5 .8-38.9 .7-29.4 .8-8.6 .7 15.6 .8 34.1 .8 39.6 .7 30 .8 9 .7-15.5 .8-34.1 .8-39.7 .7-30.1 .8-8.9 .8 15.8 .7 34.6 .8 40.3 .7 30.7 .8 9.4 .8-15.6 .7-34.7 .8-40.5 .7-30.8 .8-9.3 .8 16 .7 35.2 .8 41.1 .8 31.4 .7 9.7 .8-15.8 .7-35.2 .8-41.3 .8-31.5 .7-9.6 .8 16.1 .7 35.8 .8 41.9 .8 32.1 .7 10 .8-15.9 .8-35.8 .7-42 .8-32.2 .7-10 .8 16.2 .8 36.3 .7 42.7 .8 32.8 .8 10.4 .7-16 .8-36.3 .7-42.9 .8-32.9 .8-10.3 .7 16.3 .8 36.9 .7 43.4 .8 33.6 .8 10.7 .7-16.1 .8-36.9 .8-43.6 .7-33.6 .8-10.7 .7 16.4 .8 37.4 .8 44.3 .7 34.2 .8 11.1 .7-16.2 .8-37.5 .8-44.3 .7-34.4 .8-11.1 .8 16.6 .7 38 .8 45 .7 34.9 .8 11.5 .8-16.3 .7-38 .8-45.2 .7-35 .8-11.5 .8 16.7 .7 38.5 .8 45.8 .8 35.6 .7 11.9 .8-16.4 .7-38.5 .8-46 .8-35.7 .7-11.9 .8 16.7 .7 39.1 .8 46.6 .8 36.4 .7 12.2 .8-16.5 .8-39.1 .7-46.7 .8-36.5 .7-12.2 .8 16.8 .8 39.6 .7 47.4 .8 37.1 .7 12.6 .8-16.6 .8-39.6 .7-47.5 .8-37.2 .8-12.6 .7 16.9 .8 40.1 .7 48.1 .8 37.9 .8 13 .7-16.6 .8-40.2 .7-48.3 .8-37.9 .8-13 .7 16.9 .8 40.7 .8 48.9 .7 38.6 .8 13.4 .7-16.7 .8-40.7 .8-49 .7-38.7 .8-13.4 .7 17 .8 41.2 .8 49.7 .7 39.2 .8 13.9 .8-16.8 .7-41.2 .8-49.8 .7-39.4 .8-13.9 .8 17.2 .7 41.6 .8 50.5 .7 40 .8 14.3 .8-16.8 .7-41.7 .8-50.6 .8-40.2 .7-14.3 .8 17.2 .7 42.2 .8 51.2 .8 40.8 .7 14.7 .8-16.9 .7-42.2 .8-51.4 .8-40.9 .7-14.7 .8 17.2 .8 42.7 .7 52 .8 41.6 .7 15.1 .8-16.9 .8-42.8 .7-52.1 .8-41.6 .7-15.2 .8 17.3 .8 43.2 .7 52.8 .8 42.2 .8 15.6 .7-17 .8-43.2 .7-52.9 .8-42.4 .8-15.6 .7 17.3 .8 43.7 .7 53.6 .8 43 .8 16 .7-17 .8-43.7 .8-53.7 .7-43.2 .8-16 .7 17.3 .8 44.2 .8 54.3 .7 43.8 .8 16.5 .7-17.1 .8-44.2 .8-54.4 .7-43.9 .8-16.5 .8 17.3 .7 44.7 .8 55.1 .7 44.5 .8 17 .8-17.1 .7-44.7 .8-55.2 .7-44.7 .8-16.9 .8 17.4 .7 45.1 .8 55.9 .8 45.3 .7 17.4 .8-17.1 .7-45.2 .8-56" stroke="#ff8000" stroke-width="3.7" fill="none" stroke-linejoin="round" stroke-dasharray="5.5 4.5 11 4.9"/>
<path d="M144.4 1957.9l.8-.1 .7 0 .8-.1 .7 0 .8 .1 .8 .1 .7 .2 .8 0 .8-.2 .7-.2 .8-.4 .7-.3 .8 0 .8 .1 .7 .4 .8 .5 .7 .3 .8 0 .8-.3 .7-.6 .8-.6 .8-.5 .7-.1 .8 .4 .7 .7 .8 .7 .8 .5 .7 0 .8-.5 .7-.8 .8-.9 .8-.7 .7-.1 .8 .6 .8 .9 .7 1 .8 .7 .7 0 .8-.6 .8-1.2 .7-1.2 .8-.8 .7-.1 .8 .7 .8 1.2 .7 1.4 .8 .8 .8 .1 .7-.9 .8-1.4 .7-1.5 .8-1 .8-.1 .7 .8 .8 1.6 .7 1.6 .8 1 .8 .1 .7-1 .8-1.7 .8-1.8 .7-1.2 .8-.1 .7 1 .8 1.8 .8 1.9 .7 1.2 .8 .1 .7-1.1 .8-2 .8-2.1 .7-1.4 .8-.2 .8 1.2 .7 2.1 .8 2.2 .7 1.5 .8 .1 .8-1.4 .7-2.2 .8-2.4 .7-1.6 .8-.2 .8 1.4 .7 2.3 .8 2.5 .8 1.7 .7 .1 .8-1.5 .7-2.6 .8-2.6 .8-1.8 .7-.2 .8 1.5 .7 2.7 .8 2.7 .8 1.9 .7 .1 .8-1.6 .8-2.9 .7-2.9 .8-2 .7-.2 .8 1.6 .8 3 .7 3 .8 2.1 .7 .1 .8-1.8 .8-3.1 .7-3.2 .8-2.2 .8-.3 .7 1.9 .8 3.2 .7 3.3 .8 2.3 .8 .2 .7-2 .8-3.4 .7-3.5 .8-2.4 .8-.3 .7 2 .8 3.5 .8 3.6 .7 2.5 .8 .2 .7-2.1 .8-3.7 .8-3.8 .7-2.6 .8-.3 .7 2.1 .8 3.8 .8 3.9 .7 2.7 .8 .3 .8-2.3 .7-4 .8-4.1 .7-2.8 .8-.4 .8 2.3 .7 4.1 .8 4.2 .7 2.9 .8 .3 .8-2.4 .7-4.2 .8-4.5 .8-3 .7-.4 .8 2.4 .7 4.3 .8 4.6 .8 3.1 .7 .3 .8-2.5 .7-4.5 .8-4.8 .8-3.2 .7-.4 .8 2.5 .8 4.6 .7 4.9 .8 3.3 .7 .4 .8-2.7 .8-4.8 .7-5.1 .8-3.4 .7-.5 .8 2.7 .8 4.9 .7 5.2 .8 3.5 .8 .4 .7-2.8 .8-5.1 .7-5.3 .8-3.7 .8-.5 .7 2.9 .8 5.1 .8 5.5 .7 3.7 .8 .4 .7-2.9 .8-5.3 .8-5.7 .7-3.9 .8-.5 .7 3 .8 5.4 .8 5.7 .7 3.9 .8 .6 .8-3.1 .7-5.6 .8-6 .7-4.1 .8-.6 .8 3.2 .7 5.6 .8 6.1 .7 4.1 .8 .6 .8-3.2 .7-5.9 .8-6.3 .8-4.2 .7-.7 .8 3.2 .7 6 .8 6.4 .8 4.3 .7 .7 .8-3.4 .7-6.1 .8-6.6 .8-4.5 .7-.7 .8 3.3 .8 6.3 .7 6.6 .8 4.6 .7 .7 .8-3.5 .8-6.4 .7-6.9 .8-4.7 .7-.8 .8 3.5 .8 6.5 .7 7 .8 4.8 .8 .7 .7-3.6 .8-6.6 .7-7.2 .8-5 .8-.8 .7 3.6 .8 6.8 .7 7.2 .8 5.1 .8 .8 .7-3.8 .8-6.9 .8-7.5 .7-5.2 .8-.9 .7 3.8 .8 7 .8 7.6 .7 5.3 .8 .8 .7-3.8 .8-7.2 .8-7.8 .7-5.4 .8-1 .8 3.9 .7 7.2 .8 7.9 .7 5.5 .8 1 .8-4 .7-7.5 .8-8.1 .7-5.6 .8-1 .8 4 .7 7.5 .8 8.2 .8 5.7 .7 1 .8-4.1 .7-7.7 .8-8.4 .8-5.9 .7-1.1 .8 4.1 .7 7.8 .8 8.5 .8 6 .7 1.1 .8-4.2 .8-8 .7-8.7 .8-6.1 .7-1.2 .8 4.2 .8 8 .7 8.9 .8 6.1 .7 1.2 .8-4.3 .8-8.2 .7-9.1 .8-6.3 .8-1.3 .7 4.4 .8 8.3 .7 9.1 .8 6.4 .8 1.3 .7-4.5 .8-8.5 .7-9.3 .8-6.6 .8-1.3 .7 4.4 .8 8.6 .8 9.4 .7 6.7 .8 1.3 .7-4.5 .8-8.8 .8-9.6 .7-6.8 .8-1.5 .7 4.6 .8 8.8 .8 9.7 .7 6.9 .8 1.5 .8-4.7 .7-9 .8-9.9 .7-7.1 .8-1.5 .8 4.7 .7 9 .8 10.1 .7 7.1 .8 1.5 .8-4.7 .7-9.3 .8-10.2 .8-7.4 .7-1.6 .8 4.8 .7 9.3 .8 10.4 .8 7.4 .7 1.6 .8-4.9 .7-9.5 .8-10.5 .8-7.6 .7-1.7 .8 4.9 .8 9.5 .7 10.7 .8 7.6 .7 1.7 .8-4.9 .8-9.8 .7-10.8 .8-7.9 .7-1.7 .8 4.9 .8 9.8 .7 11 .8 7.9 .8 1.8 .7-5.1 .8-10 .7-11.2 .8-8 .8-1.9 .7 5.1 .8 10 .7 11.3 .8 8.1 .8 1.9 .7-5.1 .8-10.3 .8-11.5 .7-8.3 .8-1.9 .7 5.1 .8 10.3 .8 11.6 .7 8.4 .8 2 .7-5.3 .8-10.5 .8-11.7 .7-8.6 .8-2.1 .8 5.3 .7 10.5 .8 11.9 .7 8.6 .8 2.1 .8-5.3 .7-10.8 .8-12 .7-8.9 .8-2.1 .8 5.3 .7 10.8 .8 12.2 .8 8.9 .7 2.2 .8-5.4 .7-11 .8-12.4 .8-9.1 .7-2.3 .8 5.4 .7 11.1 .8 12.5 .8 9.1 .7 2.3 .8-5.5 .8-11.2 .7-12.7 .8-9.3 .7-2.4 .8 5.5 .8 11.3 .7 12.8 .8 9.4 .7 2.4 .8-5.6 .8-11.5 .7-13 .8-9.6 .8-2.5 .7 5.6 .8 11.5 .7 13.1 .8 9.7 .8 2.5 .7-5.6 .8-11.7 .7-13.4 .8-9.8 .8-2.6 .7 5.6 .8 11.8 .8 13.4 .7 10 .8 2.6 .7-5.8 .8-11.9 .8-13.6 .7-10.1 .8-2.8 .7 5.8 .8 12 .8 13.7 .7 10.2 .8 2.7 .8-5.8 .7-12.2 .8-13.9 .7-10.4 .8-2.8 .8 5.8 .7 12.2 .8 14.1 .7 10.4 .8 2.9 .8-5.9 .7-12.4 .8-14.3 .8-10.6 .7-3 .8 5.9 .7 12.5 .8 14.3 .8 10.8 .7 2.9 .8-5.9 .7-12.7 .8-14.5 .8-10.9 .7-3.1 .8 5.9 .8 12.7 .7 14.7 .8 11 .7 3.1 .8-6 .8-12.9 .7-14.9 .8-11.1 .7-3.3 .8 6 .8 13 .7 14.9 .8 11.3 .8 3.2 .7-6 .8-13.2 .7-15.1 .8-11.5 .8-3.3 .7 6 .8 13.2 .7 15.3 .8 11.5 .8 3.4 .7-6.2 .8-13.3 .8-15.5 .7-11.7 .8-3.5 .7 6.2 .8 13.4 .8 15.5 .7 11.9 .8 3.4 .7-6.2 .8-13.5 .8-15.8 .7-12 .8-3.6 .8 6.2 .7 13.6 .8 15.9 .7 12.1 .8 3.6 .8-6.3 .7-13.8 .8-16 .7-12.3 .8-3.8 .8 6.3 .7 13.8 .8 16.2 .8 12.4 .7 3.7 .8-6.3 .7-14 .8-16.4 .8-12.5 .7-3.9 .8 6.3 .7 14.1 .8 16.5 .8 12.6 .7 3.9 .8-6.4 .8-14.2 .7-16.7 .8-12.8 .7-4.1 .8 6.4 .8 14.3 .7 16.8 .8 12.9 .8 4 .7-6.4 .8-14.4 .7-17 .8-13.1 .8-4.2 .7 6.4 .8 14.5 .7 17.1 .8 13.2 .8 4.2 .7-6.5 .8-14.6 .8-17.4 .7-13.3 .8-4.3 .7 6.4 .8 14.7 .8 17.5 .7 13.4 .8 4.4 .7-6.5 .8-14.9 .8-17.7 .7-13.6 .8-4.5 .8 6.5 .7 14.9 .8 17.8 .7 13.7 .8 4.5 .8-6.5 .7-15.1 .8-18 .7-13.9 .8-4.6 .8 6.5 .7 15.1 .8 18.1 .8 14 .7 4.7 .8-6.6 .7-15.3 .8-18.3 .8-14.2 .7-4.8 .8 6.6 .7 15.3 .8 18.4 .8 14.3 .7 4.8 .8-6.6 .8-15.5 .7-18.6 .8-14.5 .7-4.9 .8 6.5 .8 15.6 .7 18.7 .8 14.6 .7 5 .8-6.7 .8-15.7 .7-18.9 .8-14.8 .8-5.1 .7 6.6 .8 15.8 .7 19 .8 14.9 .8 5.1 .7-6.7 .8-15.9 .7-19.2 .8-15.1 .8-5.2 .7 6.6 .8 16 .8 19.3 .7 15.2 .8 5.3 .7-6.8 .8-16.1 .8-19.5 .7-15.4 .8-5.4 .7 6.7 .8 16.2 .8 19.6 .7 15.5 .8 5.4 .8-6.7 .7-16.4 .8-19.8 .7-15.7 .8-5.5 .8 6.7 .7 16.4 .8 19.9 .7 15.8 .8 5.6 .8-6.8 .7-16.6 .8-20.1 .8-15.9 .7-5.8 .8 6.8 .7 16.6 .8 20.2 .8 16 .7 5.8 .8-6.8 .7-16.8 .8-20.4 .8-16.2 .7-5.9 .8 6.7 .8 16.9 .7 20.5 .8 16.3 .7 5.9 .8-6.7 .8-17 .7-20.7 .8-16.6 .7-6 .8 6.7 .8 17 .7 20.8 .8 16.7 .8 6.1 .7-6.8 .8-17.2 .7-21 .8-16.8 .8-6.3 .7 6.8 .8 17.2 .7 21.1 .8 17 .8 6.2 .7-6.8 .8-17.4 .8-21.3 .7-17.1 .8-6.4 .7 6.7 .8 17.5 .8 21.4 .7 17.2 .8 6.5 .7-6.8 .8-17.6 .8-21.6 .7-17.5 .8-6.6 .8 6.8 .7 17.6 .8 21.7 .7 17.6 .8 6.6 .8-6.8 .7-17.8 .8-21.9 .7-17.7 .8-6.8 .8 6.8 .7 17.8 .8 22 .8 17.9 .7 6.8 .8-6.9 .7-17.9 .8-22.2" stroke="#00a800" stroke-width="3.7" fill="none" stroke-linejoin="round" stroke-dasharray="5.5 4.4"/>
<path d="M144.4 2160.5v-6.8M144.4 1802.0v6.8M172.2 2160.5v-4.2M172.2 1802.0v4.2M200.1 2160.5v-4.2M200.1 1802.0v4.2M227.9 2160.5v-4.2M227.9 1802.0v4.2M255.7 2160.5v-6.8M255.7 1802.0v6.8M283.6 2160.5v-4.2M283.6 1802.0v4.2M311.4 2160.5v-4.2M311.4 1802.0v4.2M339.2 2160.5v-4.2M339.2 1802.0v4.2M367.1 2160.5v-6.8M367.1 1802.0v6.8M394.9 2160.5v-4.2M394.9 1802.0v4.2M422.8 2160.5v-4.2M422.8 1802.0v4.2M450.6 2160.5v-4.2M450.6 1802.0v4.2M478.4 2160.5v-6.8M478.4 1802.0v6.8M506.3 2160.5v-4.2M506.3 1802.0v4.2M534.1 2160.5v-4.2M534.1 1802.0v4.2M561.9 2160.5v-4.2M561.9 1802.0v4.2M589.8 2160.5v-6.8M589.8 1802.0v6.8M617.6 2160.5v-4.2M617.6 1802.0v4.2M645.4 2160.5v-4.2M645.4 1802.0v4.2M673.3 2160.5v-4.2M673.3 1802.0v4.2M701.1 2160.5v-6.8M701.1 1802.0v6.8M132.7 2158.7h4.2M712.8 2158.7h-4.2M132.7 2147.6h4.2M712.8 2147.6h-4.2M132.7 2136.4h4.2M712.8 2136.4h-4.2M132.7 2125.2h6.8M712.8 2125.2h-6.8M132.7 2114.1h4.2M712.8 2114.1h-4.2M132.7 2102.9h4.2M712.8 2102.9h-4.2M132.7 2091.8h4.2M712.8 2091.8h-4.2M132.7 2080.6h4.2M712.8 2080.6h-4.2M132.7 2069.5h6.8M712.8 2069.5h-6.8M132.7 2058.3h4.2M712.8 2058.3h-4.2M132.7 2047.1h4.2M712.8 2047.1h-4.2M132.7 2036.0h4.2M712.8 2036.0h-4.2M132.7 2024.8h4.2M712.8 2024.8h-4.2M132.7 2013.7h6.8M712.8 2013.7h-6.8M132.7 2002.5h4.2M712.8 2002.5h-4.2M132.7 1991.4h4.2M712.8 1991.4h-4.2M132.7 1980.2h4.2M712.8 1980.2h-4.2M132.7 1969.1h4.2M712.8 1969.1h-4.2M132.7 1957.9h6.8M712.8 1957.9h-6.8M132.7 1946.7h4.2M712.8 1946.7h-4.2M132.7 1935.6h4.2M712.8 1935.6h-4.2M132.7 1924.4h4.2M712.8 1924.4h-4.2M132.7 1913.3h4.2M712.8 1913.3h-4.2M132.7 1902.1h6.8M712.8 1902.1h-6.8M132.7 1891.0h4.2M712.8 1891.0h-4.2M132.7 1879.8h4.2M712.8 1879.8h-4.2M132.7 1868.7h4.2M712.8 1868.7h-4.2M132.7 1857.5h4.2M712.8 1857.5h-4.2M132.7 1846.3h6.8M712.8 1846.3h-6.8M132.7 1835.2h4.2M712.8 1835.2h-4.2M132.7 1824.0h4.2M712.8 1824.0h-4.2M132.7 1812.9h4.2M712.8 1812.9h-4.2" stroke="#000" stroke-width="1.3" fill="none"/>
<rect x="132.7" y="1802.0" width="580.1" height="358.5" stroke="#000" stroke-width="1.6" fill="none"/>
<g font-family='"Liberation Sans", sans-serif' font-size="36.80"><text x="119.3" y="1856.2" text-anchor="end">20</text><text x="119.3" y="1912.0" text-anchor="end">10</text><text x="119.3" y="1967.8" text-anchor="end">0</text><text x="119.3" y="2023.6" text-anchor="end">−10</text><text x="119.3" y="2079.4" text-anchor="end">−20</text><text x="119.3" y="2135.1" text-anchor="end">−30</text><text x="144.4" y="2201.6" text-anchor="middle">0</text><text x="255.7" y="2201.6" text-anchor="middle">2</text><text x="367.1" y="2201.6" text-anchor="middle">4</text><text x="478.4" y="2201.6" text-anchor="middle">6</text><text x="589.8" y="2201.6" text-anchor="middle">8</text><text x="701.1" y="2201.6" text-anchor="middle">10</text></g>
<path d="M158.1 1830.5H237.4" stroke="#ff0000" stroke-width="3.7"/>
<text x="252.0" y="1836.3" font-size="36.00"><tspan font-family='"Liberation Serif", serif' font-style="italic" font-size="41" style="stroke-width:1px">ϕ</tspan><tspan font-family='"Liberation Serif", serif' dx="2.0">=5 deg</tspan></text>
<path d="M158.1 1881.2H233.1" stroke="#0000ff" stroke-width="3.7" stroke-dasharray="11.5 4.4"/>
<text x="252.0" y="1887.0" font-size="36.00"><tspan font-family='"Liberation Serif", serif' font-style="italic" font-size="41" style="stroke-width:1px">ϕ</tspan><tspan font-family='"Liberation Serif", serif' dx="2.0">=50 deg</tspan></text>
<path d="M147.6 2065.0H220.6" stroke="#ff8000" stroke-width="3.7" stroke-dasharray="5.5 4.5 11 4.9"/>
<text x="244.3" y="2070.8" font-size="36.00"><tspan font-family='"Liberation Serif", serif' font-style="italic" font-size="41" style="stroke-width:1px">ϕ</tspan><tspan font-family='"Liberation Serif", serif' dx="2.0">=95 deg</tspan></text>
<path d="M147.6 2115.6H222.6" stroke="#00a800" stroke-width="3.7" stroke-dasharray="5.5 4.4"/>
<text x="244.3" y="2121.4" font-size="36.00"><tspan font-family='"Liberation Serif", serif' font-style="italic" font-size="41" style="stroke-width:1px">ϕ</tspan><tspan font-family='"Liberation Serif", serif' dx="2.0">=140 deg</tspan></text>
<text x="130.2" y="1776.2" font-family='"Liberation Serif", serif' font-size="37.37">Be star−pulsar</text>
<text x="376.1" y="1776.2" font-family='"Liberation Sans", sans-serif' font-style="italic" font-size="37.77">GS</text>
<text x="432.9" y="1776.2" font-family='"Liberation Sans", sans-serif' font-style="italic" font-size="36.78">ε</text>
<text x="448.8" y="1757.7" font-family='"Liberation Sans", sans-serif' font-size="26.34">2</text>
<text x="463.2" y="1776.2" font-family='"Liberation Sans", sans-serif' font-style="italic" font-size="38.27">c</text>
<text x="484.6" y="1757.7" font-family='"Liberation Sans", sans-serif' font-size="27.34">−2</text>
<text x="539.7" y="1776.2" font-family='"Liberation Serif", serif' font-size="37.18">timing shift</text>
<text x="382.8" y="2252.4" font-family='"Liberation Sans", sans-serif' font-style="italic" font-size="39.7">t</text><text x="408.6" y="2252.4" font-family='"Liberation Serif", serif' font-size="36.3">(yr)</text>
<text transform="translate(25.9 1981.9) rotate(-90)" text-anchor="middle" font-family='"Liberation Serif", serif' font-size="39.10">Δ(<tspan font-style="italic">δτ</tspan>) (<tspan font-style="italic">μ</tspan>s)</text>
<path d="M1039.4 1814.0V2163.0M1147.9 1814.0V2163.0M1256.3 1814.0V2163.0M1364.8 1814.0V2163.0M919.0 1819.1H1484.8M919.0 1877.9H1484.8M919.0 1995.5H1484.8M919.0 2054.3H1484.8M919.0 2113.1H1484.8" stroke="#b4b4b4" stroke-width="1.3" fill="none"/>
<path d="M919.0 1936.7H1484.8" stroke="#000" stroke-width="1.4" fill="none"/>
<path d="M930.9 1936.7l.7-.1 .8-.2 .7-.1 .8-.1 .7 .1 .8 .2 .7 .2 .7 0 .8-.3 .7-.4 .8-.6 .7-.4 .7-.2 .8 .3 .7 .5 .8 .6 .7 .4 .8 0 .7-.5 .7-.9 .8-.9 .7-.7 .8-.2 .7 .5 .7 1 .8 1 .7 .7 .8 0 .7-.8 .8-1.3 .7-1.4 .7-1 .8-.1 .7 .7 .8 1.4 .7 1.5 .8 1 .7 0 .7-1 .8-1.8 .7-1.8 .8-1.3 .7-.2 .7 1 .8 1.8 .7 2 .8 1.2 .7 0 .8-1.2 .7-2.2 .7-2.3 .8-1.5 .7-.2 .8 1.3 .7 2.2 .8 2.3 .7 1.6 .7 0 .8-1.5 .7-2.6 .8-2.7 .7-1.8 .7-.2 .8 1.5 .7 2.6 .8 2.8 .7 1.8 .8 .1 .7-1.8 .7-3 .8-3.1 .7-2.1 .8-.3 .7 1.8 .7 3 .8 3.3 .7 2.1 .8 .1 .7-2 .8-3.5 .7-3.5 .7-2.4 .8-.3 .7 2 .8 3.5 .7 3.6 .8 2.4 .7 .2 .7-2.3 .8-3.8 .7-4.1 .8-2.7 .7-.3 .7 2.3 .8 3.9 .7 4.1 .8 2.7 .7 .1 .8-2.4 .7-4.3 .7-4.5 .8-3 .7-.3 .8 2.4 .7 4.4 .8 4.5 .7 3 .7 .2 .8-2.7 .7-4.7 .8-4.9 .7-3.3 .7-.4 .8 2.7 .7 4.8 .8 5 .7 3.2 .8 .3 .7-2.9 .7-5.1 .8-5.4 .7-3.6 .8-.4 .7 2.9 .7 5.2 .8 5.4 .7 3.6 .8 .3 .7-3.2 .8-5.5 .7-5.8 .7-3.9 .8-.5 .7 3.2 .8 5.5 .7 5.9 .8 3.9 .7 .4 .7-3.4 .8-5.9 .7-6.3 .8-4.2 .7-.5 .7 3.3 .8 6 .7 6.3 .8 4.2 .7 .5 .8-3.6 .7-6.4 .7-6.7 .8-4.5 .7-.6 .8 3.6 .7 6.4 .8 6.8 .7 4.5 .7 .5 .8-3.9 .7-6.7 .8-7.1 .7-4.9 .7-.6 .8 3.8 .7 6.8 .8 7.2 .7 4.8 .8 .5 .7-4 .7-7.1 .8-7.6 .7-5.1 .8-.8 .7 4 .7 7.2 .8 7.7 .7 5.1 .8 .6 .7-4.2 .8-7.6 .7-8 .7-5.4 .8-.8 .7 4.2 .8 7.6 .7 8.1 .8 5.4 .7 .7 .7-4.4 .8-8 .7-8.4 .8-5.8 .7-.9 .7 4.4 .8 8 .7 8.6 .8 5.8 .7 .7 .8-4.6 .7-8.4 .7-8.9 .8-6.1 .7-.9 .8 4.6 .7 8.4 .8 9 .7 6.1 .7 .8 .8-4.8 .7-8.8 .8-9.4 .7-6.4 .7-1 .8 4.8 .7 8.8 .8 9.5 .7 6.4 .8 .9 .7-5 .7-9.2 .8-9.8 .7-6.8 .8-1.1 .7 5 .7 9.2 .8 9.9 .7 6.8 .8 1 .7-5.2 .8-9.6 .7-10.2 .7-7.1 .8-1.2 .7 5.2 .8 9.6 .7 10.3 .8 7.1 .7 1.1 .7-5.4 .8-10 .7-10.7 .8-7.4 .7-1.3 .7 5.4 .8 10 .7 10.8 .8 7.4 .7 1.2 .8-5.6 .7-10.3 .7-11.2 .8-7.8 .7-1.3 .8 5.5 .7 10.4 .8 11.2 .7 7.8 .7 1.3 .8-5.8 .7-10.7 .8-11.6 .7-8.1 .7-1.5 .8 5.7 .7 10.8 .8 11.7 .7 8.1 .8 1.4 .7-6 .7-11.1 .8-12.1 .7-8.4 .8-1.6 .7 5.9 .7 11.2 .8 12.2 .7 8.4 .8 1.5 .7-6.1 .8-11.5 .7-12.6 .7-8.8 .8-1.6 .7 6 .8 11.6 .7 12.6 .8 8.8 .7 1.6 .7-6.3 .8-11.9 .7-13 .8-9.1 .7-1.8 .7 6.2 .8 12 .7 13 .8 9.2 .7 1.7 .8-6.5 .7-12.2 .7-13.5 .8-9.5 .7-1.9 .8 6.4 .7 12.4 .8 13.5 .7 9.5 .7 1.8 .8-6.6 .7-12.7 .8-13.9 .7-9.8 .7-2.1 .8 6.6 .7 12.7 .8 14 .7 9.9 .8 1.9 .7-6.8 .7-13 .8-14.4 .7-10.2 .8-2.1 .7 6.7 .7 13.1 .8 14.4 .7 10.3 .8 2 .7-6.9 .8-13.4 .7-14.8 .7-10.6 .8-2.3 .7 6.9 .8 13.5 .7 14.8 .8 10.6 .7 2.2 .7-7.1 .8-13.8 .7-15.2 .8-11 .7-2.4 .7 7.1 .8 13.8 .7 15.4 .8 10.9 .7 2.4 .8-7.3 .7-14.2 .7-15.7 .8-11.3 .7-2.5 .8 7.2 .7 14.2 .8 15.8 .7 11.3 .7 2.5 .8-7.4 .7-14.6 .8-16.2 .7-11.6 .7-2.7 .8 7.3 .7 14.6 .8 16.3 .7 11.7 .8 2.6 .7-7.6 .7-14.9 .8-16.6 .7-12.1 .8-2.8 .7 7.5 .7 14.9 .8 16.8 .7 12 .8 2.8 .7-7.7 .8-15.3 .7-17.1 .7-12.4 .8-3 .7 7.7 .8 15.3 .7 17.2 .8 12.4 .7 2.9 .7-7.8 .8-15.7 .7-17.5 .8-12.8 .7-3.1 .7 7.7 .8 15.7 .7 17.6 .8 12.9 .7 3 .8-8 .7-16 .7-18 .8-13.1 .7-3.3 .8 7.9 .7 16 .8 18.1 .7 13.2 .7 3.2 .8-8.1 .7-16.4 .8-18.4 .7-13.5 .7-3.5 .8 8 .7 16.4 .8 18.6 .7 13.6 .8 3.3 .7-8.2 .7-16.7 .8-18.9 .7-14 .8-3.6 .7 8.2 .7 16.7 .8 19 .7 14 .8 3.5 .7-8.3 .8-17.1 .7-19.4 .7-14.3 .8-3.7 .7 8.2 .8 17.1 .7 19.5 .8 14.4 .7 3.6 .7-8.4 .8-17.5 .7-19.8 .8-14.7 .7-3.9 .7 8.4 .8 17.4 .7 20 .8 14.7 .7 3.9 .8-8.6 .7-17.8 .7-20.3 .8-15.1 .7-4.1 .8 8.5 .7 17.8 .8 20.4 .7 15.1 .7 4.1 .8-8.7 .7-18.2 .8-20.7 .7-15.5 .7-4.3 .8 8.6 .7 18.2 .8 20.8 .7 15.6 .8 4.2 .7-8.8 .7-18.5 .8-21.2 .7-15.9 .8-4.4 .7 8.7 .7 18.5 .8 21.3 .7 15.9 .8 4.4 .7-8.9 .8-18.8 .7-21.7 .7-16.3 .8-4.6 .7 8.8 .8 18.9 .7 21.7 .8 16.3 .7 4.6 .7-9 .8-19.2 .7-22.1 .8-16.7 .7-4.8 .7 8.9 .8 19.2 .7 22.2 .8 16.8 .7 4.7 .8-9.1 .7-19.5 .7-22.6 .8-17.1 .7-5 .8 9 .7 19.6 .8 22.7 .7 17.1 .7 4.9 .8-9.1 .7-19.9 .8-23.1 .7-17.4 .7-5.2 .8 9 .7 19.9 .8 23.2 .7 17.5 .8 5.1 .7-9.2 .7-20.2 .8-23.5 .7-17.9 .8-5.4 .7 9.1 .7 20.3 .8 23.6 .7 17.9 .8 5.4 .7-9.4 .8-20.5 .7-24 .7-18.3 .8-5.6 .7 9.2 .8 20.6 .7 24.1 .8 18.3 .7 5.6 .7-9.5 .8-20.8 .7-24.5 .8-18.7 .7-5.8 .7 9.3 .8 20.9 .7 24.6 .8 18.7 .7 5.8 .8-9.5 .7-21.2 .7-24.9 .8-19.1 .7-6 .8 9.3 .7 21.3 .8 25 .7 19.1 .7 6 .8-9.6 .7-21.5 .8-25.4 .7-19.5 .7-6.2 .8 9.4 .7 21.6 .8 25.4 .7 19.6 .8 6.2 .7-9.6 .7-21.9 .8-25.8 .7-19.9 .8-6.5 .7 9.5 .7 21.9 .8 25.9 .7 20 .8 6.4 .7-9.7 .8-22.2 .7-26.2 .7-20.4 .8-6.7 .7 9.6 .8 22.2 .7 26.4 .8 20.4 .7 6.6 .7-9.7 .8-22.6 .7-26.7 .8-20.7 .7-6.9 .7 9.6 .8 22.5 .7 26.8 .8 20.9 .7 6.8 .8-9.8 .7-22.8 .7-27.2 .8-21.2 .7-7.1 .8 9.7 .7 22.8 .8 27.3 .7 21.3 .7 7 .8-9.8 .7-23.2 .8-27.6 .7-21.6 .7-7.4 .8 9.8 .7 23.1 .8 27.7 .7 21.7 .8 7.3 .7-9.9 .7-23.4 .8-28.1 .7-22.1 .8-7.6 .7 9.8 .7 23.5 .8 28.2 .7 22.1 .8 7.6 .7-10 .8-23.8 .7-28.5 .7-22.5 .8-7.8 .7 9.8 .8 23.8 .7 28.6 .8 22.6 .7 7.8 .7-10 .8-24.1 .7-29 .8-22.9 .7-8.1 .7 9.9 .8 24.1 .7 29.1 .8 22.9 .7 8.1 .8-10.1 .7-24.4 .7-29.4 .8-23.4 .7-8.3 .8 10 .7 24.3 .8 29.6 .7 23.4 .7 8.3 .8-10.1 .7-24.7 .8-29.9 .7-23.8 .7-8.5 .8 9.9 .7 24.7 .8 30 .7 23.8 .8 8.6 .7-10.1 .7-25 .8-30.4 .7-24.2 .8-8.8 .7 10 .7 25 .8 30.4 .7 24.3 .8 8.8 .7-10.2 .8-25.2 .7-30.9 .7-24.6 .8-9.1 .7 10 .8 25.3 .7 30.9 .8 24.7 .7 9.1 .7-10.2 .8-25.5 .7-31.3 .8-25.1 .7-9.3 .7 10 .8 25.6 .7 31.3 .8 25.2 .7 9.3 .8-10.2 .7-25.9 .7-31.7 .8-25.5 .7-9.6 .8 10 .7 25.9 .8 31.8 .7 25.6 .7 9.6 .8-10.2 .7-26.2 .8-32.2 .7-25.9 .7-9.9 .8 10.1 .7 26.1 .8 32.3 .7 26.1 .8 9.8 .7-10.2 .7-26.5 .8-32.6 .7-26.4 .8-10.1 .7 10 .7 26.5 .8 32.7 .7 26.5 .8 10.1 .7-10.2 .8-26.7 .7-33.1" stroke="#ff0000" stroke-width="3.7" fill="none" stroke-linejoin="round"/>
<path d="M930.9 1936.7l.7 .1 .8-.1 .7 0 .8 .2 .7 .5 .8 .6 .7 .6 .7 .3 .8-.2 .7-.6 .8-.8 .7-.5 .7 0 .8 .7 .7 1.3 .8 1.5 .7 1.1 .8 .3 .7-.7 .7-1.4 .8-1.7 .7-1 .8-.1 .7 1.3 .7 2.1 .8 2.3 .7 1.6 .8 .3 .7-1.1 .8-2.3 .7-2.4 .7-1.7 .8 0 .7 1.7 .8 3 .7 3.1 .8 2.2 .7 .3 .7-1.7 .8-3 .7-3.3 .8-2.2 .7 0 .7 2.2 .8 3.7 .7 4 .8 2.7 .7 .4 .8-2.2 .7-3.9 .7-4.1 .8-2.7 .7-.1 .8 2.7 .7 4.6 .8 4.8 .7 3.3 .7 .4 .8-2.7 .7-4.7 .8-5 .7-3.2 .7-.1 .8 3.1 .7 5.4 .8 5.7 .7 3.8 .8 .5 .7-3.2 .7-5.5 .8-5.8 .7-3.8 .8-.2 .7 3.7 .7 6.2 .8 6.5 .7 4.4 .8 .5 .7-3.6 .8-6.4 .7-6.6 .7-4.4 .8-.2 .7 4.1 .8 7 .7 7.4 .8 4.9 .7 .5 .7-4 .8-7.2 .7-7.5 .8-4.9 .7-.3 .7 4.6 .8 7.8 .7 8.2 .8 5.5 .7 .6 .8-4.5 .7-7.9 .7-8.4 .8-5.5 .7-.4 .8 5 .7 8.7 .8 9.1 .7 6 .7 .7 .8-4.9 .7-8.8 .8-9.2 .7-6.1 .7-.4 .8 5.4 .7 9.5 .8 9.9 .7 6.6 .8 .8 .7-5.4 .7-9.5 .8-10.1 .7-6.7 .8-.5 .7 5.9 .7 10.2 .8 10.8 .7 7.3 .8 .8 .7-5.8 .8-10.4 .7-10.9 .7-7.2 .8-.7 .7 6.4 .8 11 .7 11.6 .8 7.9 .7 .9 .7-6.2 .8-11.2 .7-11.8 .8-7.8 .7-.8 .7 6.8 .8 11.8 .7 12.5 .8 8.5 .7 1.1 .8-6.7 .7-12 .7-12.6 .8-8.5 .7-.8 .8 7.1 .7 12.7 .8 13.3 .7 9.1 .7 1.2 .8-7.1 .7-12.8 .8-13.5 .7-9 .7-1 .8 7.6 .7 13.4 .8 14.2 .7 9.6 .8 1.4 .7-7.5 .7-13.6 .8-14.3 .7-9.7 .8-1.1 .7 8 .7 14.2 .8 15.1 .7 10.2 .8 1.5 .7-7.9 .8-14.3 .7-15.3 .7-10.2 .8-1.3 .7 8.4 .8 15 .7 16 .8 10.8 .7 1.6 .7-8.3 .8-15.1 .7-16.1 .8-10.9 .7-1.4 .7 8.8 .8 15.8 .7 16.8 .8 11.5 .7 1.7 .8-8.7 .7-15.9 .7-16.9 .8-11.5 .7-1.6 .8 9.2 .7 16.6 .8 17.7 .7 12.1 .7 1.9 .8-9.1 .7-16.7 .8-17.8 .7-12.2 .7-1.7 .8 9.6 .7 17.3 .8 18.6 .7 12.7 .8 2.1 .7-9.5 .7-17.4 .8-18.7 .7-12.8 .8-1.9 .7 10 .7 18.1 .8 19.4 .7 13.4 .8 2.2 .7-9.8 .8-18.2 .7-19.6 .7-13.4 .8-2 .7 10.3 .8 18.8 .7 20.3 .8 14 .7 2.4 .7-10.2 .8-18.9 .7-20.5 .8-14 .7-2.2 .7 10.6 .8 19.6 .7 21.2 .8 14.7 .7 2.6 .8-10.6 .7-19.7 .7-21.3 .8-14.8 .7-2.3 .8 11 .7 20.4 .8 22 .7 15.3 .7 2.8 .8-10.9 .7-20.5 .8-22.2 .7-15.4 .7-2.5 .8 11.3 .7 21.2 .8 22.9 .7 16 .8 2.9 .7-11.2 .7-21.3 .8-23 .7-16.1 .8-2.8 .7 11.8 .7 21.8 .8 23.8 .7 16.7 .8 3.2 .7-11.6 .8-22 .7-24 .7-16.7 .8-3 .7 12.1 .8 22.6 .7 24.7 .8 17.3 .7 3.4 .7-11.9 .8-22.7 .7-24.9 .8-17.4 .7-3.2 .7 12.4 .8 23.4 .7 25.5 .8 18.1 .7 3.5 .8-12.2 .7-23.5 .7-25.7 .8-18.1 .7-3.4 .8 12.7 .7 24.1 .8 26.5 .7 18.7 .7 3.8 .8-12.6 .7-24.2 .8-26.6 .7-18.7 .7-3.7 .8 13 .7 24.9 .8 27.3 .7 19.4 .8 4 .7-12.8 .7-25 .8-27.5 .7-19.4 .8-3.9 .7 13.3 .7 25.6 .8 28.2 .7 20.1 .8 4.3 .7-13.2 .8-25.7 .7-28.3 .7-20.2 .8-4.1 .7 13.6 .8 26.3 .7 29.1 .8 20.8 .7 4.5 .7-13.5 .8-26.4 .7-29.2 .8-20.8 .7-4.4 .7 13.9 .8 27 .7 30 .8 21.5 .7 4.8 .8-13.8 .7-27.1 .7-30.1 .8-21.6 .7-4.6 .8 14.2 .7 27.7 .8 30.9 .7 22.2 .7 5 .8-14 .7-27.9 .8-31 .7-22.2 .7-5 .8 14.5 .7 28.5 .8 31.7 .7 22.9 .8 5.4 .7-14.4 .7-28.5 .8-31.9 .7-23 .8-5.2 .7 14.8 .7 29.2 .8 32.6 .7 23.6 .8 5.6 .7-14.6 .8-29.3 .7-32.7 .7-23.7 .8-5.5 .7 15 .8 29.9 .7 33.5 .8 24.4 .7 5.9 .7-14.9 .8-30 .7-33.6 .8-24.5 .7-5.7 .7 15.3 .8 30.6 .7 34.4 .8 25 .7 6.2 .8-15.1 .7-30.7 .7-34.5 .8-25.2 .7-6 .8 15.5 .7 31.3 .8 35.3 .7 25.8 .7 6.5 .8-15.4 .7-31.4 .8-35.4 .7-25.9 .7-6.4 .8 15.8 .7 32 .8 36.2 .7 26.5 .8 6.8 .7-15.6 .7-32.1 .8-36.3 .7-26.6 .8-6.7 .7 16 .7 32.7 .8 37.1 .7 27.3 .8 7.1 .7-15.9 .8-32.7 .7-37.2 .7-27.4 .8-7 .7 16.2 .8 33.4 .7 38 .8 28 .7 7.4 .7-16 .8-33.5 .7-38.1 .8-28.1 .7-7.3 .7 16.4 .8 34.1 .7 38.8 .8 28.8 .7 7.8 .8-16.3 .7-34.1 .7-39 .8-28.9 .7-7.6 .8 16.6 .7 34.8 .8 39.7 .7 29.5 .7 8.1 .8-16.5 .7-34.8 .8-39.9 .7-29.6 .7-8 .8 16.9 .7 35.5 .8 40.6 .7 30.3 .8 8.4 .7-16.7 .7-35.5 .8-40.8 .7-30.4 .8-8.3 .7 17.1 .7 36.1 .8 41.5 .7 31.1 .8 8.7 .7-16.9 .8-36.1 .7-41.7 .7-31.1 .8-8.7 .7 17.3 .8 36.8 .7 42.3 .8 31.9 .7 9.1 .7-17.1 .8-36.8 .7-42.6 .8-31.9 .7-9 .7 17.4 .8 37.5 .7 43.2 .8 32.6 .7 9.6 .8-17.3 .7-37.5 .7-43.4 .8-32.8 .7-9.4 .8 17.7 .7 38.1 .8 44.1 .7 33.4 .7 9.9 .8-17.4 .7-38.2 .8-44.3 .7-33.5 .7-9.8 .8 17.8 .7 38.8 .8 45 .7 34.2 .8 10.3 .7-17.7 .7-38.8 .8-45.2 .7-34.2 .8-10.2 .7 18 .7 39.4 .8 45.9 .7 35 .8 10.6 .7-17.8 .8-39.4 .7-46.1 .7-35.1 .8-10.5 .7 18.1 .8 40.1 .7 46.8 .8 35.7 .7 11.1 .7-18 .8-40.1 .7-46.9 .8-35.9 .7-10.9 .7 18.2 .8 40.7 .7 47.7 .8 36.6 .7 11.4 .8-18.1 .7-40.7 .7-47.9 .8-36.6 .7-11.4 .8 18.5 .7 41.3 .8 48.6 .7 37.3 .7 11.9 .8-18.2 .7-41.4 .8-48.8 .7-37.4 .7-11.8 .8 18.6 .7 42 .8 49.4 .7 38.2 .8 12.2 .7-18.3 .7-42 .8-49.7 .7-38.2 .8-12.2 .7 18.7 .7 42.6 .8 50.3 .7 39 .8 12.7 .7-18.5 .8-42.6 .7-50.6 .7-39 .8-12.6 .7 18.8 .8 43.2 .7 51.3 .8 39.7 .7 13.1 .7-18.6 .8-43.2 .7-51.4 .8-39.9 .7-13.1 .7 19 .8 43.8 .7 52.2 .8 40.5 .7 13.6 .8-18.7 .7-43.9 .7-52.3 .8-40.7 .7-13.5 .8 19.1 .7 44.4 .8 53 .7 41.4 .7 14 .8-18.8 .7-44.5 .8-53.1 .7-41.6 .7-13.9 .8 19.2 .7 45 .8 53.9 .7 42.2 .8 14.5 .7-18.9 .7-45.1 .8-54.1 .7-42.3 .8-14.4 .7 19.2 .7 45.7 .8 54.8 .7 43 .8 14.9 .7-19 .8-45.7 .7-54.9 .7-43.2 .8-14.8 .7 19.3 .8 46.3 .7 55.6 .8 43.9 .7 15.4 .7-19.1 .8-46.3 .7-55.8 .8-44 .7-15.3 .7 19.4 .8 46.8 .7 56.6 .8 44.7 .7 15.8 .8-19.1 .7-46.9 .7-56.7 .8-44.9 .7-15.7 .8 19.4 .7 47.5 .8 57.4 .7 45.6 .7 16.3 .8-19.3 .7-47.4 .8-57.6 .7-45.7 .7-16.3 .8 19.6 .7 48 .8 58.3 .7 46.4 .8 16.8 .7-19.3 .7-48 .8-58.5 .7-46.5 .8-16.8 .7 19.6 .7 48.6 .8 59.2 .7 47.3 .8 17.2 .7-19.3 .8-48.6 .7-59.3 .7-47.4 .8-17.3 .7 19.7 .8 49.1 .7 60.1 .8 48.1 .7 17.8 .7-19.4 .8-49.2 .7-60.2 .8-48.2 .7-17.8 .7 19.7 .8 49.7 .7 61 .8 48.9 .7 18.3 .8-19.4 .7-49.7 .7-61.1 .8-49.1 .7-18.3 .8 19.7 .7 50.3 .8 61.9 .7 49.8 .7 18.8 .8-19.5 .7-50.3 .8-62 .7-49.9 .7-18.8 .8 19.7 .7 50.9 .8 62.7 .7 50.7 .8 19.3 .7-19.5 .7-50.8 .8-62.9 .7-50.8 .8-19.3 .7 19.8 .7 51.4 .8 63.6 .7 51.5 .8 19.8 .7-19.5 .8-51.4 .7-63.7" stroke="#0000ff" stroke-width="3.7" fill="none" stroke-linejoin="round" stroke-dasharray="11.5 4.4"/>
<path d="M930.9 1936.7l.7-.1 .8 0 .7-.1 .8 0 .7 0 .8 .1 .7 .1 .7 0 .8-.1 .7-.3 .8-.2 .7-.2 .7-.1 .8 .1 .7 .3 .8 .3 .7 .2 .8 0 .7-.3 .7-.4 .8-.5 .7-.3 .8-.1 .7 .2 .7 .5 .8 .5 .7 .3 .8 .1 .7-.4 .8-.6 .7-.7 .7-.5 .8-.1 .7 .4 .8 .6 .7 .8 .8 .4 .7 0 .7-.5 .8-.8 .7-.9 .8-.6 .7-.1 .7 .5 .8 .9 .7 .9 .8 .6 .7 0 .8-.6 .7-1 .7-1.1 .8-.8 .7-.1 .8 .6 .7 1.1 .8 1.1 .7 .8 .7 0 .8-.7 .7-1.3 .8-1.3 .7-.9 .7-.1 .8 .8 .7 1.2 .8 1.4 .7 .9 .8 0 .7-.8 .7-1.5 .8-1.5 .7-1 .8-.2 .7 .9 .7 1.5 .8 1.5 .7 1 .8 .1 .7-1 .8-1.6 .7-1.8 .7-1.1 .8-.2 .7 1 .8 1.7 .7 1.8 .8 1.1 .7 .1 .7-1.1 .8-1.9 .7-1.9 .8-1.3 .7-.2 .7 1.1 .8 1.9 .7 2 .8 1.3 .7 .1 .8-1.2 .7-2.1 .7-2.1 .8-1.5 .7-.2 .8 1.2 .7 2.1 .8 2.2 .7 1.5 .7 .1 .8-1.3 .7-2.3 .8-2.4 .7-1.6 .7-.2 .8 1.3 .7 2.3 .8 2.4 .7 1.6 .8 .2 .7-1.5 .7-2.4 .8-2.6 .7-1.7 .8-.3 .7 1.4 .7 2.5 .8 2.7 .7 1.7 .8 .1 .7-1.5 .8-2.6 .7-2.8 .7-1.9 .8-.3 .7 1.6 .8 2.6 .7 2.9 .8 1.9 .7 .1 .7-1.6 .8-2.9 .7-3 .8-2 .7-.3 .7 1.7 .8 2.8 .7 3.1 .8 2 .7 .2 .8-1.7 .7-3.1 .7-3.2 .8-2.2 .7-.3 .8 1.8 .7 3 .8 3.3 .7 2.2 .7 .2 .8-1.8 .7-3.3 .8-3.4 .7-2.4 .7-.3 .8 1.9 .7 3.2 .8 3.5 .7 2.4 .8 .2 .7-1.9 .7-3.5 .8-3.6 .7-2.5 .8-.4 .7 2 .7 3.4 .8 3.7 .7 2.5 .8 .3 .7-2 .8-3.7 .7-3.9 .7-2.6 .8-.4 .7 2.1 .8 3.6 .7 3.9 .8 2.7 .7 .3 .7-2.1 .8-3.9 .7-4.1 .8-2.8 .7-.4 .7 2.1 .8 3.9 .7 4.2 .8 2.8 .7 .3 .8-2.2 .7-4.1 .7-4.3 .8-2.9 .7-.5 .8 2.2 .7 4.1 .8 4.4 .7 2.9 .7 .4 .8-2.3 .7-4.3 .8-4.5 .7-3.1 .7-.5 .8 2.3 .7 4.3 .8 4.6 .7 3.1 .8 .4 .7-2.4 .7-4.5 .8-4.7 .7-3.3 .8-.5 .7 2.4 .7 4.5 .8 4.8 .7 3.2 .8 .5 .7-2.5 .8-4.6 .7-5 .7-3.4 .8-.6 .7 2.5 .8 4.6 .7 5 .8 3.5 .7 .5 .7-2.6 .8-4.8 .7-5.2 .8-3.6 .7-.6 .7 2.6 .8 4.8 .7 5.2 .8 3.6 .7 .6 .8-2.7 .7-5 .7-5.4 .8-3.8 .7-.6 .8 2.7 .7 5 .8 5.4 .7 3.8 .7 .6 .8-2.8 .7-5.2 .8-5.6 .7-3.9 .7-.7 .8 2.7 .7 5.3 .8 5.6 .7 3.9 .8 .7 .7-2.9 .7-5.3 .8-5.9 .7-4.1 .8-.7 .7 2.8 .7 5.4 .8 5.9 .7 4.1 .8 .7 .7-3 .8-5.5 .7-6.1 .7-4.2 .8-.8 .7 2.9 .8 5.6 .7 6.1 .8 4.2 .7 .8 .7-3 .8-5.8 .7-6.3 .8-4.4 .7-.9 .7 3.1 .8 5.7 .7 6.4 .8 4.4 .7 .8 .8-3.1 .7-6 .7-6.5 .8-4.5 .7-1 .8 3.1 .7 6 .8 6.5 .7 4.6 .7 .9 .8-3.2 .7-6.1 .8-6.7 .7-4.8 .7-1 .8 3.2 .7 6.1 .8 6.8 .7 4.8 .8 .9 .7-3.3 .7-6.3 .8-6.9 .7-4.9 .8-1.1 .7 3.3 .7 6.3 .8 7 .7 4.9 .8 1 .7-3.3 .8-6.5 .7-7.2 .7-5.1 .8-1.1 .7 3.3 .8 6.5 .7 7.2 .8 5.2 .7 1 .7-3.4 .8-6.7 .7-7.4 .8-5.2 .7-1.2 .7 3.4 .8 6.7 .7 7.4 .8 5.3 .7 1.1 .8-3.5 .7-6.8 .7-7.6 .8-5.5 .7-1.2 .8 3.5 .7 6.8 .8 7.7 .7 5.4 .7 1.2 .8-3.5 .7-7.1 .8-7.8 .7-5.6 .7-1.3 .8 3.5 .7 7.1 .8 7.8 .7 5.7 .8 1.2 .7-3.6 .7-7.2 .8-8.1 .7-5.8 .8-1.3 .7 3.6 .7 7.2 .8 8.1 .7 5.8 .8 1.3 .7-3.7 .8-7.4 .7-8.2 .7-6 .8-1.5 .7 3.7 .8 7.4 .7 8.3 .8 6 .7 1.5 .7-3.8 .8-7.6 .7-8.5 .8-6.2 .7-1.5 .7 3.8 .8 7.6 .7 8.5 .8 6.2 .7 1.5 .8-3.9 .7-7.7 .7-8.7 .8-6.4 .7-1.6 .8 3.8 .7 7.8 .8 8.7 .7 6.4 .7 1.6 .8-4 .7-7.9 .8-8.9 .7-6.5 .7-1.7 .8 3.9 .7 7.9 .8 9 .7 6.5 .8 1.7 .7-4 .7-8.1 .8-9.1 .7-6.8 .8-1.7 .7 3.9 .7 8.1 .8 9.2 .7 6.8 .8 1.7 .7-4.1 .8-8.2 .7-9.4 .7-6.9 .8-1.8 .7 4 .8 8.2 .7 9.5 .8 6.9 .7 1.8 .7-4.1 .8-8.4 .7-9.6 .8-7.1 .7-1.9 .7 4 .8 8.5 .7 9.6 .8 7.1 .7 1.9 .8-4.2 .7-8.6 .7-9.8 .8-7.3 .7-2 .8 4.1 .7 8.7 .8 9.8 .7 7.3 .7 2 .8-4.2 .7-8.8 .8-10 .7-7.5 .7-2.1 .8 4.2 .7 8.8 .8 10.1 .7 7.5 .8 2 .7-4.3 .7-8.9 .8-10.3 .7-7.6 .8-2.2 .7 4.2 .7 9 .8 10.3 .7 7.7 .8 2.1 .7-4.3 .8-9.1 .7-10.5 .7-7.9 .8-2.2 .7 4.3 .8 9.1 .7 10.5 .8 7.9 .7 2.2 .7-4.3 .8-9.3 .7-10.7 .8-8.1 .7-2.3 .7 4.3 .8 9.3 .7 10.7 .8 8.1 .7 2.3 .8-4.4 .7-9.4 .7-10.9 .8-8.3 .7-2.4 .8 4.3 .7 9.5 .8 10.9 .7 8.3 .7 2.4 .8-4.4 .7-9.6 .8-11.2 .7-8.4 .7-2.5 .8 4.4 .7 9.6 .8 11.2 .7 8.4 .8 2.5 .7-4.5 .7-9.7 .8-11.4 .7-8.6 .8-2.6 .7 4.4 .7 9.8 .8 11.4 .7 8.6 .8 2.6 .7-4.5 .8-9.9 .7-11.6 .7-8.9 .8-2.7 .7 4.5 .8 9.9 .7 11.7 .8 8.8 .7 2.7 .7-4.5 .8-10.1 .7-11.8 .8-9.1 .7-2.8 .7 4.5 .8 10.1 .7 11.9 .8 9.1 .7 2.7 .8-4.6 .7-10.2 .7-12 .8-9.3 .7-2.9 .8 4.6 .7 10.2 .8 12.1 .7 9.3 .7 2.8 .8-4.6 .7-10.4 .8-12.3 .7-9.4 .7-3 .8 4.6 .7 10.4 .8 12.3 .7 9.5 .8 3 .7-4.7 .7-10.6 .8-12.5 .7-9.6 .8-3.1 .7 4.6 .7 10.6 .8 12.5 .7 9.7 .8 3.1 .7-4.7 .8-10.8 .7-12.7 .7-9.8 .8-3.2 .7 4.6 .8 10.7 .7 12.8 .8 9.9 .7 3.2 .7-4.8 .8-10.8 .7-13 .8-10 .7-3.3 .7 4.6 .8 10.9 .7 13 .8 10.1 .7 3.3 .8-4.8 .7-11 .7-13.2 .8-10.2 .7-3.5 .8 4.7 .7 11.1 .8 13.2 .7 10.2 .7 3.5 .8-4.8 .7-11.2 .8-13.4 .7-10.4 .7-3.6 .8 4.8 .7 11.1 .8 13.5 .7 10.4 .8 3.6 .7-4.8 .7-11.4 .8-13.6 .7-10.6 .8-3.7 .7 4.8 .7 11.3 .8 13.6 .7 10.7 .8 3.7 .7-4.8 .8-11.5 .7-13.8 .7-10.9 .8-3.8 .7 4.8 .8 11.5 .7 13.8 .8 10.9 .7 3.8 .7-4.9 .8-11.6 .7-14 .8-11.1 .7-3.9 .7 4.8 .8 11.6 .7 14.1 .8 11.1 .7 3.9 .8-4.9 .7-11.8 .7-14.2 .8-11.3 .7-4 .8 4.8 .7 11.8 .8 14.3 .7 11.3 .7 4 .8-4.9 .7-11.9 .8-14.5 .7-11.5 .7-4.1 .8 4.8 .7 11.9 .8 14.5 .7 11.6 .8 4.1 .7-4.9 .7-12.1 .8-14.7 .7-11.7 .8-4.2 .7 4.8 .7 12.1 .8 14.7 .7 11.7 .8 4.3 .7-4.9 .8-12.2 .7-14.9 .7-12 .8-4.3 .7 4.8 .8 12.2 .7 15 .8 11.9 .7 4.4 .7-4.9 .8-12.4 .7-15.1 .8-12.1 .7-4.6 .7 4.9 .8 12.4 .7 15.1 .8 12.2 .7 4.5 .8-4.9 .7-12.5 .7-15.4 .8-12.3 .7-4.7 .8 4.9 .7 12.5 .8 15.4 .7 12.4 .7 4.6 .8-4.9 .7-12.7 .8-15.5 .7-12.6 .7-4.8 .8 4.9 .7 12.6 .8 15.6 .7 12.6 .8 4.8 .7-4.9 .7-12.8 .8-15.8 .7-12.8 .8-4.9 .7 4.9 .7 12.8 .8 15.8 .7 12.8 .8 4.9 .7-4.9 .8-13 .7-16" stroke="#ff8000" stroke-width="3.7" fill="none" stroke-linejoin="round" stroke-dasharray="5.5 4.5 11 4.9"/>
<path d="M930.9 1936.7l.7-.1 .8-.2 .7-.1 .8-.1 .7 .1 .8 .2 .7 .2 .7 0 .8-.2 .7-.5 .8-.6 .7-.4 .7-.1 .8 .2 .7 .5 .8 .7 .7 .4 .8 0 .7-.5 .7-.9 .8-1 .7-.7 .8-.2 .7 .6 .7 .9 .8 1.1 .7 .7 .8 0 .7-.7 .8-1.4 .7-1.4 .7-1 .8-.2 .7 .8 .8 1.4 .7 1.5 .8 1 .7 .1 .7-1.1 .8-1.7 .7-1.9 .8-1.3 .7-.2 .7 1 .8 1.9 .7 1.9 .8 1.3 .7 .1 .8-1.3 .7-2.2 .7-2.3 .8-1.6 .7-.2 .8 1.3 .7 2.3 .8 2.4 .7 1.5 .7 .1 .8-1.5 .7-2.7 .8-2.8 .7-1.8 .7-.2 .8 1.5 .7 2.7 .8 2.9 .7 1.8 .8 .1 .7-1.8 .7-3 .8-3.3 .7-2.1 .8-.3 .7 1.8 .7 3.2 .8 3.3 .7 2.1 .8 .1 .7-2 .8-3.5 .7-3.7 .7-2.4 .8-.3 .7 2 .8 3.6 .7 3.8 .8 2.4 .7 .2 .7-2.3 .8-3.9 .7-4.2 .8-2.7 .7-.3 .7 2.3 .8 4 .7 4.2 .8 2.7 .7 .2 .8-2.5 .7-4.4 .7-4.5 .8-3.1 .7-.3 .8 2.5 .7 4.4 .8 4.6 .7 3.1 .7 .2 .8-2.7 .7-4.8 .8-5 .7-3.4 .7-.4 .8 2.8 .7 4.8 .8 5.1 .7 3.4 .8 .3 .7-3 .7-5.2 .8-5.5 .7-3.7 .8-.4 .7 3 .7 5.3 .8 5.5 .7 3.7 .8 .3 .7-3.2 .8-5.7 .7-5.9 .7-3.9 .8-.5 .7 3.2 .8 5.7 .7 6 .8 4 .7 .3 .7-3.4 .8-6.1 .7-6.3 .8-4.3 .7-.6 .7 3.5 .8 6.1 .7 6.4 .8 4.3 .7 .5 .8-3.7 .7-6.5 .7-6.8 .8-4.6 .7-.6 .8 3.6 .7 6.6 .8 6.9 .7 4.6 .7 .5 .8-3.9 .7-6.9 .8-7.3 .7-4.9 .7-.6 .8 3.8 .7 7 .8 7.3 .7 5 .8 .5 .7-4.1 .7-7.3 .8-7.7 .7-5.2 .8-.8 .7 4.1 .7 7.4 .8 7.8 .7 5.3 .8 .6 .7-4.3 .8-7.8 .7-8.1 .7-5.6 .8-.8 .7 4.3 .8 7.8 .7 8.2 .8 5.6 .7 .7 .7-4.5 .8-8.1 .7-8.7 .8-5.9 .7-.9 .7 4.5 .8 8.2 .7 8.8 .8 5.9 .7 .8 .8-4.8 .7-8.5 .7-9.1 .8-6.2 .7-1 .8 4.7 .7 8.6 .8 9.2 .7 6.3 .7 .8 .8-4.9 .7-9 .8-9.5 .7-6.6 .7-1 .8 4.9 .7 9 .8 9.6 .7 6.6 .8 1 .7-5.2 .7-9.3 .8-10.1 .7-6.9 .8-1.1 .7 5.1 .7 9.4 .8 10.1 .7 7 .8 1 .7-5.3 .8-9.8 .7-10.5 .7-7.2 .8-1.2 .7 5.3 .8 9.8 .7 10.6 .8 7.2 .7 1.2 .7-5.6 .8-10.1 .7-11 .8-7.6 .7-1.3 .7 5.5 .8 10.2 .7 11.1 .8 7.6 .7 1.2 .8-5.7 .7-10.6 .7-11.4 .8-7.9 .7-1.4 .8 5.6 .7 10.7 .8 11.5 .7 7.9 .7 1.3 .8-5.9 .7-10.9 .8-11.9 .7-8.3 .7-1.5 .8 5.9 .7 11 .8 12 .7 8.3 .8 1.4 .7-6.1 .7-11.4 .8-12.3 .7-8.6 .8-1.6 .7 6 .7 11.4 .8 12.5 .7 8.6 .8 1.5 .7-6.2 .8-11.8 .7-12.8 .7-9 .8-1.7 .7 6.2 .8 11.9 .7 12.8 .8 9.1 .7 1.6 .7-6.4 .8-12.2 .7-13.3 .8-9.3 .7-1.8 .7 6.4 .8 12.2 .7 13.3 .8 9.4 .7 1.8 .8-6.7 .7-12.5 .7-13.7 .8-9.7 .7-2 .8 6.6 .7 12.6 .8 13.8 .7 9.7 .7 1.9 .8-6.8 .7-12.9 .8-14.2 .7-10.1 .7-2 .8 6.7 .7 13 .8 14.3 .7 10.1 .8 2 .7-7 .7-13.3 .8-14.7 .7-10.4 .8-2.2 .7 6.9 .7 13.4 .8 14.7 .7 10.5 .8 2.1 .7-7.1 .8-13.7 .7-15.1 .7-10.8 .8-2.4 .7 7.1 .8 13.8 .7 15.2 .8 10.8 .7 2.3 .7-7.3 .8-14.1 .7-15.6 .8-11.1 .7-2.5 .7 7.2 .8 14.1 .7 15.7 .8 11.2 .7 2.4 .8-7.4 .7-14.5 .7-16 .8-11.6 .7-2.6 .8 7.4 .7 14.5 .8 16.2 .7 11.6 .7 2.5 .8-7.6 .7-14.8 .8-16.6 .7-11.9 .7-2.7 .8 7.5 .7 14.9 .8 16.6 .7 12 .8 2.6 .7-7.7 .7-15.2 .8-17 .7-12.3 .8-2.9 .7 7.7 .7 15.3 .8 17 .7 12.4 .8 2.8 .7-7.9 .8-15.6 .7-17.4 .7-12.7 .8-3 .7 7.8 .8 15.6 .7 17.6 .8 12.7 .7 3 .7-8 .8-16 .7-18 .8-13 .7-3.2 .7 7.9 .8 16.1 .7 18 .8 13.1 .7 3.1 .8-8.1 .7-16.4 .7-18.4 .8-13.4 .7-3.4 .8 8.1 .7 16.4 .8 18.5 .7 13.5 .7 3.3 .8-8.3 .7-16.7 .8-18.9 .7-13.8 .7-3.5 .8 8.2 .7 16.8 .8 18.9 .7 13.9 .8 3.4 .7-8.4 .7-17.1 .8-19.3 .7-14.2 .8-3.7 .7 8.3 .7 17.2 .8 19.4 .7 14.3 .8 3.6 .7-8.5 .8-17.5 .7-19.8 .7-14.6 .8-3.8 .7 8.4 .8 17.5 .7 19.9 .8 14.7 .7 3.8 .7-8.7 .8-17.8 .7-20.3 .8-15 .7-4 .7 8.6 .8 17.8 .7 20.4 .8 15.1 .7 3.9 .8-8.7 .7-18.2 .7-20.8 .8-15.4 .7-4.1 .8 8.6 .7 18.2 .8 20.9 .7 15.4 .7 4.2 .8-8.9 .7-18.5 .8-21.2 .7-15.8 .7-4.4 .8 8.8 .7 18.6 .8 21.3 .7 15.8 .8 4.3 .7-8.9 .7-18.9 .8-21.7 .7-16.2 .8-4.6 .7 8.9 .7 19 .8 21.7 .7 16.3 .8 4.5 .7-9.1 .8-19.2 .7-22.2 .7-16.6 .8-4.7 .7 9 .8 19.3 .7 22.2 .8 16.7 .7 4.7 .7-9.2 .8-19.6 .7-22.6 .8-17.1 .7-4.9 .7 9.1 .8 19.6 .7 22.8 .8 17 .7 4.9 .8-9.3 .7-19.9 .7-23.1 .8-17.4 .7-5.1 .8 9.1 .7 20 .8 23.2 .7 17.5 .7 5.1 .8-9.4 .7-20.3 .8-23.6 .7-17.8 .7-5.3 .8 9.3 .7 20.3 .8 23.7 .7 17.9 .8 5.2 .7-9.4 .7-20.7 .8-24 .7-18.3 .8-5.5 .7 9.4 .7 20.7 .8 24.1 .7 18.3 .8 5.5 .7-9.5 .8-21 .7-24.5 .7-18.7 .8-5.7 .7 9.4 .8 21 .7 24.6 .8 18.8 .7 5.7 .7-9.7 .8-21.3 .7-25 .8-19.1 .7-5.9 .7 9.5 .8 21.4 .7 25.1 .8 19.1 .7 5.9 .8-9.7 .7-21.7 .7-25.4 .8-19.5 .7-6.1 .8 9.6 .7 21.7 .8 25.5 .7 19.6 .7 6.1 .8-9.8 .7-22 .8-25.9 .7-19.9 .7-6.4 .8 9.7 .7 22 .8 26 .7 20 .8 6.3 .7-9.8 .7-22.3 .8-26.4 .7-20.4 .8-6.6 .7 9.8 .7 22.3 .8 26.5 .7 20.4 .8 6.6 .7-9.9 .8-22.7 .7-26.8 .7-20.8 .8-6.8 .7 9.8 .8 22.7 .7 26.9 .8 20.9 .7 6.8 .7-10 .8-23 .7-27.3 .8-21.2 .7-7.1 .7 9.9 .8 23 .7 27.4 .8 21.3 .7 7 .8-10 .7-23.3 .7-27.8 .8-21.7 .7-7.2 .8 9.9 .7 23.3 .8 27.9 .7 21.7 .7 7.3 .8-10.1 .7-23.7 .8-28.2 .7-22.1 .7-7.5 .8 10 .7 23.6 .8 28.4 .7 22.1 .8 7.5 .7-10.1 .7-24 .8-28.7 .7-22.5 .8-7.8 .7 10.1 .7 24 .8 28.8 .7 22.6 .8 7.7 .7-10.2 .8-24.3 .7-29.2 .7-22.9 .8-8 .7 10.1 .8 24.3 .7 29.2 .8 23.1 .7 7.9 .7-10.2 .8-24.6 .7-29.6 .8-23.4 .7-8.3 .7 10.1 .8 24.7 .7 29.7 .8 23.5 .7 8.2 .8-10.3 .7-24.9 .7-30.1 .8-23.8 .7-8.5 .8 10.1 .7 25 .8 30.2 .7 23.9 .7 8.5 .8-10.4 .7-25.2 .8-30.5 .7-24.3 .7-8.8 .8 10.2 .7 25.2 .8 30.7 .7 24.4 .8 8.7 .7-10.3 .7-25.6 .8-31 .7-24.7 .8-9 .7 10.2 .7 25.5 .8 31.2 .7 24.8 .8 9 .7-10.4 .8-25.8 .7-31.5 .7-25.2 .8-9.3 .7 10.3 .8 25.8 .7 31.6 .8 25.3 .7 9.2 .7-10.4 .8-26.1 .7-32 .8-25.6 .7-9.5 .7 10.2 .8 26.2 .7 32 .8 25.7 .7 9.6 .8-10.4 .7-26.5 .7-32.4 .8-26.1 .7-9.8 .8 10.3 .7 26.4 .8 32.6 .7 26.1 .7 9.8 .8-10.4 .7-26.7 .8-32.9 .7-26.6 .7-10 .8 10.3 .7 26.7 .8 33 .7 26.6 .8 10.1 .7-10.5 .7-27 .8-33.3 .7-27 .8-10.4 .7 10.3 .7 27 .8 33.5 .7 27.1 .8 10.3 .7-10.4 .8-27.3 .7-33.9" stroke="#00a800" stroke-width="3.7" fill="none" stroke-linejoin="round" stroke-dasharray="5.5 4.4"/>
<path d="M930.9 2163.0v-6.8M930.9 1814.0v6.8M958.0 2163.0v-4.2M958.0 1814.0v4.2M985.1 2163.0v-4.2M985.1 1814.0v4.2M1012.3 2163.0v-4.2M1012.3 1814.0v4.2M1039.4 2163.0v-6.8M1039.4 1814.0v6.8M1066.5 2163.0v-4.2M1066.5 1814.0v4.2M1093.6 2163.0v-4.2M1093.6 1814.0v4.2M1120.7 2163.0v-4.2M1120.7 1814.0v4.2M1147.9 2163.0v-6.8M1147.9 1814.0v6.8M1175.0 2163.0v-4.2M1175.0 1814.0v4.2M1202.1 2163.0v-4.2M1202.1 1814.0v4.2M1229.2 2163.0v-4.2M1229.2 1814.0v4.2M1256.3 2163.0v-6.8M1256.3 1814.0v6.8M1283.5 2163.0v-4.2M1283.5 1814.0v4.2M1310.6 2163.0v-4.2M1310.6 1814.0v4.2M1337.7 2163.0v-4.2M1337.7 1814.0v4.2M1364.8 2163.0v-6.8M1364.8 1814.0v6.8M1391.9 2163.0v-4.2M1391.9 1814.0v4.2M1419.1 2163.0v-4.2M1419.1 1814.0v4.2M1446.2 2163.0v-4.2M1446.2 1814.0v4.2M1473.3 2163.0v-6.8M1473.3 1814.0v6.8M919.0 2160.1h4.2M1484.8 2160.1h-4.2M919.0 2148.4h4.2M1484.8 2148.4h-4.2M919.0 2136.6h4.2M1484.8 2136.6h-4.2M919.0 2124.9h4.2M1484.8 2124.9h-4.2M919.0 2113.1h6.8M1484.8 2113.1h-6.8M919.0 2101.3h4.2M1484.8 2101.3h-4.2M919.0 2089.6h4.2M1484.8 2089.6h-4.2M919.0 2077.8h4.2M1484.8 2077.8h-4.2M919.0 2066.1h4.2M1484.8 2066.1h-4.2M919.0 2054.3h6.8M1484.8 2054.3h-6.8M919.0 2042.5h4.2M1484.8 2042.5h-4.2M919.0 2030.8h4.2M1484.8 2030.8h-4.2M919.0 2019.0h4.2M1484.8 2019.0h-4.2M919.0 2007.3h4.2M1484.8 2007.3h-4.2M919.0 1995.5h6.8M1484.8 1995.5h-6.8M919.0 1983.7h4.2M1484.8 1983.7h-4.2M919.0 1972.0h4.2M1484.8 1972.0h-4.2M919.0 1960.2h4.2M1484.8 1960.2h-4.2M919.0 1948.5h4.2M1484.8 1948.5h-4.2M919.0 1936.7h6.8M1484.8 1936.7h-6.8M919.0 1924.9h4.2M1484.8 1924.9h-4.2M919.0 1913.2h4.2M1484.8 1913.2h-4.2M919.0 1901.4h4.2M1484.8 1901.4h-4.2M919.0 1889.7h4.2M1484.8 1889.7h-4.2M919.0 1877.9h6.8M1484.8 1877.9h-6.8M919.0 1866.1h4.2M1484.8 1866.1h-4.2M919.0 1854.4h4.2M1484.8 1854.4h-4.2M919.0 1842.6h4.2M1484.8 1842.6h-4.2M919.0 1830.9h4.2M1484.8 1830.9h-4.2M919.0 1819.1h6.8M1484.8 1819.1h-6.8" stroke="#000" stroke-width="1.3" fill="none"/>
<rect x="919.0" y="1814.0" width="565.8" height="349.0" stroke="#000" stroke-width="1.6" fill="none"/>
<g font-family='"Liberation Sans", sans-serif' font-size="36.43"><text x="905.7" y="1828.9" text-anchor="end">10</text><text x="905.7" y="1887.7" text-anchor="end">5</text><text x="905.7" y="1946.5" text-anchor="end">0</text><text x="905.7" y="2005.3" text-anchor="end">−5</text><text x="905.7" y="2064.1" text-anchor="end">−10</text><text x="905.7" y="2122.9" text-anchor="end">−15</text><text x="930.9" y="2203.8" text-anchor="middle">0</text><text x="1039.4" y="2203.8" text-anchor="middle">2</text><text x="1147.9" y="2203.8" text-anchor="middle">4</text><text x="1256.3" y="2203.8" text-anchor="middle">6</text><text x="1364.8" y="2203.8" text-anchor="middle">8</text><text x="1473.3" y="2203.8" text-anchor="middle">10</text></g>
<path d="M981.0 1868.3H1019.4" stroke="#ff0000" stroke-width="3.7"/>
<text x="1030.2" y="1874.0" font-size="35.64"><tspan font-family='"Liberation Sans", sans-serif' font-style="italic">i</tspan><tspan font-family='"Liberation Serif", serif' dx="2.0">=5 deg</tspan></text>
<path d="M943.8 2045.0H1018.8" stroke="#0000ff" stroke-width="3.7" stroke-dasharray="11.5 4.4"/>
<text x="1030.0" y="2050.7" font-size="35.64"><tspan font-family='"Liberation Sans", sans-serif' font-style="italic">i</tspan><tspan font-family='"Liberation Serif", serif' dx="2.0">=50 deg</tspan></text>
<path d="M943.8 2095.4H1016.8" stroke="#ff8000" stroke-width="3.7" stroke-dasharray="5.5 4.5 11 4.9"/>
<text x="1030.0" y="2101.1" font-size="35.64"><tspan font-family='"Liberation Sans", sans-serif' font-style="italic">i</tspan><tspan font-family='"Liberation Serif", serif' dx="2.0">=95 deg</tspan></text>
<path d="M943.8 2145.5H1018.8" stroke="#00a800" stroke-width="3.7" stroke-dasharray="5.5 4.4"/>
<text x="1030.0" y="2151.2" font-size="35.64"><tspan font-family='"Liberation Sans", sans-serif' font-style="italic">i</tspan><tspan font-family='"Liberation Serif", serif' dx="2.0">=140 deg</tspan></text>
<text x="915.8" y="1779.9" font-family='"Liberation Serif", serif' font-size="36.58">Be star−pulsar</text>
<text x="1156.5" y="1779.9" font-family='"Liberation Sans", sans-serif' font-style="italic" font-size="36.97">GS</text>
<text x="1212.1" y="1779.9" font-family='"Liberation Sans", sans-serif' font-style="italic" font-size="36.00">ε</text>
<text x="1227.7" y="1761.8" font-family='"Liberation Sans", sans-serif' font-size="25.78">2</text>
<text x="1241.8" y="1779.9" font-family='"Liberation Sans", sans-serif' font-style="italic" font-size="37.46">c</text>
<text x="1262.7" y="1761.8" font-family='"Liberation Sans", sans-serif' font-size="26.76">−2</text>
<text x="1316.7" y="1779.9" font-family='"Liberation Serif", serif' font-size="36.39">timing shift</text>
<text x="1163.4" y="2253.0" font-family='"Liberation Sans", sans-serif' font-style="italic" font-size="38.5">t</text><text x="1188.5" y="2253.0" font-family='"Liberation Serif", serif' font-size="35.2">(yr)</text>
<text transform="translate(815.0 1989.3) rotate(-90)" text-anchor="middle" font-family='"Liberation Serif", serif' font-size="38.36">Δ(<tspan font-style="italic">δτ</tspan>) (<tspan font-style="italic">μ</tspan>s)</text>
</svg></body></html>
